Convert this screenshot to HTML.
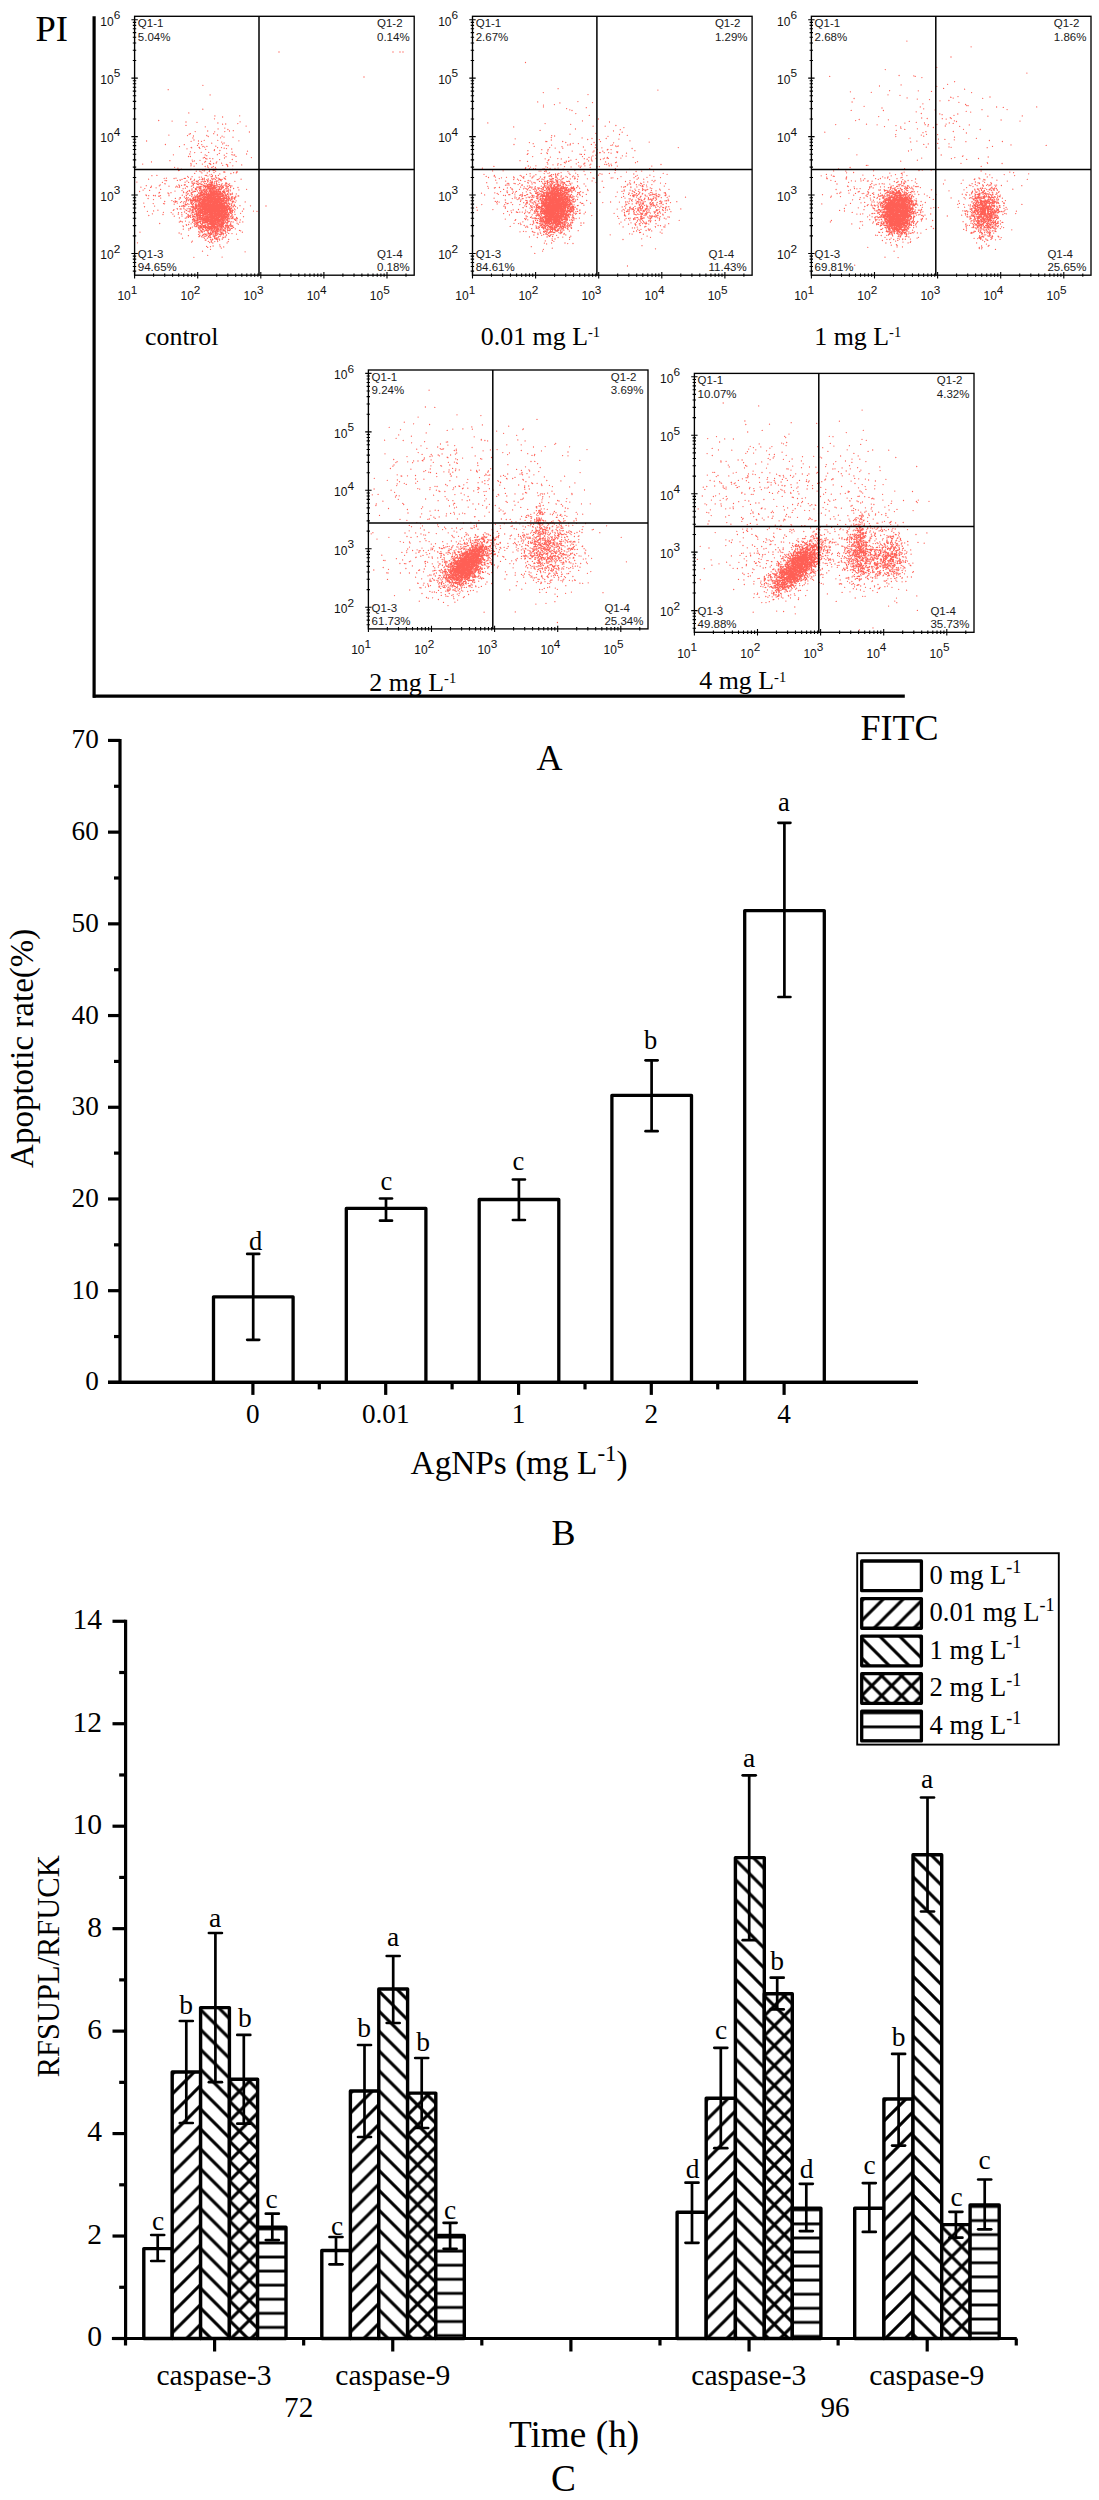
<!DOCTYPE html>
<html><head><meta charset="utf-8"><title>Figure</title>
<style>
html,body{margin:0;padding:0;background:#fff;}
body{width:1099px;height:2500px;overflow:hidden;font-family:"Liberation Serif",serif;}
svg{display:block;}
.se{font-family:"Liberation Serif",serif;}
.sa{font-family:"Liberation Sans",sans-serif;}
</style></head><body>
<svg width="1099" height="2500" viewBox="0 0 1099 2500">
<rect width="1099" height="2500" fill="#fff"/>
<g>
<path d="M279 52h0m114 0h0m7 0h0m3 0h0m-39 25h0m-161.1 8.3h0m-34.7 4.4h0m41.9 5.2h0m-7.3 14.3h0m-14 3.7h0m26.1 3h0m24.8-.1h0m-17.1 1.2h0m-8.1 1.8h0m-55.8 1.7h0m13.4 .6h0m68 .7h0m-54.1 .2h0m11 .3h0m20.9 .7h0m7.8 1h0m12.1-.4h0m-15.2 .6h0m-36.6 1.2h0m19.3 1.4h0m40.8-.7h0m-28 2.8h0m6.7-.8h0m3.1 1.4h0m-20.2 1.5h0m25.6-.3h0m-38.1 .9h0m19.5 .2h0m10.1-.2h0m4.7-.6h0m19.9 1h0m-59 1.7h0m23.3 0h0m-24.5 .5h0m28.2 .8h0m-48.5 .1h0m18.6 .5h0m19.3-.1h0m-13.3 .5h0m14.7 .5h0m13.9-.3h0m-29.2 1.7h0m27.7-.1h0m3.4-.7h0m9 .1h0m-86.4 3.8h0m47.4-1h0m4.5 1h0m5.7-.7h0m13.6 0h0m21.1 .5h0m-47.8 .5h0m10.4 0h0m20.2 .8h0m2.4 .9h0m-25.6 .7h0m13.2-.5h0m10.9 .7h0m-57.2 .6h0m18.9 .2h0m17.5 0h0m-4.3 .7h0m28.7-.1h0m2 .4h0m-48.7 .9h0m23.3 0h0m.4-.3h0m3.7 .1h0m8.9-.2h0m-24.6 1.2h0m.5 .4h0m7.3-.5h0m.3 0h0m5.4-.2h0m12.9 .6h0m3.9-.1h0m-34.5 1.2h0m12.8-.5h0m24.4-.1h0m2.3 .4h0m-20.8 .7h0m8.8 .4h0m17.2-.7h0m-17.4 1.5h0m5.6 0h0m-29.5 1.3h0m57.1-.6h0m-52.8 1.4h0m6.5-.3h0m7.5 .1h0m23.5-.2h0m-42.4 1.8h0m29.5-.6h0m7.5-.1h0m19.8 .7h0m-73.2 .8h0m31.8 .1h0m12.2-.2h0m14.5-.1h0m-25.1 1.1h0m17.5-.5h0m8.8-.1h0m1.5-.1h0m-46.1 1.5h0m1.9 0h0m35.6 .2h0m10-.3h0m-32.7 1.5h0m1.2-.5h0m46.9 .2h0m-45.7 .9h0m4.2-.1h0m2.9 .3h0m11.7-.7h0m-17.6 1h0m12.7 .6h0m12.7-.1h0m-62.4 1.2h0m22.3-.6h0m2.2 .8h0m5.6-.6h0m-48.5 1.6h0m41.3-.3h0m12.8-.3h0m4.9-.1h0m6.3 .6h0m19.4-.2h0m-31.5 .6h0m25.4 .4h0m-39.2 .9h0m5.5 .1h0m12.9-.1h0m.8 .1h0m3.5-.1h0m2.6-.5h0m5.4 .2h0m-78.9 .9h0m48.5 .7h0m11.2-.7h0m8.3 .3h0m15.7 .1h0m1.2 .5h0m14.1-.1h0m-50.8 .9h0m16.7 .2h0m15.1-.7h0m4.8 .5h0m5.3 0h0m-38.7 .4h0m11.1 .3h0m8.1 0h0m14.5 .1h0m-53.2 .7h0m33.5 .1h0m3.7 0h0m.2 .1h0m3.4 0h0m-37.5 .7h0m38.1 .8h0m-34.7 .2h0m9.6 .3h0m14.6 0h0m3.5-.4h0m5 0h0m18.5 .4h0m-54 1.1h0m.7-.3h0m23.3-.2h0m1.6 .2h0m.1 .6h0m5.4-.7h0m3.5 .4h0m1.1-.2h0m-17.9 .8h0m3.4-.1h0m1.2 .7h0m8.4-.3h0m6.3-.3h0m9.1 .8h0m12.3-.6h0m-35.1 1.5h0m5.4 0h0m6.7-.4h0m9.8-.5h0m1 .2h0m8.8 .5h0m2.7 .2h0m.6-.5h0m-42.2 1h0m25.1 .5h0m11.1-.4h0m-21 1.3h0m1.8-.5h0m-59.8 1.4h0m5-.3h0m48.3-.1h0m1.2 .2h0m6.1 .2h0m3.1-.1h0m2.8-.2h0m-30.8 .9h0m4.5 .4h0m15.8-.6h0m3.2 .6h0m1.1-.2h0m3.5 .5h0m10-.4h0m-37.3 .7h0m10.8-.1h0m2.2-.1h0m22.7 .8h0m-59.9 .4h0m2.2-.1h0m7.7 .3h0m1.9-.3h0m8.2 .2h0m1.1 0h0m5.6-.1h0m11.8 .1h0m1.7-.3h0m0 .2h0m7.4 .2h0m2.3 0h0m2.5-.5h0m1.6 .1h0m1.1 .6h0m5.3 0h0m.4 0h0m-76.4 .5h0m31.4 .7h0m2-.5h0m8.7 .1h0m3.8-.2h0m5.3 0h0m2.2 .1h0m.7 0h0m1.6 .3h0m2.5 0h0m1.4-.6h0m0-.1h0m.3 .1h0m3.7 .8h0m.9-.8h0m2.2 .4h0m3.5 .5h0m1-.7h0m.6 .3h0m.5-.1h0m1.3-.2h0m3.4-.1h0m15.5 0h0m-76 1.3h0m1.5 .2h0m10.8-.3h0m3-.2h0m6.6 .8h0m7.1-.5h0m4.2 .2h0m9.2-.1h0m.7 .4h0m2.1-.6h0m6.9 .5h0m3.6-.4h0m.6 .3h0m-29.3 .7h0m4.2 .2h0m.5-.5h0m.9 .1h0m3.5 .7h0m1.1-.8h0m2.1-.1h0m1.1 .4h0m2.3 .2h0m3.1 .1h0m.4 0h0m1.1 .1h0m0-.3h0m2.7-.3h0m1.6-.3h0m0 .5h0m0 0h0m18.2-.2h0m-98 .8h0m25.5 .2h0m22.7-.1h0m3.5 .2h0m3.4-.2h0m6 .5h0m5.7-.7h0m4 0h0m2.4 .7h0m.1-.6h0m1.2 .5h0m1.2 .1h0m1.9-.6h0m1.9 .7h0m2.5-.6h0m7.1 .5h0m-61.1 1h0m.3 .1h0m27-.3h0m1.8-.5h0m.8 .3h0m1.9 .4h0m2.3 .1h0m1.1-.3h0m4.6-.1h0m1.7 .3h0m2.6 .2h0m2.1-.3h0m.7 .4h0m.1-.6h0m2.4 .3h0m2.1-.5h0m.2 .3h0m5.5 .1h0m3.6-.2h0m.3 .4h0m.9-.5h0m2.7 .5h0m-69.4 1.1h0m18.6 0h0m5.9-.2h0m.6 .1h0m8.1-.7h0m0 .6h0m4.2-.3h0m.9 .3h0m2.6-.3h0m.8-.2h0m.1 .6h0m.3 0h0m4.9 .1h0m.3-.3h0m.4 .4h0m.8-.4h0m1-.1h0m.8-.1h0m.9-.1h0m.6-.3h0m.4 .6h0m1.6 .4h0m2.4-.2h0m2.6-.4h0m.7 .2h0m2-.3h0m4.2 0h0m2.4 .1h0m-82 1.3h0m13 .1h0m20.2 0h0m2.1-.5h0m2.7-.3h0m8.6 .7h0m10.8-.5h0m0 .2h0m1.3-.2h0m.3 .6h0m1.7 .2h0m.6-.4h0m.3-.2h0m1.5-.3h0m1.2 .6h0m.1-.5h0m.2 .4h0m.9-.1h0m0 .2h0m.6 0h0m1 0h0m1-.2h0m.3 .4h0m1.1-.6h0m.1 .7h0m.2 0h0m1.3-1h0m3.4 .9h0m.9-.3h0m.1-.3h0m1.5 .6h0m1.5-.8h0m1.8 .7h0m.3 .1h0m2.6-.5h0m2.4 .5h0m-80.4 .2h0m17.5 .1h0m7.5-.1h0m1.1 .8h0m2 0h0m7.1-.6h0m.8 .5h0m3.9-.6h0m8.6 .2h0m.1 .3h0m.8-.2h0m.4 .2h0m1.8-.4h0m1.5 .1h0m.3-.2h0m.2 .5h0m1.2-.2h0m.9 .3h0m.8-.7h0m.4 .7h0m.5-.4h0m.4 .1h0m.4 .4h0m.5-.5h0m.7-.3h0m.7 .2h0m1.6 .6h0m.5-.4h0m.7 0h0m0 .4h0m0 0h0m3.3-.1h0m.3-.3h0m1.2 0h0m1.5 .2h0m1.6 .1h0m.6-.4h0m2.9-.4h0m1.6 .8h0m1.1-.5h0m2.1-.3h0m-89.7 1.2h0m9.7 .2h0m.4-.2h0m5.1 .6h0m19.6-.7h0m3.5 .2h0m14.4 0h0m3.4-.3h0m.9 .1h0m.9-.1h0m1 .6h0m1-.5h0m2.6 .7h0m2-.1h0m.7-.6h0m1.5 .8h0m.2-.1h0m.3-.1h0m.7-.5h0m.6 .1h0m1.3 .6h0m.3-.5h0m.2-.3h0m0 .1h0m1.6 .2h0m.2 .3h0m.6 .2h0m.2-.3h0m.5 .4h0m1.4-.5h0m.7-.2h0m2.9 .3h0m2.1 .3h0m.3 0h0m1.7-.4h0m3.5-.3h0m3.7 .3h0m7.4 0h0m-93.2 1.1h0m38.3 .1h0m2.3-.5h0m10 .5h0m.8-.5h0m.4 0h0m2.4 .8h0m.6-.7h0m.9 .4h0m.5-.4h0m4 .6h0m2.9-.5h0m.4-.1h0m.2 .1h0m.4 0h0m.3-.2h0m.6 .2h0m.3 .4h0m.3 .1h0m.4-.7h0m.6 .4h0m.8-.6h0m.4 0h0m.4 .9h0m.3-.1h0m1.6-.6h0m.4 0h0m.2 0h0m.2 .8h0m3.2-.9h0m.5 .8h0m.4-.9h0m1.9 .5h0m.6-.4h0m3.5 .4h0m.4-.1h0m1.7-.2h0m5.7 .3h0m-73 .9h0m31.4-.4h0m3.5 .6h0m1.1 .1h0m4.3-.2h0m2.2 .2h0m0 0h0m.6 .2h0m.9-.4h0m.1-.4h0m1.6 .6h0m.2-.5h0m.6 .3h0m1.4-.5h0m1.1 .7h0m1 .2h0m.2-.3h0m1.5 0h0m.2-.6h0m.4 .4h0m1.5-.2h0m0 0h0m1.6-.1h0m.3 .9h0m.4-.7h0m.7-.1h0m0-.1h0m.8 .4h0m.9 0h0m1.1-.4h0m.5 .7h0m.6-.2h0m3.1 .2h0m1.8 .2h0m2.1-.9h0m1.8 .7h0m8.8 .1h0m7.7-.6h0m-103.5 .8h0m6.5 .3h0m32.4 .2h0m7 .2h0m.4-.4h0m2.5-.2h0m7.7 .7h0m.1-.4h0m1.3 .5h0m.2-.6h0m.1-.3h0m1.5 .6h0m.5-.3h0m1.8 .6h0m1-.7h0m.5 .1h0m2.6-.1h0m.2 .1h0m.2-.2h0m.7 0h0m.1 .1h0m.3 .3h0m.6-.4h0m1.1-.1h0m.2 .2h0m.6-.1h0m1.2 .5h0m1.1 .1h0m.8-.5h0m1.6 .4h0m.4-.2h0m.2-.2h0m.1-.1h0m5.3 0h0m3.9 .3h0m.5-.1h0m2.1 .4h0m-90.8 .7h0m35.4-.4h0m12.4 .4h0m2.3-.3h0m3.4 .8h0m.9-.8h0m.5 .3h0m1-.1h0m1.9-.4h0m4.2 .1h0m.3 .2h0m.1 .3h0m2.2-.1h0m.4-.3h0m.4 .4h0m.3-.5h0m.5 .8h0m.9-.1h0m.2-.2h0m.9-.5h0m1.4 .6h0m.3-.1h0m.7 .2h0m.1-.6h0m.9 .5h0m.2-.3h0m.8 .4h0m.1-.5h0m.1 0h0m.9-.1h0m.4 .5h0m.2-.4h0m.2-.2h0m0 .5h0m.8 .1h0m1.3-.3h0m.5 .5h0m.4-.7h0m1 .6h0m.2 0h0m.4 .1h0m.4-.8h0m.1 .9h0m.5-.5h0m.7-.1h0m2.1 .1h0m1-.3h0m.5 .6h0m.8-.5h0m2 .1h0m1.4 .1h0m-69.2 1.5h0m.6-.6h0m11.4 .3h0m12.5-.7h0m.2 .5h0m2.5 .4h0m.3 0h0m.2-.1h0m4.5 .1h0m.1-.3h0m1.2-.4h0m5.9 .8h0m1.7 0h0m.8-.5h0m.3 .2h0m.1-.4h0m.3 .6h0m.5-.3h0m.5-.4h0m2.7 0h0m.8 .7h0m0-.1h0m.6 .1h0m1.6-.1h0m.5 0h0m1.5 .1h0m.7-.6h0m.4 .3h0m.2-.2h0m1.1 .1h0m0 0h0m0 .2h0m.8-.3h0m.8-.1h0m.2 .6h0m1 0h0m.5-.7h0m.4 .1h0m.3 .7h0m.6-.3h0m1.9 .3h0m0-.6h0m.1 .4h0m1.2-.1h0m.2 .1h0m.3-.3h0m2.1 0h0m.2 0h0m.3-.1h0m.8-.1h0m.6 .6h0m0-.6h0m3.7-.1h0m-60.7 .8h0m.9 .9h0m19.3-.3h0m10.7-.6h0m.2 .2h0m1.8 .6h0m2-.7h0m.8 .1h0m.1 .4h0m.1-.5h0m.5 0h0m.1 .6h0m.3-.2h0m1.7 0h0m.2 .4h0m.1-.1h0m1.3 0h0m.1-.4h0m.4-.3h0m.6 .8h0m1.2 0h0m.2-.2h0m.1-.7h0m.6 .6h0m0 .3h0m.7-.6h0m.2-.3h0m.6 1h0m.1 0h0m.4-.3h0m.3-.4h0m.4 .5h0m.7-.5h0m0 .1h0m.3 .5h0m.3-.4h0m.2 0h0m.4 .2h0m.5-.1h0m.3 .2h0m0 .1h0m.4-.5h0m.4-.2h0m.1 .4h0m.4 .1h0m.2-.2h0m1.7 0h0m.1 .4h0m1.5-.1h0m.6-.3h0m.1 .1h0m.5-.2h0m2-.2h0m.4 .7h0m2.8-.4h0m2.2 .2h0m2.3-.6h0m3.9 .8h0m-90.3 1h0m41.6-.7h0m3.8-.2h0m.9 .3h0m5 .4h0m.3 0h0m2.5-.3h0m1.5-.1h0m.3 .3h0m.3 .1h0m.1-.1h0m.6-.3h0m.7-.2h0m.3 .3h0m.1 0h0m.1 .3h0m.7-.2h0m1.1-.2h0m0 .2h0m.5 .5h0m.1-.8h0m1 .1h0m.4 .4h0m.2-.4h0m.4-.1h0m.4 .2h0m.2 .4h0m.8 .2h0m.1-.4h0m.8 .3h0m.1-.7h0m0 .5h0m.2 .2h0m0 0h0m.3-.7h0m.8 .5h0m0-.6h0m.6 .8h0m.5-.7h0m.2 .1h0m.4-.1h0m.1 .4h0m.8-.1h0m.9 .2h0m0-.1h0m.1-.1h0m.8 .3h0m.1-.3h0m.1 .1h0m.6-.3h0m.3 .3h0m.1 0h0m.8-.3h0m.7 0h0m.5 0h0m1.1 .5h0m0-.7h0m1 .1h0m1.1 .1h0m.4 .7h0m.1-.1h0m1.6-.7h0m.5 .5h0m1.6-.6h0m.3 .3h0m2.7 .5h0m.2-.4h0m.9-.4h0m1.2 0h0m-86.1 1.4h0m2.3 .2h0m4.8-.2h0m1.7-.1h0m.1 .4h0m5.2-.2h0m8.5 .1h0m13.3-.5h0m3.8-.1h0m.3 .4h0m3.4-.1h0m2.4-.3h0m2.6 .1h0m1.8 .7h0m2.9-.4h0m.2-.2h0m.2-.1h0m.4 .5h0m.5-.3h0m.1 .3h0m.7-.6h0m.4 .2h0m.3-.1h0m.2-.2h0m.2 .3h0m1.4 .5h0m0-.6h0m.1 .1h0m2.8 .2h0m1.3-.3h0m.3 .8h0m.1-.6h0m.8-.3h0m.1 .2h0m.3 .2h0m.1 0h0m.1 .4h0m.5-.6h0m.7 .4h0m.1-.6h0m.1 0h0m.8 .5h0m.5 .4h0m0-.9h0m.4 .3h0m.3 .3h0m.2-.2h0m1.2 0h0m.2 .4h0m.4-.9h0m1.3 .6h0m.7-.5h0m.1 .7h0m.2-.8h0m1.1 .2h0m0 .4h0m.4-.1h0m1.3 .3h0m.1 .2h0m.1-.4h0m.2-.1h0m.1 .2h0m1.2-.4h0m.5 .4h0m.8-.7h0m0 .1h0m.1 .3h0m1.5 0h0m1.1-.2h0m.1 .3h0m.1 .2h0m1.8-.7h0m9.8 1h0m.6-.1h0m-80 .3h0m.7 0h0m32.4 .3h0m3 .5h0m.8-.4h0m1.2-.4h0m.3-.1h0m0 .2h0m.9-.2h0m.2-.1h0m0 .2h0m1 .8h0m.7-.8h0m1.3 .7h0m1.7-.5h0m.3 .6h0m.4-.8h0m.9 .7h0m.7-.8h0m.6 0h0m1 .6h0m.3-.2h0m.3-.4h0m1 .3h0m.1-.2h0m.4-.2h0m.8 .4h0m.2 .3h0m0 .1h0m.4-.2h0m.8-.4h0m.2 .4h0m.3-.2h0m1.3 .2h0m0 0h0m.1-.2h0m.9 .3h0m.6 .3h0m0 0h0m.2-.5h0m.6 .5h0m.8-.2h0m.1-.3h0m.1 0h0m1.1 .1h0m.3 0h0m0 .3h0m.8-.5h0m.7-.1h0m.4 .6h0m.4-.4h0m.5 .1h0m.5-.5h0m.1 .5h0m.3-.2h0m1.1 .1h0m.5-.4h0m0 0h0m.8-.1h0m.5 .9h0m.8 .1h0m.7-.1h0m1.1-.1h0m1.2-.2h0m0 .1h0m0-.3h0m3.8 .2h0m3.9 .3h0m0-.8h0m-55.8 1.6h0m.3-.1h0m.1 .4h0m4-1h0m2.2 .3h0m1.6 .4h0m5.4-.4h0m.1-.1h0m1.3 .1h0m.8 .4h0m.4 .1h0m1 0h0m.3-.7h0m1.2 .6h0m.2-.7h0m1.4 .1h0m2.3 .3h0m.1 .2h0m.4-.6h0m1.3 .7h0m.1 .3h0m.7-.1h0m.2-.9h0m.8 .7h0m0-.2h0m.2 0h0m1.1-.2h0m0-.1h0m.2 .6h0m.4-.2h0m0-.3h0m.2 .2h0m1 .2h0m.2 0h0m.5-.6h0m.2 .9h0m.3-.4h0m.5 .2h0m.2 .2h0m.1 0h0m.9-.3h0m.2-.3h0m.1 .4h0m1-.4h0m.2 .1h0m.1 .2h0m.6-.6h0m.2 .2h0m0 .4h0m1-.6h0m0 .8h0m.4-.4h0m0 0h0m1.2 .4h0m.6-.4h0m.1-.5h0m.6 .4h0m.1-.3h0m.2 .8h0m.8-.6h0m.2-.2h0m.1 0h0m.1 .6h0m.6-.4h0m.1-.3h0m2.5 .7h0m.6 .1h0m.5-.1h0m2.1 0h0m.1-.2h0m.1 .2h0m2-.4h0m0 .4h0m.1-.1h0m.4-.6h0m2.3 .6h0m1.4-.6h0m1.7 .9h0m.3-.6h0m.2 .7h0m-86.9 .5h0m12.6-.4h0m14.7 .3h0m10.1-.1h0m1.5 .1h0m3.1 .3h0m2.5-.5h0m.9-.2h0m2 .9h0m2.4-.2h0m.3-.6h0m1.1 .5h0m1.2 .4h0m0-.7h0m0 .6h0m.8 0h0m.4 0h0m.1-.8h0m.2 0h0m1.4 .1h0m.1 .3h0m.4 .1h0m.5-.1h0m.7-.4h0m.2 .1h0m1.3 0h0m.2 .6h0m0-.8h0m.8 .9h0m.1 0h0m.2-.2h0m.7 0h0m.2 .2h0m.2-.4h0m.5 .3h0m.1-.3h0m.3-.1h0m.6 .3h0m.3-.5h0m.2 .5h0m.7-.5h0m0 .2h0m.3-.3h0m.4 .9h0m.5-.7h0m.1-.1h0m.1 .7h0m.1-.5h0m.7 .4h0m.4-.3h0m.4-.3h0m.4 .5h0m.5-.6h0m.1 .1h0m.6 .7h0m.1 0h0m.4-.8h0m.4 .7h0m.2-.8h0m.5 .5h0m.5 .2h0m.1-.3h0m.4 .1h0m.2 .1h0m.3-.5h0m.4 .3h0m.4-.4h0m.1 .2h0m0 .4h0m.7 .1h0m.2 0h0m.5-.1h0m.4-.1h0m.5 .1h0m.4-.4h0m.3 .5h0m.6-.6h0m.3 .6h0m.5-.1h0m.2-.3h0m.6 .4h0m.8 .1h0m.3 0h0m1.3-.3h0m1.2 .5h0m.1 0h0m.7-.7h0m1.7 .3h0m1.3-.4h0m1.5 .4h0m-80.9 1h0m25.7-.5h0m7.3 .8h0m.3-.4h0m3 .1h0m.5 .4h0m1-.2h0m1.8-.6h0m.7 .7h0m.5-.8h0m.4 .1h0m0 .4h0m.4-.2h0m1.8 .4h0m.5-.4h0m.2 .4h0m1.4-.5h0m.5 .4h0m1.1 0h0m.2-.4h0m.7 .3h0m.7 .4h0m.2-.4h0m.6 0h0m.7-.3h0m.1-.1h0m.4 .8h0m.3-.2h0m.1-.8h0m.9 .3h0m.1 .6h0m.3-.3h0m.8 .3h0m.1-.3h0m.3-.2h0m.4 .5h0m.1 .1h0m.6-.7h0m.1 .4h0m.3-.6h0m.5-.1h0m.6 .1h0m.2 .4h0m.2-.4h0m.4 .6h0m.1-.6h0m.7 0h0m0 .6h0m.5-.2h0m.4 .2h0m.1 0h0m.1 .2h0m.8-.5h0m.2-.4h0m.2 .5h0m.8 0h0m.2 .2h0m.1-.1h0m.7-.3h0m.4-.3h0m.1 .5h0m.2 0h0m.1 0h0m.4-.1h0m.5 .3h0m.3-.2h0m1 .4h0m.1-.4h0m.2 .5h0m.4-.9h0m.2 .3h0m.3 .5h0m.7-.7h0m0 .6h0m1-.4h0m0 .2h0m1.3-.5h0m.9 .1h0m.1-.1h0m.5 .7h0m.1-.1h0m.2-.6h0m2.6 .2h0m1.8 .7h0m0-.6h0m1.6 .6h0m1.3-.6h0m.3-.2h0m2.7 .1h0m-62.8 1.3h0m3.3 .2h0m11.1 .2h0m2-.3h0m0-.7h0m2.1 .8h0m.3-.4h0m1 .2h0m0-.1h0m.6 .5h0m.3-.8h0m.2 .6h0m.7 0h0m.8-.3h0m.6 0h0m.5 .4h0m.5-.8h0m0 .6h0m.2-.6h0m1.2 .6h0m1.2 0h0m.3-.1h0m0-.2h0m.5 .2h0m.2 .4h0m.4-.5h0m.1-.5h0m.1 .2h0m.4-.1h0m2 .5h0m0-.3h0m.1 .2h0m.6-.3h0m.1 .7h0m.7-.8h0m.5 .3h0m0 .3h0m.7-.4h0m.2 .4h0m.3-.4h0m.7 .7h0m.2-.5h0m.3 .5h0m.3-.1h0m.2-.6h0m0 .5h0m1.1-.3h0m.2 .4h0m0 0h0m.9-.6h0m0 .5h0m.2-.5h0m.7-.2h0m.1 .6h0m.3 .1h0m.2-.3h0m.3 .1h0m.3 .1h0m.5 0h0m.1 .3h0m.7-.3h0m.2-.1h0m.6-.2h0m.1-.2h0m.1-.2h0m.3 .5h0m.2-.3h0m1-.1h0m.2 .2h0m0 .2h0m.4-.1h0m.2 .1h0m.4-.1h0m.3 .3h0m0 .1h0m.7-.1h0m.7 .2h0m.6-.7h0m.8 .1h0m.4-.1h0m0 0h0m.4 .6h0m.9-.7h0m0 .4h0m.3 .4h0m.8-.5h0m.4-.2h0m0 .6h0m0-.4h0m1.1 .1h0m.4 .3h0m1-.1h0m1.1-.5h0m1.2 0h0m.5-.1h0m.2 .3h0m.3 .2h0m2 .1h0m5.3 .1h0m-71.4 .7h0m9 .1h0m1.6-.3h0m.7 .5h0m.9-.5h0m4.7 .3h0m2.6 0h0m6.5-.3h0m1.4 .4h0m2.9-.6h0m.4 .6h0m.8 .2h0m.6-.6h0m.1-.1h0m1.4 .7h0m.8-.1h0m.3 .1h0m.2-.8h0m1.7 .1h0m.6 .6h0m.1-.3h0m.1 .4h0m.2-.3h0m.4 .1h0m.7 .2h0m.5-.5h0m.1 .3h0m.6 .2h0m.4-.6h0m0 .3h0m.4 .2h0m.2-.2h0m.4 .2h0m.2-.2h0m.8-.5h0m.2-.1h0m.6 .8h0m.2-.4h0m.1 .5h0m.6-.5h0m.2 0h0m.7 0h0m0 .5h0m.2-.7h0m.3 .6h0m.4-.2h0m.2 .2h0m.5-.5h0m.4 .2h0m.1 .1h0m.3-.3h0m.3 .2h0m.1-.4h0m.8 .7h0m.7-.7h0m.1 .3h0m.4 .3h0m0-.3h0m.3-.2h0m.5 .7h0m.2 0h0m.3-.9h0m.9 .5h0m.4 .2h0m0 .3h0m.3-.7h0m.1 .1h0m1.2 .4h0m0 0h0m.1-.5h0m.4 .2h0m.5 .5h0m.3-.5h0m.2 .5h0m.2-.7h0m.5-.1h0m.7 .4h0m.3 .4h0m0-.6h0m.5 .2h0m1 .1h0m.3-.3h0m.4-.2h0m1.9 .7h0m0-.5h0m.3-.1h0m.5-.2h0m0 .1h0m1.4 .1h0m4.1 .1h0m.6-.3h0m.6 .2h0m.4 0h0m11.4 .6h0m-70.2 .4h0m5.5 0h0m3 .6h0m2.3-.7h0m5 .7h0m.2-.6h0m.4 .6h0m.8-.2h0m2.6-.4h0m2.3-.3h0m2 .8h0m.5-.5h0m.3 .1h0m.2 .1h0m.3-.3h0m.2 .5h0m.8 0h0m.9-.3h0m.1 .1h0m.3-.3h0m.4 0h0m0 .7h0m.6-.3h0m.8-.6h0m0 1h0m.2-.7h0m.4-.2h0m.2 0h0m.6 .7h0m.8 .2h0m.1-.2h0m.2-.2h0m.8 0h0m.1 .1h0m.7-.4h0m.3 0h0m0 .2h0m.4-.1h0m.1 0h0m1-.1h0m.1-.1h0m.2 .8h0m.8-1h0m0 .9h0m.1-.2h0m1 .3h0m.2-.9h0m.1 .5h0m.5 0h0m.2 .1h0m0-.5h0m.5 .5h0m.5 0h0m0-.6h0m.6 .6h0m.5-.3h0m.6 .2h0m.3-.1h0m.3-.2h0m.1-.1h0m0 .3h0m.8 .3h0m.3-.3h0m.3-.3h0m.5-.1h0m.2 .1h0m.5-.1h0m0 .4h0m.6 .4h0m.2-.5h0m.3 .3h0m.6-.1h0m0-.3h0m.2 .5h0m.5-.3h0m0 0h0m2 .4h0m.5-.1h0m.1-.1h0m.7-.6h0m.3 .8h0m.5-.3h0m.3 0h0m2 .3h0m3.9-.8h0m.6 .5h0m2.3-.3h0m-91.4 .8h0m9.4 .5h0m10.3 0h0m1.1 .2h0m12.7-.7h0m10.4 .6h0m3.4-.2h0m2.4-.1h0m2 .4h0m2.7 .1h0m.7-.4h0m.4 .5h0m.9-.1h0m.7-.8h0m.3 .4h0m.2-.5h0m.3 .5h0m.4 0h0m.5 .3h0m.4-.2h0m.5 .3h0m.3-.6h0m.1 .6h0m.4 0h0m.3-.6h0m.2 .2h0m.6 .1h0m.1-.3h0m.3 .1h0m.3 .1h0m.2 0h0m.5 .2h0m.4-.4h0m.2 .6h0m.5-.3h0m.4-.2h0m.2 .5h0m.4-.3h0m.3 .2h0m.4-.1h0m.3 .2h0m.7-.8h0m0 0h0m0 .1h0m1 0h0m.2 .1h0m.1 .3h0m.2-.3h0m.1-.1h0m.6 .1h0m.4 .4h0m.5-.7h0m.4 .7h0m.3-.2h0m.1-.2h0m.6-.2h0m.1 .7h0m.4-.7h0m.7 .6h0m.2-.4h0m.1 .6h0m.7 0h0m.2-.7h0m.3 .8h0m1.3-.8h0m.1 .5h0m.5-.1h0m.8 0h0m.3-.6h0m.3 .6h0m.2 .3h0m.2-.6h0m.6 0h0m0 .1h0m.8 .2h0m.2-.2h0m.3 .1h0m.4 .4h0m.3-.7h0m.5 .1h0m.8-.2h0m.1 .1h0m.5 .2h0m.3-.3h0m.3 .3h0m.6-.3h0m1.5 .3h0m.3-.3h0m1 .7h0m1.8-.1h0m-57.6 .5h0m11 .6h0m.1-.8h0m.7 .5h0m.9 .3h0m2.1-.5h0m2.7-.2h0m.2-.1h0m.4 .5h0m.7 .2h0m.1 .1h0m2.1-.2h0m.7 .3h0m.4-.9h0m2.3 .5h0m.3 .2h0m.1-.5h0m.2-.1h0m.3 .8h0m.6-.2h0m1.5-.2h0m0-.4h0m.1 .3h0m.5 .3h0m.6-.2h0m.1 .1h0m1-.4h0m.4 .4h0m0 .2h0m.6-.1h0m.1-.5h0m.5 0h0m.4 .5h0m.3-.2h0m.2 .1h0m.5-.5h0m.3 .4h0m.3-.3h0m.1 .7h0m.5-.1h0m.1 0h0m.5-.1h0m.4-.6h0m.4 .8h0m.4 0h0m.3-.1h0m.3-.5h0m.2 .6h0m.7-.4h0m.3 0h0m.2 .1h0m.1 .1h0m.3-.1h0m.5-.1h0m.3-.3h0m.1 .5h0m.1 0h0m1-.6h0m0 .8h0m.7-.5h0m0-.2h0m0 .2h0m.1-.4h0m1.2 .2h0m.4 .2h0m.1 .1h0m.3 .4h0m.6-.7h0m.3 .7h0m.6-.7h0m.2 0h0m.1 0h0m.3 .6h0m.3-.8h0m.1 .8h0m.5-.2h0m.5 .3h0m0-.3h0m1.1 .4h0m0-.6h0m.1-.1h0m.2 .2h0m.3 .1h0m.3 0h0m2.1 0h0m2.1-.5h0m.1 .7h0m.6 0h0m1.7-.7h0m.5 .4h0m1.8 .4h0m2.7-.6h0m-51.4 1.7h0m.7-.6h0m9.2 .4h0m2.7-.2h0m.1-.1h0m.6-.1h0m.4 0h0m.4 .5h0m.8-.7h0m1.3 .8h0m.1-.5h0m.2 .1h0m.7 .3h0m.9-.5h0m.2 0h0m1.1-.1h0m.4 .3h0m.4-.5h0m.7 0h0m.3 .2h0m.2 0h0m.4 .3h0m.8 .2h0m0 .2h0m.4-.5h0m.8-.4h0m0 .6h0m.8 .1h0m.1-.6h0m.5-.1h0m.1 .5h0m.3-.5h0m.2 .2h0m.7 .2h0m.2 .1h0m.5-.6h0m0 .2h0m.5 .4h0m.3 0h0m.4 .1h0m.3 .2h0m.4 0h0m.4 .1h0m.1-.2h0m.4-.6h0m.7 .5h0m.2-.1h0m.2-.6h0m.7 .6h0m.3-.2h0m0 .1h0m.4 0h0m.3-.3h0m.3 .4h0m.3 0h0m.4-.6h0m.4 .3h0m.6 .1h0m0 .3h0m.1-.6h0m.5 .2h0m.3-.2h0m.5 .6h0m.1-.7h0m.3 .4h0m.5-.3h0m.3 .8h0m.1-.7h0m.5 .6h0m.7 .1h0m.5-.1h0m.1-.2h0m.4-.2h0m.3 .1h0m.3-.2h0m.3 .6h0m.1-.7h0m.8-.1h0m.3-.1h0m.3 .2h0m.5 .8h0m1.9-.6h0m.1 0h0m.3 .4h0m.8-.5h0m3 .2h0m.5 .5h0m1.8-.1h0m.8-.5h0m5.4 .3h0m10.5 .1h0m-106 .9h0m.1 .1h0m10-.7h0m25 .3h0m1.9-.2h0m2.3 .7h0m.4-.8h0m.7 .1h0m3.9 .4h0m2.2 .1h0m.7 0h0m1.2 .2h0m.2-.4h0m.5 .1h0m1.5 .4h0m0-.3h0m.7-.3h0m.8 .5h0m.4-.4h0m1.3-.1h0m.5-.3h0m.9 .5h0m0 0h0m0-.3h0m.5-.2h0m.7 .7h0m.5-.3h0m.3-.4h0m0 .7h0m.5 0h0m.6-.6h0m.2-.1h0m.4 .6h0m.3-.4h0m.5 .2h0m.3 .1h0m.2-.1h0m.6 .1h0m.1-.3h0m.2 .2h0m.8-.3h0m.2 .7h0m.3-.5h0m.3 .6h0m.1-.3h0m.2 .1h0m.7-.7h0m.2 .7h0m.2 .1h0m.4-.5h0m.2 .2h0m.2-.1h0m1 .4h0m0-.9h0m.5 .6h0m.8 0h0m0-.4h0m.1-.1h0m.4 .4h0m.5 .5h0m.3-.9h0m.3 0h0m.3 .6h0m.3-.6h0m.2 .7h0m.1 0h0m.6-.4h0m.4 .5h0m.2-.7h0m.4 .2h0m.4 0h0m.3 .3h0m.4-.3h0m.7-.2h0m.3 .1h0m.2 .6h0m.4-.2h0m.2 .3h0m.5-.1h0m.5-.6h0m0 .3h0m.6-.4h0m.4 .3h0m.1-.1h0m.3 .3h0m.3-.1h0m.5-.3h0m.1-.1h0m.2 .6h0m.1 .1h0m1-.4h0m.7 .1h0m.3-.5h0m.3 .3h0m.4 .5h0m.8-.4h0m.5-.5h0m.1 .8h0m1.2 .1h0m0-.3h0m.4-.2h0m.2 .2h0m.3 0h0m.8 .3h0m.3-.1h0m.7 0h0m2.9 .1h0m2.4-.3h0m30.4-.6h0m-73.8 1.7h0m1.5-.3h0m1.4-.2h0m1.3 .2h0m.5 .2h0m.2-.2h0m1.5 .5h0m.7-.3h0m.3 0h0m1 0h0m1.4 .2h0m.2-.4h0m.2 .3h0m.6 .1h0m.3-.8h0m.3 .1h0m.5 .4h0m.4 .2h0m.6-.3h0m.4 .6h0m.4-.1h0m.7-.8h0m.2 .2h0m.1 .2h0m.6-.5h0m.2 .2h0m.2-.1h0m.3 .7h0m.5 .1h0m.2 0h0m.6 .1h0m0-.8h0m.2 .1h0m.4 0h0m.3 0h0m.1 .1h0m.6 .5h0m.6-.8h0m.1 0h0m.2 .8h0m.3-.3h0m.3-.3h0m.5 .4h0m.1 .3h0m.6-.1h0m.2-.6h0m0-.3h0m.4 .6h0m1 .3h0m0-.3h0m.4 .4h0m.3-.8h0m.8 .1h0m0 .7h0m.2-.1h0m0-.4h0m.9-.2h0m.1 .1h0m.3 .6h0m.4-.6h0m.6 .1h0m.4 0h0m0 .1h0m.4-.4h0m.2 .5h0m.2 .1h0m.5-.7h0m.2 .7h0m.7 .2h0m.2-.4h0m.2-.6h0m.4 .7h0m.3-.3h0m0 .4h0m.3-.6h0m.7 .6h0m.1-.6h0m.8 .7h0m.9-.1h0m0 .1h0m.2-.7h0m.3 .2h0m0-.4h0m.8 .6h0m.1-.2h0m1.2-.4h0m.4 .1h0m.5 .5h0m-52.3 1h0m3.1 .3h0m3.7-.2h0m3.3 .1h0m1.8-.1h0m1.1 .3h0m3.2-.8h0m1 .6h0m.2-.3h0m.9 .1h0m.1-.5h0m.9 .2h0m.2 .1h0m.4 .4h0m.5 0h0m.9-.1h0m.1-.6h0m.1 .4h0m1-.4h0m0 .2h0m.1 .7h0m.8-.9h0m1.2 .8h0m.5-.4h0m1.2-.3h0m.1 .2h0m.2 .4h0m.6-.5h0m.6-.1h0m.4 .5h0m.4 0h0m0-.6h0m.6 .7h0m.2 .1h0m.2-.5h0m.5-.1h0m.5 0h0m.1 .4h0m.8 0h0m.2-.1h0m.2 .3h0m.4-.2h0m.3-.3h0m.4-.1h0m.2 .2h0m.1-.3h0m1 .6h0m.1-.3h0m.1 .5h0m.6-.5h0m.4 .4h0m.2-.4h0m.5 .3h0m.3 0h0m.2-.5h0m.4 .6h0m.6-.2h0m.1 0h0m.8 0h0m.1-.3h0m.2 .1h0m.6 .2h0m.2-.5h0m0-.1h0m.4 .6h0m.5-.4h0m.3 0h0m0 .1h0m.2 .4h0m.2-.1h0m.9-.6h0m.2-.1h0m.3 .3h0m.3 .3h0m.6-.6h0m.1 0h0m.3 .3h0m.2 .7h0m.1-.8h0m.6-.1h0m.8 .2h0m.1 .2h0m.4-.5h0m.1 .3h0m.7-.1h0m0 .1h0m.1 .7h0m.8-.1h0m.4 0h0m.1-.4h0m1-.2h0m.9 .7h0m1.2-.1h0m0-.3h0m.6-.1h0m.4 .1h0m.6-.3h0m.3 .3h0m.1 0h0m.8 .1h0m.3-.7h0m2.7 .8h0m3.1-.8h0m6.2 1h0m-69.8 .7h0m3.6-.7h0m3.6 0h0m4.1 .8h0m5.2-.8h0m1.8 .3h0m.8 .4h0m.4 .2h0m1.5-.6h0m.6 .3h0m2.1 .1h0m.2-.2h0m.2 .2h0m.5-.7h0m1.8 1h0m0-.5h0m.3 .2h0m.4-.4h0m1 .5h0m0-.7h0m.1 .3h0m.6 .2h0m.5-.4h0m.5 .1h0m.2 .5h0m.6-.1h0m.1-.4h0m.2 .3h0m.3 .3h0m.7-.8h0m.2 .4h0m.9 0h0m.5 .2h0m0-.5h0m.5 0h0m.3 0h0m.6 .3h0m.2-.1h0m.2-.2h0m0 .6h0m.6-.1h0m.2 .1h0m.4-.6h0m.1 .1h0m.5 .7h0m.2-.5h0m.6 .5h0m.5-.4h0m.3-.4h0m.3 .5h0m.3-.3h0m.4-.3h0m.2 .8h0m.2-.4h0m.2 0h0m.5 .1h0m.6 .2h0m.6-.3h0m.1 .1h0m0-.6h0m.5 .4h0m.2 .1h0m1 0h0m.1-.2h0m0 .5h0m.5 .2h0m.3-.4h0m0-.5h0m.6 .5h0m.1-.1h0m.3 .5h0m.5-.4h0m.8 .2h0m.5-.3h0m.1-.3h0m.5 0h0m.3 0h0m.2 .3h0m1.3 .2h0m0-.4h0m.1-.3h0m.3 .2h0m.2 .7h0m.6-.8h0m.6 .2h0m.6 .1h0m.3-.1h0m.2 .3h0m.6-.3h0m.5 .3h0m.1-.2h0m1-.2h0m.8 .5h0m.9 .2h0m4.5-.1h0m-81.5 1.1h0m4.3-.7h0m15.4 .1h0m13.3 .1h0m3.4 .5h0m.1-.8h0m1.7 .6h0m.8 0h0m.2 0h0m2.4-.6h0m.8 .7h0m.8 .1h0m.3-.2h0m1.7-.6h0m1 .4h0m.3 0h0m1 .3h0m.1-.5h0m.8 .2h0m.1 .4h0m.2 0h0m.1 0h0m.6-.7h0m1 0h0m.4-.2h0m.2 .8h0m.6-.2h0m.2 .1h0m.3-.4h0m.6 0h0m.5-.2h0m0 .7h0m.3-.7h0m.2 0h0m.1 .4h0m.8-.5h0m.1 .7h0m.4-.1h0m.3 .3h0m.2-.6h0m.4 .2h0m.8-.1h0m.1 .6h0m.1-.1h0m.4-.1h0m.2-.5h0m.4-.2h0m.7 .1h0m.3-.2h0m.3 .8h0m.2-.8h0m0 .7h0m.9-.5h0m.2 .7h0m.5-.5h0m.1 .2h0m.8-.2h0m.1-.3h0m.3 .3h0m.2 .4h0m.6-.3h0m0-.4h0m.7 .5h0m.3 .3h0m.2-.9h0m.2 .4h0m.3 .5h0m.2-.4h0m.7 .2h0m.2-.7h0m.1 .5h0m.5 .4h0m.2-.6h0m0 .3h0m1.1 .4h0m0-.2h0m.5-.1h0m.6-.1h0m.2-.3h0m.1 .2h0m.7 .1h0m.3-.1h0m.5 0h0m.8 .1h0m.3 0h0m.8 0h0m.3-.5h0m.2 .2h0m.7 0h0m2-.3h0m.1 .2h0m.5 .3h0m1.2 .4h0m1-.9h0m.8 .4h0m-85.7 .9h0m37.1 .5h0m3.7-.5h0m1.3 .5h0m3 0h0m.7 .1h0m2.1-.3h0m1-.6h0m.3 .7h0m1.7-.3h0m.1-.1h0m.4 .3h0m.3-.3h0m1.4 .2h0m.1-.3h0m1.2 .1h0m.6 .3h0m.2 .2h0m.9-.2h0m.1 .1h0m.2-.1h0m.3-.1h0m.2 .5h0m.9-.7h0m.3 .6h0m.2-.4h0m.7 .3h0m0 .2h0m.6-.4h0m.3 .4h0m.1 0h0m.6-.9h0m.6 .4h0m.2-.3h0m.1 .2h0m.4 .3h0m.2-.6h0m.1 .5h0m.9 .3h0m0-.7h0m.3-.2h0m.4 .8h0m.4-.6h0m.3 .2h0m.5-.3h0m.4 .3h0m.1 .3h0m.2 .2h0m.2 .1h0m.1-.4h0m1.1-.1h0m.3 .1h0m.1-.2h0m.1-.2h0m.7 .1h0m.1 .5h0m.7-.3h0m.4 0h0m.4 0h0m.5 .1h0m.2-.3h0m.4 0h0m.1 .1h0m.3-.2h0m.2 .5h0m.1-.7h0m.6 .7h0m1 .2h0m.3-.6h0m.2 .4h0m.7-.7h0m.3 0h0m.6 .3h0m.5-.1h0m0-.1h0m.1 .6h0m1.1-.4h0m.1-.1h0m.6 .4h0m1 .3h0m1.2-.2h0m.1-.5h0m2.3-.1h0m.8 .3h0m.3 .1h0m1.3-.4h0m.1 .5h0m.1-.5h0m2.2 .8h0m7.8-.7h0m11.1-.1h0m3.5 .2h0m-93.6 1h0m7.8 .3h0m7.3 .1h0m3.2 0h0m3-.6h0m7.5 .5h0m.6-.2h0m1.3 .4h0m2.5-.7h0m.8 .7h0m1-.2h0m.1-.4h0m.3 .5h0m.3-.6h0m0 .1h0m.6 .1h0m.7 0h0m.7 .1h0m.7-.1h0m.8 .3h0m.4-.5h0m.6 0h0m.5 0h0m.2 .7h0m.6-.1h0m.1-.6h0m.1 .6h0m.5-.6h0m.7 .5h0m.2-.3h0m.1 .1h0m.7 .6h0m.2-.7h0m.4 .2h0m.1 .1h0m.1-.5h0m.6 .9h0m.7 0h0m.4-.2h0m.2 0h0m.2 0h0m.5-.2h0m.6-.4h0m.4 .5h0m.1-.7h0m.2 1h0m.4-.5h0m.4 .5h0m.4-.9h0m.4-.1h0m.1 0h0m.6 .8h0m.1-.3h0m.4 .3h0m.7-.4h0m.3-.2h0m.2 .3h0m0-.4h0m.5-.1h0m.3 .1h0m.7 .4h0m.1 .1h0m.3-.6h0m.3 .6h0m.6-.3h0m.2 .7h0m.1-.9h0m.6 .1h0m.2 .3h0m.1 .3h0m.6-.6h0m.2-.1h0m.8 .9h0m.1-.5h0m0 .2h0m.6-.6h0m.4 .1h0m.2 .4h0m.5 .4h0m.8-.6h0m0 .5h0m1.2-.2h0m.4-.4h0m.5 .4h0m1-.6h0m2 .5h0m.8-.5h0m.8 .3h0m1.6 .2h0m-80.1 1.2h0m33.9-.4h0m4.9-.3h0m4.8 .1h0m1.1 .1h0m1.6 .2h0m.5 .1h0m.4 .2h0m.8-.1h0m.1 .2h0m.7-.6h0m1.1 .3h0m.1-.4h0m.7 .4h0m.1 .3h0m.4 .1h0m.9-.7h0m.2 .7h0m.2-.5h0m.6-.4h0m.4 .9h0m.1 0h0m.5-.4h0m.1-.5h0m.2 0h0m.5 0h0m.1 .2h0m0 .1h0m1.6-.1h0m.1 .1h0m.7-.1h0m.1 .4h0m.5 .1h0m.4-.5h0m.1-.2h0m.6 .1h0m.3-.2h0m0 .8h0m.2 0h0m.4-.6h0m0 .6h0m1.1-.1h0m.1-.1h0m.3-.2h0m.2-.1h0m.2 0h0m.4 0h0m.8 .1h0m0-.2h0m.5 .8h0m.1-.9h0m0 0h0m.4 .9h0m.7-.6h0m.2 .2h0m0-.3h0m.7 0h0m0 0h0m.8 .1h0m.2-.1h0m.8 .4h0m0-.2h0m.1-.2h0m.4 .2h0m.2 .1h0m.8-.4h0m.2 0h0m.3 .3h0m.4 .2h0m.1-.1h0m.4-.1h0m.4-.3h0m1.3 .1h0m1 0h0m0 .7h0m.2-.2h0m.5 .1h0m.2-.3h0m1.6-.6h0m.8 .3h0m1.7-.1h0m.5-.1h0m.3 .1h0m0 .2h0m9.3-.1h0m-77.6 1.2h0m9.9-.4h0m5.4 .1h0m3.6 .4h0m6.1-.2h0m.3 .5h0m4.1-.6h0m1.9 .3h0m.2-.1h0m.1-.2h0m1.3-.2h0m.1 .3h0m.3 .1h0m.6-.4h0m.1 .4h0m.4-.3h0m.6 0h0m.6 .6h0m1.1 .2h0m.3-.9h0m.1 .8h0m2.9-.1h0m.2 .1h0m.7 0h0m.4 0h0m.5-.3h0m.2 0h0m0-.2h0m.1-.4h0m.1 .7h0m.9-.1h0m.1-.6h0m.2 .2h0m.6 0h0m.6 .1h0m.7 .5h0m.1-.2h0m.2 .1h0m.6-.6h0m.7 .5h0m.1-.3h0m.6 .4h0m.2-.7h0m.3 .6h0m.3-.4h0m.1 .6h0m.7 0h0m.7-.3h0m0-.3h0m.2 .1h0m.5-.1h0m0-.1h0m.5 .1h0m.3 .5h0m.6 0h0m.4-.5h0m.2 .6h0m.2-.1h0m.3-.4h0m.3 0h0m.1 .4h0m.5-.1h0m.6 .3h0m.4-.2h0m.2-.2h0m.3-.3h0m.3-.2h0m.4 .9h0m.5-.8h0m.4 .7h0m.1 .1h0m.6-.8h0m.3 .8h0m.5-.2h0m.1-.2h0m1.2-.1h0m0-.3h0m0 .4h0m.2 .2h0m.2-.1h0m.7-.1h0m.4-.1h0m.4-.1h0m.2 .3h0m.3 .1h0m.2-.3h0m.2 .5h0m.4 0h0m.2-.8h0m.1 .6h0m.9 .3h0m.1-.4h0m.2-.4h0m.4-.2h0m.5 0h0m.1 .7h0m.5-.3h0m.1 .5h0m2.9-.5h0m2.9 .1h0m-86.2 1h0m39.4 .2h0m1.6 .1h0m1-.6h0m1.8 .6h0m.8 .2h0m2.8-.1h0m.2 .1h0m.4-.9h0m.9 .8h0m.3-.8h0m.3 .2h0m.5 .1h0m0-.2h0m.6 .3h0m.4-.3h0m.1 .8h0m.9-.6h0m.9-.1h0m.8-.2h0m.2 .3h0m.2-.3h0m.7 .7h0m0-.8h0m.1 .5h0m.4-.4h0m.2 0h0m.1-.1h0m1.4 .8h0m.3 .1h0m.1-.1h0m.7 0h0m.5 .2h0m.3-.2h0m.2-.2h0m.2-.5h0m.2-.1h0m.9 .2h0m.4-.1h0m.2 .5h0m.6-.2h0m.1 .4h0m.1-.8h0m.4 .5h0m.6-.3h0m.1 .2h0m.3 .3h0m.6-.3h0m.2-.2h0m.3 .2h0m.1 .3h0m.1-.3h0m1.1 .6h0m.2-.5h0m.3 .1h0m.1-.3h0m.5 .4h0m.4-.5h0m.2 .5h0m.4-.4h0m.3 .2h0m.2-.3h0m.2 .4h0m.5-.3h0m1 .1h0m.1 .3h0m.4-.1h0m.4 .1h0m1.4-.6h0m0 .9h0m.2-.8h0m.2-.1h0m.3 .1h0m.4 .8h0m.1-.5h0m.1 .5h0m1-.2h0m.4-.2h0m.3 0h0m.5 .3h0m0-.7h0m.6 .4h0m3.6 .2h0m3.3-.4h0m-57.7 .8h0m7.7-.1h0m5.1 .6h0m1.7-.1h0m.4-.4h0m1.1 0h0m3.1 0h0m.1 .5h0m.2-.3h0m.7 0h0m2-.3h0m1.1 .8h0m.4-.1h0m.3 .2h0m.8-.2h0m1.1-.2h0m.2-.1h0m.4 0h0m1.9-.4h0m0-.1h0m.1 .9h0m1.3-.3h0m.3 .4h0m.7-.4h0m.2-.3h0m.7 .5h0m.7 .2h0m.1-.4h0m.3-.2h0m.5 .2h0m.3-.2h0m.2 0h0m.1 .6h0m.2 0h0m.6 0h0m.5-.4h0m.3-.2h0m.2 .4h0m.2 .1h0m.1-.5h0m.6 .3h0m.8 .2h0m.1-.7h0m.3 .7h0m.2-.8h0m.4 .9h0m.3-.1h0m.5-.4h0m.5-.1h0m0 .1h0m.1-.4h0m.2 .8h0m.7 0h0m.4-.5h0m.5-.4h0m.1 .6h0m.5-.1h0m.2 .1h0m.2-.1h0m.6-.5h0m.5 .3h0m.3-.2h0m.3 .9h0m.4-.1h0m.1-.3h0m.4 .1h0m.1-.4h0m1.1-.3h0m.2 .7h0m.2-.6h0m.1 .6h0m.1-.3h0m.7-.1h0m.2 .1h0m0 .3h0m.4 .2h0m1-.5h0m.5 .6h0m0-.1h0m.3-.4h0m.1 .5h0m.3-.7h0m.9 0h0m0 .2h0m.1 .1h0m.4-.2h0m.7-.2h0m.2 .6h0m.9-.8h0m.5 .3h0m.3 .2h0m2.1 0h0m.6-.4h0m1.6 .2h0m10.5 .4h0m-64.1 1.2h0m7.3-.1h0m1.8-.4h0m2.2 0h0m1.9-.4h0m2.5 0h0m2 .2h0m2.3 .5h0m.5-.5h0m.3 .2h0m.5-.4h0m.2 .6h0m.4-.3h0m1 .6h0m1.6-.3h0m.2 .3h0m.4-.6h0m1.1 0h0m.3 .3h0m.1 .1h0m.3-.1h0m.6-.4h0m.4 .2h0m.1 .1h0m.1-.4h0m.8 .8h0m.1-.5h0m.3 .5h0m.5-.9h0m.5 .2h0m0 .1h0m.6 .5h0m.1-.1h0m0 .1h0m.6-.4h0m.5-.2h0m.3 .3h0m.5 .2h0m.5-.4h0m.1-.1h0m.1 .8h0m.1-.7h0m.5 .2h0m.5 .3h0m.1-.4h0m.3-.2h0m1.2-.1h0m.2 .6h0m0-.1h0m.6 .2h0m0 .2h0m.3-1h0m.6 .8h0m.4-.4h0m.2 0h0m.4-.2h0m.2 .3h0m.2 .1h0m.2 .1h0m.5-.5h0m0 .2h0m.6-.3h0m.5 .1h0m.8 .7h0m.4-.5h0m.9 .5h0m0-.1h0m.8-.3h0m.1-.4h0m.1 .4h0m1 .1h0m0-.5h0m.7 .3h0m.6-.3h0m0 .1h0m.6 .6h0m.3-.6h0m.3 .5h0m.2 .1h0m1.5 .1h0m2.1-.1h0m1.5-.3h0m.6 .4h0m3.5-.4h0m-51.3 .7h0m8.2 .8h0m.1-.7h0m1.5-.3h0m1.8 .5h0m.1-.4h0m1 .5h0m.1-.4h0m1.8 .4h0m.5 .4h0m.9-.9h0m.3 .8h0m1.2-.7h0m.6-.1h0m.5 .1h0m.1 0h0m.2 .1h0m.4 .1h0m.5 .3h0m.3-.2h0m0 .1h0m1.1 0h0m.7-.4h0m.5 .6h0m.1-.3h0m.4-.1h0m.5 .5h0m0 0h0m.7 .1h0m1.4-.6h0m0 .2h0m0-.2h0m.8 .6h0m.2-.2h0m0-.4h0m.3 .2h0m.6 .3h0m.4-.5h0m.3 .3h0m0-.3h0m.9 .4h0m.5-.5h0m.1-.2h0m.5 .2h0m1.1 .2h0m.1 .4h0m.3 0h0m.2-.4h0m.2-.3h0m.2-.2h0m.7 .6h0m.4-.5h0m0 .7h0m1.9 .2h0m.1-.1h0m.4-.1h0m.4-.1h0m.8-.3h0m.2 .3h0m.1 0h0m.7-.5h0m0 .4h0m.7 .1h0m.5 .1h0m.3 .1h0m.1-.6h0m.8 .3h0m0-.1h0m2.1 .2h0m.2-.5h0m.3 .4h0m1.5 .3h0m1.8-.3h0m1.3-.1h0m3 .5h0m1-.1h0m.5-.4h0m-44.8 1h0m.5-.2h0m1.5 .4h0m.3-.3h0m2.3 0h0m.7-.4h0m.2 .8h0m.6 .1h0m.6-.7h0m.1 .2h0m1.4 .2h0m1.8 .2h0m.2-.5h0m.3 0h0m0 .4h0m.6 .2h0m.3-.7h0m.1 .3h0m.3-.2h0m.1-.3h0m1 .5h0m.5-.2h0m.1 .7h0m.2-.5h0m.2 .5h0m.3-.3h0m.5-.5h0m.4-.2h0m.2 .8h0m.5 .1h0m0-.3h0m.6 0h0m.7-.2h0m.2-.1h0m0 .3h0m.3-.3h0m.5 .1h0m.3 .5h0m.3-.2h0m.1-.3h0m.7 .4h0m.5-.3h0m.4-.4h0m0 .6h0m.2-.6h0m0 .5h0m.8 .4h0m.7-.2h0m.1-.3h0m.1 .4h0m.2-.5h0m.1 .2h0m.8-.4h0m.2 .6h0m.2-.6h0m.7 .4h0m.1-.1h0m.3-.2h0m.3 0h0m.3 .4h0m.9-.4h0m.1 .5h0m0-.4h0m.9 .6h0m.1-1h0m.5 .5h0m0 0h0m.1 .5h0m.8-.5h0m.3-.3h0m.3 .3h0m.4-.1h0m0 .2h0m.2-.6h0m.4 .7h0m.1-.4h0m.1 .2h0m2.9 .1h0m1 .1h0m.2-.3h0m.9-.3h0m6.2 .1h0m.2 .2h0m5.7 .5h0m-47.4 1h0m1.2-.6h0m.1-.3h0m.4 .7h0m.4 0h0m1.1-.2h0m1 .2h0m.5-.1h0m2.7 .3h0m1.5-.7h0m.3 .1h0m.5-.1h0m.8 .4h0m0 .3h0m.2-.8h0m.5 .4h0m0 .5h0m.7-.6h0m.3-.3h0m.5 .6h0m.2 .1h0m.8 .1h0m.2-.3h0m.2 .2h0m.5-.6h0m.2 .5h0m.2 .2h0m1.1 .1h0m.3-.9h0m.7 0h0m.4 .5h0m.1 .1h0m0-.2h0m.7 .3h0m.2 .2h0m.3-.7h0m.5-.1h0m.3 .8h0m.3-.5h0m.3 .3h0m.2 .1h0m.2-.5h0m.5 .5h0m.1-.2h0m.7 .1h0m.3-.4h0m.3 .5h0m.5 0h0m.6-.1h0m.1 .2h0m.1-.1h0m.8-.6h0m.1 .5h0m.1 0h0m.3-.1h0m.3-.5h0m.4 .8h0m.6-.8h0m.2 .8h0m.1-.7h0m1.2-.2h0m1 0h0m.4 .6h0m0 .1h0m.7-.5h0m.6-.1h0m.4 .3h0m.3-.2h0m.5-.2h0m1.4 .3h0m1.5 .1h0m7.8-.1h0m1.4 .4h0m-56.5 .4h0m.7 .3h0m1.5 .4h0m3-.8h0m8.6 .1h0m.7-.2h0m4.5 1h0m.2-.5h0m.7 .2h0m.6-.2h0m1.5 .1h0m.7 .4h0m2-.1h0m.1-.2h0m.7-.3h0m.8 .3h0m0-.6h0m.3 .3h0m.2-.3h0m.3 .7h0m.1 .2h0m.5-.8h0m.2-.1h0m.5 .4h0m.8-.2h0m0 .1h0m.1 .2h0m1.1-.2h0m.4-.4h0m.7 .6h0m.1-.3h0m.2 .5h0m0-.3h0m1-.2h0m.2 .7h0m.2-.3h0m.7-.2h0m.2-.2h0m.1 .4h0m.6-.4h0m1-.2h0m1 .4h0m.7 .3h0m.2 .1h0m.1-.6h0m.2 .2h0m.6-.5h0m.5 .9h0m.8 .1h0m.2-.7h0m0-.1h0m1.1 .1h0m.4 .5h0m.1-.4h0m.5 .5h0m.7-.2h0m.5 0h0m.1 .1h0m1.8-.2h0m2.2-.3h0m.5 .1h0m.4-.3h0m0 .5h0m.8-.4h0m1.7 .4h0m1.9 .4h0m9.7-.1h0m-63.5 .2h0m9.9 0h0m3.2 .2h0m2.6-.1h0m.8 0h0m1 0h0m.6 .3h0m.2 .4h0m.4-.8h0m.1 .3h0m.1-.3h0m.2 .5h0m4.2-.1h0m.2 .3h0m.1 0h0m.1-.2h0m.5-.2h0m.2 .2h0m.4 .1h0m.6-.3h0m.2 0h0m.8 .1h0m.2-.2h0m.4 .5h0m.1-.8h0m0 .7h0m.9-.3h0m.1 0h0m.5 .2h0m1.8 .3h0m.1-.2h0m.1-.4h0m.6 .2h0m0-.5h0m.3 .8h0m.4 0h0m.2-.6h0m.3 .3h0m.4 .2h0m.7-.2h0m.2 0h0m.3 .4h0m.2-.9h0m0 .5h0m.5 .2h0m.2-.1h0m1.2-.4h0m.2 .3h0m.2 .3h0m.6-.2h0m0 .2h0m.3-.1h0m.5 0h0m.3-.2h0m.4-.1h0m.6-.1h0m1.2-.2h0m.1 .9h0m.3-.8h0m1.1 .7h0m.4-.5h0m.1-.4h0m.3 .7h0m.3-.1h0m.4 .3h0m.4-.3h0m.4 .1h0m.3 .3h0m.6-.9h0m1.3 .4h0m.2 .3h0m1.1 .2h0m.7-.8h0m3 .8h0m9.1-.8h0m-80.1 1.3h0m31.4 .3h0m3-.5h0m1.2 .6h0m1.2-.3h0m.7-.4h0m3.2-.2h0m.2 .4h0m0-.2h0m1.7 .2h0m.3-.3h0m.7-.1h0m1.3 .1h0m.1 .1h0m2.8 .4h0m.2 .2h0m.3-.5h0m.8 .6h0m.2-.3h0m.3-.2h0m.8 .1h0m.3 .3h0m.8 .2h0m.3-.6h0m.3 .4h0m.4-.8h0m1 .6h0m.3 .3h0m.2 0h0m.5-.3h0m.5-.3h0m.1 .6h0m.7-.8h0m.1 .6h0m.1-.2h0m.4 .1h0m.3 .3h0m.3-.1h0m1.1 .2h0m.6-1h0m1.3 .3h0m.1 .4h0m.5 .3h0m.4 0h0m.3-.1h0m.4-.2h0m.1-.3h0m.3 0h0m.2 .3h0m.3 .1h0m.9 0h0m0-.4h0m1.1 0h0m2.2-.2h0m1.2-.1h0m9.4 .1h0m-50.8 1.5h0m2.3-.2h0m6.1 .2h0m.4 0h0m1.8 .2h0m.1-.5h0m.9-.2h0m3.4 .4h0m.4-.2h0m.5 0h0m3.8-.1h0m1.7-.2h0m.1 .7h0m.1-.7h0m.6 .1h0m1.4 .3h0m.1 .1h0m0-.4h0m.2-.2h0m.4 .4h0m.8-.4h0m.2 .5h0m.1-.2h0m.5 .7h0m.4-.7h0m.1 .2h0m.5 .1h0m.2-.2h0m.3 0h0m.6 .4h0m.4 0h0m.1-.8h0m.4 .2h0m.2-.2h0m.4 .3h0m.4 0h0m.5 .2h0m.1 0h0m.4 .1h0m.8-.5h0m.8 .2h0m.1 0h0m.4 .1h0m1 .3h0m.4-.1h0m.7 .3h0m.3-.2h0m.8 .2h0m0-.4h0m.4 0h0m.6-.2h0m3.9 .7h0m2.8-.7h0m.6 .1h0m7.5-.2h0m-55.3 1.6h0m3.6-.5h0m11.6 .2h0m1.6 .1h0m1-.2h0m1.9 .3h0m.6 .2h0m0-.3h0m.5 .1h0m.4 0h0m.3-.1h0m.1-.4h0m.9 0h0m2.2-.2h0m0 .6h0m.3-.1h0m.1 .2h0m3.1-.7h0m.5 .2h0m.1 .6h0m.3-.4h0m0 0h0m.3 .3h0m.6-.5h0m.3 .3h0m0-.5h0m1.3 .4h0m1.8-.4h0m.4 .1h0m.9 .4h0m1.2 0h0m0 0h0m.1-.3h0m.9 .1h0m0 .6h0m.2-.4h0m1.2 .4h0m.6-.5h0m.5 .3h0m.4-.3h0m2.5 0h0m.5 .5h0m.3-.9h0m.8 .6h0m1.2 .1h0m1.3-.1h0m1.2-.6h0m.4 .5h0m1 .4h0m-48.6 .7h0m11-.6h0m1.3 .6h0m.9-.5h0m.2 .5h0m.1-.5h0m2.4 .1h0m.8 0h0m0 .2h0m.1 .3h0m.9-.3h0m.8-.2h0m1.6 .4h0m.4 .2h0m.1-.8h0m.1 .1h0m.5 .1h0m.9-.2h0m.1 .6h0m.2-.6h0m.2 .4h0m.1 .3h0m.1-.3h0m1.6 .2h0m.2-.6h0m.8 .2h0m.1 .7h0m1-.2h0m.3 .3h0m.2-.7h0m.8 .4h0m.4-.2h0m.4 .1h0m.2-.1h0m.6-.1h0m.3 0h0m.1 .5h0m.2-.2h0m.7-.6h0m.2 .7h0m.5 .1h0m.4-.8h0m0 .8h0m.6-.4h0m.6 .3h0m.8-.1h0m.4-.3h0m1 .3h0m.4 .3h0m1.2-.4h0m.6-.2h0m.7 .5h0m.4 0h0m.1-.1h0m1-.8h0m.2 .5h0m.2-.4h0m.1 .1h0m2.8 .8h0m1.2 0h0m.8-.9h0m.3 .3h0m2.1 .2h0m1.4-.2h0m.7-.4h0m-42.3 1.6h0m1.8-.5h0m6 .1h0m0 0h0m.7 .5h0m1.3-.1h0m.2 .2h0m0-.5h0m.7 .6h0m.3-.8h0m.7 0h0m1.3 .3h0m.7-.2h0m.5 .5h0m.8-.2h0m.5-.2h0m.1 .1h0m.8 0h0m.5 .1h0m.7-.3h0m0 .4h0m.8-.4h0m.4 .4h0m.2-.1h0m.5-.3h0m.2 .3h0m.5 0h0m.5 0h0m0 .3h0m.9-.7h0m1.2 .8h0m.1-.3h0m.5 .1h0m.2-.3h0m.5 .1h0m.4 .4h0m0 0h0m.8-.5h0m.7-.2h0m1 .4h0m2.6 .2h0m.8 0h0m2.9-.6h0m1.9 0h0m2 .2h0m.3 .2h0m.5-.3h0m.5 .4h0m4.6-.3h0m-44.7 1.3h0m1.6-.2h0m8.2 .2h0m1.1 .1h0m1.6-.8h0m1.2 .6h0m.1-.3h0m2.8 .4h0m.5 .2h0m1.3-.2h0m.7-.4h0m0-.2h0m.5 .4h0m.9 0h0m.2 .1h0m.3-.5h0m.5 .6h0m.5-.7h0m.6 .2h0m.2 .5h0m0-.7h0m.6 .2h0m.1 .7h0m1.2-.7h0m.7-.1h0m.1 .3h0m.2 .5h0m.8-.2h0m.8 .2h0m.6-.2h0m.3-.7h0m.2 .9h0m.6-.8h0m1 .2h0m2.7-.1h0m.7-.1h0m.2 .1h0m2.2-.1h0m.5 .8h0m.2-.3h0m.2 .3h0m2.2-.7h0m.1 .1h0m2 .3h0m1.7-.2h0m.8-.3h0m2.9 .7h0m-52 .4h0m16.6 .3h0m2.6-.1h0m.5 .5h0m.6-.4h0m2.8-.4h0m.6 .9h0m1.4-.9h0m1 .5h0m.4-.2h0m.1 .4h0m1.4-.2h0m.6 .2h0m0 .1h0m1.5-.1h0m.8 0h0m.4-.4h0m1.6 .3h0m.2 0h0m.6 .2h0m.1 0h0m0-.5h0m.5 .5h0m.7-.5h0m.7 .4h0m.8 0h0m.9-.6h0m.3 .4h0m1 .2h0m.2 0h0m1.7-.5h0m3.4-.2h0m2.9 .6h0m.2-.6h0m-41.6 1h0m12 .4h0m.9 .4h0m2.8 .1h0m1.2-.7h0m1.1 .1h0m.6 .6h0m.4-.2h0m.6-.2h0m2.6 0h0m2.8 .3h0m2-.2h0m.3 .1h0m0-.4h0m.2 .4h0m.9-.2h0m1.4 .2h0m0 .2h0m.6-.8h0m1.6 .5h0m2.4-.5h0m.2 .3h0m.3-.3h0m.9 .5h0m.8 .2h0m2.2-.7h0m.2 .4h0m1-.4h0m.6 .1h0m.4 .2h0m9.7-.1h0m1.2 .4h0m-41.9 1.1h0m.1-.4h0m2.1 .3h0m1.2-.4h0m1.8 .2h0m3.3-.5h0m.6 0h0m2.9 .9h0m1.4-1h0m.2 .5h0m.5-.3h0m.3 .5h0m0 .1h0m1.6-.3h0m.1-.3h0m.9 .2h0m.8-.3h0m1 .6h0m.2-.5h0m2.2 .6h0m.2 .2h0m2.7-.1h0m2.4-.5h0m-85.3 .8h0m39.1 .8h0m20.7 0h0m2.4-.9h0m.1 .4h0m5.6 .3h0m.4-.6h0m2 .5h0m2.2-.2h0m.8-.2h0m1.8 .4h0m.6-.4h0m.6 .1h0m1.2-.3h0m.2 0h0m3.5 0h0m.7 .3h0m3.9-.3h0m1.5 0h0m15.1 .1h0m-61.2 1.8h0m23.1-.1h0m1.7-.1h0m2.3-.2h0m.3 0h0m.1-.2h0m.9 .4h0m.1-.5h0m.5 .5h0m.8-.8h0m.6 1h0m.4-.4h0m1.9 .4h0m2.1-.3h0m.4-.1h0m1 .2h0m.8-.5h0m2.8-.2h0m.1 .8h0m.2-.7h0m.9 .6h0m.4-.1h0m1.1-.1h0m1.8-.4h0m3.2 .2h0m3.3 .2h0m-33.5 .7h0m4.8 .4h0m.1 .2h0m1.6-.6h0m1.1 .4h0m1.9-.6h0m2.1 .8h0m.5-.4h0m1.3-.1h0m1.6-.3h0m1.9-.1h0m2.3 .2h0m1.7 .1h0m.4 .1h0m.9 .3h0m.5 0h0m2.2 .1h0m13.1-.7h0m-48.1 1.6h0m11.3 .3h0m.2-.8h0m2.5 .2h0m4.6 0h0m2.3 .2h0m.4-.4h0m.4 .4h0m3.1 .2h0m0 .2h0m.6 0h0m1.3-.7h0m.9-.2h0m.2 .4h0m.7-.4h0m9.3 .2h0m.2-.3h0m-27.5 1.7h0m2.8 0h0m.1 .1h0m2.9-.6h0m1.2 0h0m2.6 .2h0m1.6 .4h0m4.4-.4h0m.4 0h0m.1 .2h0m3.8-.1h0m1.4-.3h0m5.5 .6h0m-22.5 .4h0m5.7 .4h0m1.4 0h0m.5-.1h0m3.6-.3h0m2.4 .7h0m1.3-.2h0m4.8-.5h0m.5 .5h0m1.6-.5h0m-42.5 1h0m22 0h0m2.9 0h0m7.2 .4h0m.2-.4h0m.7 0h0m.5 .1h0m.8-.1h0m5.5 .6h0m-16.3 1.2h0m4.5-.3h0m1.8-.6h0m.4 .4h0m3.4-.1h0m.6-.4h0m1.3 .1h0m1.5 0h0m2.8 .1h0m6.4 .2h0m9.1 0h0m-32.6 .7h0m6.6 .1h0m5.7-.1h0m2.1 0h0m-27.2 1h0m15.9 .3h0m3 0h0m3.5 .2h0m2.9 0h0m10.5-.1h0m-90.7 1.3h0m54.1-.7h0m18.1 .4h0m1.8-.4h0m1.3 .9h0m14.3-.1h0m-7.3 2h0m-6.7 1.1h0m-6.5 .4h0m3.9 .3h0m9.7 0h0m3.5 .2h0m-16 .5h0m13.6 .7h0m-10.8 1.2h0m-8 1.9h0m42.6 .6h0m-37.4 3.5h0m-13.8 2h0m28.2-.2h0m-78.6 9.3h0" stroke="#ff5f55" stroke-width="1.3" stroke-linecap="round" fill="none"/>
<rect x="134.6" y="16.3" width="279.6" height="258.9" fill="none" stroke="#000" stroke-width="1.35"/>
<line x1="259" y1="16.3" x2="259" y2="275.2" stroke="#000" stroke-width="1.5" stroke-linecap="butt"/>
<line x1="134.6" y1="169.4" x2="414.2" y2="169.4" stroke="#000" stroke-width="1.5" stroke-linecap="butt"/>
<path d="M134.6 272v6.4M153.59 273.4v3.4M164.71 273.4v3.4M172.59 273.4v3.4M178.71 273.4v3.4M183.7 273.4v3.4M187.93 273.4v3.4M191.58 273.4v3.4M194.81 273.4v3.4M197.7 272v6.4M216.69 273.4v3.4M227.81 273.4v3.4M235.69 273.4v3.4M241.81 273.4v3.4M246.8 273.4v3.4M251.03 273.4v3.4M254.68 273.4v3.4M257.91 273.4v3.4M260.8 272v6.4M279.79 273.4v3.4M290.91 273.4v3.4M298.79 273.4v3.4M304.91 273.4v3.4M309.9 273.4v3.4M314.13 273.4v3.4M317.78 273.4v3.4M321.01 273.4v3.4M323.9 272v6.4M342.89 273.4v3.4M354.01 273.4v3.4M361.89 273.4v3.4M368.01 273.4v3.4M373 273.4v3.4M377.23 273.4v3.4M380.88 273.4v3.4M384.11 273.4v3.4M387 272v6.4M405.99 273.4v3.4M132.8 271.1h3.4M132.8 266.47h3.4M132.8 262.55h3.4M132.8 259.16h3.4M132.8 256.17h3.4M131.4 253.5h6.4M132.8 235.9h3.4M132.8 225.61h3.4M132.8 218.31h3.4M132.8 212.65h3.4M132.8 208.02h3.4M132.8 204.1h3.4M132.8 200.71h3.4M132.8 197.72h3.4M131.4 195.05h6.4M132.8 177.45h3.4M132.8 167.16h3.4M132.8 159.86h3.4M132.8 154.2h3.4M132.8 149.57h3.4M132.8 145.65h3.4M132.8 142.26h3.4M132.8 139.27h3.4M131.4 136.6h6.4M132.8 119h3.4M132.8 108.71h3.4M132.8 101.41h3.4M132.8 95.75h3.4M132.8 91.12h3.4M132.8 87.2h3.4M132.8 83.81h3.4M132.8 80.82h3.4M131.4 78.15h6.4M132.8 60.55h3.4M132.8 50.26h3.4M132.8 42.96h3.4M132.8 37.3h3.4M132.8 32.67h3.4M132.8 28.75h3.4M132.8 25.36h3.4M132.8 22.37h3.4M131.4 19.7h6.4" stroke="#000" stroke-width="1.1" fill="none"/>
<text class="sa" x="137.3" y="300.4" font-size="12" text-anchor="end" fill="#111">10<tspan font-size="11.8" dy="-6.5">1</tspan></text>
<text class="sa" x="200.4" y="300.4" font-size="12" text-anchor="end" fill="#111">10<tspan font-size="11.8" dy="-6.5">2</tspan></text>
<text class="sa" x="263.5" y="300.4" font-size="12" text-anchor="end" fill="#111">10<tspan font-size="11.8" dy="-6.5">3</tspan></text>
<text class="sa" x="326.6" y="300.4" font-size="12" text-anchor="end" fill="#111">10<tspan font-size="11.8" dy="-6.5">4</tspan></text>
<text class="sa" x="389.7" y="300.4" font-size="12" text-anchor="end" fill="#111">10<tspan font-size="11.8" dy="-6.5">5</tspan></text>
<text class="sa" x="120.2" y="259.3" font-size="12" text-anchor="end" fill="#111">10<tspan font-size="11.8" dy="-6.5">2</tspan></text>
<text class="sa" x="120.2" y="200.85" font-size="12" text-anchor="end" fill="#111">10<tspan font-size="11.8" dy="-6.5">3</tspan></text>
<text class="sa" x="120.2" y="142.4" font-size="12" text-anchor="end" fill="#111">10<tspan font-size="11.8" dy="-6.5">4</tspan></text>
<text class="sa" x="120.2" y="83.95" font-size="12" text-anchor="end" fill="#111">10<tspan font-size="11.8" dy="-6.5">5</tspan></text>
<text class="sa" x="120.2" y="25.5" font-size="12" text-anchor="end" fill="#111">10<tspan font-size="11.8" dy="-6.5">6</tspan></text>
<text class="sa" x="137.8" y="27" font-size="11.5" text-anchor="start" fill="#1a1a1a">Q1-1</text>
<text class="sa" x="137.8" y="40.5" font-size="11.5" text-anchor="start" fill="#1a1a1a">5.04%</text>
<text class="sa" x="137.8" y="257.9" font-size="11.5" text-anchor="start" fill="#1a1a1a">Q1-3</text>
<text class="sa" x="137.8" y="271.3" font-size="11.5" text-anchor="start" fill="#1a1a1a">94.65%</text>
<text class="sa" x="377" y="27" font-size="11.5" text-anchor="start" fill="#1a1a1a">Q1-2</text>
<text class="sa" x="377" y="40.5" font-size="11.5" text-anchor="start" fill="#1a1a1a">0.14%</text>
<text class="sa" x="377" y="257.9" font-size="11.5" text-anchor="start" fill="#1a1a1a">Q1-4</text>
<text class="sa" x="377" y="271.3" font-size="11.5" text-anchor="start" fill="#1a1a1a">0.18%</text>
</g>
<g>
<path d="M525.5 62.5h0m32.6 26.2h0m99.8 1.4h0m-114.6 2.5h0m44.7 2h0m-50.3 7.3h0m40.2-.3h0m-18 1.3h0m32.6-.3h0m-38.1 2h0m-10.9 .5h0m0 1.8h0m42.8 .8h0m-19.7 .9h0m3.2 1.2h0m2.2 .7h0m3.8 3.1h0m13.5 1.8h0m9.1 3.6h0m-15.9 1.9h0m27 1.1h0m-121.7 .9h0m57.3 .7h0m25.6 .7h0m45.2 1.2h0m-102.2 1.4h0m79.4-.7h0m12.1 0h0m18.7 1.4h0m-48.4 1.4h0m44.8 .7h0m-80.2 .7h0m73.4 .5h0m8.7 1.3h0m-26.3 1.2h0m-25.9 .8h0m49.5 .3h0m-67.8 1.2h0m2.9 .3h0m72.7-.7h0m-19.3 1h0m-56.7 1.3h0m30.8 .3h0m-66.9 .9h0m76.8-.3h0m14.2 0h0m-18.5 1h0m11.6 .1h0m19.6-.5h0m-67.6 .9h0m78.7 .8h0m-84.1 .7h0m1 .1h0m15.8-.1h0m37.8 .1h0m-71.1 1h0m36.4-.1h0m28.3 0h0m19.5 .3h0m35.6-.7h0m-116 1.6h0m37.2 .2h0m2.7-.6h0m5.3 .3h0m-64.4 .9h0m53.8 .5h0m2.3-.1h0m21.3-.5h0m21.2 .5h0m-61 .2h0m44.1-.1h0m15.3 .4h0m4.7 .4h0m-81.5 .6h0m27.8 .3h0m54.2-.1h0m1.6-.3h0m.4-.3h0m-68.5 1.6h0m33.7-.6h0m11.9 .7h0m6.6 .1h0m76.4-.2h0m-123.1 .5h0m7.6 .1h0m69.3 .3h0m-90.3 1.2h0m6.3-.2h0m49.1 0h0m10.1 .4h0m.6-.5h0m3.2 .2h0m-83.2 1.1h0m19.9 .2h0m37.2-.7h0m9 .8h0m40.9-.3h0m-75.6 1.2h0m12.9-.8h0m30.6 .1h0m13.9 .7h0m1-.1h0m-70.9 1h0m13-.2h0m33.2-.5h0m6.6 .6h0m.7-.1h0m3.9 .1h0m4.5-.1h0m8.8 0h0m-89.5 1h0m13.2-.2h0m6.2 .1h0m49.7-.4h0m14 .1h0m15.4 0h0m-99.2 1.2h0m52.7-.2h0m1.4 .2h0m3.1 0h0m8.4 1.5h0m2.8-.7h0m26.7 .6h0m-89.7 .8h0m49.8 0h0m43.6-.5h0m-75.7 1h0m18.3 .2h0m20.3 .1h0m2.5-.3h0m15.9 .4h0m8.7 0h0m17-.2h0m-87.9 1.5h0m12.6-.2h0m3.5 .3h0m23-.2h0m7.1 .2h0m4.6-.4h0m7.3 .3h0m1.2-.7h0m2.5 0h0m1.3 .3h0m12.6-.3h0m-72 1.6h0m27.3-.3h0m10.9-.1h0m.1-.1h0m13.3 .3h0m-80.5 1.2h0m28.2-.2h0m20.9 .4h0m1.8-.7h0m17.7 .7h0m3.2-.7h0m-64.3 1.2h0m38.7-.3h0m.2 .7h0m2.2-.4h0m23.5-.3h0m13.5 .8h0m31.9-.2h0m-90.3 .7h0m17.2 0h0m.9 .5h0m13.1-.6h0m37.1 .4h0m1-.5h0m19 .5h0m-77.4 .9h0m18.2 .2h0m7.9-.5h0m.7-.2h0m23.6 .2h0m-60.7 .7h0m5.2 .8h0m4.7 .2h0m3.2-.3h0m23-.5h0m6.9 0h0m14 .2h0m1.9 .1h0m4.4-.3h0m49.9 .3h0m-132.7 1.5h0m7.6-.2h0m49 0h0m4.9-.7h0m19.2 0h0m.2 .8h0m2.4-.2h0m-117.7 .7h0m52 .4h0m18.6-.2h0m6.6 .3h0m7.8-.9h0m2.2 .2h0m15.9 .5h0m2.4 0h0m17.9-.6h0m34.5 0h0m-126.1 1.6h0m4.7-.6h0m17.1 .5h0m32.7 0h0m.2-.3h0m9.8 .2h0m-107.8 .7h0m43 .2h0m4 .2h0m4.1 0h0m2 .1h0m7.5 .2h0m7.1-.4h0m4.9-.2h0m3.1-.2h0m57.3 .6h0m34.3 0h0m-122.1 .9h0m16.7-.6h0m4.1 .5h0m14.7-.4h0m.3 .4h0m65.8-.2h0m-136.6 1.6h0m10.5-.1h0m42.9-.4h0m28.9 .2h0m40.5-.2h0m-76.3 .7h0m1.8 0h0m3.8 .3h0m1.5 .3h0m21.7-.1h0m16.1-.4h0m52.1 .3h0m5.6-.4h0m11.9 0h0m-104 1.7h0m11.5-.2h0m29.6 0h0m24.3 .1h0m11.5-.6h0m-96.4 1.6h0m14.1-.1h0m3.8-.3h0m7.5 .6h0m3.3-.4h0m10.2-.3h0m6.7-.1h0m24.3 .6h0m9.4-.3h0m53.8-.1h0m-179.2 1h0m42.5 0h0m9.4 .4h0m15.8 0h0m1.8-.1h0m4-.4h0m12.5 .3h0m7.7 .2h0m7.4 0h0m16.9-.5h0m31.8-.2h0m33.3 .3h0m-172.7 1.1h0m25.8 0h0m13.8 .5h0m15.9-.1h0m.7-.1h0m.5-.6h0m4.5-.1h0m2.3 .2h0m3.4 .6h0m12 .1h0m25.2-.7h0m38.7 .1h0m12.7-.1h0m-163.7 1.2h0m8-.2h0m27.3 0h0m2.4 .5h0m6.3-.6h0m14.7 .9h0m4.1-.8h0m1-.2h0m1.6 .7h0m4.4-.3h0m.2-.1h0m9.8 .2h0m6.5 .3h0m2.3 .2h0m3.4-.5h0m42.8 .1h0m14.7-.2h0m18.2 .2h0m-165.4 .9h0m6.9-.4h0m6.1 .7h0m5-.5h0m7.1-.3h0m.7 .8h0m8.7-.3h0m9 .4h0m.9-.9h0m7.5 0h0m3.8 .6h0m.6-.3h0m10.7-.1h0m1.3 .4h0m4.2-.6h0m6.4 .3h0m25.7 .6h0m19.8-.1h0m21.1-.1h0m13-.4h0m13.5 .3h0m-161.2 1h0m24.4-.4h0m15.5 .4h0m5.4-.5h0m5.2 .7h0m2.1 .1h0m.7-.5h0m.3 .4h0m.6-.1h0m3.9 .1h0m5.4-.1h0m.8-.6h0m6.7 .8h0m4.1-.1h0m.7-.3h0m12.3 .3h0m6.7-.5h0m17.1-.3h0m6.4 .7h0m20.8-.7h0m-124.7 1.5h0m3.8-.3h0m19.7 .5h0m1 0h0m3.8-.5h0m.2 0h0m1.7 .4h0m6.1-.5h0m.3 .6h0m1 .2h0m4.5-.4h0m3.3-.1h0m2.9-.2h0m15.5 0h0m59.6 0h0m6.6 0h0m-148 1h0m22.9 0h0m2 .2h0m7.6 .1h0m1.9 .4h0m17.3 0h0m.5-.3h0m4.9 .3h0m3.2-.6h0m.2 .5h0m1.5-.1h0m3.1-.5h0m31.3 .7h0m37.9-.2h0m22.1-.4h0m2.9 .2h0m-149.3 .6h0m19.3 .3h0m14.5 0h0m2.1 .1h0m3.2-.3h0m.1 .7h0m1.9-.6h0m.6 .1h0m2.5-.1h0m.7 .2h0m1.2-.1h0m1.5 .4h0m3-.5h0m.5-.3h0m.6 0h0m.2 .9h0m4.2 .1h0m.3-.5h0m4.7-.1h0m1 .2h0m1-.4h0m.7 .2h0m7.9 .3h0m24.8-.5h0m23.3 .3h0m9 .4h0m13.2 0h0m6.2-.2h0m-167.2 1h0m10.2 .2h0m30.9-.4h0m.4 .5h0m3.5-.9h0m2.3 .4h0m13.3 .2h0m.7-.6h0m1.1 .5h0m2.5 .3h0m.1-.2h0m2.5-.3h0m1.8 .5h0m1.1 0h0m.5-.2h0m.3-.7h0m2.2 0h0m1.8 .8h0m.3-.6h0m.1 .7h0m1.4-.4h0m1 .2h0m31.4-.2h0m33.5 .3h0m4.6 0h0m9.6-.7h0m-136.5 1.2h0m1.4 .2h0m5.3-.2h0m1.2 .4h0m4.5-.3h0m12.4 .5h0m3.1-.9h0m7.4 .2h0m1.7 .7h0m.4-.1h0m0-.1h0m.9-.3h0m1.8 .1h0m2.6 .4h0m2.8-.7h0m9.1-.2h0m2.4 .4h0m5.5-.2h0m2.2-.1h0m12.1 .8h0m56.5-.7h0m.8 .5h0m19.1-.6h0m5.1 .5h0m-156.6 1.4h0m9.1-.4h0m25.7-.5h0m3.5 .5h0m3.4-.4h0m.3 .5h0m1.1-.5h0m2.7 .5h0m1.3-.3h0m1.4-.3h0m.8 .2h0m.6-.2h0m1.7-.1h0m2.3 .7h0m.7-.6h0m2.1 .3h0m4.7-.3h0m.4 .7h0m57.2-.7h0m2.3 .1h0m.3-.2h0m5.8 .7h0m2.7 .2h0m4.9-.3h0m7.9 0h0m-146.4 .6h0m1.5-.2h0m14.6 .1h0m.8-.1h0m6.9 .8h0m15.3-.4h0m.1-.2h0m2.2 .6h0m1.9-.7h0m1 .7h0m.9 .1h0m.8-.6h0m2.2-.1h0m.5 .5h0m.5-.4h0m3-.1h0m.4 .4h0m.4-.2h0m0-.2h0m.8 0h0m.9 .5h0m.4 0h0m2.6 .1h0m2.8-.7h0m.9 .3h0m2-.1h0m8.7 .3h0m49.7-.5h0m13.4 .5h0m1.9-.2h0m3.9-.3h0m-158.7 1.2h0m36.4 .5h0m3.2-.7h0m3.3 .7h0m4.6-.1h0m6-.5h0m2.6 .5h0m.4-.7h0m.8 .1h0m.2 0h0m1.8 .8h0m1.2-.3h0m1.8 .2h0m1.5-.7h0m1.9 .8h0m.6 0h0m.4-.6h0m.1 .7h0m.6 0h0m.8-.2h0m.4 .1h0m.6-.7h0m.4 .5h0m.8-.1h0m.3 .3h0m.6 0h0m0-.2h0m2.7 0h0m1.1 .2h0m.1-.6h0m.1-.2h0m.6 .7h0m9.9 .2h0m4.3-.3h0m7.9-.6h0m35.6 .7h0m3.6-.1h0m.5 0h0m5.4 .3h0m6-.1h0m5.2-.3h0m.9-.1h0m3.9 .3h0m17.4-.7h0m-169 1.5h0m4.1-.1h0m.1-.1h0m7.9 .5h0m3.2-.2h0m10-.6h0m8.9 .2h0m.9-.2h0m1.4 .9h0m.3-.9h0m2.8 .7h0m2.8 0h0m1.5 0h0m3.6-.4h0m.9 .2h0m1.8 .1h0m1.7 0h0m.3-.1h0m.3-.1h0m.2 .4h0m1-.2h0m1.9-.4h0m.3 .4h0m.6-.1h0m.1-.4h0m1.4 .5h0m.4-.6h0m2.2 .1h0m.1 .7h0m.2-.2h0m.6 .2h0m.3-.3h0m0-.6h0m3.4 .8h0m.5-.7h0m.2 .3h0m.3 .1h0m2 .3h0m1-.2h0m1.2-.4h0m.2 .3h0m1.5 0h0m4.3-.4h0m1.4 .3h0m.4 .2h0m3.1 .1h0m27.1-.3h0m20-.2h0m7.2 .4h0m19.4 .3h0m-161.9 .3h0m6-.2h0m17.6 .6h0m11.5 .2h0m1.6-.5h0m1.3 .5h0m1.9-.5h0m7.3 .6h0m3-.7h0m1.5 .4h0m1.5 0h0m1.6-.1h0m3.4 0h0m1.4-.2h0m.6-.1h0m.6 .5h0m.2-.2h0m1.6-.4h0m.1 .7h0m.5 0h0m.8-.4h0m1 .3h0m.4-.3h0m.4 .3h0m.4 0h0m.8-.4h0m.4 .5h0m1.5 .1h0m.2-.4h0m.2-.2h0m.9 .1h0m1.4 .3h0m0-.3h0m.2 .6h0m1.1-.6h0m.9-.2h0m.1 .3h0m.8 .2h0m0 .2h0m.9-.6h0m0-.1h0m.4 .5h0m.9 .2h0m.8-.4h0m.6-.3h0m2.2 .4h0m1.9-.6h0m.6 .8h0m.5-.8h0m.7 .6h0m.6 .2h0m.3 0h0m1.1-.4h0m5-.2h0m63 .4h0m9.2 0h0m-148.2 .8h0m8.4-.1h0m.6 .5h0m6.9-.5h0m7.9 .3h0m.3 .3h0m5.6-.5h0m1.5-.4h0m3.5 .2h0m3.8 .3h0m1.3 .1h0m3 0h0m1.5 0h0m.6 0h0m.4-.2h0m.8 .1h0m1.9-.3h0m.4 .1h0m1 0h0m.9 0h0m.1 .7h0m.5-.3h0m1.2-.3h0m.6 0h0m.1 .5h0m.6-.5h0m1.1 .2h0m.3 .2h0m1.3-.5h0m.6 .2h0m1.1 .3h0m.3 .1h0m5-.4h0m1.5 .5h0m.3-.5h0m.4 .3h0m.3-.6h0m1.3 .5h0m4-.2h0m13.1-.2h0m36.6 .6h0m10.7-.8h0m4.1 .5h0m3.7 0h0m.6 0h0m3 .2h0m1.4-.3h0m11.9-.4h0m9.4 .2h0m-161.9 1.5h0m22.9-.4h0m6.6-.2h0m3.1 .4h0m2.1 .2h0m2.6-.2h0m.7-.2h0m2.1 .3h0m1.8 .2h0m.7-.2h0m1.2 .2h0m.9-.5h0m.9 .2h0m.3-.1h0m.5 .2h0m1.2 .2h0m1.6-.5h0m.5 .5h0m0-.3h0m.7 .1h0m.3-.1h0m.1-.4h0m.2 .7h0m.4 0h0m.1-.5h0m.5 0h0m.9 0h0m.5 .4h0m.1-.3h0m.9-.2h0m.5 .1h0m.2-.2h0m.5 .7h0m1.7-.7h0m.4 0h0m.9 .4h0m0-.6h0m1.2 .5h0m.7-.2h0m3 .5h0m0 0h0m1.3-.2h0m1.8-.2h0m14.3 .1h0m42.1-.3h0m2.2 .6h0m3.4-.5h0m6.8 0h0m2.4-.3h0m.7 .8h0m5.8-.4h0m4.6 .4h0m4.3-.7h0m-159.7 1.5h0m6.4 .3h0m6.2 .1h0m3.3-.6h0m9.8 .4h0m8.3-.7h0m1.4 .8h0m0-.4h0m4.6-.1h0m1 .4h0m1.3-.4h0m3.9 .4h0m.3 .1h0m2.2-.1h0m1.5-.1h0m.9-.2h0m1-.5h0m.3 .1h0m1.1 .3h0m.5-.4h0m.3 0h0m.6 .3h0m0 .2h0m.4 0h0m.4-.3h0m.7 .3h0m.3 .4h0m.5-.2h0m.3-.6h0m.2 .6h0m2.1 .2h0m.1-.3h0m.3-.1h0m.3 .5h0m1.5-.5h0m.5-.2h0m1.3 .6h0m.5-.7h0m.3-.1h0m3.2 .1h0m.2 .1h0m.5 0h0m.1 .5h0m.6-.8h0m1.8 1h0m.5 0h0m3.3-.9h0m5.2 .6h0m41.4-.3h0m2.1-.4h0m8.9 .3h0m5.4 0h0m-143.6 1.5h0m12.7-.1h0m8-.6h0m7.1 .8h0m7.5-.2h0m5.9-.1h0m.3 .3h0m1.3-.5h0m1.3-.3h0m3.4 0h0m1.2 .5h0m.5 .4h0m.4 0h0m.2-.2h0m.8 .1h0m.5-.6h0m.1 0h0m1.3 .6h0m.4-.5h0m.4 .4h0m.9-.4h0m.1 .4h0m.9 .1h0m.2-.1h0m.4 0h0m.9 .1h0m.4-.3h0m.3-.4h0m.1 .7h0m.4-.9h0m.8 1h0m.5-.1h0m.3-.4h0m0 .5h0m.9-.6h0m.2 .5h0m1.4-.7h0m.1 .8h0m0-.3h0m.5-.2h0m1.2 0h0m1.2 .2h0m.1 .3h0m.2-.9h0m.1 .7h0m.3 .1h0m1-.3h0m.4-.4h0m.2-.1h0m1.8-.1h0m0 .6h0m.7-.2h0m1-.1h0m1 .2h0m.1 0h0m.1-.2h0m.3 .4h0m.3-.6h0m.9 0h0m.3-.1h0m9 .7h0m1 .1h0m.7-.4h0m3.7 .1h0m16.9-.3h0m17.4-.1h0m11.8 .9h0m5.2-1h0m.4 .4h0m5-.3h0m.1 .3h0m10.6-.1h0m1.5 .2h0m12.3 .3h0m1.1-.1h0m-183.8 .5h0m15.7 .2h0m15.2 0h0m18.6 0h0m4.6 0h0m1.1 .2h0m1 .2h0m1.7 .1h0m.9 0h0m1.2-.1h0m2.1-.4h0m.1-.3h0m.5 .9h0m2.2-.3h0m.7-.2h0m0-.5h0m.1 .9h0m1.4-.3h0m.7-.5h0m.4 .7h0m0 0h0m.8-.2h0m.4-.6h0m0 .7h0m.4 0h0m.3-.1h0m0-.5h0m1 .8h0m.2-.8h0m.6 .8h0m.3 .1h0m.3-.7h0m.2 .4h0m.8-.3h0m.5 .4h0m0-.3h0m1-.3h0m0 .4h0m.1-.5h0m1.1 .5h0m0 .2h0m.1-.5h0m.5 .4h0m.1-.6h0m.5 .4h0m.6-.5h0m0 1h0m.2-.4h0m.4 .4h0m.4-.6h0m.6-.3h0m1.3 .4h0m.2 .3h0m.2 0h0m.8-.3h0m.3-.5h0m0 1h0m.7-.5h0m.2 0h0m1.3 .3h0m.2 .1h0m.4-.1h0m.9 .1h0m11.8-.1h0m44-.2h0m5.8-.4h0m2.9 .3h0m4.3 .1h0m.2 .1h0m2.7 0h0m3 .3h0m.4-.5h0m6.3 .2h0m3.8 .2h0m3.3-.4h0m9.5 .2h0m-181 1.2h0m13.7-.6h0m10.5 .4h0m1 0h0m5.1-.6h0m5.7 .8h0m.4 0h0m1.3-.3h0m4.5 .1h0m.8-.4h0m9.8 .5h0m1.1-.5h0m.5 .3h0m2.7 .3h0m1.1-.5h0m3.6 .6h0m0-.8h0m1 .7h0m.1-.8h0m.6 .2h0m.7 .5h0m2.4-.4h0m.2-.4h0m.6 .1h0m.3 .5h0m.1-.2h0m.3 0h0m.4 .5h0m.2-.5h0m.8-.3h0m.5 .8h0m0-.7h0m.7 .4h0m.5-.1h0m.7-.2h0m.1-.1h0m.4-.1h0m.5 .4h0m.2-.3h0m0 .2h0m.5 0h0m0 .1h0m.1-.2h0m1.4 .3h0m.4 .2h0m.3-.1h0m.8-.5h0m.2 .5h0m.2-.1h0m.5 .3h0m.2-.7h0m.4 .1h0m.5 .3h0m.7-.5h0m1.1 .8h0m.3-.6h0m0 .3h0m1.3-.5h0m.4 .4h0m.1-.1h0m1.4 .4h0m.4-.6h0m2.6 .1h0m6 .2h0m2.1-.2h0m6.7 .1h0m42.3 0h0m5.1 .6h0m2-.1h0m2.8-.6h0m11.6 .5h0m.6 .1h0m1.3-.1h0m1.3-.4h0m1.3-.1h0m.7 .6h0m3.5-.4h0m7.3 .4h0m-162.6 .4h0m1.9 .2h0m14.4-.1h0m2.6 .3h0m2-.1h0m1 0h0m6.5-.4h0m.2 .3h0m.8-.2h0m1.2 .6h0m3.2-.2h0m1.1 .1h0m2.4 .1h0m1.1 0h0m.1-.2h0m.7 .2h0m.2-.2h0m.8-.3h0m.7-.3h0m.5 .1h0m.2 .7h0m1.3-.3h0m.4-.6h0m.2 .6h0m.5 0h0m.4-.4h0m.2 .4h0m.5 .1h0m0 .2h0m1 0h0m.9-.8h0m.2 .7h0m.2 0h0m.7 .1h0m.1-.8h0m.6 .9h0m.1-.9h0m.2 .8h0m1.4-.6h0m.1 .1h0m.2 .4h0m.1-.3h0m1-.2h0m0 .6h0m.4-.8h0m.8 .4h0m.1 .1h0m.3 .1h0m.1 .2h0m.8-.1h0m.1 0h0m.6-.5h0m.2 0h0m.2 .5h0m.2 .1h0m0-.3h0m.6 .3h0m.8-.6h0m.6 .3h0m.4-.1h0m.4-.3h0m.1 .2h0m.8 .5h0m1.2-.2h0m.5 .2h0m.3-.8h0m.4 .2h0m.4 .3h0m2.2 .3h0m2.2-.4h0m.4 .2h0m.3-.6h0m2 .9h0m7.4-.8h0m50.2 .4h0m2.3-.2h0m1 .3h0m.8-.7h0m2.5 .7h0m.4-.3h0m7.7-.4h0m.3 .8h0m4.4-.5h0m6.9-.1h0m3.2-.1h0m5.2 .3h0m.3 .3h0m-150.4 .4h0m7 .4h0m8.1 .3h0m2.6-.1h0m3.6 0h0m.9-.1h0m3-.2h0m.7-.2h0m.2 0h0m1.1-.1h0m.1 .7h0m.1-.4h0m.9 .1h0m1-.1h0m.7-.1h0m.2 .2h0m.3-.1h0m.1 .5h0m1.1-.2h0m.2-.7h0m1 .4h0m.4 .1h0m.3-.3h0m.7 .1h0m.3 .6h0m.5 0h0m.4-.6h0m.2 .5h0m.9-.7h0m.7 .4h0m.2 .5h0m.1-.7h0m.5 .3h0m.2 .1h0m.4-.5h0m.6 .7h0m.3-.4h0m.2 .1h0m.5 0h0m.6-.4h0m.1-.1h0m.1 .8h0m0 0h0m.2-.7h0m1.5 .5h0m.7-.4h0m.1 .5h0m.4 .1h0m.1-.2h0m.2 .1h0m.3-.4h0m1.2-.1h0m.6 .5h0m.3-.1h0m.2 .2h0m.6 .1h0m.1 0h0m1.3 0h0m.1-.1h0m.2-.2h0m.7 .2h0m.7-.1h0m.1-.4h0m.2-.4h0m.4 .4h0m1 .4h0m1.1 0h0m1.2-.6h0m.2 .5h0m0-.4h0m.5 .6h0m.2-.4h0m.4-.2h0m3.1 .4h0m2.4-.6h0m6 .4h0m33.5 .1h0m7.7-.2h0m9.5 .1h0m0 0h0m.9 .2h0m6.5-.1h0m.2-.1h0m.3-.3h0m6 0h0m6.4 .6h0m3.2-.8h0m1.5 .5h0m.9 .1h0m10.2-.4h0m-154.4 1.7h0m1.4 0h0m3.1-.2h0m6.9 .1h0m2-.7h0m1.2 .5h0m2.5-.2h0m1.9 .2h0m4.3 .2h0m1.9-.6h0m2.6 .6h0m3.1 .1h0m.6-.5h0m.4 .6h0m.1-.6h0m.9 .4h0m.4-.2h0m.2 .4h0m0-.6h0m1 .6h0m0-.5h0m.6 .5h0m.6 0h0m0-.4h0m.4 .1h0m.2-.2h0m.7 .3h0m.5-.7h0m.7 0h0m.6 .4h0m.3 .1h0m0 .2h0m.6-.4h0m0 0h0m.2-.1h0m.6 0h0m.4 .6h0m.1-.8h0m.7 .3h0m.1 .4h0m.1-.7h0m1.9 .1h0m.5 .2h0m.1 .5h0m.2-.3h0m1.5 .1h0m0-.7h0m.2 .6h0m.2-.3h0m.9 .3h0m.3-.6h0m.2 .6h0m.8 0h0m.5-.2h0m.1 .1h0m.1 .5h0m.1-1h0m1.7 0h0m.1 .2h0m.1 .2h0m.4 .3h0m.7 .3h0m.3-.9h0m.1 .6h0m1.8 .1h0m.5-.6h0m.3-.1h0m1 .4h0m.1 .3h0m1.3-.5h0m5.2-.2h0m43.7 .2h0m14.9-.2h0m3.6 .6h0m8.3 0h0m6.5-.6h0m6.4 .6h0m5.9-.4h0m18.3-.1h0m-191.4 1h0m18.2 .4h0m6.5 .4h0m.2-.5h0m3.3 .2h0m.8-.1h0m13.7-.2h0m.2-.3h0m.1-.1h0m3.1 .8h0m.1-.1h0m.5 .3h0m.4-.7h0m1.4 .5h0m.7-.5h0m1.4 .6h0m.9-.2h0m0-.4h0m.5-.1h0m.5 .4h0m.1-.3h0m.3 .3h0m0 .1h0m1.5 0h0m0 .2h0m.2-.7h0m1.1-.1h0m0 .9h0m.1-.7h0m.6 .6h0m.2-.4h0m.2 .5h0m.2-.6h0m0-.1h0m0 .6h0m1.2-.5h0m.6-.3h0m.7 .6h0m0-.5h0m.1 .2h0m1 .2h0m0-.3h0m.2 .2h0m.8-.3h0m0 .2h0m.1-.1h0m.4 0h0m.1 .4h0m0-.2h0m.8-.4h0m.2 .3h0m.2 .2h0m1.1-.2h0m0-.4h0m.2 .4h0m.6 .2h0m.2 .1h0m.3-.5h0m.2 0h0m.2-.1h0m.8 .6h0m.3-.2h0m.6-.3h0m.2 .4h0m.6 .3h0m.2-.3h0m.5-.6h0m1.2 .5h0m0 .1h0m.2-.1h0m.6 0h0m.3 .4h0m.3-.5h0m.5 .3h0m.2 .2h0m.2-.1h0m1.2 .2h0m.4-.2h0m5.3-.1h0m.2 .1h0m50.9-.7h0m4.1 .7h0m1.2 .1h0m7.9-.4h0m6.4 .5h0m.3-.8h0m3.6 .2h0m2.3 .6h0m2.2-.1h0m0-.3h0m.6-.1h0m2-.4h0m1 0h0m-139.4 1.5h0m14.1-.1h0m1.1-.2h0m5.5-.3h0m1.8 .8h0m.2-.1h0m.3 .2h0m.1 0h0m1.9-.1h0m.2-.5h0m1.3-.3h0m.2 .4h0m.2 .3h0m.7-.1h0m.2-.6h0m.2 .4h0m.3 .4h0m.3-.3h0m.3 0h0m0 0h0m.8 .1h0m.2 0h0m.3-.4h0m.1 .6h0m1-.7h0m.3 .2h0m.2 .4h0m.1-.6h0m.6 .2h0m0 .5h0m.5 0h0m.2-.7h0m.8 .9h0m.2-.6h0m.4 .5h0m.8-.7h0m.1 .2h0m0 .6h0m1.1-.5h0m.1 .2h0m0 .2h0m.1-.6h0m.6 .5h0m.2-.4h0m.5-.1h0m.2 .5h0m.1 0h0m.9 0h0m.1 .1h0m.4-.2h0m.1-.3h0m.9-.3h0m.2 .9h0m.3-.5h0m.2-.2h0m.5 0h0m.1 0h0m.2 .3h0m.8-.5h0m.2 .9h0m.4-.2h0m.5-.2h0m.2 .2h0m.6 .1h0m.4 0h0m.7-.4h0m.8 .3h0m.1-.1h0m.7-.6h0m.4 .2h0m.1 .1h0m.4 .3h0m.7-.6h0m.9 .6h0m1.9-.6h0m.7 .5h0m2.5-.4h0m.5 .8h0m.5-.6h0m2.2 .4h0m0 0h0m1.8-.3h0m54.7-.2h0m6.5 .6h0m.7-.4h0m1.7 0h0m2.9 .2h0m4.3 0h0m1.5-.1h0m1.8 .2h0m4.9-.2h0m11.7-.4h0m-162.9 .8h0m15.6 0h0m5 .4h0m1.1 .3h0m3.2-.3h0m1.8-.2h0m4 .6h0m2.4 .1h0m2.7-.6h0m.3 .7h0m.5-.2h0m2-.1h0m.2-.3h0m.8 .1h0m.1 .1h0m.8-.5h0m.3 .5h0m.6-.3h0m.4 .5h0m.3-.7h0m.1 0h0m.7 .1h0m.2 .1h0m.5 0h0m.4 .6h0m.3-.6h0m0 .2h0m.7-.4h0m0 .4h0m.3 .5h0m.4-.4h0m.2-.3h0m.1-.2h0m.7 .3h0m.2-.1h0m.5 0h0m.6 .4h0m.3 .2h0m.2-.5h0m.3 .1h0m.6 .3h0m0 .1h0m.4-.4h0m.3 .4h0m0 0h0m.7-.1h0m.2-.7h0m.1 .9h0m.6-.1h0m.2-.6h0m.1-.2h0m.8 .7h0m.8-.1h0m0-.5h0m.1 .7h0m.1-.5h0m.2 0h0m1.2-.2h0m0 .3h0m.3-.1h0m.5 .2h0m1.2 .4h0m.3-.7h0m.1-.3h0m.4 .1h0m.4 .4h0m0-.2h0m.5 .6h0m.3 .1h0m1-.6h0m1.2 .5h0m.5-.7h0m.8 .1h0m.2 .1h0m.8-.2h0m.3 .3h0m1 .3h0m.7 .1h0m.7-.2h0m15-.2h0m44.9 0h0m4.2-.4h0m5.6 .4h0m1 .3h0m9.9-.6h0m3 .1h0m5.4 .7h0m4.3-.2h0m1.2 0h0m.7-.1h0m1.7 0h0m-173.3 .7h0m2.1-.1h0m23.1 0h0m9.5 .3h0m4.3-.1h0m3.8-.4h0m.5 .5h0m2.7-.4h0m.4-.1h0m.7 .1h0m.4 .6h0m.1-.4h0m.6 .6h0m1.4-.3h0m.1-.4h0m.1 .6h0m.3-.3h0m.8-.2h0m.4 .4h0m.3-.3h0m1.9 .2h0m.4-.6h0m.1 .7h0m.6 0h0m.2-.4h0m.5-.1h0m.1 .6h0m.4 0h0m.6-.8h0m.1 .8h0m.3-.5h0m.7 .3h0m.2-.2h0m.4-.2h0m.3-.1h0m0 .5h0m.6-.7h0m.7 .6h0m.1 .3h0m.5-.7h0m.2 .3h0m.7-.4h0m.2 .9h0m.1-.5h0m1-.1h0m0 .5h0m.1 0h0m.6-.2h0m.6-.5h0m0 0h0m.5-.1h0m.4 0h0m.2 0h0m0 .5h0m1.8 0h0m.1 .1h0m0-.4h0m.9 .4h0m.5-.3h0m.2 0h0m.3 .2h0m.9 .2h0m.2-.1h0m.8-.1h0m1 .1h0m.1 0h0m.3 0h0m.1-.5h0m1.8 0h0m.3 .3h0m3.2 .4h0m.4-.5h0m.1 .4h0m1 .2h0m1.1-.8h0m35.3 .8h0m15.2-.4h0m2 .3h0m1.7-.8h0m2.7 0h0m5.2 .5h0m.1 .1h0m.6 .2h0m.5-.1h0m1.5 .1h0m3.7 0h0m1.4-.3h0m6.3-.6h0m8.2 .3h0m2.3 .5h0m14.8-.1h0m-180.1 .6h0m2.4-.2h0m6.6 .4h0m5.4 0h0m12.6 .2h0m3-.2h0m.7-.4h0m3.5-.1h0m1.3 .9h0m.9-.1h0m2-.5h0m6.5 .1h0m1.1 .4h0m.3-.4h0m.7 .5h0m.4-.2h0m1.3-.5h0m.3 .6h0m.2-.6h0m.5 0h0m.2 .5h0m1-.6h0m.2 .3h0m.1 .3h0m1-.2h0m.3 .4h0m.1-.7h0m.4 .1h0m.5 .5h0m.3-.4h0m.4 .2h0m.6-.4h0m0 .1h0m.1 .3h0m.4 .3h0m.5-.5h0m.1-.2h0m.9 .3h0m0-.5h0m0 .1h0m.5 .2h0m.7 .6h0m.1-.1h0m.5 0h0m.5 .1h0m.1-.5h0m.6 .6h0m.1-.1h0m.2-.2h0m.4-.6h0m.7-.1h0m0 .6h0m.2 .2h0m.5 .1h0m.4 .1h0m.2-.2h0m.1-.6h0m1.1 .7h0m.5-.7h0m.3 .2h0m.2 .3h0m.3-.3h0m.6 .2h0m.1-.6h0m.4 .8h0m.3 .1h0m.5-.1h0m.1-.2h0m.3-.5h0m.1 .4h0m.7 0h0m.5 .4h0m.4-.7h0m.2 0h0m.6 .2h0m.3-.3h0m.2 .6h0m1.2-.6h0m.5 .3h0m1.5 .2h0m.5-.3h0m.5 .6h0m9.1-.4h0m22.5 .1h0m16.6-.5h0m6.4 .7h0m10.6-.7h0m3.9 .1h0m1.8 .8h0m7.9-.1h0m.5-.3h0m2.1 0h0m.7 .3h0m3.9-.5h0m3.9-.2h0m9.4 .4h0m-173.3 1.3h0m9.9-.2h0m1-.4h0m18 .1h0m1.4-.3h0m8.4 .1h0m2 .6h0m1.3-.6h0m1.9 .2h0m.1-.1h0m.4 .2h0m.5 .5h0m.4-.9h0m.3 .6h0m.2 .2h0m1.1 0h0m.2-.3h0m.5-.2h0m.3 .1h0m.2 .4h0m.5-.8h0m.7 .5h0m0-.6h0m1.2 .9h0m.2-.1h0m0-.4h0m.3 0h0m.6-.2h0m.1 .7h0m.4 .1h0m0-.4h0m.9-.1h0m.2 .3h0m.2-.1h0m.5-.7h0m.2 .4h0m.7 .5h0m.5-.9h0m.3 .8h0m0-.6h0m.6 .3h0m.2-.1h0m.3 0h0m.2 0h0m.1 .2h0m0-.1h0m1.6-.4h0m0 .6h0m0 .1h0m.2-.6h0m.2 .7h0m.4-.9h0m.8 .1h0m.2 .3h0m.2 .4h0m.3 .2h0m0-.7h0m.3 .3h0m.8-.2h0m.3 .4h0m.2-.6h0m.7 .8h0m.4-.2h0m.1-.3h0m.3 .3h0m.1-.4h0m.2 .1h0m1-.1h0m.2 .4h0m0-.8h0m.9 .1h0m.1 .9h0m.3-.4h0m.1 .3h0m0-.6h0m.4-.2h0m.8 .2h0m.2-.2h0m.3 .8h0m.9-.5h0m0 .2h0m.3-.3h0m.1 .3h0m.1-.5h0m2.5 .6h0m.5 .3h0m.4-.8h0m.1 .1h0m.9 .6h0m10.2-.4h0m1-.1h0m7.8-.2h0m38.3 .3h0m3.3 .4h0m3.9-.6h0m.4 .4h0m1.6-.6h0m2.3 .8h0m2.9-.7h0m.2 .7h0m6.5-.2h0m1.6 .2h0m.9-.8h0m7.3 .6h0m1.4-.1h0m.1-.5h0m5 .4h0m-184.5 1.1h0m22.9 0h0m7.9 0h0m7.2 0h0m6.1-.2h0m3.5-.2h0m4.3-.1h0m2.2 .8h0m1.2 0h0m.4-.3h0m5.5-.5h0m.1 .2h0m.3-.3h0m.3 0h0m.4 .7h0m1-.6h0m.8 .6h0m.7-.2h0m.3-.3h0m.3 .6h0m.1-.5h0m.1 .6h0m.9-.3h0m.5-.3h0m.2 .5h0m.2-.5h0m.3-.2h0m.3 .2h0m.9-.1h0m.1 0h0m.2-.1h0m.1 .3h0m1.5 .2h0m.1 .3h0m.2-.2h0m.2-.2h0m.1 .2h0m.7 .3h0m.1-.9h0m.4 .9h0m.4-.8h0m.9 .8h0m.1-.1h0m0-.2h0m.7 0h0m.4-.4h0m.1 .5h0m0-.8h0m.3 .2h0m.6 .8h0m.3-.9h0m.4 .8h0m.3-.5h0m.2 .1h0m.5-.4h0m.2 .2h0m.2 .1h0m.3-.2h0m.4 .7h0m.7-.8h0m.3 .5h0m0-.3h0m.5 .3h0m.3-.5h0m.4 .2h0m.8 .4h0m.1 0h0m.2 .1h0m.2-.4h0m.3 0h0m.6-.1h0m.7 .6h0m.1-.3h0m.6-.2h0m.4 .5h0m.6-.7h0m.3 0h0m.3-.2h0m.2 .7h0m.7-.4h0m.2 .4h0m.3-.4h0m.2 .1h0m.8 .1h0m.2-.4h0m.4 .7h0m1.1-.6h0m1.9 .6h0m52.7-.5h0m12.5 .2h0m2.8-.4h0m1.1-.1h0m7.2 .9h0m.8-.4h0m.3-.3h0m.4-.1h0m1.5 .2h0m3.3-.1h0m6.3 .3h0m-138.1 1.4h0m5.7-.2h0m1.5 .2h0m3.9-.6h0m.8-.3h0m.7 .6h0m4.2-.3h0m.2 0h0m.3 .3h0m.9-.2h0m.5 .2h0m.1 .1h0m.4-.5h0m.7 .6h0m.2-.4h0m.2 .1h0m.7 0h0m0-.1h0m.3-.2h0m0 .8h0m.6 0h0m.5-.9h0m.2 0h0m.4 0h0m.3 .4h0m.2-.4h0m.4 .7h0m.5-.3h0m.6-.3h0m0 .1h0m.8 .1h0m.1 0h0m.1-.4h0m.5 .1h0m.1 .9h0m.1-.5h0m1 .4h0m0-.8h0m.3 .1h0m.4 .8h0m0-.4h0m.4-.3h0m.9 0h0m0 .2h0m.1-.3h0m.7-.2h0m.4 .9h0m.1 .1h0m.1-.3h0m.5-.5h0m.2 .3h0m.7-.5h0m.2 .6h0m.3-.3h0m.3 .3h0m0 .3h0m.6-.9h0m.3 .8h0m.5 .1h0m.2-.6h0m.3 .3h0m.1-.1h0m.1 .3h0m.9-.2h0m.2 0h0m.6-.6h0m0 .9h0m.1-.9h0m.1 .8h0m1.1 0h0m.2-.5h0m.4 .2h0m.1 0h0m.4-.3h0m.6 0h0m.2 .6h0m1.1-.7h0m0 .7h0m.2-.2h0m.8-.4h0m.6 .3h0m1.8 0h0m.1-.3h0m2.8 .7h0m4.8-.3h0m.3 .1h0m.4-.3h0m5.8-.2h0m41.9-.2h0m13.6 .7h0m2-.4h0m3 0h0m1.9-.2h0m6.6 .2h0m.3 .2h0m.5 .3h0m1-.4h0m2.2-.3h0m-153 1.1h0m1.4 .7h0m21.2-.4h0m4.1-.5h0m.5 .2h0m3 .4h0m2.4-.1h0m2-.4h0m.1 .7h0m.8-.3h0m1.9 .4h0m0-.2h0m.3-.1h0m.8-.1h0m1.5 .1h0m1.2-.1h0m.5-.3h0m0 .1h0m.9 0h0m0 .4h0m0 .1h0m.8 0h0m.2 .1h0m0-.9h0m.5 1h0m.2-.7h0m.6 .4h0m.6 .2h0m0-.1h0m.6-.1h0m.3-.1h0m.3-.5h0m.1 .5h0m.5 .3h0m.5 0h0m.3-.6h0m.3 .3h0m.2 .4h0m.1-.7h0m.9 .6h0m.3-.7h0m0 .4h0m.7-.4h0m.1 .7h0m.3-.8h0m.6 .3h0m.2-.4h0m.2 .6h0m.4 .3h0m.1-.8h0m.4 .2h0m.2 .4h0m.2 .1h0m.5-.5h0m.4 .2h0m0-.3h0m.6 .5h0m.4-.6h0m0 .2h0m.5 .4h0m.5 .2h0m.3-.1h0m.5-.3h0m.1 .1h0m.1 .2h0m.6-.7h0m.5 .2h0m.1 .4h0m.1-.6h0m.8 .4h0m.4-.1h0m.3 .5h0m.3 0h0m.2-.3h0m.5-.4h0m.2 .4h0m0 .1h0m.4-.3h0m1.4 .5h0m.6 0h0m.8-.5h0m.1-.2h0m.5 .3h0m1.1 .1h0m1.3 .3h0m1-.6h0m.3 .3h0m.9-.1h0m.3 .5h0m48.4-.1h0m2.6-.6h0m10.2 .1h0m5.6 .1h0m1.7-.2h0m4.3-.1h0m.5 .6h0m.6-.6h0m2.3 .8h0m1.5-.9h0m3.7 0h0m2.8 .3h0m3-.2h0m5.7 .6h0m2.1-.1h0m-192.1 .6h0m46.2 .3h0m.3 .1h0m8.5-.3h0m1 .4h0m1.9-.7h0m1.7 .6h0m1.1-.4h0m.4 .1h0m1 0h0m.3-.3h0m0 .8h0m.1 .1h0m1.2-.8h0m.4 .4h0m1.3-.3h0m2.4-.1h0m1.1 .1h0m.2 .4h0m.1-.1h0m.4 .2h0m.6 .2h0m.1-.7h0m.5 .2h0m.5-.2h0m.1 0h0m.6 .4h0m.5-.3h0m.6 .1h0m0 .5h0m.7-1h0m.3 .1h0m0 .3h0m.4 .3h0m.5 0h0m.2 .2h0m.3-.1h0m.4 0h0m.2-.1h0m.4-.5h0m.1 .3h0m.4 .5h0m.4-.3h0m.1-.1h0m.2 .3h0m.8-.5h0m.2 .2h0m0-.4h0m.7 .6h0m0 .1h0m.3-.4h0m.9 .1h0m0-.2h0m.3 0h0m.7-.3h0m.3 .5h0m.3 .4h0m.1 0h0m.1-.6h0m.5 .2h0m1.2 .2h0m0-.2h0m0-.1h0m.3-.3h0m.8 .6h0m.1-.3h0m.1-.1h0m.1-.4h0m.1 .1h0m1 .9h0m.9-.3h0m.4 .1h0m.2 .1h0m.5-.3h0m.5 .3h0m.3-.7h0m1.3 0h0m.3 .5h0m1.3-.4h0m1.5 .4h0m1 .2h0m1.1-.4h0m1.3 .3h0m1.4-.6h0m54.3 .1h0m.8-.2h0m3 .6h0m4.7 .2h0m1.6-.1h0m.1-.3h0m.6-.2h0m2.2 .1h0m.3-.4h0m4.2 .9h0m8.7-.4h0m4 .2h0m3-.2h0m.8 .2h0m2.1-.6h0m-160.3 1.1h0m24.6-.1h0m6.3 .4h0m2-.5h0m1.3 .1h0m1.9 .1h0m.1 .2h0m.2 .3h0m.5-.3h0m.2 0h0m.4 .5h0m.5-.4h0m.4 .1h0m1.5-.2h0m.2 .3h0m.1 .2h0m.6-.4h0m.2-.3h0m.4 .4h0m.5 .3h0m.4-.3h0m0-.6h0m.4 .5h0m.3 .2h0m.9-.5h0m0 0h0m.4 .4h0m.4 .1h0m.5-.6h0m.1 0h0m.3 .6h0m.1 0h0m.2 0h0m.7-.3h0m.5 .3h0m.2-.6h0m.3 .8h0m.3-.6h0m.1 .5h0m.8-.6h0m.4 .7h0m.1 0h0m.6-.8h0m.1 .7h0m.4-.5h0m.5 .5h0m.5-.2h0m.1-.3h0m.7-.2h0m.2 .1h0m.1 .6h0m.6-.1h0m0-.2h0m.1-.3h0m.6 .2h0m.3-.1h0m.3 0h0m.2 .3h0m.7-.3h0m0 .2h0m.8-.4h0m.3 .7h0m.1-.4h0m.7 .4h0m0-.4h0m.4 .4h0m.2-.2h0m0-.5h0m.1 .4h0m1.3 .1h0m.2-.2h0m.1 .4h0m.3 .2h0m.2-.1h0m.1-.3h0m2.1-.1h0m.6-.4h0m.7 .6h0m1.6-.4h0m.7 .1h0m1.4 .5h0m.4-.8h0m.2 .7h0m.6-.4h0m3.1 .3h0m48.7-.6h0m4.2-.1h0m.5 .8h0m1.5-.2h0m1 .4h0m2.9-.4h0m3.3-.5h0m1.7 .4h0m.3 .3h0m1.3-.3h0m3.9-.1h0m.7 .1h0m.1 .3h0m3.2-.5h0m15.3 .2h0m15.3 .4h0m-187.9 .7h0m20.3 .3h0m5.3-.3h0m0-.1h0m13.2 0h0m4 .1h0m.9 .3h0m1.2-.7h0m2.3-.2h0m.1 .8h0m1.6-.6h0m.5 .5h0m0-.2h0m.1-.2h0m1.6-.1h0m.4 .2h0m1.4 .5h0m0-.1h0m.5-.5h0m.3-.2h0m.1 .1h0m.6 .3h0m.5 .4h0m.1-.6h0m.1 .1h0m.6-.1h0m.2 .5h0m.4 .1h0m.3-.5h0m.3 .1h0m.5 .2h0m.3-.2h0m.4 .1h0m.4 .4h0m.2-.9h0m.1 0h0m.9 .7h0m.2-.4h0m.1 .2h0m.6-.6h0m.4 .8h0m0 .1h0m.8-.1h0m0-.2h0m.2 .3h0m.3 0h0m.2-.2h0m.3-.6h0m.5 .4h0m.1-.3h0m.1 0h0m.9 .5h0m.3-.5h0m.1 .3h0m.6 0h0m.4 0h0m.1-.4h0m.3 .5h0m.4 .3h0m.6-.1h0m0-.2h0m.3-.1h0m.7 0h0m.6 .1h0m0-.3h0m.5 .6h0m.3-.7h0m.4-.1h0m.3 .7h0m.3-.4h0m.3 .4h0m.2-.5h0m1.3-.1h0m.4 .4h0m.2 .2h0m1.9-.4h0m2.2-.4h0m.3 .2h0m0 .5h0m1 .1h0m.1-.4h0m1.7-.2h0m.6 .8h0m.4-.4h0m2.9-.3h0m2.9 .7h0m37.3-.9h0m6 .2h0m4.8 .3h0m1.4 .3h0m2.6-.8h0m0 .4h0m1.3-.3h0m.4 .6h0m.2 .1h0m3.8-.7h0m.7 .5h0m1.8 .2h0m4.9-.8h0m.5 .8h0m.2-.5h0m3-.3h0m8 .5h0m2.2 0h0m3.5 .1h0m4.8 .3h0m2.3-.8h0m-192.3 1h0m33.8 .6h0m14.5-.7h0m5 .7h0m2-.7h0m2.3 .6h0m2 .3h0m4.3-.7h0m.3-.3h0m0 1h0m1.4-.1h0m.7-.6h0m.2 .5h0m.1 .1h0m.2-.6h0m.2 0h0m.6 .2h0m1.6 0h0m.1 .4h0m.1-.8h0m.8 .4h0m.2-.3h0m.2 .6h0m.1-.7h0m.2 .5h0m.3 .2h0m.6-.2h0m.2-.2h0m.8 .4h0m.3-.1h0m.5-.3h0m.3 .5h0m.2-.2h0m.6-.3h0m.5-.3h0m.1 .1h0m.2 .1h0m.3 .4h0m.5 .1h0m.4-.2h0m.1-.4h0m.1 .6h0m.5-.4h0m.5-.3h0m.2 .4h0m.1 .4h0m.7-.1h0m.2-.6h0m.1 .6h0m.6 .2h0m.3-.9h0m.1 .5h0m.9 .3h0m.1-.8h0m.4-.1h0m.5 .1h0m.5 .8h0m0-.1h0m.3-.1h0m.1-.4h0m.2 .2h0m.6 .3h0m.4-.1h0m.4-.3h0m.2 .5h0m0-.5h0m.6-.1h0m.7 .4h0m1 .1h0m.1-.3h0m.1 .4h0m.6-.5h0m.5 .3h0m0-.5h0m1.5 .5h0m.6-.7h0m.4 .4h0m.6 .6h0m.7-.8h0m.4 .6h0m1.5-.3h0m1.3 .5h0m.1-.5h0m7 .2h0m42.2 .2h0m2.4-.8h0m3.4 .6h0m6.5-.4h0m3.5 .2h0m.8 .3h0m1.6-.5h0m1.5-.1h0m1.8 .3h0m.8 .1h0m2.8-.5h0m2 .1h0m7.1 .1h0m.6 .5h0m.7-.6h0m5.4-.1h0m.3 .4h0m2.3-.4h0m-157.9 1.3h0m8.8 .5h0m10.9-.1h0m7.2-.2h0m1.8-.5h0m.2 .5h0m.2-.5h0m.3 .5h0m.5 .4h0m.3-.2h0m.4-.5h0m2.2 .3h0m0 0h0m.5-.2h0m1 .1h0m.4 .3h0m0-.6h0m.7 .4h0m.1 .1h0m.4-.6h0m.4 .2h0m.2 .1h0m.6 .6h0m.2-1h0m.2 .3h0m.7-.1h0m.5 .6h0m.3-.3h0m0 0h0m.8 .3h0m.2-.2h0m1.1 .1h0m.2-.4h0m.1 .1h0m.3 .2h0m.3-.2h0m.1-.3h0m.4 .2h0m.6 0h0m.2-.2h0m.1 .2h0m.5-.2h0m.1 .3h0m.8 .3h0m0-.3h0m.6 .4h0m.2-.1h0m.7 .2h0m.1-.6h0m.4 .6h0m.2 .1h0m.1-.4h0m.8 0h0m0-.6h0m.1 .7h0m.6-.1h0m.7 .3h0m.1-.2h0m0-.2h0m.1 0h0m.9 .2h0m.1 0h0m.3 .2h0m.6 0h0m.7-.3h0m.1 .1h0m.2-.6h0m.3 .3h0m.6 .1h0m.1 0h0m.4 .4h0m.1-.1h0m.1-.1h0m.6 0h0m.1 0h0m.2 0h0m.5-.4h0m.6 .6h0m.1-.4h0m1-.3h0m.1 .8h0m.1-.9h0m1.3 .1h0m.1 .6h0m.4-.4h0m.3-.4h0m1.2 .6h0m1.4-.2h0m.2-.2h0m.4 .3h0m.7-.4h0m.3 .2h0m.6 .1h0m1.4 .3h0m2.7-.1h0m1.7-.2h0m48.9 .1h0m.9-.2h0m1.6 0h0m4.7 .2h0m2.8 .4h0m3 0h0m3.6-.2h0m1.2-.4h0m2.4 .3h0m2.3 .2h0m5.1-.1h0m1.3 .3h0m4.2-.7h0m11.3 .4h0m-159.3 .9h0m5.4-.3h0m.7 .1h0m2.1-.3h0m2.5 0h0m3.1 0h0m3.6 .6h0m.8 0h0m5.4-.7h0m5.2 .8h0m.4-.3h0m.2 .5h0m1.6-.7h0m.4-.3h0m.5 .1h0m1.1 .6h0m.1-.3h0m.3 .6h0m.5-.5h0m.1-.3h0m0 0h0m.6 .4h0m.4 .1h0m.1 .1h0m.4 0h0m.8 .1h0m.5-.1h0m.2-.7h0m.1 .3h0m1 .2h0m.1-.5h0m0 .1h0m.7-.1h0m.2 .3h0m.1 .3h0m.3-.5h0m.2 .4h0m.4-.5h0m.6 .8h0m.2 0h0m0-.2h0m.9-.1h0m.1-.5h0m.1 .8h0m.7-.4h0m.1-.4h0m.1 .2h0m.9 .6h0m.1-.4h0m.4 0h0m.1 0h0m.1-.4h0m.2 0h0m1.3 .7h0m.1-.5h0m.2 .4h0m.6-.5h0m.1 .5h0m.4 .1h0m0-.7h0m.1 .6h0m.1-.6h0m1.3 .9h0m0-.3h0m.6-.1h0m1.1 .2h0m0-.6h0m.1 .2h0m.8-.3h0m.1 0h0m.5 .7h0m.5-.3h0m3.3 .1h0m0-.4h0m.1 .2h0m2.3-.4h0m.8 .5h0m14.7-.3h0m39 .3h0m9.7 0h0m6.6 .4h0m6.3-.5h0m.5 .4h0m1.5-.4h0m9 .2h0m1.6-.5h0m5.6 .3h0m-161.6 1.2h0m21-.1h0m4.4-.4h0m5 .1h0m1.1-.1h0m1.8 .9h0m1-.8h0m1.2 .8h0m1.7-1h0m1 .4h0m.6 0h0m.5 .3h0m.2-.5h0m.7 .4h0m.7-.3h0m.3 0h0m.9 .3h0m.4 .2h0m.5-.1h0m.7-.1h0m.2-.1h0m.4 .4h0m.4 0h0m.5-.8h0m.2 .8h0m.2-.6h0m.4 .1h0m.1 0h0m.4-.2h0m.1 .6h0m.1-.6h0m.7 0h0m.2 .3h0m.2 .1h0m1-.1h0m.4 .1h0m.2-.3h0m.3 .4h0m.6 .1h0m.2-.7h0m.6-.1h0m.2 .6h0m.3-.2h0m.4 .3h0m.2-.7h0m.4 .7h0m.1-.4h0m.1 .6h0m.9-.6h0m.1-.1h0m.6 .3h0m.2 .2h0m.3-.3h0m0 .1h0m.6 .1h0m0 .2h0m0-.3h0m1.2 .1h0m0-.4h0m.1 .4h0m.7-.3h0m.7 .5h0m.1-.1h0m.6 .2h0m.2 0h0m.8-.5h0m.2 .1h0m.3-.3h0m.8 .4h0m.6 .1h0m.2 .2h0m.3-.9h0m.1 .9h0m.6-.8h0m0 .7h0m3.1 .1h0m3.7-.9h0m1.5 .2h0m1.7 .1h0m2.9 .1h0m.8-.2h0m3.8 .6h0m30-.5h0m15-.1h0m4.8 .7h0m7 .1h0m.4-.1h0m.7-.2h0m.8-.6h0m3 .4h0m.5-.1h0m4.2-.3h0m4-.1h0m3 .6h0m.5 .1h0m2.5-.6h0m-151 1.8h0m22.7-.1h0m5.5 .1h0m1-.5h0m2.2 0h0m.3 0h0m2.5-.3h0m.9 0h0m.2 .8h0m1.2-.3h0m.5-.2h0m.1-.1h0m.5 .7h0m.5-.2h0m.4-.5h0m.1 0h0m.2 0h0m.6 .6h0m.4-.4h0m.6 .4h0m.1-.3h0m.4 .3h0m.2-.6h0m0 .1h0m1.2-.3h0m.3 .2h0m.5 .5h0m.1-.2h0m.8-.2h0m.1-.1h0m.4 .1h0m.1-.1h0m.4 .2h0m.4 .1h0m.1 .2h0m0-.2h0m.2 .2h0m1.2-.1h0m.4-.6h0m0 .1h0m.4 .6h0m.4-.6h0m.4 .6h0m0-.4h0m.3 .4h0m.3-.3h0m1.7-.1h0m.2-.2h0m.3-.2h0m.4 .3h0m.2 0h0m.8 .2h0m.1-.1h0m.1 .6h0m1-.6h0m.4 .1h0m.6-.2h0m.3 .6h0m.1-.5h0m.6 .3h0m1-.1h0m.4-.4h0m1.6-.2h0m.2 .5h0m.2 .1h0m.3-.2h0m.9-.3h0m.8 .9h0m2-.3h0m2.8-.5h0m49 0h0m4.1 0h0m5.8 0h0m1.1 .4h0m.7 .2h0m1.4-.8h0m1.3 .4h0m2-.1h0m1.4 0h0m2.6-.2h0m1 .7h0m.4-.7h0m.3-.1h0m8.9 .9h0m7.2-.7h0m-136.7 1.7h0m9.9-.6h0m.4 .7h0m.9-.7h0m1.3 .6h0m.7-.5h0m.3 .5h0m.3-.1h0m1.7-.1h0m4-.3h0m.5-.2h0m.1 .2h0m.5 .5h0m.6-.4h0m.1-.5h0m.2 .8h0m1.3 .2h0m.5-.1h0m.4-.2h0m.1 0h0m.2-.2h0m.1-.2h0m.7 .2h0m.2-.4h0m.2-.1h0m.2 .2h0m.5 .2h0m.2 .3h0m.7 .2h0m.2-.5h0m.3-.1h0m.4 .5h0m.5 0h0m.1-.2h0m.6-.3h0m0-.2h0m.8 .6h0m.2 .2h0m.3-.4h0m.4-.3h0m.2 .5h0m.4 .3h0m0 0h0m.8-.2h0m.9-.5h0m0-.1h0m.4 .6h0m.3-.1h0m.2 .2h0m.2-.6h0m.3 0h0m.1 .3h0m.6 0h0m.1-.3h0m.8 0h0m0 .7h0m.3-1h0m1.1 .2h0m.1 .6h0m2-.1h0m.4-.2h0m.7 .2h0m.9-.7h0m.3 .5h0m.8-.3h0m.2 .4h0m4-.3h0m.2 .2h0m18.8 .1h0m32.7-.1h0m1.1 .4h0m15.7-.8h0m2.8 .4h0m1.8 0h0m4 0h0m2.1 .1h0m4.8 0h0m1.2-.2h0m5.1-.4h0m-135.9 1.6h0m4.3 .3h0m8.9-.3h0m1.8 .2h0m1.3 .1h0m.4 .1h0m1.1-.8h0m.7 .2h0m.7-.3h0m.5 .9h0m.1-.1h0m.5-.2h0m.3 .1h0m.1-.1h0m.4-.6h0m.1 .4h0m.3 .2h0m.3 .3h0m.6-1h0m.5 .8h0m.4-.3h0m.1-.3h0m.9 .3h0m.3-.3h0m.2 .7h0m0 0h0m.3-.4h0m.4 0h0m.9 .4h0m.2-.7h0m0 .7h0m.3-.1h0m.7-.6h0m.1 .8h0m.6-.4h0m.1-.5h0m.3 .7h0m.2 0h0m.1-.5h0m.7 .4h0m.3-.1h0m.3 0h0m0-.2h0m.6-.3h0m.8 .3h0m0-.1h0m.2-.1h0m1 .6h0m.9 .2h0m0-.8h0m.3 .4h0m.4-.4h0m.3-.1h0m.2 .2h0m.1 .6h0m1-.7h0m0 .7h0m1.5-.2h0m.4 .2h0m.1-.1h0m.6-.4h0m.1 .1h0m2 .1h0m1.1 .1h0m3.6-.1h0m44.9-.3h0m23.2 .2h0m.9 .2h0m.2-.1h0m8.1 .1h0m1.3 0h0m1.5-.3h0m1.5-.2h0m.5 .5h0m.9 .2h0m1-.2h0m3.5 0h0m7.8 .2h0m-137.5 .5h0m4.6 .3h0m5-.3h0m1.1 .2h0m1.6 .1h0m0-.4h0m.5 .1h0m.5-.1h0m.2-.1h0m.2-.2h0m.1 .2h0m.6 .3h0m.5-.1h0m.1-.1h0m.6 .5h0m2.2-.4h0m0 .3h0m0-.6h0m.9 .5h0m.6-.2h0m.4 .3h0m1-.1h0m.2-.3h0m.2 .3h0m.6-.3h0m.1 .2h0m.1 0h0m1-.3h0m.3-.1h0m0 .1h0m.5 .7h0m.6-.3h0m.1 .1h0m.3-.7h0m.5 .1h0m.2 .8h0m.3-.2h0m.4-.1h0m0 .3h0m.9-.7h0m0 .7h0m.3 .1h0m.4-.8h0m.3 .1h0m.4 .3h0m.3-.2h0m.5 .3h0m.3 0h0m.3 .1h0m.6 .2h0m0-.2h0m.2-.8h0m0 .4h0m.9 .4h0m1.6-.7h0m.3 0h0m0 .1h0m.7 .7h0m1.3-.6h0m.1-.3h0m1.1 .1h0m2.1 .6h0m.2-.1h0m2.7 .2h0m.9 0h0m.6-.5h0m61 .6h0m1.5-.3h0m1.3 0h0m.3 0h0m3.4 .3h0m2.1 .1h0m1-.1h0m3.6-.9h0m3.5 .8h0m.4-.1h0m6 .1h0m11.7-.7h0m-144.8 1.5h0m1.6-.4h0m6.1 0h0m1.5 0h0m1.3 .6h0m.1-.6h0m1 .3h0m.9 .2h0m1.5-.3h0m2 0h0m.9 .6h0m.8-.7h0m.2 .7h0m.6-.1h0m1.8-.3h0m0-.5h0m.6 .2h0m0 .5h0m.1-.2h0m.6-.1h0m.7 0h0m.3 .4h0m0-.6h0m.7 .7h0m.2-.2h0m.9 .1h0m0-.2h0m.6-.7h0m.1 0h0m.2 .8h0m.3-.7h0m1.2 .6h0m.1 0h0m0-.1h0m.5 0h0m.2-.3h0m.2-.1h0m.9-.1h0m.4 .5h0m.1 .3h0m.6-.3h0m.3 0h0m0-.5h0m.7 .2h0m.3-.1h0m.1 .2h0m.9-.2h0m.3 .7h0m0-.8h0m.5 .3h0m.2 .5h0m.2 0h0m.3-.1h0m.8 .2h0m.8-1h0m.1 .3h0m.9 .2h0m.1 .1h0m.1 0h0m.3-.3h0m.6 .2h0m2.4-.4h0m.9 0h0m.6-.1h0m.3 0h0m.1 .7h0m.1-.6h0m.9 .1h0m6.9 .1h0m2 .3h0m3.3-.5h0m39.4 .2h0m7.3 0h0m2.5 .2h0m1.5-.3h0m3.5 .7h0m0-.2h0m7-.6h0m.3 .8h0m.4-.3h0m.6-.1h0m.6 0h0m.6-.3h0m5.8-.1h0m1.3 .4h0m.2 .2h0m9-.5h0m4.9 0h0m1.7 .7h0m-160.7 .2h0m10.4 .5h0m9.9-.1h0m2.2 .3h0m11.7-.6h0m.7 0h0m2.1 .1h0m1.4 .6h0m2.2-.4h0m.4-.3h0m1 .4h0m.3-.4h0m.2 .3h0m.6 .3h0m.1 .1h0m.3-.2h0m.4-.4h0m.5 .4h0m.3-.6h0m.2 .3h0m.3 .5h0m.4-.9h0m.7 .1h0m.1 .8h0m.2-.5h0m.4 .1h0m.3 0h0m0 .4h0m.6 0h0m.4 0h0m.5-.3h0m.2 .2h0m.7 .2h0m.4-.6h0m.2-.3h0m.3 .1h0m.3 0h0m.1 .7h0m.3 .1h0m.4-.6h0m.2 .6h0m.6-.8h0m.2-.2h0m.3 .6h0m.4 .2h0m.3-.3h0m.5 0h0m1.4 .3h0m.1-.5h0m.1 .2h0m.4-.1h0m.6 0h0m.8-.3h0m.6 .3h0m.4 .1h0m.7 0h0m1.2-.4h0m0 .6h0m.9-.6h0m0 .1h0m.2 0h0m.1 .7h0m.5-.4h0m3.9 .2h0m2.6 .2h0m50.8 .1h0m8.9-.4h0m1.4-.4h0m3.2 0h0m1.5 .7h0m1.4-.6h0m9.1-.2h0m9.4 0h0m-144.6 1.3h0m18.2 .4h0m2.3-.3h0m2-.1h0m2.3 .5h0m.9-.7h0m.6 .4h0m1.3-.2h0m.4 .1h0m.1 .1h0m2.1-.6h0m.1 .5h0m.1-.4h0m.5 .4h0m.5-.1h0m1-.2h0m.4 .3h0m.6-.5h0m0 .1h0m.5 .4h0m.4 .4h0m.2-.7h0m1.1 .2h0m0 .4h0m.1-.1h0m.7-.4h0m.1 0h0m.3-.1h0m.4-.1h0m.2 0h0m.2-.1h0m.4 .3h0m.3 0h0m.5 .1h0m.3-.1h0m.1 .6h0m.4-.4h0m.6 .4h0m0-.5h0m.1-.2h0m.8 .4h0m1 0h0m0-.1h0m.4 .3h0m.5-.2h0m0-.2h0m.8-.4h0m.4 .5h0m.1 .5h0m.2-.9h0m1.2-.1h0m.1 .3h0m.1 .7h0m.8-.8h0m.8 .1h0m0 .1h0m3.2-.1h0m1.5 0h0m2.4-.1h0m2.5 .7h0m.6-.8h0m57 0h0m7.6 .9h0m.1-.4h0m5.2-.3h0m5.9 .6h0m.6-.6h0m1.7 .4h0m4.5-.2h0m4-.3h0m19.8 .1h0m-156.3 1.5h0m10.4-.1h0m6.3-.4h0m1.1 0h0m.7 .2h0m1.2 .3h0m.1-.4h0m.4 .1h0m.4 0h0m.2 0h0m.4-.3h0m.7 .5h0m.3-.1h0m.4-.2h0m.8-.1h0m.2 .2h0m.4-.4h0m.9 .6h0m.2-.6h0m.5 .3h0m.4-.3h0m.6 .7h0m.1-.3h0m.2-.1h0m.2 .3h0m1.2-.1h0m.4-.2h0m1.6 .1h0m.9-.4h0m.1 .4h0m.1 .3h0m1 .1h0m.5-.3h0m.1 .2h0m.8-.5h0m.1 .3h0m.1 .3h0m.7-.1h0m0-.3h0m.2 .3h0m.5-.4h0m.3 .1h0m.1 .3h0m.5 .2h0m.8-.7h0m4.6 .4h0m.3-.2h0m1.3-.3h0m74.1-.1h0m3.1 .6h0m.2 .1h0m6.7-.2h0m.1 .3h0m-116.8 .2h0m2.8 .6h0m.1-.3h0m1.1-.1h0m3.4 .1h0m0-.3h0m3 .2h0m.7-.3h0m.1 .7h0m.7 .1h0m.9-.7h0m.4 .6h0m.5-.5h0m0 .4h0m1-.5h0m.3 .6h0m.9 0h0m1.7-.1h0m.1-.3h0m.6 .3h0m1.1-.5h0m.4 .6h0m.3 .3h0m.3-.9h0m.2 .8h0m.4-.8h0m.4 .8h0m0-.9h0m.1 .3h0m.3 .1h0m.8-.4h0m.6 .9h0m.1-.6h0m1.6 .5h0m.1-.5h0m.8 .3h0m.4-.5h0m.4 .1h0m.2 .3h0m.2-.4h0m.8 .6h0m.9-.6h0m.4 .3h0m.3-.1h0m.1 .1h0m.2-.4h0m1.3 .2h0m.5 .5h0m.1-.7h0m1.6 .7h0m.1 .3h0m.3-.7h0m3.7 .2h0m.1 .2h0m1.2 .2h0m.5-.5h0m8.3 .6h0m40-.9h0m10 .7h0m5.4-.5h0m4.7 0h0m3.2 .5h0m1.9-.6h0m-132.2 1.1h0m4.5 .3h0m1.8-.5h0m13.4 .1h0m3.8 0h0m1.8 .3h0m1.4-.2h0m2.1-.2h0m.2 .9h0m1.9-.5h0m.9 .3h0m.7-.5h0m.6-.1h0m0-.1h0m.8 .7h0m.8 .1h0m0-.5h0m0-.3h0m1.2 .7h0m.5 .2h0m.1-.4h0m.4 .1h0m.4-.6h0m0 .7h0m.9-.5h0m.1 .3h0m1.5 .2h0m.2-.7h0m.7 0h0m.5 .8h0m.7-.5h0m0 0h0m.1-.1h0m.1 0h0m1.1-.2h0m.5 .8h0m.1 0h0m.7-.7h0m.2 .6h0m.1-.1h0m.5-.4h0m.9-.1h0m1.3-.1h0m.5 .3h0m1.1 0h0m1.7-.2h0m.4 .8h0m3.2-.7h0m2.2 .6h0m13.2-.9h0m35.6 .8h0m19.9 .2h0m.7-.4h0m2.6 0h0m2.6-.3h0m1.5 .1h0m9.3 .3h0m12.7 0h0m-147.8 .8h0m9.4-.2h0m2 0h0m.4 .4h0m7.6 .2h0m1.2-.8h0m.4 .7h0m.8-.6h0m2.6 .2h0m1.9-.3h0m2.2 .2h0m.8 .4h0m0-.1h0m2.6 .3h0m.1-.5h0m.1-.2h0m.3 0h0m2.2 .2h0m1.1 .4h0m0-.5h0m1.6-.2h0m.2 .7h0m.2-.7h0m.9 .6h0m.2-.7h0m.2 .6h0m.9-.1h0m2.1 0h0m1.2 .1h0m.6-.5h0m.3 0h0m.3 .4h0m2.4 .1h0m1.6 .3h0m59.2-.7h0m6.5-.2h0m.4 0h0m.4 .6h0m10.1-.5h0m2.9 0h0m-124.6 1.4h0m11.8 .4h0m4 .1h0m1.3-.3h0m1.9-.6h0m.8 .4h0m.6-.1h0m.4-.1h0m.2 0h0m1.3 .6h0m.2-.8h0m.9 .4h0m.8 .3h0m.4-.2h0m3 .2h0m.6 0h0m.3 .2h0m.2-.5h0m.1 0h0m1.6 .4h0m1.2-.5h0m.1 .1h0m1 .5h0m0-1h0m.4 .8h0m0 0h0m0-.8h0m.9 .9h0m2.5-.4h0m.2 .3h0m1.6 .1h0m1.6-.7h0m.6 .5h0m.2-.7h0m.3 .9h0m1.6 .1h0m1.1-.1h0m.1-.8h0m1.3 .6h0m1.4-.7h0m.6 .3h0m9.7 .1h0m54.7-.1h0m4.5 .2h0m17.9 0h0m2.4 .2h0m4.6-.6h0m-154.9 1.3h0m16.7-.2h0m11.3 .6h0m.2 .1h0m3.8-.5h0m2.1 .5h0m1.1-.4h0m0 0h0m3.1 .1h0m.8-.2h0m.2 .5h0m.4-.1h0m.6-.4h0m.1 .1h0m.6-.2h0m0 .4h0m.1-.5h0m3 .3h0m2.2 .3h0m.9-.6h0m0 .1h0m.7-.1h0m.4 .1h0m.8 .5h0m1.2-.3h0m.1 .3h0m1.4 0h0m.2-.7h0m.1 .6h0m1.1-.2h0m1.5 .4h0m2.9-.1h0m1.8-.6h0m53.5 .7h0m21.5 0h0m1.2-.5h0m.1 .2h0m9.4 0h0m8.5 .2h0m1.1 .2h0m-139.2 .2h0m2 0h0m8.8-.1h0m2.9 .4h0m2.3-.1h0m.8-.4h0m.3 .2h0m.3 .8h0m.1-.5h0m.3-.4h0m1.6 .3h0m.4-.2h0m2.1 .1h0m2.2 .1h0m.7 .3h0m.7 0h0m.4 .1h0m.2 0h0m.7-.4h0m1.7-.3h0m.2 .4h0m.4 .4h0m.8-.9h0m.2 .9h0m.5-.5h0m.5 .1h0m4.5 0h0m.4-.1h0m1.8 0h0m.1 .2h0m.5-.3h0m1.6 .5h0m.1 .1h0m2.2-.2h0m3-.5h0m61.4 .7h0m2.2 0h0m2.6-.8h0m18.3-.1h0m-123.8 1.7h0m4.5-.7h0m.6 .1h0m1.4 .4h0m4.9-.2h0m.9 .2h0m1.5 .1h0m2.4 0h0m3 0h0m.1-.2h0m1.4 .5h0m.4-.6h0m1-.3h0m.6 .7h0m.1 .2h0m.4-.1h0m3.7 0h0m1.2-.3h0m.1-.3h0m.1-.2h0m1.8 .9h0m.3-.6h0m1.1 .2h0m4.1 .1h0m4.1-.2h0m.2-.4h0m76.7 .9h0m-108.6 1h0m4.1-.7h0m2.4-.1h0m.8 .6h0m1.4-.6h0m1.2 0h0m.5 .2h0m1.3 .1h0m1-.1h0m.4 .6h0m.2-.4h0m1.3 0h0m1.1 0h0m2 .4h0m.5-.8h0m1 .9h0m2 0h0m7.1-.5h0m69.7-.3h0m3.3 .1h0m9.2-.1h0m11.7 .6h0m-117 1h0m.3 0h0m1.6-.8h0m.8 .1h0m.2 .1h0m2.6 .7h0m.1-.4h0m2.1-.2h0m2.4 .4h0m.7-.3h0m.7 .5h0m1.4-.2h0m.7-.1h0m2.1 .2h0m2.4-.8h0m1 .1h0m14.2 .6h0m61.1-.3h0m6.8 .1h0m2.7-.5h0m.6 .2h0m2.3 .7h0m-131.7 .9h0m3.5-.5h0m2.5 .3h0m6.4-.1h0m11.2 0h0m1.8-.1h0m.7-.1h0m1.2 .5h0m2.8-.3h0m.7-.1h0m.2 .2h0m.3 .1h0m1.2-.5h0m2.7-.1h0m1.9 .3h0m3.8 .5h0m1.3 0h0m7.2-.8h0m64.3 .4h0m2.9-.5h0m-103.3 1.1h0m1.5 .4h0m5.4-.4h0m3.8 .2h0m.6-.2h0m3.7 .8h0m1.1-.5h0m1.4 0h0m.4-.2h0m1.7 .1h0m.5 .3h0m.2-.2h0m.8 .2h0m.4 .1h0m4.1-.1h0m1.9-.2h0m.3 .5h0m.4-.1h0m78.1-.3h0m1-.2h0m19.6-.2h0m-122.3 1.1h0m2.8 .1h0m5 .5h0m.8-.8h0m2.3 .5h0m11.3 .1h0m4.1-.1h0m65.4 .3h0m32.4-.6h0m-124 1.3h0m5.7 0h0m2.4-.2h0m1.3 .4h0m3 .1h0m1.4-.2h0m1.4 0h0m10.8-.3h0m1.8 .6h0m44.4-.1h0m21.9-.7h0m11.3 .1h0m-109.5 .8h0m7.8 .3h0m6.9 .4h0m1.5-.4h0m.2 .3h0m6.3-.3h0m-27.1 1.6h0m17.5 0h0m.2 0h0m2.4-.5h0m3 .1h0m18.2-.3h0m76.3-.1h0m-109.8 1.4h0m20.8 0h0m4.7-.4h0m6.9 .4h0m80.8-.2h0m-98.4 1.5h0m89.6 0h0m-86.7 .2h0m14.5 .3h0m53.5 .2h0m-77.7 1.4h0m7-.5h0m1.6 .9h0m-2.3 1.7h0m-7.2 .1h0m2.2 .8h0m18.4-.9h0m2.7 .6h0m5.3-.1h0m69 2.2h0m-110.7 1h0m21 1.5h0m103.2 .6h0m-112.1 .5h0m-.8 1.8h0m-7.8 2.3h0m92.7 12.6h0" stroke="#ff5f55" stroke-width="1.3" stroke-linecap="round" fill="none"/>
<rect x="472.5" y="16.3" width="279.6" height="258.9" fill="none" stroke="#000" stroke-width="1.35"/>
<line x1="596.9" y1="16.3" x2="596.9" y2="275.2" stroke="#000" stroke-width="1.5" stroke-linecap="butt"/>
<line x1="472.5" y1="169.4" x2="752.1" y2="169.4" stroke="#000" stroke-width="1.5" stroke-linecap="butt"/>
<path d="M472.5 272v6.4M491.49 273.4v3.4M502.61 273.4v3.4M510.49 273.4v3.4M516.61 273.4v3.4M521.6 273.4v3.4M525.83 273.4v3.4M529.48 273.4v3.4M532.71 273.4v3.4M535.6 272v6.4M554.59 273.4v3.4M565.71 273.4v3.4M573.59 273.4v3.4M579.71 273.4v3.4M584.7 273.4v3.4M588.93 273.4v3.4M592.58 273.4v3.4M595.81 273.4v3.4M598.7 272v6.4M617.69 273.4v3.4M628.81 273.4v3.4M636.69 273.4v3.4M642.81 273.4v3.4M647.8 273.4v3.4M652.03 273.4v3.4M655.68 273.4v3.4M658.91 273.4v3.4M661.8 272v6.4M680.79 273.4v3.4M691.91 273.4v3.4M699.79 273.4v3.4M705.91 273.4v3.4M710.9 273.4v3.4M715.13 273.4v3.4M718.78 273.4v3.4M722.01 273.4v3.4M724.9 272v6.4M743.89 273.4v3.4M470.7 271.1h3.4M470.7 266.47h3.4M470.7 262.55h3.4M470.7 259.16h3.4M470.7 256.17h3.4M469.3 253.5h6.4M470.7 235.9h3.4M470.7 225.61h3.4M470.7 218.31h3.4M470.7 212.65h3.4M470.7 208.02h3.4M470.7 204.1h3.4M470.7 200.71h3.4M470.7 197.72h3.4M469.3 195.05h6.4M470.7 177.45h3.4M470.7 167.16h3.4M470.7 159.86h3.4M470.7 154.2h3.4M470.7 149.57h3.4M470.7 145.65h3.4M470.7 142.26h3.4M470.7 139.27h3.4M469.3 136.6h6.4M470.7 119h3.4M470.7 108.71h3.4M470.7 101.41h3.4M470.7 95.75h3.4M470.7 91.12h3.4M470.7 87.2h3.4M470.7 83.81h3.4M470.7 80.82h3.4M469.3 78.15h6.4M470.7 60.55h3.4M470.7 50.26h3.4M470.7 42.96h3.4M470.7 37.3h3.4M470.7 32.67h3.4M470.7 28.75h3.4M470.7 25.36h3.4M470.7 22.37h3.4M469.3 19.7h6.4" stroke="#000" stroke-width="1.1" fill="none"/>
<text class="sa" x="475.2" y="300.4" font-size="12" text-anchor="end" fill="#111">10<tspan font-size="11.8" dy="-6.5">1</tspan></text>
<text class="sa" x="538.3" y="300.4" font-size="12" text-anchor="end" fill="#111">10<tspan font-size="11.8" dy="-6.5">2</tspan></text>
<text class="sa" x="601.4" y="300.4" font-size="12" text-anchor="end" fill="#111">10<tspan font-size="11.8" dy="-6.5">3</tspan></text>
<text class="sa" x="664.5" y="300.4" font-size="12" text-anchor="end" fill="#111">10<tspan font-size="11.8" dy="-6.5">4</tspan></text>
<text class="sa" x="727.6" y="300.4" font-size="12" text-anchor="end" fill="#111">10<tspan font-size="11.8" dy="-6.5">5</tspan></text>
<text class="sa" x="458.1" y="259.3" font-size="12" text-anchor="end" fill="#111">10<tspan font-size="11.8" dy="-6.5">2</tspan></text>
<text class="sa" x="458.1" y="200.85" font-size="12" text-anchor="end" fill="#111">10<tspan font-size="11.8" dy="-6.5">3</tspan></text>
<text class="sa" x="458.1" y="142.4" font-size="12" text-anchor="end" fill="#111">10<tspan font-size="11.8" dy="-6.5">4</tspan></text>
<text class="sa" x="458.1" y="83.95" font-size="12" text-anchor="end" fill="#111">10<tspan font-size="11.8" dy="-6.5">5</tspan></text>
<text class="sa" x="458.1" y="25.5" font-size="12" text-anchor="end" fill="#111">10<tspan font-size="11.8" dy="-6.5">6</tspan></text>
<text class="sa" x="475.7" y="27" font-size="11.5" text-anchor="start" fill="#1a1a1a">Q1-1</text>
<text class="sa" x="475.7" y="40.5" font-size="11.5" text-anchor="start" fill="#1a1a1a">2.67%</text>
<text class="sa" x="475.7" y="257.9" font-size="11.5" text-anchor="start" fill="#1a1a1a">Q1-3</text>
<text class="sa" x="475.7" y="271.3" font-size="11.5" text-anchor="start" fill="#1a1a1a">84.61%</text>
<text class="sa" x="714.9" y="27" font-size="11.5" text-anchor="start" fill="#1a1a1a">Q1-2</text>
<text class="sa" x="714.9" y="40.5" font-size="11.5" text-anchor="start" fill="#1a1a1a">1.29%</text>
<text class="sa" x="708.5" y="257.9" font-size="11.5" text-anchor="start" fill="#1a1a1a">Q1-4</text>
<text class="sa" x="708.5" y="271.3" font-size="11.5" text-anchor="start" fill="#1a1a1a">11.43%</text>
</g>
<g>
<path d="M906.9 41.1h0m64.2 5.7h0m-20.1 10.2h0m-14.2 10.3h0m-51.5 2.3h0m141.6 3.5h0m-127.8 2.4h0m14.7 .3h0m-84.1 .6h0m85.5 0h0m6.7 1.2h0m32.7 4.1h0m-53.5 3.2h0m46.5-.6h0m-68.1 1.7h0m57.3 .3h0m6.8 2.1h0m21 .8h0m-75 1.5h0m28.7 .1h0m-67.9 1h0m81.1-.4h0m-60.2 .9h0m100.3 .3h0m-83.6 2.2h0m12 .5h0m58 1.3h0m32 .4h0m-82.9 .9h0m43.6-.7h0m.3 .1h0m-96.9 1.2h0m99.1-.4h0m29.5 .2h0m-65.4 .8h0m12.2 .5h0m10.5 1.2h0m8.9-.3h0m-96.8 1.5h0m106.8 .3h0m-36 1.5h0m42.7 .7h0m1.1 1.1h0m1.4 .1h0m-104 .6h0m56.2 .6h0m116.4 0h0m-154.7 1.1h0m114.6-1h0m6.7 .4h0m-79.6 1.4h0m11.4 1.1h0m46.9-.2h0m25.1-.1h0m-155.9 .8h0m32.2 .1h0m32.8 1.3h0m50-.5h0m4.5 .8h0m-49.4 1.4h0m18.5 .4h0m2.3 .8h0m15.7-.7h0m-3.8 1.3h0m68.3 .6h0m-143.6 .7h0m109.2-.4h0m-66.2 1.8h0m28.6-.3h0m-23.1 .8h0m15.1 .2h0m8.9-.2h0m-92 1h0m29.2 .3h0m57.8-.7h0m-90.6 1.5h0m98.8 .2h0m46.7-.8h0m-91.8 1.4h0m47.2 .1h0m63.5-.4h0m-103.7 1.2h0m8.2 .7h0m24.8-.1h0m-44.4 .2h0m48.3 .3h0m-117.5 1.2h0m30.8-.4h0m10.6 .6h0m48.1-.1h0m3.2 0h0m8.5-.2h0m9.2-.4h0m23.2 .8h0m-73.3 .7h0m49.3 .4h0m-60.8 .6h0m43.4-.5h0m31.8 .2h0m-59 .7h0m32.7 .5h0m-32.4 .8h0m16.4 .5h0m-12.6 .6h0m58.7-.1h0m16.7 .2h0m-83.9 .8h0m29.6 1.4h0m27.4-.2h0m-128.5 .7h0m98.2 .5h0m43.4 .3h0m-70.7 1.6h0m30.8-.3h0m11.1 .3h0m-16.3 .5h0m-25.5 1.5h0m27.9-.4h0m30.8 1h0m-105.6 1.4h0m61.2-.5h0m66.3 .2h0m-38 .8h0m6.5 .3h0m9.4 .4h0m35.1 .7h0m-78.7 1.4h0m6.2-.8h0m49 .6h0m36.5-.2h0m-74.1 2.4h0m9.4-.5h0m11.3 .4h0m-25.2 .6h0m87.2 .5h0m35.2 .5h0m-97.2 1.5h0m43.5-.5h0m-66.2 .8h0m24.8 .1h0m36.1 .4h0m-48.3 .4h0m-27.5 1.7h0m-2.9 1.2h0m-51.6 3.8h0m84.3 .2h0m21.8 .8h0m-.5 .5h0m25.7 .7h0m-33.4 .6h0m-33.1 .5h0m29.7 .5h0m27.1-.1h0m-11.8 .9h0m-49.3 .8h0m-16.7 1h0m86.6 1.4h0m-26.3 .7h0m26.6 0h0m14.5 .2h0m-135.7 1.9h0m1.5-.1h0m113.3 1.1h0m-131.1 1.1h0m-11.6 1.3h0m66.1-.2h0m-52.8 .7h0m-18.2 1.6h0m40-.1h0m45.4-.3h0m3.3-.4h0m8.9-.1h0m49.9 1h0m-135.3 .1h0m.8 1.7h0m7-.3h0m50.5-.4h0m105.7 0h0m3.8 .6h0m-123.8 .4h0m11.6 .3h0m.8-.3h0m83.5 .8h0m43-.1h0m-202.3 .6h0m69.1 .2h0m6.8 .3h0m87.5-.1h0m14.4-.2h0m-183 1.2h0m10.2-.7h0m31.5 0h0m10.8 .4h0m17.5 .3h0m15.7-.2h0m107.7 0h0m-181.3 .6h0m.9 .2h0m12.4 .6h0m36.1-.2h0m5.3 .1h0m99.3 0h0m-160.6 .2h0m19.5 .9h0m38.8-.1h0m15.9-.1h0m1.1-.4h0m77 .6h0m13.1-.3h0m-165.4 .9h0m.6 .1h0m18.9 .3h0m14.4-.1h0m4.2-.2h0m10.8-.1h0m4.8-.1h0m7.2-.5h0m9.4 .7h0m82.9 .1h0m-101.6 .5h0m11.3 .3h0m13.2 0h0m12.8-.6h0m58.7 .5h0m.5-.5h0m9.1 .5h0m1.1 .4h0m42.3-.6h0m-196.4 1h0m20.5 .5h0m9.6 .1h0m2.4-.7h0m4.8 .7h0m39.9-.4h0m3.8 .1h0m33.1-.5h0m18.1 0h0m33.8 .1h0m-161.6 1.2h0m20.1-.3h0m12 0h0m4.7 .1h0m22.2 .3h0m3.8 0h0m3.5 0h0m3.2-.5h0m.9 .9h0m69.7 .1h0m7.6-.9h0m24.3 0h0m-158.7 1.2h0m47.9 .3h0m1.1-.4h0m4 .8h0m2.4-.7h0m11.3-.2h0m62.7 .7h0m1.2 .1h0m5.4-.6h0m6.3 .4h0m-119.1 .8h0m7.5 .4h0m2.9-.2h0m1.9 .3h0m19.4-.2h0m.9-.3h0m12.4 .1h0m26.7 .3h0m17.7-.6h0m10.9 .4h0m7.4-.2h0m12 0h0m-154.5 .5h0m33.4 .6h0m5.6-.1h0m13.8-.4h0m8.4 .8h0m1.1-.6h0m1.4 0h0m74.6 .2h0m7.3 .4h0m5.1-.5h0m3.2 .5h0m.1-.1h0m-116.9 .3h0m19 .6h0m6.5 .1h0m2.1 0h0m.7-.2h0m.8 .3h0m4.3 0h0m.2-.3h0m6.1 .3h0m55.6-.7h0m1.4 .4h0m6.3 .1h0m6.1-.3h0m3.4-.1h0m2.2 .5h0m1-.6h0m5.2 0h0m1.6-.1h0m4.8 .4h0m20.4 .2h0m-174.3 .4h0m.6 .4h0m6 .3h0m16.9 .1h0m.3-.6h0m9.2 .6h0m3.9-.1h0m6.7-.7h0m5.5 .4h0m1.2-.1h0m7.3 0h0m3.7-.2h0m6.8 .4h0m1.2 .1h0m1.3-.2h0m54.9 .1h0m10.3-.4h0m12.4 .1h0m-126.1 .7h0m3.6 .9h0m15.2-.2h0m1.9-.3h0m1.1-.3h0m3.7 .6h0m10.2-.1h0m1.6 .1h0m.2-.5h0m.2 .4h0m2.2 0h0m2.3-.4h0m8.6 .4h0m46.2 0h0m24.7 .3h0m.7-.7h0m2.8 .7h0m-140.3 .6h0m2.4 .3h0m3.2-.2h0m9.5-.5h0m21.3 .4h0m1.8 .3h0m.5-.5h0m1.3 .7h0m3.5-.6h0m2.2-.2h0m.6 .4h0m3.8-.1h0m1.6 .1h0m.5-.4h0m1.1 .3h0m3.2 0h0m1.8 .2h0m64.7 .1h0m2.8-.4h0m.2-.2h0m1.7 .2h0m0-.4h0m.6 .4h0m2.3 0h0m5.4 .4h0m2.3-.1h0m1.3-.1h0m2.3-.1h0m-160.3 1h0m14.3 .4h0m18.3-.3h0m10.2 .3h0m1.6 0h0m3.7-.2h0m6-.3h0m4.8-.3h0m1.1 .6h0m5.1 .3h0m.1-.6h0m1 .2h0m3.6-.2h0m7.3 .4h0m18.2 0h0m.2 0h0m32.4 0h0m10.7-.6h0m2.8 0h0m1 0h0m2.9 .5h0m5.3-.2h0m2.4 .2h0m.5 .1h0m.2-.6h0m3.7 0h0m3.6 .6h0m.1 .2h0m15.6-.8h0m-164.3 1.4h0m30.7-.4h0m5.3 .8h0m.2-.8h0m.8 .4h0m1.4-.1h0m2.7 .3h0m2.2 0h0m3-.7h0m.7 .5h0m.6-.5h0m.2 .2h0m2.2 .4h0m.9-.2h0m0 .5h0m2.4-1h0m5 .5h0m1 .2h0m41.2 .1h0m26.1-.6h0m3.9 .1h0m2.6 .1h0m2.8-.1h0m6.8 0h0m.4 0h0m2.4 .1h0m.2-.4h0m3.2 .2h0m-139.2 1.7h0m1-.4h0m8.6 .3h0m.1-.4h0m20 .6h0m.1-.9h0m0 .1h0m.2 0h0m2.1 .4h0m1.4-.5h0m1.2 .1h0m.8 .4h0m2.8 0h0m.4 .3h0m1.2-.5h0m.9 .2h0m.1-.3h0m.3 .4h0m2.8-.1h0m2.4-.5h0m7.1 .3h0m.8 .2h0m1.5 .3h0m.2-.3h0m3.4 .2h0m54.9-.6h0m2.9 .6h0m1.6 .2h0m2.3-.9h0m3.3 .7h0m1-.7h0m.8 0h0m3.6 .2h0m11.1 .4h0m-158.3 .5h0m27.9 .4h0m5 .2h0m12.8 0h0m.7-.5h0m.9 0h0m1 .2h0m1.6 .2h0m.4-.1h0m1.4-.4h0m.1 .1h0m.4 .5h0m.6-.5h0m1 0h0m1.4 .4h0m.9 .1h0m.9-.8h0m.8 .7h0m.4-.2h0m.7 .3h0m.8-.5h0m2.4-.2h0m2.2 .2h0m1.2 .4h0m2.5-.1h0m1.7-.2h0m.7 .4h0m55.8-.4h0m5-.1h0m.5-.2h0m3.7 .2h0m5.9 .2h0m1.2 0h0m0 .3h0m6.2 0h0m2.6-.7h0m.7 .8h0m3.8-.1h0m1.8-.5h0m-161.3 1.2h0m2.6-.3h0m9.3-.1h0m6.5 .3h0m6.7 .2h0m1.6-.3h0m4.5 .5h0m4.2-.4h0m8-.2h0m4.8 .3h0m4.4 .3h0m.1 .1h0m.8-.6h0m1-.1h0m.5 .5h0m.5 .1h0m.4 .2h0m.1-.2h0m1.5 .2h0m.8-.6h0m0 0h0m.3 .1h0m.9 0h0m.1-.1h0m.3-.1h0m1-.1h0m.2 .2h0m.7-.2h0m1 .5h0m.1-.6h0m.8 .5h0m3.4-.6h0m.9 .8h0m1.6 .1h0m.5-.3h0m.3 0h0m64.1-.6h0m.1 .8h0m3.2 .1h0m3.9-.1h0m.5-.6h0m1.7 0h0m2 .6h0m1.6-.3h0m.1-.1h0m.9-.4h0m1 .9h0m1-.1h0m9.5-.1h0m-174.6 1h0m44.6-.4h0m6.6 .1h0m4.7-.1h0m3.9 .5h0m4.9-.7h0m5.9 .4h0m.2 .1h0m.5-.6h0m.5 .5h0m.3-.2h0m.5 .6h0m.3-.3h0m.3-.6h0m.5 1h0m3.6-.9h0m0 .1h0m.4 .7h0m.2-.7h0m.8-.2h0m1.6 .8h0m.8 .2h0m.6-.9h0m.4 .9h0m1.2-.2h0m.7 0h0m.6-.7h0m2.1 .8h0m.7-.3h0m.7 .1h0m4.3-.6h0m3.9 .4h0m5.6-.4h0m11.7 .5h0m26.2-.4h0m3.6 .2h0m3.9 .6h0m5.8-.3h0m1.5-.4h0m.6 .3h0m.3-.3h0m.3 .5h0m.5-.5h0m.4 .6h0m.7-.7h0m3.2 .4h0m2.3-.4h0m.8 0h0m2-.2h0m.9 .3h0m1.4 .3h0m.6 .3h0m1.5-.4h0m.4 .3h0m3-.4h0m-142.3 .8h0m12.4 .5h0m4.2-.3h0m8.1 .5h0m2.1 .1h0m.6-.7h0m1.7 .1h0m1.8-.2h0m2.3 0h0m.5-.1h0m.4 .2h0m.6-.2h0m.4-.1h0m.7 .3h0m1.7 0h0m0 .2h0m.6 .4h0m.9 0h0m2.2-.4h0m.6 .2h0m0-.6h0m.1 .4h0m.4 .4h0m.3-.8h0m.1 .6h0m1.1-.7h0m.9 .1h0m.2 0h0m.2 .6h0m.4 .1h0m0-.7h0m1.2 .5h0m.7-.2h0m.2 .5h0m.5-.6h0m.3 .1h0m.8-.2h0m.5 .3h0m1.6-.5h0m.2 .6h0m2.7-.3h0m1.3 .3h0m3 .2h0m0-.6h0m0 .6h0m14.9 0h0m39.2-.6h0m8.8 .2h0m.1 .5h0m3.7-.7h0m.6-.2h0m.1 .1h0m.1 .2h0m4.7 .3h0m2 0h0m5.4 .4h0m5.9 0h0m2.6-.9h0m-168.9 1h0m9.1 .5h0m26.7-.1h0m11.9-.3h0m1.1 0h0m1.9-.1h0m1.7 .2h0m1.3 .4h0m2 .1h0m0-.1h0m2.1 .1h0m.4 0h0m.4 0h0m.2 0h0m.5 .2h0m.8-.8h0m.5 .3h0m0-.3h0m2.1 .1h0m.4-.1h0m.3 .5h0m.3-.7h0m1.2 .4h0m1.2 .1h0m.3-.1h0m1.7-.3h0m.3 .4h0m.2-.4h0m.1 .4h0m.1 .5h0m.5-.7h0m2.5 .1h0m2.4 .5h0m.4-.4h0m2.4 .1h0m.7 .2h0m2.3-.4h0m1.9 .2h0m.4 .2h0m59.1-.4h0m2.2 .4h0m2 .1h0m1.3-.4h0m.2 .1h0m.5 .2h0m2.8 .1h0m1.4-.3h0m.1 0h0m1.1-.4h0m.4 0h0m1.3 .1h0m1 .6h0m1.4-.9h0m.9 .6h0m2.4 .3h0m2.6-.3h0m4.9-.2h0m.6 0h0m.1 .4h0m-169.3 .4h0m29.6 .4h0m3.7 .3h0m9.9-.9h0m.6 .3h0m2.9 .3h0m5.1 .4h0m.8-.7h0m.6 .4h0m4.4-.4h0m1-.1h0m.1 .4h0m.4-.2h0m1.7 0h0m.1 0h0m1 .2h0m.2 .1h0m.1 .2h0m.7-.6h0m.6 .4h0m.2-.3h0m.3 .6h0m1.1 0h0m.4-.6h0m.8 .3h0m.7-.4h0m.5 .1h0m1-.3h0m.6 .1h0m.6 .7h0m.1-.2h0m.4 .1h0m.4-.6h0m.1 .6h0m.3-.5h0m.5 0h0m.4 .1h0m1.9-.2h0m1.2 .8h0m1-.6h0m.2 .3h0m.7-.7h0m.1 .3h0m.4 .6h0m1.5-.5h0m1.9-.3h0m18.1 .3h0m21.5 .5h0m13-.3h0m6.6 .1h0m1.3 .3h0m3.5-.6h0m.4 .4h0m1.4-.4h0m0 .5h0m.1-.8h0m1.2 .3h0m.1 0h0m.8 .1h0m.6-.5h0m.2 .6h0m3-.4h0m.1 .4h0m.5-.1h0m.6 0h0m.4 0h0m3.8-.1h0m.1-.1h0m.5 .1h0m.7 .2h0m.7 .2h0m.6 0h0m.8-.4h0m.8 .1h0m.9 .5h0m.1-.3h0m1.4-.7h0m2.2 .7h0m-127.2 .4h0m6.7 .2h0m2.8 .6h0m3.9-.2h0m1.7 .2h0m1.2-.4h0m1.3-.2h0m.7 .6h0m.4-.3h0m.5-.4h0m.8 .5h0m.5-.6h0m2 .1h0m.3 .3h0m.4 .2h0m.2-.2h0m.5-.4h0m.7 .2h0m0 .5h0m.5 .2h0m0 0h0m1-.1h0m.3-.8h0m.2 .5h0m1.5 .2h0m.3 0h0m.3-.2h0m.4-.3h0m.3 .6h0m.4-.7h0m.4 .7h0m.4-.6h0m.7-.2h0m.1 .3h0m.2 .1h0m.6-.2h0m.3 .7h0m.3-.9h0m.1 .7h0m.7-.8h0m.8 0h0m.5 .7h0m.9-.2h0m.2 .3h0m.3-.8h0m.6 .9h0m.6-.7h0m1.7 .4h0m.9-.3h0m.4 .6h0m.6-.8h0m.4 0h0m4.4 .7h0m49 0h0m4.3-.6h0m3.5 .6h0m1.1 0h0m1 0h0m.2-.8h0m.6 .3h0m.8 .5h0m.8-.7h0m1.3 .5h0m.4 .2h0m1.6-.6h0m.4 .2h0m.3-.3h0m1.3 .3h0m1.3 .2h0m4.4 .2h0m1.9 .1h0m0-.1h0m6.2 .1h0m5.8-.7h0m-149.8 1.6h0m7.1-.4h0m11 .5h0m9-.4h0m5-.1h0m1.3 .4h0m.2-.2h0m.5-.6h0m.8 .3h0m.7 .6h0m.1-.6h0m.4 .3h0m.3 .2h0m.2-.2h0m.6-.4h0m.6 .6h0m.3-.2h0m1.4 .2h0m.1 .1h0m.3-.2h0m.7-.4h0m.5 .2h0m.4-.1h0m1 .5h0m.5-.7h0m.1 .4h0m.5 .3h0m1.1-.1h0m.3-.7h0m.4 .3h0m.6 .1h0m.2-.1h0m.2 .1h0m1.2 .3h0m.2-.6h0m.9 .7h0m.3-.7h0m.2 .1h0m.3 .3h0m1.1-.4h0m.4 0h0m.2 .7h0m.5-.4h0m.5-.1h0m.2 .1h0m.7 0h0m1.1 0h0m.5 .2h0m1-.1h0m.5-.5h0m0 .4h0m.3-.2h0m1.6 .5h0m.3-.2h0m0-.3h0m.1 .6h0m22.2-.5h0m40.2 .4h0m.5-.2h0m2.8-.4h0m2.7-.1h0m1.3 .6h0m4.3-.1h0m2.3 .4h0m1.1-.6h0m1.4 .4h0m0-.6h0m1.1 .3h0m1.4 .2h0m.7 .1h0m1.5-.5h0m3.7-.1h0m.2 .6h0m-125.1 .4h0m10.3 .8h0m.6-.1h0m.9-.5h0m.7 0h0m1.2 .4h0m0-.5h0m1.3 .6h0m0-.2h0m.6 0h0m.7-.5h0m.1 0h0m.5 .8h0m.7-.7h0m.8-.2h0m.8 .1h0m.2 .4h0m.1-.6h0m.5 .9h0m0-.8h0m.5 .8h0m.7-.5h0m0 0h0m.3 .1h0m.9-.1h0m.2-.2h0m.1 .7h0m.5-.6h0m1.1 .1h0m.2-.1h0m.2 .3h0m.1-.2h0m.5 0h0m.6-.2h0m.2 .2h0m.4 0h0m.9 .6h0m.1-.4h0m.2-.6h0m.4 .4h0m.1-.2h0m1.1 0h0m0-.1h0m.5 .2h0m.2-.2h0m.5 .4h0m.4 .2h0m.4 .2h0m.2-.1h0m.3-.6h0m.7 .2h0m.1 .5h0m.4-.6h0m.5 .6h0m1.1 0h0m.1-.9h0m.6 .5h0m.6 .2h0m.6-.3h0m.1 .2h0m1-.4h0m1.2 .4h0m2-.5h0m1.6 .6h0m.8 .3h0m42.1 0h0m16.3-.4h0m0 .3h0m.9-.5h0m1.4 .3h0m.5-.2h0m0 .1h0m2.2-.3h0m.1 .3h0m.3 .1h0m1-.4h0m.7 .5h0m1.9 .1h0m.8-.2h0m.5-.2h0m.9 .1h0m0 .3h0m1.8-.8h0m.9 .9h0m1-.9h0m2 .3h0m.3 .4h0m2 .1h0m2.9-.7h0m8.3 .4h0m-133.4 1.3h0m2.1 .1h0m5.9-.1h0m3-.2h0m.5 .2h0m1.3-.6h0m.6-.1h0m3.2 .5h0m1.3 .2h0m.4 0h0m.3-.2h0m.3-.5h0m.4 .7h0m.1-.4h0m.2-.3h0m.8 .2h0m.2 .3h0m.2-.6h0m1 .9h0m.1-.1h0m.3-.9h0m.2 .2h0m.4 .3h0m1-.4h0m.2 .1h0m1.4 0h0m.3 0h0m0 .4h0m.8 .3h0m0-.3h0m.4-.2h0m.1 .1h0m.6-.3h0m.3 .1h0m.2 .5h0m.1-.4h0m.2-.1h0m1 0h0m.1 .6h0m.3-.8h0m.6 .3h0m0 .3h0m0-.7h0m.8 .6h0m.1 0h0m.4-.1h0m1.2-.4h0m.5 .6h0m.2-.5h0m.5 .8h0m.4-1h0m.4 .1h0m1 .7h0m1.9 .1h0m0-.8h0m.6 .2h0m.8 .2h0m.4-.1h0m.3 .6h0m1.1-.6h0m8.1 .1h0m51 .1h0m4.1 .3h0m.3 0h0m1-.2h0m.6-.1h0m2.4 .4h0m.5 0h0m.1-.9h0m.7 .2h0m.2 .5h0m1.1-.4h0m.2 0h0m.1 .5h0m.7-.4h0m.3 .1h0m.2 0h0m.5 .1h0m.8 .1h0m.3-.8h0m.9 .2h0m.4 0h0m.9 .2h0m.3 0h0m.7-.1h0m3.2 .6h0m.6-.1h0m.1-.8h0m1.6 .2h0m.1 .6h0m7.4-.2h0m-141.4 1.2h0m3.7-.4h0m12.6-.3h0m1.8 .7h0m2.5-.5h0m2.1 .3h0m.4-.2h0m1.4 .2h0m.1-.2h0m.3 0h0m.3-.3h0m.5 .7h0m.2 .2h0m.4-.2h0m.8-.1h0m0-.1h0m.9-.1h0m.4 .5h0m.3-.1h0m.1-.7h0m.5-.1h0m.7 .8h0m.7-.1h0m.4-.5h0m.7 .3h0m.1-.5h0m.2 .9h0m.1-.7h0m.7-.2h0m.2 .8h0m0-.7h0m.6 .2h0m.4 .1h0m0-.4h0m.1 .1h0m1.4 .3h0m.1 .2h0m.2-.5h0m.6 .3h0m.4 0h0m.1 .1h0m.1-.6h0m.4 .6h0m0 0h0m.7 .3h0m0-.1h0m.1 0h0m.9 .1h0m.3-.1h0m1.6 0h0m.5-.2h0m.8-.4h0m.3 0h0m0 .6h0m.7-.6h0m1.3 .6h0m.6-.4h0m0 .4h0m.3-.3h0m1 .1h0m.7 .3h0m.3-.5h0m.2 0h0m.4-.3h0m.2 .6h0m.2-.1h0m1.8-.2h0m.5 .4h0m1.2 .2h0m3-.8h0m9.2 .3h0m46.6-.5h0m2.3 .6h0m2.1-.1h0m.8-.1h0m1.5 0h0m.1 .2h0m.1-.2h0m1.3-.2h0m1.1 .5h0m.7-.1h0m1.3-.5h0m1 .8h0m.1-.5h0m.1 .4h0m.6 .2h0m1.5-.3h0m.5-.7h0m1 .4h0m1.2-.3h0m.1 0h0m.2-.1h0m.9 .4h0m.1 .6h0m1.2-.5h0m.4 .5h0m.5-.2h0m.1-.1h0m1.5 .2h0m.1-.7h0m1.7-.2h0m.8 .2h0m.8 0h0m.7 .8h0m0-.5h0m5.8 .3h0m-182.3 1.1h0m28.7-.5h0m27.8 .4h0m2.6-.6h0m.5 .4h0m.5 .2h0m.4-.7h0m.1 .4h0m.1 .2h0m2.5 0h0m.3-.1h0m1.4 .2h0m.1 0h0m.5-.6h0m.3 .7h0m.7-.7h0m1 .1h0m.1 .1h0m.6-.1h0m.4 .2h0m.2 .2h0m.3-.7h0m.6 0h0m.4 .7h0m.2 0h0m.3-.1h0m0-.3h0m1-.1h0m.3 .5h0m.3 .2h0m0 0h0m.5-.4h0m.2-.3h0m.4 .7h0m0-.4h0m.1-.5h0m.8 .5h0m0-.1h0m.5 0h0m1.2 .2h0m0-.2h0m.3-.2h0m.1 .2h0m.2 .4h0m.5-.7h0m.5 .2h0m.2 .3h0m.2-.3h0m.6-.1h0m.6 .3h0m0 .3h0m.3-.7h0m.8 .8h0m0-.7h0m.3-.2h0m.6 .8h0m.1-.3h0m.1-.3h0m.5 .3h0m.1-.2h0m.7 .2h0m.2-.1h0m.1-.2h0m1.1-.1h0m.1 .4h0m1.9-.5h0m.1 .9h0m.4-.6h0m.5 0h0m.9 .1h0m0 .1h0m1.7 .5h0m2.2-.1h0m1.6-.1h0m.3 .1h0m.6-.2h0m.7 .3h0m42.6-.6h0m13.8-.2h0m.1 .4h0m2.3-.1h0m1 .5h0m1.5-.2h0m.2 0h0m0-.1h0m1.8 .2h0m.4-.9h0m.3 0h0m.8 .9h0m1-.1h0m0-.3h0m.2 .2h0m.2 0h0m1.8-.2h0m0 .4h0m.1-.8h0m.5 0h0m.7 .2h0m.2 .6h0m1.5-.7h0m.4 .1h0m1.2 .3h0m.2 .1h0m2.4-.3h0m1.2 0h0m1.1-.4h0m2.5 .5h0m2-.2h0m4.8-.2h0m.7 .5h0m-136.2 1h0m3.3-.4h0m8.9 .6h0m.2-.6h0m3 .7h0m.6-.4h0m.1 0h0m1.9 .3h0m.2-.2h0m.5-.1h0m.7-.3h0m.3 .6h0m0-.6h0m.7 .2h0m.7 .3h0m.4-.6h0m.1 .2h0m.5-.3h0m0 .5h0m.1 .3h0m.8-.4h0m.3 0h0m.5-.2h0m.3 .6h0m.5-.4h0m.3 0h0m.5 .2h0m0-.2h0m.1 .2h0m.4 .1h0m.1 .2h0m.7-.2h0m.3 .2h0m.1-.4h0m.1-.1h0m1 .5h0m.1-.6h0m.2 .7h0m.4-.6h0m.3 .2h0m.7 .2h0m.4-.3h0m.2-.4h0m.4 .3h0m.1 0h0m.9 .4h0m0-.1h0m.3-.4h0m.1 .1h0m.4-.2h0m.5-.1h0m0 .6h0m.3 .1h0m.6-.2h0m.6-.1h0m.1-.3h0m.3 0h0m.4 .2h0m.3 .4h0m.5-.1h0m.2 0h0m.2-.4h0m.4-.1h0m.5-.2h0m.3 .3h0m.2-.2h0m.6 .8h0m.7-.4h0m.3 .3h0m.5-.2h0m1.2 .2h0m.9-.6h0m0 .6h0m.1-.3h0m1.2-.4h0m.1 .8h0m.2-.8h0m1 .5h0m.7 .4h0m1.2-.4h0m.9-.3h0m6.8 .5h0m35.1-.5h0m6.1 .1h0m6.7 .6h0m3.8-.4h0m5.4-.3h0m1 .4h0m.1-.2h0m.5 .5h0m.6-.3h0m.9-.2h0m.4 .3h0m.1 .1h0m1.2-.1h0m.8 .1h0m.2-.4h0m.2-.3h0m.8 .1h0m.1-.3h0m3 1h0m2.2-.5h0m30.1-.1h0m-176 .8h0m21.4 .3h0m3.9 .1h0m1.3 .2h0m1.7-.6h0m.4 .5h0m.3-.4h0m.4 .6h0m1.9-.7h0m3.5 .3h0m1.3 .3h0m.5-.3h0m.3 .4h0m2.5-.2h0m.5-.2h0m.2 .4h0m.2 0h0m.8-.4h0m.5 .1h0m0-.4h0m.3 .1h0m.6 .2h0m.9-.5h0m.5 .2h0m.2 0h0m.4 0h0m.1 .2h0m0 .6h0m.5-.8h0m.2 .5h0m.7-.2h0m.7 .1h0m.1 0h0m.2 .1h0m.2-.6h0m.5 .6h0m.3 0h0m.1-.4h0m.1 .5h0m.5-.2h0m.8-.2h0m.4-.3h0m.2 0h0m.3 .8h0m.2-.5h0m.3 .5h0m.6-.1h0m.3-.8h0m.2 .6h0m.8 .2h0m.1 0h0m0-.5h0m.5 .3h0m0-.5h0m.6 0h0m.1 .4h0m.3-.4h0m.5 .6h0m.5-.4h0m.1 .4h0m.4 .2h0m.4-.4h0m.7 .2h0m1-.1h0m0 0h0m0-.5h0m.1 .2h0m.2 .3h0m.3 .4h0m.7-.3h0m.3-.6h0m.2 .7h0m.8 .2h0m.2-.1h0m.5-.1h0m.5-.5h0m.3-.2h0m.1 0h0m1 .2h0m.7 .3h0m3 .3h0m1.1-.5h0m.5-.3h0m.1 .4h0m.3 .3h0m2.9-.7h0m2.9 .3h0m48.2-.2h0m4.8-.1h0m.8 .3h0m.6-.2h0m0 .2h0m.4-.4h0m.1 .8h0m1.8-.8h0m.6 .5h0m.2 .3h0m.3-.4h0m0 .1h0m1.3-.5h0m0 .4h0m2-.1h0m.1-.2h0m.2 .8h0m.2-.8h0m0 .2h0m.1 .1h0m.9-.1h0m.1 .5h0m.9-.5h0m1.1 .4h0m1-.1h0m3.2-.2h0m2.4 .3h0m.9-.2h0m.6 0h0m.1 .5h0m.5-.9h0m.6 .8h0m0-.5h0m4.7 .2h0m.5-.2h0m4 .3h0m-139 .8h0m13.3 .5h0m.4-.9h0m2.4 .7h0m1.9-.3h0m.6 .3h0m.6 0h0m.8 .1h0m.1-.7h0m1.1 .3h0m0-.1h0m.5 .6h0m.8-.9h0m.2 .1h0m.4 0h0m.6 .5h0m.1-.2h0m.3 .1h0m.3-.3h0m.6-.2h0m.1 .7h0m.5 0h0m.4 0h0m.1-.4h0m1 .4h0m.4-.4h0m.2 .4h0m.1-.7h0m.5 .5h0m0-.3h0m.2 .5h0m1-.1h0m.2 .3h0m.2-.9h0m1 .4h0m.1 0h0m.2-.4h0m.1 .1h0m0 .6h0m.3 .1h0m.8-.6h0m.5 0h0m.1 .7h0m.6-.6h0m.1 0h0m.4 .6h0m.2-.1h0m.2-.6h0m.2 .3h0m.9-.5h0m.3 .1h0m0 .2h0m.5 .3h0m.2 0h0m.1-.3h0m.9-.1h0m0 .6h0m.3-.6h0m.9 .1h0m.4 .5h0m0-.6h0m.3 .1h0m.5 .2h0m.2 .3h0m.4 .1h0m.9-.1h0m.2-.5h0m.1 .1h0m.9-.5h0m.5 .9h0m1.1-.6h0m.1-.2h0m.3 0h0m.9 0h0m2.5 .8h0m57.3-.1h0m2.3-.8h0m.2 .7h0m2.3 .1h0m.6 .2h0m.6-.6h0m.1-.2h0m.9 0h0m.2 .5h0m2.7-.6h0m2.2 .1h0m.2 .5h0m.8-.6h0m.3 .5h0m.2 .2h0m.7-.5h0m.2 .4h0m.2-.2h0m1.4-.4h0m.1 0h0m.4 .1h0m.4-.1h0m.3 .8h0m.2-.4h0m.7-.4h0m.4 .1h0m.9 .4h0m.9-.1h0m.6-.4h0m1 0h0m2.2 .8h0m2.4-.7h0m.4 .6h0m-138.9 1h0m14.7-.2h0m5.1-.1h0m3.9 .2h0m.7-.2h0m.5-.4h0m.6 0h0m.9 .1h0m.8-.1h0m0 .1h0m.2 .5h0m.6-.4h0m.5 .4h0m.1 .1h0m.3-.3h0m.5-.2h0m0 .3h0m.3 .2h0m.9-.6h0m.1 .8h0m0-.6h0m.9 .4h0m.5-.5h0m1 .1h0m.2 .3h0m.1-.4h0m.4-.2h0m.2 .5h0m0 0h0m.7-.4h0m0-.2h0m.4 .4h0m.8-.3h0m.1 .7h0m.6-.3h0m.3-.1h0m.1-.3h0m.2 .8h0m1-.1h0m0-.2h0m.8-.6h0m.1 .1h0m.3 .2h0m.3 0h0m0 .7h0m.7-.8h0m.5 .1h0m.7-.3h0m0 .5h0m.2-.4h0m.3 .1h0m.5 .6h0m.2-.2h0m.9 .3h0m.2-.1h0m.2-.6h0m.2-.1h0m.6 .9h0m.3-.9h0m.1 .3h0m.5-.3h0m.5 .2h0m.3 .1h0m1-.1h0m0 .6h0m0-.2h0m.1 .1h0m.6-.6h0m.3 .1h0m.1-.1h0m.9 .1h0m.6-.2h0m.8 .7h0m.2-.8h0m.2 .2h0m.6 .6h0m1.1 0h0m.7 0h0m.4 .2h0m3.4-.6h0m6.4-.1h0m11.5 .3h0m4.6 0h0m19.8-.3h0m6.4-.1h0m9.1 0h0m.3 .8h0m.1-.9h0m1.1 0h0m2.2 .9h0m.4 0h0m.6-.7h0m.2 .6h0m.2-.4h0m.7 .4h0m.4-.7h0m1.1 .3h0m.1 .3h0m.7-.2h0m1.1 .2h0m.3-.5h0m.4 .7h0m.3-.9h0m.5 .8h0m1.2-.4h0m.3-.4h0m.8 .3h0m.3 .1h0m.1-.1h0m.2 .4h0m.1-.1h0m1-.3h0m.2 .1h0m0-.1h0m1.5 .2h0m.4-.2h0m.4 .4h0m.2 .2h0m.2-.5h0m5.9-.2h0m2.1-.3h0m.3 .1h0m.1 .2h0m.5-.1h0m5.9 .2h0m-161.7 1.1h0m28.7-.3h0m.8 .5h0m.6 0h0m9.6 .3h0m.6-.5h0m.2 .1h0m.4 .1h0m.9 0h0m.2 0h0m.4 0h0m.8-.3h0m.1 .3h0m.9-.5h0m.2 .1h0m0 .5h0m.6-.1h0m.3-.7h0m.2 1h0m.8-.1h0m0-.3h0m0 .2h0m.8-.3h0m.7 0h0m.2-.1h0m.3 .1h0m.6 .4h0m.2-.4h0m.4-.2h0m.2-.1h0m.1 .2h0m.1 .5h0m.8-.1h0m.4 .1h0m.3-.6h0m.5-.1h0m.4 .6h0m.1 .1h0m.3-.8h0m.3 .4h0m0 .2h0m.6 0h0m.5-.3h0m.5 .5h0m.2-.1h0m.2 0h0m.3-.2h0m.6 .3h0m.2-.4h0m.3 .3h0m.2-.2h0m.2-.6h0m.5 0h0m.4 .8h0m.5-.1h0m.4 0h0m.3-.5h0m.6 .4h0m.1 0h0m0 .2h0m.2 0h0m.1-.2h0m.8-.5h0m.4 .7h0m.2-.7h0m.5 .3h0m.6 .2h0m.1-.2h0m.6-.1h0m.4-.2h0m.7 .9h0m1.1-.6h0m.7 .6h0m.4-.8h0m.6 .2h0m.5 .4h0m1.3-.1h0m17.7-.5h0m39.2 .8h0m1.4-.4h0m1 .2h0m1.8-.3h0m1.2 0h0m.5 .2h0m.3 .1h0m3.8-.1h0m.4-.3h0m.7 .2h0m.5-.3h0m0 .5h0m.4-.5h0m.4 .1h0m.2 .3h0m.4 .2h0m.8-.1h0m.4 0h0m.8-.5h0m1 .3h0m.5 .1h0m.4 .2h0m.1 .1h0m.1-.2h0m1 .1h0m.1-.5h0m.1 .4h0m.6-.3h0m1.8 0h0m.1 .1h0m1.8-.1h0m.5-.1h0m3.1 .3h0m.4 .2h0m1.7 .1h0m5.6-.7h0m-140 1.4h0m14.5-.2h0m.4 0h0m.7 .2h0m.3 .2h0m2.2-.2h0m1.5-.2h0m0 .1h0m1.1-.2h0m1.3-.4h0m.1 .7h0m.6-.5h0m.5 .4h0m.7 .3h0m0 0h0m.8-.3h0m.2 .3h0m.1-.3h0m0-.2h0m.1 .2h0m.1-.1h0m1.2-.2h0m.1 .1h0m.3-.1h0m.5 0h0m.2 0h0m.3 .3h0m.3-.1h0m.4 .3h0m.2-.3h0m.7 .4h0m.3 .1h0m.3-.8h0m.4 0h0m.1 .3h0m.4-.3h0m.3-.2h0m.5 .4h0m.2 .2h0m.3 .2h0m.5 .1h0m.2-.6h0m.2 .6h0m0-.5h0m.5-.3h0m.7 .3h0m.4 0h0m0 .4h0m.5-.2h0m.2 .3h0m.3 0h0m.7 0h0m.5 0h0m0-.3h0m.1 .2h0m1 .1h0m0 0h0m0 0h0m.6-.3h0m.1-.3h0m.3 .3h0m.6-.6h0m.2 .3h0m.3 0h0m.1 0h0m.6 .6h0m.5-.2h0m.2-.1h0m.3-.2h0m.6 0h0m.1 .2h0m.4 .4h0m.2-.7h0m.3 .3h0m.4-.4h0m.8 0h0m1.1 .7h0m1.1-.3h0m.6 .1h0m.9-.1h0m1-.4h0m8 .1h0m.3 .1h0m49.3-.1h0m4.3 .4h0m.2 .3h0m.5-.1h0m.8-.3h0m1.3-.3h0m.8 .4h0m1.4 .2h0m.7-.7h0m.7 .4h0m1 .1h0m.1-.1h0m.8-.5h0m.1 .5h0m0 .1h0m.9-.4h0m.6 .6h0m0-.8h0m.1 .7h0m2-.5h0m.4 .7h0m.2-.2h0m.2-.3h0m.5-.4h0m.1 0h0m1 .6h0m0-.6h0m.2 .6h0m.5-.6h0m.3 .3h0m.3-.1h0m.2 .7h0m.3-.2h0m.1 .1h0m.7-.7h0m.1 .1h0m.7-.3h0m1.7 .8h0m0 .1h0m2.3-.3h0m.5-.1h0m1 .1h0m6.7 .2h0m1.9-.6h0m-167.5 1.2h0m35.2-.2h0m2.3 .3h0m1.8-.3h0m2.1 .3h0m3.3 .5h0m3-.1h0m.4-.8h0m.1 .5h0m1.1-.3h0m.4 .5h0m.5-.3h0m.1 .4h0m.3-.4h0m.2 .3h0m.5 0h0m.3-.1h0m0-.2h0m.2 0h0m.9 .4h0m.1-.5h0m.1 .5h0m.9 .1h0m.5-.8h0m0 .4h0m.4-.4h0m.3 .1h0m.2 .1h0m.7-.1h0m.4 .3h0m0 .3h0m.5-.1h0m.3-.6h0m.1 .2h0m.5-.1h0m.6-.2h0m.1 .6h0m.3-.4h0m.3-.2h0m.3 .3h0m.8-.3h0m.1 .3h0m.1-.3h0m.5 .8h0m.2-.4h0m.3 .3h0m.8-.5h0m.1 .5h0m.2-.3h0m.2 0h0m.8 .3h0m.3 .1h0m.4-.1h0m.5 0h0m.2-.2h0m.1-.2h0m.7 .1h0m.3-.5h0m0 0h0m.9 .3h0m.5 .3h0m.1 .3h0m.5-.6h0m.7 .4h0m.5-.2h0m1.3 .3h0m.5-.3h0m1.9 .4h0m2.8-.9h0m3.2 .1h0m.9 .1h0m1.6 .3h0m41.9 .3h0m2 .2h0m1.9-.3h0m4.8-.7h0m.6 .6h0m2.2 0h0m.9 .3h0m.3-.3h0m.7-.3h0m.9 .2h0m.6-.1h0m.2 .5h0m.4-.2h0m2.1 0h0m1 .3h0m.7-.1h0m.5-.4h0m.5 .1h0m.1 .1h0m.3 .2h0m.7-.3h0m.6-.2h0m.1-.4h0m.8 .2h0m2.2 .4h0m.2-.3h0m.4-.2h0m2.3 .8h0m2.2-.9h0m1.5 .5h0m.1 .4h0m1.5-.2h0m1.4-.5h0m.9 .4h0m5.9 .3h0m-159.8 .1h0m31.7 .1h0m1.7 .9h0m2.3-.7h0m.7 .6h0m.1-.3h0m1.8-.5h0m.9 .6h0m.6 .2h0m1.8-.7h0m.3 0h0m.1 .1h0m.6-.2h0m.4 .3h0m.4-.2h0m.4 .3h0m.6 0h0m0-.2h0m.4 .4h0m.6 0h0m0 0h0m.2-.4h0m.1 .3h0m.8-.2h0m.5-.2h0m.1 .6h0m.4-.4h0m.2-.3h0m.2 0h0m.3 .1h0m.7 .2h0m.1 .6h0m.4-.7h0m.4 .1h0m.5-.4h0m.2 .1h0m.4-.1h0m.4 .9h0m.2-.3h0m.5 .1h0m0 0h0m.2-.6h0m.3 0h0m.6 .2h0m.3 .2h0m.2 .2h0m.2-.4h0m.7 .1h0m.3 .6h0m.4 0h0m.2 0h0m.2-.5h0m.1 .2h0m.6 .1h0m.3-.4h0m.1 .1h0m.6 .3h0m.4 0h0m0-.1h0m.6-.3h0m.2-.1h0m.3 .6h0m.3-.9h0m.5 .5h0m.5 0h0m.3 .3h0m.4 0h0m.1 .1h0m.3-.3h0m.4-.3h0m.2-.3h0m.4 .4h0m.4-.3h0m0 0h0m.2 .3h0m1.2 .2h0m.2 0h0m.2-.3h0m.2 0h0m.1 .4h0m.4-.3h0m1.4 .6h0m.6 0h0m.5-.6h0m.6 .5h0m.3 .1h0m.7-.1h0m.5-.1h0m0-.3h0m1 .4h0m5.5-.1h0m2.2 0h0m42.9-.5h0m.2-.2h0m1.9 .2h0m2.4 .3h0m2.6 .1h0m1.7-.5h0m.5 .1h0m1.6 .1h0m.6 .6h0m.3-.9h0m.2 .7h0m1.8-.1h0m.4-.3h0m1.5 .2h0m.5 .3h0m.4-.7h0m.3 .5h0m.6-.3h0m.3 .5h0m.1-.1h0m.9-.6h0m.7 .1h0m.1 .5h0m.1-.7h0m1.9-.1h0m.6 .2h0m.5 .1h0m.2 .1h0m.2-.2h0m1.2 .4h0m.3 .2h0m1.6-.7h0m.7 .1h0m0-.1h0m.4 .1h0m1.7-.1h0m.1 .5h0m.6 .3h0m.5-.4h0m1-.5h0m2 .2h0m.9 .5h0m1.5-.2h0m1.6 .3h0m0-.2h0m13.4-.4h0m-164.2 1.2h0m27.1 .3h0m2.8-.1h0m.7 .4h0m.7-.5h0m1.7 .1h0m.2-.5h0m.2 .8h0m.6-.3h0m.6-.2h0m.2 0h0m.2 .5h0m.4-.8h0m1.2 .1h0m0-.2h0m1.4 .7h0m.2 .1h0m.2-.3h0m.5 .3h0m.5-.7h0m.1 .3h0m1.1-.1h0m0 .6h0m0-.5h0m.4-.3h0m.1 0h0m0 .3h0m.8-.4h0m0 0h0m.3 .9h0m.8 0h0m.5-.2h0m.2-.5h0m.7 .2h0m.1 .5h0m.3-.7h0m.3 .7h0m.1-.1h0m.2-.3h0m.4 .4h0m.1-.5h0m.5 .2h0m1.1-.1h0m0 0h0m.3 .3h0m.1-.4h0m.3 .5h0m.2-.8h0m.8 .1h0m.2 .2h0m.2 0h0m.6 .4h0m0 .1h0m.4-.6h0m.4-.1h0m.5 .6h0m.1 .1h0m.3-.3h0m.1 0h0m.3 .1h0m.5-.3h0m.5 .4h0m.3-.5h0m.5 .1h0m0 .2h0m.1-.5h0m.8 .5h0m.3-.4h0m.4 .7h0m1.5-.8h0m.2 .3h0m0 .1h0m.6 .1h0m.2 .2h0m.5-.2h0m.5-.3h0m0 .5h0m2 0h0m2.8 .1h0m1.4-.5h0m3.1 .3h0m46.9-.6h0m4.1 .3h0m1.6 .1h0m.8 .4h0m0-.9h0m.6 .4h0m.9 .5h0m2.3-.5h0m.5 .4h0m.7-.6h0m1.7 0h0m.1 0h0m.5 .4h0m.7 0h0m.6-.2h0m1-.3h0m.8 .4h0m.6 0h0m2.6-.4h0m.2 .9h0m.3-.9h0m.2 .5h0m2.5 .1h0m.5-.3h0m.2 .5h0m.6-.9h0m.8 .8h0m.2-.7h0m.2 .5h0m.6-.1h0m1 .4h0m.8-.3h0m1.4 .3h0m.7-.3h0m.3 .1h0m.4-.6h0m.1 0h0m-135.9 1.7h0m9.1-.2h0m1-.1h0m1.8-.1h0m2.8-.2h0m1-.2h0m6.4 0h0m.9 .1h0m.1 0h0m.8 .5h0m.1 .3h0m1-.1h0m.4-.5h0m.2-.1h0m1.1-.1h0m.4 .4h0m0 .4h0m.2-.7h0m.4 .6h0m.6-.4h0m.2 .2h0m.4-.5h0m.5 .6h0m.1-.3h0m.1 .1h0m1.4-.4h0m.1 .3h0m0 .3h0m.8-.5h0m.1 .7h0m.1-.7h0m.3 .3h0m.6-.4h0m.2 .4h0m.5 .2h0m.3-.2h0m.1-.3h0m.8 .4h0m.2-.4h0m.1 .2h0m.2 0h0m0 .4h0m.1-.5h0m1.4 .7h0m0-.2h0m.1 .2h0m.7-.4h0m0-.2h0m.3 0h0m.8-.1h0m.1 .6h0m.2-.3h0m.5 0h0m.1-.1h0m0 0h0m.8 .5h0m.1-.7h0m.2-.3h0m.8 .8h0m.3-.3h0m.3-.2h0m.3-.1h0m.7 .1h0m.6 .7h0m.2-.4h0m.2 .4h0m.5-.5h0m.6-.1h0m.1 .3h0m4.3 0h0m1.2 .2h0m.3-.5h0m1.6 .2h0m15.1 .4h0m34.6-.5h0m7.3 .4h0m3.1-.5h0m2-.1h0m.6 .7h0m2.2-.6h0m.5-.1h0m.2 .7h0m.8-.3h0m.6-.1h0m.1-.5h0m.3 .8h0m.6-.8h0m1 .1h0m.1 .1h0m.4-.2h0m.6 .1h0m.2-.1h0m1.3 .2h0m.9 .2h0m.4 0h0m.7-.1h0m1 .1h0m1-.2h0m.5 0h0m1.6 .6h0m.7-.6h0m10.8 .1h0m1.5 .4h0m9.4-.2h0m-158.8 .5h0m3.5 0h0m19.1 .3h0m2.6-.1h0m1 0h0m1.7 0h0m.1 .6h0m.6 0h0m0-.4h0m.3 .3h0m.9-.7h0m.2 .8h0m.2-.1h0m.8 .1h0m0-.9h0m.1 .4h0m.2 .2h0m.2-.3h0m.8 .2h0m.3-.3h0m.1 .6h0m.6 .1h0m.1-.9h0m.4 .6h0m.3 .1h0m.4 .1h0m.3 .2h0m.4-.3h0m.3 0h0m.5-.2h0m.3-.4h0m.2 .5h0m.2 .2h0m.6-.2h0m.2-.1h0m.1 .4h0m.8-.6h0m.4-.1h0m.2 0h0m.2 .8h0m.1-.9h0m.1 0h0m.9 .8h0m.2-.2h0m.4-.6h0m.3 .8h0m.7-.2h0m.1 .2h0m.5-.2h0m.2-.6h0m.3 .8h0m.4-.2h0m.2-.4h0m0 .4h0m.6 .2h0m.4-.5h0m.1 .1h0m.7-.2h0m0 .4h0m.3-.6h0m.7 .3h0m0-.2h0m.2-.2h0m.9 .7h0m.2-.3h0m.1 0h0m.3-.4h0m.4 .9h0m.3-.5h0m.9 .4h0m.1-.4h0m.2 0h0m.7-.2h0m0 .7h0m.3-.7h0m.2 .1h0m.8-.2h0m0 .1h0m.4 0h0m.2 .6h0m.5-.5h0m.1-.3h0m.4 1h0m1.1-.9h0m6.8 .7h0m1.5-.3h0m45.7 .4h0m1.7-.8h0m.2 .6h0m3.9-.6h0m2.7 .6h0m2-.2h0m1.1-.2h0m1.6-.1h0m0-.2h0m.5 .4h0m.1 .5h0m.3-.2h0m.8-.1h0m.6-.1h0m1 .2h0m.7-.1h0m.7-.2h0m1-.3h0m0 .7h0m.6-.2h0m.5-.6h0m.5 .6h0m.3 .2h0m.5 .2h0m1-.6h0m.3 .2h0m1-.1h0m.8-.4h0m0 .6h0m1.2 .3h0m.6-.9h0m1 .5h0m.4 .1h0m1.9-.4h0m7.8 .2h0m-133.2 .6h0m11.2 .3h0m.4-.3h0m0 .8h0m.4-.1h0m1.2 0h0m.2-.6h0m1.2 0h0m.4 .3h0m.4 .4h0m2-.4h0m.4-.4h0m.5 0h0m.3 .8h0m.2-.8h0m.3 .8h0m.2-.3h0m1.2-.4h0m0 .6h0m.2-.5h0m.6-.2h0m.3 0h0m.4 .1h0m.7-.2h0m.4 .2h0m.2 .2h0m.2 0h0m.1 0h0m.1-.3h0m1.1 .8h0m.1-.7h0m.1-.2h0m.6 .7h0m0-.7h0m0 0h0m.7 .4h0m.2 0h0m.7-.3h0m.1-.1h0m.3 .2h0m.4 .7h0m.5-.6h0m.1-.2h0m.2 .8h0m.8-.8h0m.2 .8h0m.2 .1h0m.4-.1h0m.3-.3h0m.5-.5h0m.2 .8h0m.2-.5h0m.4 .5h0m.3-.8h0m.6 .7h0m0-.3h0m.6 .4h0m.2 0h0m.2-.6h0m.8 .6h0m.2 .1h0m.1-.3h0m.4-.2h0m.5 .5h0m0-.8h0m.6 .7h0m.4-.5h0m.2-.2h0m.6 .6h0m0-.3h0m.2 0h0m.9-.1h0m.3 .2h0m.3-.1h0m.4-.1h0m.8 .4h0m3.6 .1h0m2.5-.8h0m5.1 .2h0m1.3 0h0m2.2-.2h0m22.3 .9h0m14.4-.8h0m9.5 .8h0m.9-.6h0m1.5 .1h0m0 .5h0m6.4-.6h0m1.2-.3h0m.1 .8h0m2.6-.7h0m2 .1h0m.6 .6h0m1.1-.1h0m1.3 0h0m.7-.3h0m.1 .3h0m.9-.7h0m.1 .9h0m.7-.6h0m.6 .6h0m2.2-.9h0m1 .2h0m.2 .5h0m1.2-.7h0m.7 .4h0m-129.7 1.3h0m4.5 0h0m3.6 .1h0m1.4-.4h0m2.6 .5h0m.5 0h0m1-.2h0m.6-.8h0m1.4 .9h0m.4-.6h0m.4-.3h0m.1 .3h0m.3-.1h0m.4 .4h0m.3 .3h0m.5-.7h0m.4-.1h0m.4 .3h0m.6 .1h0m.1-.2h0m.3 .1h0m1 .2h0m.2-.4h0m1.1 .1h0m0 .1h0m.2 .1h0m.1-.4h0m.9 .3h0m.3 .5h0m.3-.3h0m.1 .2h0m.5-.5h0m0 .1h0m.5 .3h0m.8-.4h0m.3-.1h0m.1 .4h0m.4 0h0m0 .2h0m.8-.7h0m.4 .3h0m.3 .2h0m0-.4h0m.5 0h0m.7 .4h0m.1-.5h0m.4 .5h0m0 .4h0m.5-.9h0m.2 .7h0m.5-.3h0m0-.3h0m.4 .3h0m.4 .1h0m.3-.4h0m1.6 .1h0m.5 .1h0m0-.4h0m.3 .5h0m.1 .2h0m.2-.5h0m.7 .2h0m.2-.1h0m.4 .6h0m.4-.7h0m.8 .6h0m.2-.1h0m0 0h0m0-.6h0m1.2 .9h0m.5-.1h0m.6-.5h0m.2-.3h0m.2 .1h0m.3 .7h0m.2-.7h0m.1 0h0m.6 .1h0m.4 .3h0m.1-.1h0m.7-.5h0m.1 0h0m.3 .5h0m.6 .4h0m.2-.6h0m2.3 .6h0m.9-.1h0m.1-.1h0m8.6-.2h0m43.7 .2h0m.1 .1h0m.7 .1h0m2.1-.6h0m2.8-.1h0m.1-.1h0m1.3 .3h0m0 0h0m.6 .5h0m.3-.8h0m1.7 .1h0m.7 .8h0m1.1-.8h0m.3 .5h0m.4-.1h0m.8-.3h0m.3 .2h0m.8 .5h0m2.6-.3h0m.1-.3h0m0 .3h0m.7-.7h0m1 0h0m1.2 .5h0m1.1-.4h0m1.1 .8h0m.3-.2h0m.9-.4h0m.5 .6h0m.4-.8h0m1.5 0h0m.4 0h0m1.4 .7h0m2.3 .2h0m1.6-.1h0m-123.4 .9h0m.1-.3h0m.1 .1h0m3 .1h0m.6-.2h0m2.4-.1h0m1.8-.2h0m.2 .3h0m.5-.4h0m.6 .7h0m.6-.2h0m.2 .1h0m1.7-.6h0m.1 .1h0m.5 .2h0m.2 .1h0m.1 .1h0m1.2 .2h0m.2-.5h0m.1 .2h0m.4-.4h0m.3 .3h0m.2-.2h0m.6 .5h0m.3 .1h0m.6-.2h0m.1 0h0m.1 0h0m.6 .2h0m0-.6h0m0 .6h0m1.2-.3h0m.2 0h0m.2-.4h0m.3 .4h0m.1 0h0m.4-.3h0m1.2 .4h0m0-.5h0m0 .5h0m.3-.4h0m.5 .4h0m.1 .1h0m.5 0h0m.6 .1h0m.2-.5h0m.1 .6h0m.2-.8h0m.4 .6h0m.8 .1h0m.3 .1h0m.1-.8h0m.2 .4h0m.4-.4h0m.3 0h0m1.1 .1h0m.2 .7h0m.3-.5h0m.5 .5h0m.2-.8h0m.7 .1h0m0-.1h0m.4 .9h0m.1-.9h0m.4 .9h0m1.2-.2h0m.1-.6h0m0 .4h0m.3-.4h0m1 .6h0m.1-.5h0m.1 .1h0m.7 .1h0m.5 .3h0m.1-.5h0m2.7-.3h0m1.9 .4h0m56.7 .2h0m4.5-.1h0m4-.2h0m.9 .7h0m.9-.9h0m1 0h0m.7-.1h0m0 .8h0m.1-.3h0m1.3-.4h0m.2 .1h0m0 .6h0m2.3-.7h0m.4 .4h0m.5-.2h0m.1 .5h0m.2 .1h0m.3-.8h0m1.1 .2h0m1.8 .2h0m.9-.2h0m.2 0h0m.1 0h0m.6 .3h0m2.3-.1h0m.3 .5h0m.6-.9h0m.3 .2h0m.7 .3h0m.8-.5h0m-112.4 1.4h0m.8-.2h0m.8 .2h0m.5 .4h0m.2-.4h0m1.5-.3h0m.3 .8h0m.7-.4h0m.3 0h0m.5-.3h0m.2 .5h0m.3 .1h0m.5-.6h0m.3 .5h0m.2-.7h0m.3 .5h0m.1-.5h0m.1 .5h0m.9 .1h0m.3-.2h0m.1 .4h0m.7-.5h0m0-.3h0m.3 .6h0m.8 .1h0m.1-.5h0m.2-.1h0m.4 .5h0m.3-.1h0m.5 .2h0m.2-.4h0m.2 .4h0m.1-.4h0m.7 .2h0m0 .1h0m.5 .1h0m.5-.6h0m.1 .3h0m.6 .2h0m.6-.7h0m.3 .4h0m0 .6h0m.6-.4h0m.3-.1h0m.2 .3h0m.1 0h0m.5-.3h0m.1 .4h0m.5-.1h0m0-.1h0m.4-.5h0m1.1-.2h0m.2 .3h0m.2 0h0m.7-.3h0m0 .3h0m.4 .7h0m1.6-.5h0m2.5 .2h0m.7-.4h0m.2-.3h0m.3 .1h0m1.8 .2h0m.3 .5h0m8.9-.3h0m3.9 .4h0m43.9-.4h0m.9-.1h0m4 .3h0m.2-.4h0m1.6-.2h0m.3 .1h0m.3 0h0m.9-.1h0m.9 .3h0m2.8 0h0m.2-.3h0m.4 .1h0m1-.1h0m.1 .8h0m.2-.4h0m.1-.4h0m1.4 .8h0m.3-.7h0m1.8 .5h0m.1-.5h0m1.8 0h0m.8 .5h0m.7-.1h0m0 .1h0m1.3-.7h0m0 .2h0m.6 .6h0m.9-.3h0m.1 .2h0m.1-.4h0m3.5 .1h0m1-.3h0m-128.7 1.6h0m5.6-.5h0m.6 .8h0m1-.4h0m2.2 .4h0m2-.8h0m.4 .3h0m3.1 .2h0m.2 0h0m.5-.3h0m0-.3h0m.2 .2h0m.6 .1h0m.4 .2h0m.2 .3h0m.5 0h0m0-.5h0m1.4 .3h0m.4-.6h0m.7 .8h0m0-.8h0m.7 .4h0m.1 .1h0m0 .3h0m.5-.6h0m.2 .5h0m0-.7h0m1.4 .8h0m.1-.7h0m.2 .2h0m.1 .1h0m.1-.4h0m.3 .3h0m.8 .1h0m.2 0h0m.2-.3h0m.9 .6h0m.1-.3h0m.3 .1h0m.2 .2h0m.1-.6h0m.3-.1h0m.5 .4h0m0 .4h0m0 0h0m.9-.7h0m.6 .2h0m.2 .2h0m.3-.1h0m.1 .3h0m.3-.2h0m.9 .4h0m.2-.9h0m.2 .4h0m.3-.4h0m.6 .5h0m.3-.1h0m.5 .2h0m.4-.3h0m.2 .2h0m.4 0h0m.1 .4h0m.5-.9h0m0 .4h0m.5-.2h0m.5 0h0m0-.1h0m.2-.1h0m.9 .3h0m.3 .3h0m.3 0h0m1.2-.5h0m.4 .6h0m1.5-.3h0m.8-.3h0m.3-.2h0m10.1 .2h0m.8 .4h0m48.1-.4h0m4.2 0h0m1.3 .7h0m2.3-.5h0m.1-.4h0m2.6 .6h0m.4-.5h0m.9 .8h0m.1-.1h0m1.1-.6h0m.4 .5h0m.3-.3h0m.4-.3h0m.3 .2h0m.4 0h0m.6-.1h0m.8 0h0m1.1 .7h0m.4-.8h0m.2 .2h0m.7 0h0m.2 .5h0m0-.5h0m.6 .4h0m.1-.3h0m.3-.2h0m.9 .2h0m0 .2h0m5.9 0h0m-165.2 .9h0m44.2 .3h0m9.3-.2h0m.3-.1h0m.2 .4h0m.3 0h0m1.7-.6h0m.1-.1h0m.4 .3h0m.2 0h0m.7 .2h0m.7-.4h0m.3 .3h0m.5 .3h0m0-.7h0m.4 .6h0m.3 0h0m.3-.7h0m.6 .1h0m.3 .7h0m.4-.7h0m.3 .3h0m.9-.4h0m0 .5h0m.1 .3h0m.6-.2h0m.3-.1h0m0 .2h0m.8 .1h0m0-.3h0m.2-.2h0m.4 .1h0m.3 .4h0m.9 0h0m.3-.1h0m.2-.7h0m.5 .7h0m0-.4h0m.5-.3h0m.4 .8h0m.1-.6h0m.3 0h0m.4 0h0m.6 .3h0m.2 .3h0m.3-.2h0m.3-.3h0m.2 .3h0m.4-.4h0m.2 0h0m.7 .3h0m.6 .2h0m.4-.6h0m.2 .1h0m.1 0h0m.1 .1h0m.7 .5h0m.1-.1h0m.2-.2h0m1.5-.1h0m.3-.1h0m.3-.2h0m.6 .6h0m.2 .1h0m1.1-.8h0m.2 .3h0m3.6 0h0m.3-.4h0m8 .9h0m11.2-.4h0m39.3 0h0m1.8-.5h0m.3 1h0m2.8-.2h0m.4-.5h0m1.1 .6h0m0-.8h0m1.5 .9h0m.3-.7h0m1.3 .2h0m.4 .1h0m1.9-.4h0m.6-.1h0m0 .3h0m.4 0h0m.4 .3h0m1.5-.7h0m1.5 .4h0m.4-.2h0m.4 0h0m1 .4h0m0-.6h0m.4 .5h0m0 .5h0m1.1-.7h0m0 .2h0m1.8 0h0m2 .2h0m5.1 .1h0m-170 1.1h0m29.9-.2h0m1.8-.1h0m11.4 .3h0m8.8-.8h0m3 .1h0m.2 .7h0m.2-.1h0m.7-.2h0m.1-.2h0m.4 .3h0m.6 .2h0m0 0h0m.8-.2h0m.5-.2h0m.6 .2h0m.4-.6h0m.1 .1h0m.1 .4h0m.7-.5h0m.8 .3h0m0-.4h0m.2 .9h0m.4-.3h0m.7-.1h0m.1-.1h0m.3 .3h0m.4 .2h0m.5-.6h0m.1 .5h0m.5 .2h0m.3-.5h0m.4 .1h0m.4-.2h0m.6 0h0m.2-.2h0m0 .6h0m.6-.7h0m.2 .7h0m.4-.1h0m.2 .2h0m.8-.1h0m.2-.7h0m0 .3h0m.2 .1h0m.7-.3h0m.6 .1h0m.1 .2h0m.5-.3h0m.5 .3h0m.5 0h0m.6 0h0m2 .5h0m.2-.2h0m.1-.6h0m.3 .2h0m.1 0h0m.7 .4h0m0-.6h0m.8 .3h0m.7-.2h0m2.3 .6h0m.1-.8h0m1.6 .7h0m.8-.5h0m.6 .4h0m1.4 0h0m3.4-.2h0m45.3 .2h0m7.9-.5h0m2.8 .8h0m.4-.3h0m2-.5h0m.7 .4h0m0-.4h0m1.5 .4h0m.3 .2h0m.2-.4h0m.2 0h0m.1-.2h0m0 .2h0m1.9 .3h0m.2-.2h0m1.1-.1h0m.1-.2h0m.3 .3h0m.5-.3h0m1.4 .5h0m.1 .1h0m.7-.4h0m.8 .1h0m1.3 .3h0m.8 .1h0m.2-.7h0m3.7 .6h0m.5 0h0m2.7-.4h0m2.6 .1h0m-120.1 .8h0m1 .3h0m2.2-.4h0m0 .4h0m.1-.4h0m2 .8h0m.6-1h0m.4 .8h0m1.4-.8h0m.9 1h0m.2-.1h0m.7-.6h0m.7 .4h0m1.4-.5h0m.1 .5h0m.3-.5h0m.1 .3h0m.8 0h0m.1-.4h0m.4 .5h0m.5 0h0m1.1 .4h0m.1-.4h0m.7-.4h0m.6-.1h0m.4 .4h0m.6-.4h0m.1 .7h0m.4 .2h0m.2-.7h0m.4 0h0m.3 .7h0m.3-.5h0m.2-.1h0m0-.1h0m.7 .2h0m.2-.4h0m.3 .1h0m1.2 .7h0m.2-.7h0m.3 .5h0m.5 .3h0m.2-.1h0m.9-.4h0m.1-.2h0m.2 0h0m.2 .2h0m.1-.2h0m.6 .3h0m.3 .2h0m.5-.7h0m.2 .8h0m.4-.6h0m.5 .2h0m.6-.5h0m.4 .7h0m0-.3h0m.2 .6h0m.6-.9h0m.3 0h0m.1 .5h0m.4-.1h0m1.6 .1h0m0-.4h0m2.7 .4h0m.1-.5h0m1.5 .2h0m3.7 0h0m60.5 .1h0m.3 .4h0m.9-.4h0m.3 0h0m2.1 .2h0m2.2-.1h0m1.2 .2h0m.3-.2h0m.7-.4h0m4.3 0h0m1.2 .5h0m.6 .2h0m.9-.5h0m1-.1h0m.6 .3h0m.5-.3h0m.8 .4h0m2.2-.4h0m4.4 .2h0m.7 0h0m-151 1.5h0m20.9-.8h0m4 .6h0m4.3 .2h0m.6-.4h0m2.1-.5h0m.2 .9h0m2.3-.3h0m0 .1h0m.7 .3h0m.8-.6h0m.2-.1h0m1.4-.2h0m.2 .7h0m0-.6h0m1 .6h0m1.3-.7h0m.1 .2h0m.2-.1h0m.5 .2h0m.2 .1h0m.3 .3h0m.3-.5h0m.1 .3h0m.7-.2h0m.1-.1h0m.2 .5h0m.6-.1h0m.8-.1h0m.5-.1h0m.2 0h0m.2-.5h0m.4 .6h0m.4-.4h0m.1 .1h0m.4 0h0m.2-.1h0m.6 .1h0m.5 .5h0m.1-.8h0m.4 .9h0m.3-.5h0m0 0h0m.6 .1h0m.5 .1h0m0-.3h0m.5 .1h0m.6-.2h0m.8 .1h0m0 .6h0m.6-.2h0m.5-.1h0m.7-.4h0m.8 .3h0m.4-.1h0m.3-.2h0m.3 .4h0m1.1 .2h0m0-.4h0m.2 .5h0m.6 0h0m0-.2h0m1-.2h0m3.9-.1h0m2.6 .1h0m49.8 .4h0m5-.7h0m1.7 .4h0m1.9 0h0m2.7-.5h0m.6 .3h0m1.1 .1h0m3.3 .5h0m.1-.1h0m1.2 0h0m0-.4h0m2.8 .2h0m.9-.7h0m.8 .3h0m.4 .4h0m.6 0h0m1.9 .3h0m.2-.9h0m2.2 .2h0m2.3 .6h0m.4-.4h0m1.2 0h0m1-.3h0m-121.7 1.5h0m1.2-.5h0m.6 .2h0m4.3-.3h0m.1 .2h0m5.2 .6h0m.8 .1h0m.6-.3h0m.1 .2h0m.3-.1h0m.4 .1h0m.1-.5h0m.6-.4h0m.2 .8h0m.8-.2h0m.1-.6h0m.4 .1h0m.2 .7h0m.4-.1h0m.3 .1h0m.6 0h0m.1 0h0m.8-.7h0m.5 0h0m.4 .5h0m.2 .2h0m.2 .1h0m.9-.7h0m.1 .4h0m.5-.2h0m.5 .2h0m.4-.3h0m0 .4h0m.8 0h0m.3-.3h0m0 .3h0m.5-.6h0m.5 .2h0m.3-.3h0m.2 .2h0m.6 .6h0m.2-.1h0m.3-.2h0m.3-.4h0m.4 .1h0m.2 .4h0m.2-.3h0m1 .2h0m.5-.4h0m2.2 .3h0m0 .5h0m.8 .1h0m1.7-.8h0m.1 .4h0m0 .1h0m1.2-.4h0m.4-.1h0m4.4 .6h0m.1 .1h0m49.9-.1h0m7.8-.1h0m2.3-.5h0m1.1 .5h0m.1-.2h0m1.9 .2h0m.3 .2h0m1-.9h0m.4 .5h0m.1-.1h0m.9 .1h0m.4 0h0m0 .3h0m.9-.1h0m4.7-.3h0m2.4 0h0m2.2 .3h0m2-.5h0m1.6 .4h0m4.8-.6h0m-137.9 1.1h0m18 .3h0m1 0h0m2.4 0h0m.6 0h0m.1 .2h0m.8-.2h0m.4 .1h0m1 .4h0m.1-.5h0m0 .1h0m.2-.1h0m2.7 .5h0m.1-.2h0m.1-.6h0m.1 .8h0m.3-.6h0m.9 .5h0m.1-.3h0m.4-.4h0m.3 .1h0m0-.1h0m.6 .3h0m.3-.3h0m.3 .7h0m.4 .1h0m.2 .1h0m.9-1h0m0 .9h0m.5-.5h0m.3-.2h0m.3-.1h0m.3 .2h0m.2 .3h0m.4 .3h0m.5-.1h0m.2 .2h0m0-.3h0m.8-.3h0m.4 .1h0m.1-.4h0m.3 .2h0m0 .7h0m.4-.5h0m.7-.3h0m.6 .7h0m.6-.6h0m.1 .2h0m.4-.4h0m1.5 .2h0m.2 0h0m.7 .7h0m.4-.5h0m.3-.2h0m.1 .4h0m.7-.3h0m.3 .2h0m.3-.3h0m3-.3h0m.4 .5h0m1.6-.1h0m2.2 .1h0m53.4-.1h0m2.3-.1h0m5.7-.1h0m1.6 0h0m1.5 .1h0m.1 .4h0m1.5 0h0m1.3-.2h0m2.2-.1h0m2.3-.1h0m.3 .5h0m.6-.3h0m.7-.5h0m.4 0h0m.5 .7h0m1-.5h0m1.6 .1h0m0 .5h0m4.4-.3h0m1.2-.4h0m2.1 .5h0m-118.1 .4h0m7.3 1h0m.6-.4h0m.5-.5h0m1 .8h0m.7-.7h0m.2 .4h0m.5 .1h0m.2-.6h0m.1 .6h0m.7 0h0m.6-.6h0m1.8 .5h0m.1 .2h0m.4 .1h0m1.3-.1h0m.1-.7h0m.2 .4h0m.5 .1h0m.4 0h0m.3-.3h0m.4 .2h0m.6 .2h0m.4-.7h0m.4 .2h0m.1 .2h0m1.2 .3h0m.2 0h0m.2-.2h0m1.4-.1h0m.2 0h0m.2-.1h0m2.6 .6h0m.1-.9h0m.4 .3h0m.7 .5h0m1.7 0h0m0-.6h0m7.7 .6h0m14.9-.3h0m34.9 .2h0m7.3-.6h0m.2 .8h0m3.8-.7h0m.8 .6h0m1.8-.2h0m1.8-.1h0m2.1 .5h0m.6-.4h0m0 .2h0m2.5 0h0m1-.5h0m.6 0h0m.5 .1h0m2.8 .6h0m.3-.4h0m.5-.3h0m.7-.2h0m3.8 .4h0m.8 .3h0m3.6 0h0m-116.5 .6h0m.8-.1h0m1.3-.1h0m.8 .7h0m.2 0h0m.2 0h0m1.1 0h0m1.8 .1h0m.3-.1h0m.3 .1h0m.1-.9h0m.3 .6h0m1.1 .3h0m.5-.1h0m.2-.7h0m.5 .8h0m.3-.1h0m.1-.3h0m1-.3h0m.1 .4h0m.2 0h0m.5-.6h0m.5 .7h0m1.4-.2h0m1.1-.1h0m.3-.1h0m.6 .2h0m.3 .1h0m.3-.6h0m.3 .2h0m.5 .1h0m.1-.2h0m.1-.2h0m.9 0h0m1.1 .8h0m.4-.4h0m.3-.1h0m2 .1h0m.9 .5h0m2-.3h0m3.7 .1h0m52.8-.6h0m5.7 .5h0m.2-.3h0m1.4 .2h0m1.7 .4h0m1.7-.6h0m1.1 .6h0m2.2-.4h0m.9-.2h0m2.9 .1h0m.4 0h0m1.2 .3h0m1.3-.4h0m.6 .2h0m.7-.2h0m.3-.1h0m1 .3h0m.7 .3h0m2.3-.4h0m.1 .1h0m0-.2h0m2.4-.3h0m8.4 .6h0m-144 .6h0m23.1 .1h0m3.5 .4h0m1.8-.6h0m.8 .6h0m.1 0h0m.4 .2h0m.3 .1h0m.7-.1h0m1.5-.9h0m.1 .6h0m.2-.5h0m.2 0h0m0 .4h0m1.8 .3h0m.1-.1h0m.8 .1h0m.3-.7h0m.1 .2h0m.6 .5h0m.4-.7h0m.1 .2h0m.7 .1h0m.2-.2h0m1.6 .1h0m.9 0h0m0 .2h0m.3 0h0m.1-.3h0m.4 .5h0m.9 .2h0m2.6 .1h0m1-.8h0m1.7 .6h0m1 .1h0m.3-.4h0m.3 .4h0m24.9-.4h0m2.1-.1h0m31 .4h0m9.9 0h0m.2 .1h0m3.4 0h0m1.3-.6h0m2.7 .5h0m3.1 0h0m0 0h0m1.4 0h0m1.8-.2h0m.7-.4h0m2.3-.1h0m1 .1h0m.9 .7h0m1-.2h0m4.2-.1h0m-119.5 .9h0m.8-.1h0m6.9 .5h0m1-.6h0m3-.1h0m.1 .3h0m.1 0h0m1.2-.1h0m.8 .2h0m1.2-.1h0m0 .3h0m.6-.4h0m.4-.1h0m.7 .1h0m.1 .3h0m.5-.6h0m.5 .3h0m1.1 0h0m0 .1h0m1.1-.5h0m.2 1h0m.5-.7h0m.3 .5h0m1 .1h0m.2-.4h0m1.3 .1h0m1-.2h0m.7 0h0m.4 .2h0m19.6-.2h0m37.5 0h0m14.8 .6h0m2.7-.2h0m1.7-.7h0m3.2 .6h0m2.7-.1h0m23 .2h0m-125.1 .4h0m3.1 .6h0m.2-.6h0m.3 .6h0m1.8 0h0m1.7-.5h0m.2 .4h0m.4 0h0m1.9-.1h0m.7-.3h0m.2 0h0m.9 0h0m.2 .5h0m.1-.2h0m.6-.2h0m3.4-.2h0m.1 .7h0m.4-.6h0m.3 .4h0m.4-.6h0m.3 .1h0m.3 .2h0m.8 .2h0m1.4 .1h0m1 .2h0m5.2-.7h0m53.7 .3h0m13.9 .1h0m3.7-.5h0m1 .8h0m1.9-.6h0m3.2 0h0m3 .4h0m2.1-.5h0m-108.8 1.3h0m1.2 .3h0m0-.3h0m.5 .4h0m.5-.2h0m.9 .1h0m2.2-.2h0m1.4-.4h0m.4 0h0m0-.2h0m.8 .5h0m.9-.2h0m2.1 .1h0m1.5 0h0m.3-.4h0m.9 .8h0m.2 0h0m.7 .1h0m1.6-.5h0m.6-.2h0m3.7-.2h0m7.8 .8h0m59.6-.3h0m.1-.3h0m1.2 .1h0m3.1 0h0m1.7-.3h0m.5 .8h0m7-.5h0m2.1 .4h0m2.4-.6h0m2.9 .3h0m.9 .2h0m-117.4 .5h0m1 .3h0m2.9-.1h0m7.7-.1h0m.2 .3h0m1.1 0h0m1.3 .3h0m1.3-.2h0m.4 .2h0m3-.8h0m.2 0h0m1.2 .8h0m.7-.4h0m0-.1h0m1.9 .4h0m.8-.6h0m.8-.1h0m1.1 .5h0m.1-.2h0m.3 .5h0m.7-.3h0m.3-.2h0m.3 0h0m3-.3h0m3.6 .6h0m.8 .2h0m4.1 .1h0m53.7-.3h0m.8-.2h0m.3 .5h0m1.6-.4h0m6 .2h0m1.6-.1h0m.5 .4h0m2.7-.3h0m2-.6h0m1.7 .3h0m1.3 .5h0m.8 .1h0m0-.6h0m-101 .9h0m1.8 .3h0m3.2-.1h0m2.2-.3h0m.7-.1h0m.6 .9h0m2.5-.2h0m.6-.2h0m.2 0h0m.7 0h0m.6 0h0m2 .1h0m1.3-.7h0m2.5 .8h0m1.8-.4h0m1-.2h0m9.8-.1h0m50.2 .3h0m11.2-.2h0m.2 .7h0m5.4-.9h0m1.5 .8h0m1-.7h0m3.3 0h0m-105 1.2h0m1.2 0h0m2.2-.1h0m.3 .8h0m6.7-.7h0m2.9-.1h0m4.1 .4h0m.3-.6h0m.2 .7h0m75.1-.6h0m2.6 .8h0m1.5-.1h0m3.7-.4h0m.1 .2h0m-114 .6h0m1.7 .1h0m3.9 .2h0m5.6-.2h0m1.7-.3h0m4.2 .9h0m6.1 0h0m1.4 0h0m1-.8h0m5.3-.1h0m73.2 .7h0m8.1 .1h0m1.7-.8h0m1.1 .1h0m1.8 .8h0m-94.2 .6h0m2 .5h0m.4-.7h0m4.8 .3h0m1.3-.4h0m.2 .1h0m72.6 .6h0m2.6-.5h0m.6-.1h0m.1-.1h0m1 .6h0m4.9-.6h0m.6 0h0m3.3 .3h0m5.5-.3h0m.7 .7h0m-113.8 .4h0m23.9-.3h0m9.6 .3h0m60.5 0h0m1.7 .1h0m.5-.3h0m2-.1h0m7.7 .2h0m1.1-.2h0m9.2 .6h0m-110.1 .5h0m6.8 .4h0m4.9 .3h0m14.3-.7h0m57 .2h0m3.7 .3h0m1.8-.5h0m.5 .3h0m.9 .3h0m4.8 .3h0m5.7-.2h0m.6-.6h0m-105.2 1.1h0m2.9 .2h0m3.9 0h0m5.8-.4h0m3.2 .5h0m2.7-.4h0m5-.1h0m70.3 .2h0m6.3 .7h0m3.9-.7h0m4.6 .5h0m4.5-.4h0m-117.6 1.1h0m15.4-.1h0m84.9-.2h0m5.1 .1h0m-92.2 .8h0m15.1 .2h0m73.9 .4h0m-98.7 1.3h0m4.7-.3h0m12.4-.6h0m5.1 .8h0m2.2-.5h0m66.3 .5h0m-80.2 1.7h0m90-.5h0m-95.1 1.1h0m5.8 .2h0m91.9 .1h0m-91.9 1.4h0m5.4 0h0m79.1-.9h0m6.6 .2h0m-120.4 1.1h0m111.5 .1h0m2.7 .1h0m-2.7 1h0m2.4 .3h0m13.8 .6h0m-101.4 1.8h0m-9.1 6h0m13.1 .4h0m-43.4 7.6h0" stroke="#ff5f55" stroke-width="1.3" stroke-linecap="round" fill="none"/>
<rect x="811.4" y="16.3" width="279.6" height="258.9" fill="none" stroke="#000" stroke-width="1.35"/>
<line x1="935.8" y1="16.3" x2="935.8" y2="275.2" stroke="#000" stroke-width="1.5" stroke-linecap="butt"/>
<line x1="811.4" y1="169.4" x2="1091" y2="169.4" stroke="#000" stroke-width="1.5" stroke-linecap="butt"/>
<path d="M811.4 272v6.4M830.39 273.4v3.4M841.51 273.4v3.4M849.39 273.4v3.4M855.51 273.4v3.4M860.5 273.4v3.4M864.73 273.4v3.4M868.38 273.4v3.4M871.61 273.4v3.4M874.5 272v6.4M893.49 273.4v3.4M904.61 273.4v3.4M912.49 273.4v3.4M918.61 273.4v3.4M923.6 273.4v3.4M927.83 273.4v3.4M931.48 273.4v3.4M934.71 273.4v3.4M937.6 272v6.4M956.59 273.4v3.4M967.71 273.4v3.4M975.59 273.4v3.4M981.71 273.4v3.4M986.7 273.4v3.4M990.93 273.4v3.4M994.58 273.4v3.4M997.81 273.4v3.4M1000.7 272v6.4M1019.69 273.4v3.4M1030.81 273.4v3.4M1038.69 273.4v3.4M1044.81 273.4v3.4M1049.8 273.4v3.4M1054.03 273.4v3.4M1057.68 273.4v3.4M1060.91 273.4v3.4M1063.8 272v6.4M1082.79 273.4v3.4M809.6 271.1h3.4M809.6 266.47h3.4M809.6 262.55h3.4M809.6 259.16h3.4M809.6 256.17h3.4M808.2 253.5h6.4M809.6 235.9h3.4M809.6 225.61h3.4M809.6 218.31h3.4M809.6 212.65h3.4M809.6 208.02h3.4M809.6 204.1h3.4M809.6 200.71h3.4M809.6 197.72h3.4M808.2 195.05h6.4M809.6 177.45h3.4M809.6 167.16h3.4M809.6 159.86h3.4M809.6 154.2h3.4M809.6 149.57h3.4M809.6 145.65h3.4M809.6 142.26h3.4M809.6 139.27h3.4M808.2 136.6h6.4M809.6 119h3.4M809.6 108.71h3.4M809.6 101.41h3.4M809.6 95.75h3.4M809.6 91.12h3.4M809.6 87.2h3.4M809.6 83.81h3.4M809.6 80.82h3.4M808.2 78.15h6.4M809.6 60.55h3.4M809.6 50.26h3.4M809.6 42.96h3.4M809.6 37.3h3.4M809.6 32.67h3.4M809.6 28.75h3.4M809.6 25.36h3.4M809.6 22.37h3.4M808.2 19.7h6.4" stroke="#000" stroke-width="1.1" fill="none"/>
<text class="sa" x="814.1" y="300.4" font-size="12" text-anchor="end" fill="#111">10<tspan font-size="11.8" dy="-6.5">1</tspan></text>
<text class="sa" x="877.2" y="300.4" font-size="12" text-anchor="end" fill="#111">10<tspan font-size="11.8" dy="-6.5">2</tspan></text>
<text class="sa" x="940.3" y="300.4" font-size="12" text-anchor="end" fill="#111">10<tspan font-size="11.8" dy="-6.5">3</tspan></text>
<text class="sa" x="1003.4" y="300.4" font-size="12" text-anchor="end" fill="#111">10<tspan font-size="11.8" dy="-6.5">4</tspan></text>
<text class="sa" x="1066.5" y="300.4" font-size="12" text-anchor="end" fill="#111">10<tspan font-size="11.8" dy="-6.5">5</tspan></text>
<text class="sa" x="797" y="259.3" font-size="12" text-anchor="end" fill="#111">10<tspan font-size="11.8" dy="-6.5">2</tspan></text>
<text class="sa" x="797" y="200.85" font-size="12" text-anchor="end" fill="#111">10<tspan font-size="11.8" dy="-6.5">3</tspan></text>
<text class="sa" x="797" y="142.4" font-size="12" text-anchor="end" fill="#111">10<tspan font-size="11.8" dy="-6.5">4</tspan></text>
<text class="sa" x="797" y="83.95" font-size="12" text-anchor="end" fill="#111">10<tspan font-size="11.8" dy="-6.5">5</tspan></text>
<text class="sa" x="797" y="25.5" font-size="12" text-anchor="end" fill="#111">10<tspan font-size="11.8" dy="-6.5">6</tspan></text>
<text class="sa" x="814.6" y="27" font-size="11.5" text-anchor="start" fill="#1a1a1a">Q1-1</text>
<text class="sa" x="814.6" y="40.5" font-size="11.5" text-anchor="start" fill="#1a1a1a">2.68%</text>
<text class="sa" x="814.6" y="257.9" font-size="11.5" text-anchor="start" fill="#1a1a1a">Q1-3</text>
<text class="sa" x="814.6" y="271.3" font-size="11.5" text-anchor="start" fill="#1a1a1a">69.81%</text>
<text class="sa" x="1053.8" y="27" font-size="11.5" text-anchor="start" fill="#1a1a1a">Q1-2</text>
<text class="sa" x="1053.8" y="40.5" font-size="11.5" text-anchor="start" fill="#1a1a1a">1.86%</text>
<text class="sa" x="1047.4" y="257.9" font-size="11.5" text-anchor="start" fill="#1a1a1a">Q1-4</text>
<text class="sa" x="1047.4" y="271.3" font-size="11.5" text-anchor="start" fill="#1a1a1a">25.65%</text>
</g>
<g>
<path d="M429.1 390.2h0m-3.7 16.8h0m9.4 .4h0m22.2 7.4h0m23.9 .8h0m-62.8 1.5h0m118.9 2.3h0m-132.7 2.8h0m9.3 1.6h0m16 .7h0m52.8 .4h0m-10.6 2h0m36.9-.7h0m-119.5 1.1h0m73.7 1.6h0m60.4-.1h0m-122.8 .9h0m52.3-.6h0m19.6 .1h0m50.4 .4h0m-75.6 .8h0m49.5 .7h0m-70.5 1.8h0m77.4 .4h0m-104.9 1.6h0m118 .4h0m-105.3 .9h0m62.8 .6h0m-78.1 1.5h0m85.2 1h0m36.5 .6h0m-133.2 .3h0m18.6 .3h0m78.1-.4h0m3.6 .4h0m2.7 .4h0m37.5 0h0m-100.5 .8h0m23 .2h0m-36 .9h0m34.7-.7h0m109.4 1.2h0m-115.2 .7h0m66.3 .8h0m14.4 0h0m33.6-.5h0m-133.8 1.5h0m26.9-.7h0m6.8 .5h0m-17 1.4h0m107.5-.4h0m24.4 .2h0m-97.5 .7h0m61.4-.5h0m-106.6 1.3h0m13.3 .3h0m3.4 .2h0m-26.9 .4h0m24.5 .1h0m1.4-.2h0m13.7 .1h0m34.1 .7h0m6.7-.3h0m89.9 0h0m-132.7 .9h0m2 .2h0m26.8 .1h0m38.2-.3h0m20.2 .4h0m-123.3 1.7h0m38.5 .4h0m46.1-.4h0m6.7 .3h0m58.5-.9h0m-183 1.8h0m57.1 .1h0m85.6-.2h0m-105.6 .7h0m9.1 .1h0m24.2-.4h0m52.2 .5h0m27.1-.2h0m-102.5 1.6h0m6-1h0m1.2 .8h0m11.2-.8h0m24.6 .9h0m56.8-.5h0m2.4 .2h0m28.2 0h0m5.4 .2h0m-161 .8h0m23-.1h0m17.2 .7h0m.7 .5h0m43.6-.2h0m-67.1 .5h0m31.3 .8h0m6.9-.7h0m18 .6h0m-86.9 .8h0m30.2-.1h0m7.2 .5h0m26.3-.2h0m24.4-.6h0m-68.2 1.8h0m4.4 .1h0m4.3-.5h0m.7 .3h0m156.8-.5h0m-182.7 1.4h0m10.6 .1h0m123.3-.3h0m3.8-.1h0m-138.9 1.2h0m16.7 .1h0m20.7-.4h0m15.1 0h0m6-.2h0m2.1 .7h0m.9 .5h0m20.2-.3h0m60 .7h0m-143.6 1.2h0m113.9-.2h0m-77 1.1h0m9.9-.1h0m9-.7h0m28.1 .5h0m-85 .7h0m48.7-.1h0m83.9 .7h0m14.7 .7h0m-149.8 1h0m39.9 .4h0m22.3-.5h0m38.1 .3h0m-79.8 .5h0m38.2 .7h0m6.7-.9h0m3.5 .9h0m57.3-.5h0m12.3 .4h0m-103.3 .8h0m29.9 .1h0m15.3-.5h0m5.8 .1h0m2.7-.2h0m9.1 .9h0m33-.6h0m-97.5 1.1h0m20 .3h0m32.7-.5h0m.7 .7h0m52.3-1h0m9.2 .6h0m-110 .6h0m1.7 .3h0m18.4-.5h0m3.9 .2h0m34.9 0h0m34.3 .3h0m58.1 .1h0m-143.6 .8h0m13.8 .4h0m57.4 .2h0m14.1-.1h0m5.2-.3h0m-129.8 1.2h0m53.1-.5h0m35.5-.2h0m.4 .7h0m3.5 .2h0m30.3-.9h0m2.6 .7h0m11.3 0h0m-132.8 1.2h0m6.4-.2h0m8-.3h0m35.8 .4h0m33.5-.3h0m3.3-.3h0m15.4 .1h0m-101.7 .7h0m35 .5h0m14.3-.4h0m5.6 .7h0m44-.7h0m4.4 .1h0m39.3 .6h0m20.2-.7h0m-85.1 1.4h0m35.5-.2h0m14.1-.3h0m-154.8 1.2h0m114.7 .7h0m17.5-.6h0m.6 .5h0m5.6-.4h0m-115.3 1.4h0m18.2-.9h0m8.3 .2h0m43.9 .1h0m55.1 .1h0m.5 .6h0m-136.1 .3h0m62.6 .4h0m34.9 0h0m3.1-.1h0m9.9 .1h0m49-.2h0m14.1 .4h0m-161.4 .8h0m18-.4h0m81 0h0m27.4 .4h0m-58.9 .9h0m11.1 .1h0m4.1-.7h0m18.2 .2h0m.2 .5h0m31 .2h0m43.3 0h0m-177.7 .9h0m7.1-.5h0m11.4-.1h0m69.2 .5h0m47.7-.2h0m4.5-.2h0m-130.8 1.1h0m39.4 .1h0m18.1 .3h0m24.4-.2h0m30.5 .4h0m22.8-.8h0m-144.8 1.4h0m50.5 .1h0m11.8 .3h0m40.8-.9h0m42.1 .4h0m7.5-.2h0m-114.4 1h0m2.1 .2h0m18.3 .2h0m4.3-.3h0m65-.4h0m4 0h0m23.7 .6h0m17.2 .3h0m-139.5 .8h0m23.5 .2h0m24.4-.5h0m.8 .5h0m45.8-.5h0m-150.5 1.6h0m43.7-.4h0m44.7 .1h0m.7-.6h0m4.6 .1h0m11.2 .3h0m10.4 .2h0m15.2-.3h0m-84.9 .7h0m10.2 .5h0m23.1 0h0m24.9-.1h0m46.9-.3h0m4.5-.2h0m-138.2 1.2h0m45.3 0h0m2.6 .8h0m34.7-.1h0m19.7-.8h0m91.1-.1h0m-144.6 1.6h0m5-.1h0m39.1 .1h0m2.1-.2h0m65.9-.2h0m-157.4 1.1h0m83.7 0h0m47.2 .2h0m1.1 .4h0m10.9-.1h0m-76.4 .4h0m44.3 .2h0m9.6 .5h0m26-.3h0m1.7 .4h0m1.8-.1h0m3.1-.8h0m6.6 .9h0m17.7-.5h0m-199.6 1.3h0m5.8-.4h0m76.8 .2h0m9.4 .2h0m33.9-.4h0m24.7-.4h0m17.3 .9h0m31.8-.4h0m-175.7 1h0m2.9 .3h0m34.4-.6h0m51 .2h0m14.2-.3h0m8 .9h0m31.4-.3h0m-93.1 .9h0m23-.1h0m28.6-.1h0m46.1 .2h0m6.6 .2h0m-153.9 .2h0m30.1 2h0m21.3-.1h0m39.3-.1h0m37.2-.7h0m19.2 0h0m24.2 .5h0m-168.5 .7h0m63.8 .5h0m58.9-.3h0m1.6-.4h0m19.4 .7h0m-103.9 .9h0m10.3-.4h0m4.5 .4h0m14.3 0h0m2.4-.7h0m15.1 .8h0m72.9-.3h0m1.4 .5h0m-176.1 .2h0m123.2 .2h0m8-.2h0m52.1 .4h0m-59 .8h0m11-.2h0m23.7 0h0m6.8 .5h0m21.1-.6h0m-193.5 1.8h0m26.5-.5h0m51.3 0h0m.6-.1h0m18.3 .6h0m66.7-.5h0m16.3 .4h0m25.5 .1h0m8.8-.1h0m-186.6 .7h0m49.8 .3h0m25.2-.8h0m10.7 .3h0m66.9-.2h0m5 .3h0m-185.4 1.1h0m73.6 .5h0m33.2-.7h0m12.6 .2h0m19.7-.3h0m24 .7h0m1.4-.8h0m2.8 .3h0m-120.6 1.5h0m64.3-.1h0m49.3 .1h0m.6-.3h0m3.4 0h0m22.4-.6h0m-108.1 1.9h0m2-.7h0m11.7-.1h0m52.6 .3h0m16 .5h0m-148.3 .6h0m33 .1h0m64.9-.5h0m12.8 .1h0m42 .8h0m3-.2h0m21.2-.8h0m2.5 .5h0m-160.5 1h0m68.2-.3h0m25.3 .7h0m11.7 0h0m15.1-.5h0m19.6-.1h0m-112.1 .9h0m3.1 .3h0m98.1 .2h0m2.2 .2h0m.5-.4h0m.4-.1h0m.6 .1h0m.1 .2h0m-110.2 .4h0m69.2 0h0m3.9 0h0m36.7 .6h0m2.1 .1h0m12.5-.3h0m10.5 0h0m-111 .8h0m35.3-.1h0m45 .8h0m4.6-.6h0m1.3-.3h0m1 .1h0m3.7 .3h0m11.2 .2h0m20.2-.4h0m-168.2 .7h0m13.7 .8h0m24.8 0h0m4.1-.4h0m12-.3h0m2.2 .6h0m40.4-.5h0m32.3 .1h0m2.1 .3h0m.1 .3h0m.9-.9h0m1.9 0h0m10.9 .2h0m-98.9 .8h0m4.8 .1h0m44.8-.1h0m26.7 .3h0m5.8 .6h0m4.4-.7h0m1.5 .3h0m1.2-.5h0m6.6 .1h0m2.2 .6h0m8.4-.4h0m16.6-.2h0m5.2 .1h0m-203.2 1.2h0m51.4-.1h0m15.3 .6h0m80.5-.3h0m1.3-.5h0m10 .5h0m19.5-.5h0m2.5 .2h0m.4 .1h0m4.6 0h0m-125.8 1.5h0m35.3-.1h0m.5-.1h0m9.7-.6h0m36.9 .2h0m7.2-.3h0m1.9 .6h0m.9 .3h0m30.3-.7h0m5 .1h0m-146.6 .7h0m13.6 .2h0m91.7-.1h0m1 .3h0m10.2 .2h0m2.2 0h0m17.4-.2h0m.1 0h0m.6-.1h0m-127.8 1.7h0m5.9-.6h0m22.2 .5h0m44 .1h0m29.8-.6h0m5.5 .1h0m2.9 .1h0m1.8-.5h0m22.2 .6h0m12.4-.2h0m-176 .9h0m27.8-.1h0m78.5 .2h0m3.9-.1h0m10.1-.3h0m14.4 .3h0m1.9 .5h0m1.2-.1h0m.4-.8h0m1.3 .5h0m1.5-.4h0m0 .1h0m-134.1 1.1h0m71.9 .4h0m46.3-.4h0m5.9 .5h0m3.7 .2h0m2.4-.3h0m1.2-.3h0m.6 .1h0m1 0h0m.4 .4h0m.1-.5h0m.4-.2h0m1.7 0h0m.6 .1h0m.1 .3h0m.6 .1h0m1.8 .2h0m7.5 0h0m5.3-.7h0m1 .5h0m5.6 0h0m11.4-.6h0m-64.7 1.5h0m4.3 .3h0m14.7-.8h0m5.4 .8h0m.8-.7h0m1.9 .1h0m12.8 .4h0m8.2 0h0m.9 .2h0m3-.7h0m10.3-.2h0m-157.2 1.6h0m54.1-.1h0m56.7 .1h0m1.6 .2h0m9 0h0m0-.7h0m5.7 .1h0m3.1 .8h0m3.1-.4h0m.8 .4h0m2.1-.2h0m.1 0h0m-132.4 .8h0m42.9-.6h0m40.7 .7h0m15.5 .1h0m18.3 .2h0m.8-.4h0m1.2 .2h0m0-.8h0m1.1 .4h0m6.7-.1h0m.8 .4h0m3.9-.6h0m16 .4h0m8-.2h0m9 .2h0m-148 1.3h0m57.8-.5h0m35.5 .1h0m2.7-.1h0m5.8 0h0m.5 .1h0m2.7-.3h0m.3-.1h0m5.8 .2h0m5.6-.2h0m5.1 .7h0m-150.1 .7h0m13.2 .5h0m51.7-.2h0m2.3-.7h0m23.8 .8h0m27.9-.2h0m2 .2h0m9.7-.3h0m.2 .2h0m1.8-.6h0m5.9 .2h0m8.8 .3h0m4.3 .1h0m.3-.5h0m4.9 .2h0m2.6 .5h0m4.1-.6h0m33.8 .5h0m-195.1 .9h0m26.8-.1h0m38.2-.1h0m34.6-.2h0m1.2-.3h0m10.7 .1h0m2.5 .9h0m7.1-.5h0m4.8 .5h0m2.6-.4h0m.2 .1h0m3.8-.2h0m8.2 .2h0m.6-.6h0m6 .8h0m2.7-.6h0m21.5 .3h0m-138.4 .6h0m11.9 .8h0m17.7-.5h0m58.9-.3h0m.2-.1h0m2.3 .8h0m3.8-.2h0m.3-.3h0m1.9 .2h0m3.4-.1h0m1.6-.4h0m.7 .4h0m2.2 .4h0m.3 .1h0m7.1-.2h0m.4-.7h0m5.5 0h0m-142.3 1h0m25.2 .6h0m6.3-.4h0m10.1 0h0m8.8-.2h0m1.2 .4h0m28.4-.1h0m13.7 .3h0m26.3-.2h0m1.2 .1h0m.4 0h0m0 .4h0m4.7-.3h0m2.8 .2h0m11.3-.9h0m.7 .3h0m1.3 0h0m-138.7 1.7h0m18.4-.4h0m17.7 0h0m17.7-.4h0m14.1 .5h0m.6 .2h0m23.8-.7h0m7.5 .1h0m12-.1h0m3.9 0h0m.4 0h0m2.7 .3h0m.6 .3h0m.7-.5h0m.8-.1h0m.2 .3h0m.4 .3h0m10.4-.3h0m3.5 .3h0m22.6-.3h0m10 .3h0m1.2-.5h0m-184.2 1.5h0m123.1-.3h0m4.1 0h0m.7 .4h0m.9-.5h0m1.5 .3h0m3.1 0h0m2.7 .1h0m1-.2h0m1.6-.1h0m4 .4h0m.8-.7h0m4.4 .4h0m.5 .3h0m3.4-.3h0m1.5 .2h0m.9-.2h0m5.8 .2h0m-115.1 .3h0m43.2 .3h0m38.3-.2h0m.6 .6h0m2.1 0h0m2.4 0h0m1.5 .2h0m.5-.4h0m.1 .1h0m.3-.2h0m2 .3h0m21.5 .1h0m4.2-.4h0m8.8-.3h0m-206.7 1.5h0m42.8 .2h0m13.2-.4h0m19.3 .3h0m8.6-.7h0m9.1 .5h0m19.1 .1h0m37.9 0h0m8.8-.6h0m2.1 .3h0m.6 .1h0m1.5 .1h0m.1 0h0m2.7-.1h0m.4 .3h0m.8-.7h0m3.6 .4h0m1.5 .5h0m1-.2h0m2.3-.6h0m4.4-.1h0m2.2 .2h0m2.8 .6h0m2.3-.7h0m7.1 .4h0m1.5-.4h0m3 0h0m5.4 .3h0m5 0h0m17.8 .2h0m-228.6 1.1h0m33.8-.8h0m16 .9h0m15.3-.3h0m50 .3h0m6.8-.9h0m5.7 .3h0m5.9 .7h0m25.8-.9h0m5 .2h0m1.8 .5h0m1.4-.3h0m1.8 .4h0m.6-.2h0m.7 .3h0m1.5-.6h0m.4 .3h0m1.8 0h0m4.8-.3h0m0-.2h0m5 0h0m3.1 .6h0m1.7-.7h0m.8 .5h0m3.4 .3h0m5.7-.6h0m4.6 0h0m-150.8 1.6h0m42.3 0h0m.9-.9h0m8.4 .7h0m7.9-.2h0m4.7-.5h0m.9 .9h0m29.6-.4h0m5.5 0h0m2.7-.4h0m.3 .5h0m1.2-.5h0m5.4 .4h0m5.2 .4h0m.2-.2h0m1.1-.5h0m2.6 0h0m2.9-.1h0m1.9 0h0m2.2 .5h0m4.9 .3h0m4.7-.6h0m1.9 .2h0m.8 .2h0m.2-.1h0m1 0h0m2.6-.2h0m.4 .2h0m4.9 0h0m-145.5 .5h0m26.4 .3h0m16.4-.2h0m7.4 .4h0m8 .3h0m6.7-.4h0m8.4-.1h0m12.6-.2h0m11.2 .3h0m2.1-.2h0m7.9 0h0m7.6-.3h0m4 .9h0m.5 .1h0m4-1h0m6.6 .8h0m2.1-.3h0m.4 .2h0m.4 .1h0m.3-.8h0m.2 .1h0m20.2 .7h0m-172 .7h0m10.3 .2h0m35.4-.1h0m5.8-.3h0m6.1 .4h0m12.6 .2h0m.9-.4h0m6.8 .2h0m2 .1h0m5.9-.7h0m4.1 .7h0m1.3-.5h0m.1 .2h0m12-.5h0m8.2 .2h0m2 .3h0m3.4-.4h0m10.2 .8h0m3-.5h0m1-.2h0m.2 .2h0m1.5-.3h0m.5 .7h0m4.4-.5h0m3 .5h0m3.2-.1h0m1.5 .2h0m6.5-.4h0m8-.1h0m.7 .4h0m6.8-.3h0m3.8-.2h0m-189.3 1h0m22.1 .1h0m43 .1h0m7.7 .5h0m8.6-.1h0m4.2-.6h0m.5 0h0m2.2 .1h0m4.9 .1h0m0-.3h0m1.9 0h0m1.8 .5h0m.6-.4h0m7.2 .1h0m2.4 .3h0m2.3-.1h0m25.5-.3h0m0-.3h0m2.5 .1h0m1.7 0h0m2 0h0m5.3 .9h0m.4-.3h0m.8-.5h0m6.6 .5h0m5.8-.1h0m2.8 .1h0m3.1-.5h0m.1 .1h0m1.8 .1h0m1.4 .6h0m3.6-.8h0m2.9 .2h0m.2 .1h0m56.4-.2h0m-196.3 1.4h0m44.2 .1h0m12.3-.4h0m.1 .2h0m.5 .1h0m.9-.5h0m.9 0h0m9 .1h0m.9 .1h0m16.3 .3h0m11.1-.5h0m.4 0h0m6.1-.1h0m1.4 .2h0m.7-.3h0m.9 .2h0m2.3 .1h0m6.8 .2h0m.2-.5h0m1.1 .6h0m1.5 .1h0m1.2-.6h0m.4 .7h0m1.3-.6h0m4 .6h0m2.9 0h0m2.5 0h0m.5 0h0m.3-.2h0m1.9 .2h0m-180.5 .3h0m89.6 .1h0m3.9 .7h0m4.6 .1h0m1.1-.5h0m1.4 .4h0m1.2-.3h0m.8 .2h0m.3-.7h0m2.1 0h0m1 .2h0m.8 0h0m.5 .6h0m3.5-.2h0m1.3 .3h0m1.9-.2h0m3.4-.3h0m.6 .1h0m.3 0h0m.3-.2h0m19.4-.4h0m7.1 .9h0m3.4-.9h0m8.6 .5h0m2.6-.4h0m1.9 .8h0m.2-.3h0m.2-.3h0m.4 0h0m.4 .2h0m1-.4h0m4.7 .9h0m2.2-1h0m.3 .8h0m3.7-.1h0m1.8-.4h0m.9 .4h0m7.2 0h0m3.6-.3h0m3.3-.1h0m10.3 .3h0m-152.8 1.1h0m25.4 .3h0m12.2-.8h0m4.9 .6h0m4.3-.1h0m3.3-.1h0m1.9 .3h0m5.9 .1h0m0-.3h0m.7 0h0m0-.2h0m4.1 .3h0m2.1-.4h0m1-.3h0m3 .5h0m29-.4h0m8.5 0h0m2.7 .3h0m2.1 .4h0m.8-.4h0m.3-.3h0m.5 0h0m1.9 .8h0m1.8-.9h0m1.4 .1h0m1-.1h0m1.2 .2h0m2.6 .1h0m1.7 .3h0m.4 .1h0m2.4-.4h0m12.9 .3h0m1.1 .1h0m-166.9 .8h0m19.8 .1h0m9.1-.1h0m13.6 .1h0m13.6 .1h0m3.8-.7h0m10.5 0h0m5.3 .1h0m2.3 .4h0m2.4 .1h0m2.9-.4h0m.9 .7h0m.1-.3h0m3 0h0m5.3-.5h0m.2 .8h0m25.3-.2h0m3-.7h0m2.2 .7h0m5-.3h0m2.2 .4h0m3.6 0h0m.3-.4h0m.9 0h0m.9 .3h0m1.4-.6h0m7.5 .3h0m.8 .5h0m1.2-1h0m.4 .7h0m.5 .1h0m1.1-.4h0m.8 .2h0m4-.6h0m5.5 .2h0m.7 .3h0m.3 .4h0m1.2-.4h0m1.9-.4h0m4.2 .9h0m1.8-.3h0m1.3-.5h0m2.5 .4h0m1.2-.2h0m.1 .2h0m-171.3 .7h0m6-.3h0m55.1 .3h0m2.4 .3h0m3.4-.1h0m3.7-.4h0m.7 .7h0m.2-.2h0m1.1 .1h0m1.1 .1h0m4.6-.5h0m.5 0h0m4.1 .6h0m.8-.9h0m.5 .7h0m3.3 0h0m9 .2h0m.3-.6h0m14.3 0h0m13.5 .3h0m2.4 .2h0m1.5 .2h0m.6-.8h0m1.9-.1h0m3.4 .3h0m1.6 .6h0m.7-.3h0m4.1 0h0m.4 .3h0m1.9 0h0m1.7-.3h0m2.4-.4h0m1.2 .6h0m1.2-.1h0m.5-.2h0m1.4-.5h0m2 .5h0m8.2 .2h0m2.4-.6h0m3.2-.1h0m2.2 .1h0m1.9-.1h0m3.8 0h0m-168.6 1h0m25.4 .6h0m11.7 .1h0m11.4-.4h0m.1-.1h0m5.4 .4h0m.7-.1h0m.3 0h0m2.3-.3h0m4.2-.1h0m1.3 .2h0m4.7 .2h0m.5 .2h0m.1-.5h0m1.5-.2h0m1.9 0h0m.5 .9h0m0-1h0m0 .3h0m9.7 .7h0m2.2-.9h0m2.6 .8h0m3.9-.9h0m7.4 .3h0m5.4 .3h0m2-.2h0m7.4-.1h0m5.8 .1h0m2.7-.1h0m.5-.3h0m.3 .2h0m1.8 .7h0m1.3-.8h0m3.8-.1h0m3.2 .3h0m.3 0h0m2.2 .1h0m.4-.3h0m.7 .2h0m.2-.3h0m3.2 .5h0m.5-.3h0m.1 .3h0m.6-.3h0m.1 .2h0m2.8-.1h0m.8 .6h0m.8-.1h0m2-.5h0m.4-.1h0m2.3 .5h0m.6-.2h0m1.5-.2h0m10.3 .6h0m-140.6 .2h0m26.5 .5h0m2.5-.4h0m1.6 .4h0m3.2-.3h0m1.7-.1h0m4.6 .4h0m4.6 .4h0m1.5-.8h0m2.4 .1h0m2.1 .2h0m.6 .2h0m1.2 .1h0m14.2-.4h0m.5-.1h0m17.8 .4h0m3.5 0h0m13.9-.6h0m.9 .1h0m.6-.2h0m.2 0h0m0 1h0m1.1-.7h0m1.9 .1h0m1.2 .5h0m.3-.7h0m1.1 0h0m2.2 .3h0m.9-.4h0m.8 .3h0m.4 .4h0m.9-.2h0m1-.2h0m2.1 .1h0m.3-.1h0m3.1 .5h0m.8-.7h0m1.3 .7h0m1.9 .1h0m1.2-.9h0m2.5 .1h0m1.1 .8h0m11.8-.5h0m-129.9 1.2h0m9.6 0h0m14.4 0h0m1.2 0h0m2.8-.7h0m.6 .9h0m.5-.2h0m1.3-.7h0m1.4 .8h0m0-.6h0m1.3 .7h0m.1-.5h0m.3-.1h0m.8 .1h0m.2 .5h0m2.2-.4h0m1.7 .2h0m.3 .2h0m.6-.7h0m7.6 .1h0m.4 .6h0m2.4-.2h0m1.9-.6h0m22 .1h0m8.6-.2h0m.5 .1h0m1.4 .2h0m.3 .3h0m9.9-.3h0m2.4 .3h0m.3-.5h0m.5 .9h0m.7-.2h0m0-.1h0m5.3 .3h0m.5-.9h0m1 .1h0m.3 .6h0m2.2-.2h0m3.9-.2h0m3.4-.4h0m2.8 .3h0m1.3 .4h0m1.4 0h0m3.7 .1h0m3.1-.7h0m5.6 0h0m-142.4 1.3h0m12.3 .5h0m1.5-.3h0m1.7-.3h0m3 .6h0m4.6-.1h0m3.8 0h0m.3 0h0m3.1-.4h0m1.4 .3h0m.8-.1h0m5.7 0h0m.5 0h0m.9 0h0m2.3 .1h0m4.2-.5h0m0 .8h0m.4-.7h0m.4-.1h0m.4 .8h0m.4-.2h0m.6-.8h0m.5 .1h0m1.1 .3h0m.1 0h0m1.8-.2h0m1.4 .2h0m1.6 .2h0m1-.4h0m6.1 .6h0m12.6-.3h0m13.6 .2h0m.2-.4h0m6.4-.2h0m5.8 .8h0m.7-.6h0m.3 .2h0m.2 .1h0m1 .1h0m.2 .2h0m1.3-.8h0m4.2 .3h0m.9 0h0m3.5-.2h0m1.8 .6h0m.6 .2h0m2.7-.8h0m1.2 .5h0m4 .3h0m0-.1h0m.7-.5h0m1.3 .1h0m6.2 .3h0m9.3-.5h0m7.9 .2h0m.5-.4h0m-173.2 1h0m29.8 .5h0m4.4 .1h0m1 .1h0m6.9 .1h0m6.4-.8h0m4.8 .8h0m6.8 0h0m1.3-.1h0m.9-.8h0m.9 .9h0m1.4-.4h0m.2-.4h0m1 .8h0m.4-.7h0m1 .2h0m.4-.3h0m1.5 .1h0m1.3 .1h0m.3 .3h0m.6 0h0m.6 0h0m1.2-.5h0m.1 .8h0m1.6-.2h0m.1 .2h0m.9-.8h0m1 .8h0m.1-.9h0m.6 .2h0m3.1 0h0m10 .1h0m4 0h0m12.1-.2h0m14 .8h0m3.6-.9h0m4.7 .9h0m1.1-.3h0m1.3 .1h0m3.1-.4h0m.9-.1h0m.2 .7h0m2.1 0h0m.2-.3h0m2.8-.3h0m.4 .7h0m3.6-.7h0m1.6-.1h0m3.7 .2h0m13.2 .4h0m.6 .2h0m.2-.8h0m-151.5 .9h0m9.1 0h0m1.7 .1h0m7 0h0m1.8 .3h0m1 .1h0m19-.1h0m2.3-.4h0m.8 .2h0m5.3 .7h0m2.8-.8h0m.4 .7h0m1.7 0h0m.1-.2h0m.5 .3h0m.5-.2h0m.6-.5h0m0 .6h0m1-.2h0m.8 .2h0m.9-.7h0m.5 .7h0m.7-.2h0m.4-.3h0m.9-.4h0m.1 .8h0m.1-.5h0m.4-.2h0m1.9 .5h0m2.2 0h0m.1 0h0m.3 .1h0m1.4-.2h0m.3 .4h0m2.7-.5h0m5 .2h0m4.5-.4h0m6.2 .2h0m11.2 .2h0m4.8 .3h0m2.3-.5h0m6.7 0h0m1.3 .4h0m1.5 .2h0m1.4-.3h0m2.7-.3h0m2.1 .2h0m1.1-.4h0m1.2 .5h0m.4-.6h0m3.8 0h0m1.8 .3h0m8.8 .6h0m1.4-.7h0m1.8-.2h0m7.7 .1h0m.9 .3h0m1.7-.1h0m12.5 .3h0m-176.4 .3h0m9.4 .8h0m13.8 0h0m1.5-.3h0m16.7-.5h0m1.7 .4h0m.3 .2h0m4.9 .2h0m3-.8h0m1.5 .2h0m3.3 .4h0m1.3-.4h0m1.7 0h0m1.5 .3h0m.5 .1h0m.1 .3h0m1.4-.2h0m.1 .2h0m.1-.7h0m1.7 .1h0m1.2 .2h0m.6-.2h0m.1-.1h0m.4 .1h0m.6 .1h0m.5-.1h0m.4-.1h0m.9 .2h0m.2 .3h0m.5 .1h0m.3-.5h0m.1 .3h0m1.1-.4h0m.5 .2h0m.1 .5h0m.5-.6h0m.8-.1h0m.1 .5h0m.4 .1h0m1.6-.2h0m1.6 .2h0m.6-.7h0m.3 .1h0m.7 .5h0m.5-.5h0m.2 .3h0m2.8 .5h0m9.7-.3h0m17.2 .1h0m4.6 .1h0m4.6-.9h0m6.9 .8h0m2.3-.2h0m2-.5h0m.1-.1h0m3.8 .4h0m2.6-.2h0m1-.2h0m.5 .2h0m1-.1h0m.5 .4h0m0 .4h0m.7-.1h0m.8-.4h0m.7-.1h0m.3 .1h0m.2 0h0m4.6-.3h0m.2 0h0m0 .9h0m.3-.9h0m4.2 .8h0m2.8-.5h0m.5 .3h0m5.5-.6h0m1 0h0m2 .9h0m1-.8h0m1.2 .2h0m2.2 .1h0m2.5-.1h0m-170.6 1.4h0m5.9-.3h0m6.5 .5h0m1-.3h0m3.4 0h0m4.9-.4h0m6.1 .5h0m13.9-.1h0m.8-.1h0m4.7 .2h0m12-.1h0m3.1-.5h0m.3 .2h0m.5 .3h0m.8 .2h0m.3-.6h0m.8 .2h0m.3-.2h0m.4 0h0m.4-.3h0m0 .8h0m.7-.3h0m.8 .2h0m.1-.2h0m.1-.5h0m.9 .8h0m.5-.4h0m0 .2h0m.2 0h0m.3-.3h0m.3 .6h0m.6-.1h0m.1-.4h0m.6-.1h0m.2 .5h0m.4-.3h0m.8 .1h0m0 .4h0m.7-.2h0m1.6-.5h0m.8 .1h0m0-.4h0m.3 .1h0m.5 .1h0m.7 .7h0m0-.2h0m.3-.6h0m3.5 .5h0m1.3 .3h0m2.7-.4h0m1.6-.1h0m11.4-.1h0m13.2 .6h0m6.3-.5h0m3.7-.2h0m1.5 .6h0m4.1-.7h0m.1 .6h0m.9-.5h0m1.8-.1h0m1.9 .3h0m0 .5h0m3-.2h0m1-.2h0m2.7 0h0m.2-.4h0m3.1 .3h0m1.1 .5h0m1.7-.8h0m1.4 .5h0m4.2 .4h0m2.9-.2h0m4.5 0h0m21.6-.6h0m-148.2 1.6h0m3.4-.1h0m13.7-.7h0m3.4 .7h0m.2-.4h0m1.1 .5h0m1.8-.2h0m.2 .3h0m.1-.8h0m4.9 .5h0m.4 .1h0m.8-.2h0m.1-.4h0m.2 0h0m1.5 .2h0m0 .2h0m.2-.5h0m1.6 .9h0m.5 0h0m.3-.6h0m.8 .3h0m.5-.2h0m.5 .2h0m.5 .3h0m.8-.9h0m.3 .9h0m.6 0h0m.4 .1h0m.2-.5h0m1 .3h0m3-.7h0m.2 .6h0m.2 0h0m.5 0h0m.3 .1h0m.1-.8h0m.2 .4h0m1.3-.2h0m.2 .2h0m.1 .5h0m.6-.8h0m1.7 .5h0m0 .2h0m4.3-.6h0m2.4 .2h0m1.1 0h0m.8 0h0m30.1 0h0m6-.2h0m1.9 .4h0m.7 0h0m.3 0h0m0 0h0m4.5 0h0m.3 0h0m1.7 .3h0m2.6 .1h0m1.2-.2h0m2.9-.5h0m2.8 .4h0m.9 .1h0m.5-.3h0m.1 .3h0m.1-.7h0m2.7 .4h0m1.2 .3h0m2.1 .1h0m1.7-.6h0m2.8 .3h0m3.1-.5h0m4.1 0h0m-166.9 1.3h0m4.9 .2h0m12.1-.2h0m7.2 .2h0m11.9-.5h0m8.2 .8h0m1.8-.7h0m1.2 .3h0m3.6 .5h0m1.6-.2h0m.6-.4h0m3.4-.1h0m.1-.3h0m.3 .6h0m.5-.3h0m2.7 0h0m1.8 .6h0m.9 0h0m.2-.4h0m0-.3h0m.4 0h0m.9 .7h0m.3-.7h0m.9 .4h0m.2-.2h0m1.8-.1h0m.1 .4h0m.6-.4h0m1.5 .3h0m.2-.3h0m.2 .5h0m.9 .2h0m2 0h0m.1-.5h0m.1 0h0m.7 .4h0m.5-.7h0m1.2-.2h0m.3 .8h0m.1 0h0m.6-.2h0m0-.5h0m.3-.1h0m.9 .5h0m.2-.1h0m.5 0h0m.2 .2h0m1.4 .3h0m1.1-.4h0m.3 .1h0m.1-.5h0m1.8-.1h0m2.1 .1h0m.3 .4h0m4 .5h0m7-.8h0m14.3-.1h0m11.3 0h0m5.8 .8h0m1 0h0m3.9-.1h0m1.5-.2h0m.4-.1h0m.3-.4h0m3.6 .5h0m4.2 .2h0m2.9-.5h0m2.7-.3h0m3.8 0h0m.8 .2h0m.3-.1h0m4.6 .3h0m.3 .4h0m6.6-.8h0m18 .3h0m-169 .8h0m13.6 .5h0m10.2-.2h0m1 .3h0m.9-.2h0m8.6 0h0m5 .1h0m6.8-.3h0m.3 .1h0m.5 .3h0m.9-.4h0m.4-.2h0m.2 .7h0m.6-.7h0m.7 .7h0m.4 0h0m1.2-.7h0m.4 0h0m.4 .9h0m.1-.2h0m.4-.2h0m.4-.4h0m.4-.1h0m.3 .4h0m.5-.3h0m.7 .2h0m.6 .1h0m.3 .3h0m.1 .1h0m.2-.3h0m.7-.3h0m.1 .2h0m.5 .2h0m.3-.7h0m0 .5h0m1-.2h0m.5 0h0m.8 .6h0m.4 0h0m.2-.2h0m.8 0h0m.6-.4h0m.4 .3h0m.6 .4h0m.2-.2h0m.1-.5h0m.4 .2h0m2.2 .3h0m.7-.6h0m.2 .2h0m.4 .4h0m.6-.1h0m2-.5h0m.5 .4h0m1.3 .1h0m1.4 .2h0m1.1-.1h0m.1 .1h0m1-.2h0m.3-.2h0m3.6 .1h0m26.5-.3h0m2.8-.3h0m4.6 .7h0m2.8-.7h0m2.4 .5h0m2.3 0h0m1.3 .3h0m1.7-.7h0m1.1 .8h0m3.5-.4h0m2.5-.1h0m.5 .4h0m.5-.2h0m.2 .1h0m3.7-.1h0m.6-.4h0m1.1 .5h0m2.2-.5h0m.4 .4h0m.7-.4h0m3.7 .3h0m.6 .2h0m.1-.4h0m1.3 .7h0m1-.4h0m.4-.2h0m7-.1h0m1.3 0h0m.7-.2h0m4.2 .5h0m8.3 .1h0m-158.1 .9h0m16.8-.1h0m4.1-.3h0m4.6 .6h0m3.6-.2h0m.4 0h0m2.9-.1h0m.4 .1h0m1.2-.6h0m1.4 .3h0m.1-.3h0m0 .9h0m.9-.1h0m.3-.5h0m.6 .4h0m.7 .1h0m.9-.2h0m.5-.4h0m.4 .7h0m.1-.8h0m.7 .5h0m.8-.4h0m.6 0h0m.6 .5h0m.3-.5h0m.9-.1h0m.5 .4h0m.2-.3h0m1.2-.1h0m.1 .1h0m.1 0h0m1.1 .4h0m0-.3h0m.4-.2h0m.5 .3h0m.1 .4h0m.5-.2h0m0-.2h0m.9 .4h0m.1-.1h0m.5 .1h0m.7 .1h0m.1-.8h0m.1-.1h0m.9 0h0m0 .7h0m.1 0h0m.3 .2h0m.1-.2h0m.2-.5h0m.5 .5h0m.2-.4h0m1.4 .7h0m1.2-.1h0m1.6-.5h0m1.7 .5h0m0-.2h0m7.1 .2h0m1-.4h0m1.1 0h0m35.5 .2h0m3.8 .2h0m2.9-.1h0m.5-.3h0m1.6-.1h0m1.2-.2h0m.9 .3h0m1 .2h0m.6-.6h0m2.5 0h0m.8 .1h0m4.5 0h0m7.9 .2h0m4.1 .5h0m1-.3h0m.6 .1h0m1.4-.2h0m4.6-.1h0m3.7 .1h0m-192.6 .7h0m22.8 .1h0m18.4 .1h0m18.1 .5h0m.1-.4h0m2.9-.2h0m11.2-.2h0m2.1 0h0m2.6 .3h0m.1 .4h0m.9-.5h0m1.1 .4h0m.2 0h0m.2 0h0m1.1-.4h0m1.4-.3h0m.1 .2h0m.5-.2h0m.2 .4h0m.4 .6h0m.4-.1h0m.3 0h0m.3-.2h0m.2-.4h0m.4 .7h0m.7-.1h0m0-.3h0m0-.5h0m1 .8h0m.4 0h0m.1-.9h0m.1 .8h0m1.2 .1h0m.4-.9h0m.3 .3h0m.2 .7h0m.5-.1h0m.1-.7h0m.5 .6h0m.4-.7h0m.1 .1h0m.3 .5h0m.3-.2h0m.6 .3h0m.6 0h0m.4-.4h0m.4 0h0m.5-.3h0m.8 .9h0m.6-.4h0m.1 .1h0m.2-.3h0m.6 .1h0m.6-.1h0m.2 .2h0m.1-.2h0m1 .4h0m.2 0h0m.6-.2h0m.6-.3h0m.6 .4h0m.9-.6h0m1 .5h0m1.5 .4h0m.3-.5h0m.6-.1h0m.5 .1h0m.9-.3h0m8.8 .8h0m25.7-.2h0m1 .2h0m1.1-.8h0m1.4 .6h0m3.6-.3h0m.9 .2h0m1.5 .2h0m1-.2h0m1.3-.5h0m1.6 .5h0m.9-.1h0m1.8-.3h0m2.5 0h0m.5 .5h0m5.2-.6h0m3.1 .5h0m2.6 .1h0m.6-.1h0m1.2-.1h0m.3-.2h0m5.8 .3h0m.2 .3h0m4.6-1h0m2 .2h0m1.6 .1h0m5.5 0h0m4 .6h0m9.5-.1h0m-167.8 .4h0m31.1 .2h0m.7 .1h0m1.9 .2h0m3.1-.4h0m2.9 .6h0m.2 0h0m1.8-.7h0m1.1 .6h0m.6 .1h0m.2-.1h0m.1-.4h0m.8-.1h0m.7 .3h0m.4-.1h0m.2 .1h0m.1 .2h0m.5-.4h0m.1 .4h0m1.5-.2h0m1.3-.5h0m.2 .3h0m.9 0h0m.2 0h0m.4-.1h0m.6 .2h0m.2-.1h0m.2 .3h0m.4 .2h0m.1-.5h0m.2 .5h0m.6-.8h0m.7 .4h0m.2-.2h0m.3 .4h0m.7-.2h0m.1 .3h0m.7-.4h0m.2 .3h0m.1-.6h0m.2 .1h0m.7 .6h0m.5 0h0m.2-.3h0m1.3 0h0m.2 .2h0m.9-.5h0m.4 .5h0m.3-.3h0m.9 .5h0m5-.8h0m1.1 .7h0m3.1-.6h0m10.9 .1h0m1 .7h0m17.7-.6h0m3.5 .5h0m1.1-.9h0m1.9 1h0m3.7-.1h0m.4-.7h0m.2 .6h0m.6-.7h0m.9-.1h0m4.7 .8h0m.4-.5h0m.7-.3h0m1 .5h0m6.5 .2h0m2.6 .3h0m.2-.5h0m.3-.1h0m.4-.3h0m.4 .8h0m.1-.2h0m1.3-.2h0m1.6-.3h0m1.1 .8h0m.1-.4h0m1.8-.1h0m.9-.5h0m3.7 .1h0m.4 .7h0m5.9-.1h0m13.1-.6h0m-165.2 1.4h0m.3-.3h0m12.7 0h0m3.3-.2h0m5.6 .9h0m3-.5h0m3.3 .2h0m7.5-.5h0m2.5 .1h0m2.4 .1h0m.9-.2h0m2.4 .5h0m.1-.5h0m.3 .8h0m.9-.7h0m1.2 .1h0m1.8 .2h0m.7 0h0m.8-.4h0m.2 .3h0m.2-.2h0m.1-.1h0m1.7 .1h0m.3-.2h0m.2 .3h0m.3 0h0m.7-.2h0m.7 .8h0m.2-.5h0m.2 .4h0m.6-.3h0m.3-.2h0m0 0h0m.1 .2h0m1.1 .2h0m.6-.4h0m.6 .4h0m0-.3h0m.1 .2h0m1.2-.2h0m.8-.1h0m.1 .3h0m.2-.5h0m.5 .6h0m.4-.1h0m0 0h0m1.1-.5h0m.4 .3h0m.2-.3h0m2.6 0h0m1 .7h0m.3 .2h0m.1-.1h0m5.4 0h0m1.3-.4h0m43.1-.3h0m2.5 .7h0m.1-.1h0m.3-.3h0m1.7 .3h0m.8 .2h0m.5-.5h0m2.6 .5h0m.8-.5h0m.6 .1h0m.4-.2h0m.8 .2h0m1.6-.3h0m2.6 .1h0m.5 .3h0m3.2-.7h0m.5 .7h0m.5-.4h0m6-.1h0m.1-.1h0m.7 .6h0m.9 .2h0m5.3-.3h0m4.5 .3h0m3.6-.6h0m.4 .5h0m0 0h0m-177.5 .9h0m36-.5h0m12-.1h0m8.4 .3h0m2 .6h0m.9-1h0m1.4 .2h0m.3 0h0m.9 0h0m.5 .1h0m.1-.1h0m.5 .1h0m1.1 .6h0m.5-.3h0m.6 .2h0m.5-.7h0m.2 .4h0m.2 .1h0m.8-.2h0m0 .1h0m.6 .5h0m.4-.6h0m1 0h0m0 .5h0m.4-.5h0m.8-.2h0m.1 .2h0m.1 .1h0m.3-.3h0m.2 .1h0m0-.2h0m1.1-.1h0m.2 .1h0m.7 .3h0m.4-.3h0m.9 .8h0m.1-.1h0m0-.6h0m.5 .7h0m.3-.7h0m.4 .4h0m.3-.5h0m.7 .2h0m.4 .7h0m0-.3h0m.1-.5h0m.8 .4h0m.2-.6h0m.5 .7h0m.7 0h0m.3-.2h0m.5 .4h0m.1-.4h0m.1 .2h0m.6-.3h0m.2 .5h0m.6-.9h0m.5 .4h0m1.2 .3h0m.4-.4h0m1.1 0h0m1.6 .6h0m.4-.2h0m.2 .1h0m.1-.6h0m4.7 .3h0m2.2-.2h0m26.9 .2h0m4.1 .1h0m3.4 .3h0m.7-.4h0m4 .1h0m.6-.3h0m.9 .5h0m8.9 .1h0m1.6-.5h0m1.9 .5h0m1.1 0h0m.8-.3h0m2.6-.2h0m.6 .5h0m.5-.4h0m.4-.1h0m.3 .2h0m1.4-.1h0m1.3-.4h0m.4 .2h0m2.1 .3h0m1.6 .2h0m2.6 0h0m.2-.5h0m4 .5h0m.2-.6h0m2.9-.1h0m6.8 0h0m.1 .1h0m12.6 .6h0m5.8-.5h0m-189 1.6h0m39.6-.4h0m1.9 .2h0m7-.6h0m2.1 .8h0m.2-.9h0m.8 0h0m4.3 .7h0m.2 .3h0m2.1-.4h0m.6 0h0m.1-.1h0m.1 .3h0m.7-.7h0m.4 .2h0m.1 .3h0m.3 .2h0m.4-.7h0m.4 .8h0m.1-.4h0m.2-.3h0m.1 .2h0m.8 .3h0m1-.4h0m.7 .3h0m.1-.1h0m.2-.5h0m.3 .7h0m.6-.1h0m0-.3h0m.4-.3h0m.3 .6h0m.5 .4h0m.2-.5h0m.2 .5h0m.5-.2h0m.6-.1h0m.2-.5h0m.2 0h0m.6 .2h0m.2 .4h0m.9-.5h0m.5 .7h0m.3-.9h0m.3 .6h0m.1-.6h0m.1 .7h0m0 .1h0m1-.1h0m0 .2h0m.6-.7h0m.4 .6h0m.1-.9h0m.4 .5h0m.6 .3h0m.1 .2h0m1.1-.8h0m.5 .8h0m0-.1h0m.9-.2h0m.7-.6h0m.1 0h0m.1 .3h0m.5 .1h0m1.5-.3h0m.2 .3h0m.1-.4h0m.2 .2h0m.7 .6h0m.4-.1h0m.4-.2h0m.1 0h0m3.3-.5h0m3.6 .7h0m13.9-.4h0m10.3 .2h0m18.9-.3h0m.6-.1h0m3.7 .4h0m.1-.5h0m.2 .2h0m1.8-.2h0m.7 0h0m2.6 .2h0m1.7 .5h0m.5 .1h0m.3-.2h0m.2-.4h0m3.4 0h0m2.2 .1h0m.2 .3h0m2.8-.3h0m2.6-.4h0m9.9 .6h0m15-.5h0m-199.8 1.2h0m1.5 .2h0m64.2 .2h0m0 0h0m.6 .2h0m3.3-.6h0m.9 .6h0m.6-.7h0m.2 .3h0m.4 0h0m1 .4h0m1.5-.4h0m.9 .5h0m.3-.2h0m1.1-.5h0m.2 .3h0m1-.2h0m.2 0h0m.2 .2h0m.5 .3h0m.3-.8h0m.5 .6h0m.3 .1h0m.5-.3h0m.2 .1h0m.4-.1h0m.1-.4h0m0 .3h0m.7-.3h0m.4 .1h0m.3 .5h0m.4-.1h0m.3-.5h0m.1 .5h0m.6 .2h0m1.2-.2h0m.4 .1h0m.2-.1h0m.3-.2h0m.1 .2h0m.4-.4h0m.5-.1h0m0 .9h0m.3-.4h0m.5-.4h0m.7 0h0m.8-.1h0m.1 .5h0m0-.2h0m.3 .1h0m.1 .4h0m.7-.5h0m.3 .5h0m.4-.7h0m.2 .2h0m.4-.3h0m0 .4h0m.7 .3h0m.9-.1h0m.3-.2h0m.2-.1h0m.6 .2h0m.2 .3h0m.8-.7h0m.2 .6h0m.3-.1h0m.4 .2h0m.2-.5h0m.1-.1h0m.8 .4h0m.8-.1h0m2.7 0h0m2.7 .1h0m1-.5h0m2 .6h0m21.7 0h0m4.6-.1h0m21.7-.5h0m.1 .5h0m1-.2h0m2.9 .1h0m4.4 .4h0m5.2-.8h0m4.6 .6h0m1.2-.2h0m2.4-.2h0m.1 .5h0m1.3-.4h0m4.3 .3h0m9.2-.3h0m-165.3 1.2h0m1.2-.6h0m14.1 .7h0m.9-.3h0m12.4 .4h0m4.5-.1h0m2.4-.8h0m2 .5h0m7.5-.5h0m.5 .8h0m1-.1h0m.8-.3h0m.3-.1h0m.7-.2h0m.3 .5h0m1.4-.3h0m.2 .6h0m.4-.5h0m0 .2h0m.9-.5h0m.2 .1h0m.5 .7h0m.3 0h0m.2-.3h0m.7 .1h0m.4 .2h0m.1-.9h0m.2 .7h0m.6 0h0m.5-.6h0m.4 .3h0m.1-.2h0m.1 .1h0m.3 .4h0m.8-.2h0m.3-.2h0m.3-.1h0m.3 .6h0m.2-.6h0m.3 .2h0m.5-.1h0m.6 .7h0m.2-.9h0m.9 .7h0m.1-.2h0m.5-.6h0m.3 .9h0m.5-.5h0m.1 .5h0m.2-.8h0m.7 .5h0m.2 0h0m.4-.6h0m.2 .4h0m.2 .4h0m.6-.5h0m.3 .5h0m.3 0h0m.2-.7h0m.3 .1h0m.1-.2h0m.1 .2h0m1.4-.1h0m.1-.1h0m.1 .9h0m.3-.8h0m1 .7h0m.2-.7h0m.3 0h0m1 .7h0m.7 0h0m.3-.7h0m1.4 .3h0m4-.3h0m14.5 .3h0m27 .1h0m.2 .2h0m4.7-.3h0m6.6 .2h0m.6-.5h0m7.3 .5h0m.3 .2h0m2-.6h0m.6 .6h0m1.1-.7h0m1.1 .7h0m2.4-.8h0m1.4 .9h0m10.4-.4h0m0 .4h0m3.1-.3h0m57.1 .2h0m-198.8 .4h0m16.9-.1h0m.3 .5h0m.9-.6h0m1.3 .7h0m4.5-.6h0m.6 0h0m1.4 .3h0m.4 .3h0m1.4-.2h0m1.5-.2h0m.1 .1h0m0-.2h0m.6-.1h0m0 .4h0m.2 .2h0m.3-.2h0m.1 .2h0m1.4-.4h0m.2-.1h0m.4 .7h0m.4-.6h0m0-.2h0m1.2 0h0m0 .9h0m.9-.5h0m0-.2h0m.3 .4h0m.5 0h0m.4-.5h0m.1-.1h0m.4 .5h0m.1 .3h0m.4-.3h0m.6-.3h0m.3 .2h0m.1-.4h0m.4-.1h0m.6 .3h0m.2 .6h0m.1-.3h0m.1 0h0m.5 .4h0m.9-.8h0m.2 0h0m.1 .6h0m.3-.3h0m.5-.3h0m.1 .1h0m.6 0h0m.3 .1h0m.3 .2h0m.1-.2h0m.2 .2h0m.1 .4h0m.7-.8h0m.1 .5h0m.6-.4h0m.7 .4h0m.1-.7h0m.2 .9h0m.2 0h0m.5-.5h0m.7 .1h0m0-.3h0m.7 .3h0m.1-.3h0m.1 0h0m.4 .7h0m.6-.3h0m.5-.2h0m.3 .6h0m1.1-.8h0m0 .4h0m0 0h0m.8-.6h0m1.1 .5h0m.6 .1h0m.3-.5h0m1.3 .5h0m1.5-.1h0m.4 .4h0m5-.3h0m.3 .2h0m.4-.4h0m35 .4h0m8.6 .1h0m2.6-.6h0m3 .2h0m.6-.3h0m5.8 .6h0m.8 0h0m1.6-.8h0m6.6 1h0m5.8-.4h0m1.8 .2h0m.1-.4h0m.2-.2h0m.6 .1h0m5.4 .3h0m17.3-.4h0m-186.6 1.3h0m4.5 .1h0m1.4 .1h0m19.6 0h0m6.9 .1h0m6.9 0h0m.9 .2h0m5.7-.3h0m4.2-.4h0m.2 .3h0m.1 .3h0m.6-.5h0m.3 .1h0m.4 0h0m1.4-.3h0m.6 0h0m.2 0h0m1.3 .7h0m0-.8h0m.8-.1h0m.6 .5h0m.1 .3h0m.6-.3h0m.1-.1h0m.6 .1h0m.2 0h0m.8-.4h0m.1 .8h0m.1-.7h0m.2 .5h0m0-.6h0m1.3 .7h0m0-.3h0m.6 .4h0m.3-.7h0m.4-.1h0m.1 .2h0m.8 .6h0m.1-.9h0m.8 0h0m0 .7h0m.2-.2h0m.3 0h0m.2-.4h0m0 .5h0m.7 .1h0m.4-.5h0m.4-.2h0m.4 .3h0m.1 .5h0m.4-.7h0m.5 .5h0m.2-.2h0m.2-.2h0m.9 .5h0m.2 0h0m.7-.7h0m.2 .9h0m.2-.3h0m.2 .4h0m.3 0h0m.3-.4h0m.7-.4h0m.6 .5h0m.6-.4h0m.2 .1h0m.7-.3h0m.1 .8h0m.3-.3h0m.4-.1h0m.3 0h0m.6 0h0m1.5 .2h0m.5-.6h0m.6 0h0m.8 .5h0m.4 .1h0m.9 0h0m1.1-.1h0m3.5 .3h0m2.8-.5h0m1 .3h0m3.4-.5h0m.2 .1h0m18 .3h0m3.7 .2h0m20.3-.2h0m.8-.4h0m.1 .2h0m3 0h0m.2-.4h0m.9 0h0m.9 0h0m1.4 .5h0m1.5-.5h0m1.9 .6h0m3.5-.3h0m15.7 .6h0m7.1-.9h0m2.2 .9h0m2.7-.6h0m4.9 .2h0m6.6 .1h0m-141.6 1.3h0m3-.5h0m1.8 .2h0m0 .3h0m.3-.7h0m.6 .5h0m.2 0h0m2.3 .2h0m.3-.4h0m.1 .4h0m.2-.6h0m1.3 0h0m.7 .4h0m.2 .1h0m.4-.1h0m.1 .1h0m.5-.4h0m1.1-.3h0m.1 .5h0m.1 .2h0m.2 0h0m.4-.2h0m.1 .3h0m.4-.2h0m.1 .1h0m.4-.4h0m.7 .3h0m.9-.6h0m.1 .1h0m.9 .8h0m.4-.3h0m0 .1h0m.7-.5h0m.1 0h0m.3 .2h0m.4-.3h0m.5-.1h0m.1 .6h0m.3 .1h0m.4 .1h0m.6-.5h0m.7 .2h0m.1 .1h0m.2 .3h0m.4-.3h0m.8-.6h0m.1 .9h0m.6-.2h0m.4-.6h0m0 .2h0m.6-.1h0m.1-.1h0m1.1 .2h0m.1 .3h0m.4-.4h0m.5 .5h0m0-.6h0m1 .7h0m.3-.4h0m.8-.1h0m0-.4h0m.4 .9h0m.9-.7h0m.3 0h0m0 .6h0m1.5-.6h0m.6 0h0m0 0h0m2.5 .2h0m0 .3h0m2.8 .1h0m1.1 .1h0m6.2-.5h0m37.4 0h0m11.7 0h0m1.9 .4h0m8.2-.2h0m.1 0h0m.7-.1h0m0-.1h0m10.9-.2h0m-150 1.7h0m26.4-.3h0m3.6-.4h0m.1 .3h0m3.7 .4h0m.8-.1h0m1.9-.4h0m3.4 .1h0m.7-.4h0m.1 .4h0m.1-.1h0m3.8-.1h0m0 .1h0m.1-.3h0m.5 .2h0m.3 0h0m.6 .1h0m1.1 .2h0m.1-.1h0m.1 .2h0m.6-.2h0m.1 .5h0m.3-.1h0m.4-.6h0m.7 .1h0m.1-.2h0m.2 .8h0m.5-.1h0m0-.1h0m.7 0h0m0-.3h0m.3-.3h0m.6 .5h0m.1-.4h0m.3 .5h0m.5 .1h0m.1-.1h0m.5-.7h0m.3 .1h0m.2 .7h0m.2-.1h0m1 0h0m0-.7h0m.1 .6h0m.5 0h0m.1 .1h0m.8-.1h0m.4 0h0m0 .3h0m.9-.2h0m.5 .2h0m.3-.7h0m.2 .4h0m.3-.5h0m1.1 .4h0m.2-.4h0m.1 .1h0m.5-.2h0m0 .4h0m.4-.2h0m.9-.1h0m.1 .4h0m.2 .3h0m.2-.2h0m.1 .2h0m.8-.3h0m1 0h0m.2 0h0m.4-.2h0m4.3-.4h0m.7 .3h0m11.6-.3h0m32.1 .5h0m3.9 0h0m8.6-.2h0m2.2 .6h0m2.2-.4h0m4.5 .1h0m2-.6h0m2.5 .5h0m1.9 .3h0m1.5-.6h0m1.7 .8h0m1.1-.4h0m-133.1 .6h0m7.9 .3h0m11 .3h0m2-.5h0m.6-.3h0m.9 .5h0m.2 .3h0m.9 0h0m0 .1h0m1.9-.3h0m.1-.4h0m0 .3h0m.5 .1h0m1 .1h0m.2 0h0m.2-.6h0m.1 .2h0m1.6 .1h0m0-.1h0m.6 0h0m.2-.1h0m.3 .6h0m.8-.3h0m.1 .3h0m.2-.3h0m.4 .2h0m.2 0h0m.4-.2h0m.6-.4h0m.2 .3h0m0 .3h0m.6 .1h0m0-.5h0m.7 .4h0m.2-.4h0m.5-.1h0m.1-.1h0m.3 .3h0m.2 .4h0m.4-.4h0m.8 .5h0m.2 .1h0m.7-.3h0m.4 .3h0m.2-.6h0m.4-.1h0m0 .7h0m.1-.2h0m1-.8h0m.3 .1h0m.1 .4h0m.4 .3h0m.5-.4h0m0 0h0m.4-.1h0m.1 .6h0m.6 0h0m.2-.9h0m.5 .5h0m.1 .1h0m1.1-.5h0m.3 .8h0m.6-.6h0m.2 .1h0m.1 .1h0m.2 0h0m.6 .2h0m.1-.4h0m1.1 0h0m.1 .1h0m.9 .4h0m.5-.3h0m2.3 .2h0m1.4-.3h0m.4-.3h0m.4 .5h0m1.3 .1h0m6.7-.6h0m2.2 .5h0m9-.4h0m27.7 .6h0m6.3-.4h0m1.9-.2h0m2.2 .5h0m1.7 .1h0m.2-.7h0m1.9 .2h0m.4-.2h0m7.1 .2h0m0 .6h0m5.1-.3h0m1-.2h0m1.1 0h0m9.2 .2h0m8.7-.4h0m2.7 0h0m2.3-.1h0m-194.4 1.4h0m51.5 .4h0m3.6-.8h0m5.6 .5h0m4.3-.2h0m1.7-.4h0m.2 .1h0m.6 .2h0m.3-.1h0m.6-.2h0m1.6 .9h0m.4-.1h0m.3-.8h0m2.2 .3h0m.1 .4h0m.1-.4h0m.8-.1h0m.5 .1h0m1.2 .5h0m.1-.4h0m0 .4h0m.1 .2h0m.9-.8h0m0 .7h0m.4-.1h0m.4-.5h0m.3 .4h0m.1 .2h0m.1-.2h0m.8-.3h0m.3 .3h0m.3-.5h0m.3 .1h0m.2 .2h0m0-.3h0m.9 .6h0m.2-.6h0m.6 .1h0m.1 .4h0m.3 0h0m.4 .1h0m.3-.5h0m.3 .6h0m.1 0h0m.6-.4h0m.2-.2h0m.2 .4h0m1.5-.2h0m.9-.3h0m.1 .2h0m.1-.4h0m.3 .2h0m.2 .3h0m.4 .2h0m.3 0h0m.3-.4h0m.2-.2h0m.7 .6h0m.6-.5h0m.6-.2h0m0 .3h0m.1 0h0m2.1 .6h0m.1-.7h0m.4 .1h0m.2 0h0m.6-.1h0m.7-.1h0m.8 .2h0m9.4 .6h0m.2-.7h0m.2-.2h0m9.2 .8h0m15.6 0h0m14.6-.1h0m0 .2h0m6.5-.5h0m10.7 .4h0m1-.6h0m2.9 .2h0m4.9 .2h0m4.8-.3h0m3.7 .6h0m4.6-.3h0m3.8 0h0m9.4-.4h0m-174.1 1.3h0m18.4 .5h0m26.4-.5h0m.2-.1h0m.2 .4h0m1.4-.7h0m1.3 0h0m.5 0h0m.6 .5h0m.1-.1h0m.9 .1h0m.2 .4h0m0-.9h0m.6 .1h0m.9 .2h0m.5 0h0m.3 .5h0m0-.2h0m.8 0h0m.3-.4h0m.6 0h0m.1 .4h0m.5-.2h0m.5-.4h0m.1 .7h0m.1 0h0m1-.1h0m.1 0h0m.3-.7h0m.6 .1h0m.2 .6h0m.2 .1h0m.4 .2h0m0-.3h0m0-.4h0m1.1 .2h0m.3 .2h0m.5-.3h0m.2 .1h0m.4-.4h0m.4 .4h0m.1-.2h0m.8 .7h0m.2-.7h0m.3 .5h0m.1 .1h0m1.2-.3h0m.2-.2h0m.2 .1h0m.1 .2h0m1-.6h0m.2 .3h0m.3 0h0m.4 .5h0m0 0h0m.4-.4h0m.6 .2h0m.4 .2h0m1.5-.5h0m1 .3h0m1.1-.5h0m.2 .5h0m2.9-.7h0m0 .6h0m.2-.6h0m1.4 0h0m.5 .9h0m2.2-.6h0m3-.2h0m43.5 0h0m3.1 .4h0m5.6 .1h0m1.3-.3h0m1.3-.3h0m.1 1h0m.1-.5h0m3.8-.2h0m5.2 0h0m3-.2h0m1.4 .3h0m2.6 .2h0m.4-.1h0m4.6 .4h0m5.3-.4h0m4.1-.3h0m-199.2 1.8h0m14.7-.7h0m31.1 .7h0m21.7-.2h0m.2-.4h0m3.3 0h0m.9-.3h0m0 .5h0m2-.4h0m1 .4h0m1.6 .3h0m.4-.8h0m.2 .7h0m1.5-.4h0m.6-.4h0m.2 0h0m.1 .4h0m.1-.4h0m1.3 .5h0m0-.4h0m.1 .6h0m.3-.3h0m.6 .1h0m.1 0h0m.2-.5h0m.9 .3h0m.3 0h0m.1 .7h0m.3-.8h0m.8 .6h0m.2 0h0m.1-.5h0m.3 .4h0m.1-.5h0m.7 .3h0m.2-.4h0m.9 .9h0m.4-.3h0m.2-.4h0m.1-.2h0m.6 .2h0m0 .3h0m.6-.1h0m.3 .1h0m.1 .3h0m.3-.2h0m.6-.3h0m0 0h0m.9 .3h0m0 0h0m.5-.4h0m.3 .5h0m.3-.1h0m0 .1h0m1.1-.2h0m0-.1h0m.7 .1h0m.8-.4h0m.1 .7h0m.4-.4h0m1.1 .1h0m.3-.3h0m.4 .3h0m.5-.3h0m.1 .2h0m1.3-.3h0m.4 .1h0m1.1-.3h0m.6 .1h0m.3 .7h0m1.1-.4h0m.7-.4h0m.2 .5h0m1.2-.1h0m.8-.4h0m0 .6h0m2.1-.5h0m.5 .2h0m53.3-.2h0m2.7 .6h0m.7-.6h0m6.4-.1h0m4 0h0m2.8 .6h0m1.6-.1h0m3.5-.4h0m.1 .2h0m1.8 .6h0m3-.8h0m-143.2 1.2h0m14.4 .7h0m1.4-.5h0m1.4-.2h0m3.4 .1h0m.4 .3h0m.6 .2h0m2.3 0h0m2 .1h0m.7 0h0m3.3 0h0m0-.3h0m.9-.7h0m.9 .1h0m.3 .2h0m1.2 .3h0m.9-.1h0m1.1 .2h0m.2-.2h0m.2 .2h0m.6 .2h0m0 0h0m.4 .1h0m.7-.8h0m.1-.1h0m.5 .5h0m.3 .2h0m.2-.4h0m.2 0h0m.2-.1h0m.3 .4h0m.3-.5h0m.7 .2h0m.2 .4h0m.5 0h0m.1-.3h0m.5 0h0m0 .1h0m.5 .2h0m.4-.6h0m.2 .6h0m.6-.7h0m.2 .7h0m.5-.8h0m.3 .8h0m0-.3h0m.8-.2h0m0 .1h0m.4 .5h0m.2-.1h0m0-.2h0m.7 .1h0m.4-.3h0m.2 .5h0m.5-.5h0m.6 .1h0m.2-.3h0m.1 .6h0m.7-.1h0m0-.6h0m1 .8h0m.2-.3h0m.2 .3h0m.4-.2h0m.1-.1h0m.1-.4h0m.8 0h0m.1 .7h0m.2 0h0m1.5-.2h0m1.3 .2h0m.6-.1h0m.8-.7h0m.1 .1h0m1.2 .8h0m.2-.7h0m.1 .3h0m1.4-.4h0m.2 .1h0m1 .4h0m1.5 .3h0m59.6-.5h0m5.1-.1h0m3.3 .2h0m2.1 0h0m1.1-.5h0m1.5 .3h0m25.5 0h0m-155.2 1.4h0m20.1 0h0m.5-.2h0m1.1 .3h0m.3-.2h0m.6-.5h0m.3 .5h0m3.2 .3h0m0-.2h0m.3-.2h0m.4 .2h0m.5-.4h0m.2-.2h0m.2 .3h0m.3 .2h0m.2-.6h0m.6 0h0m.1 .3h0m.2-.1h0m.4 .5h0m0 0h0m.8 .1h0m.8-.3h0m.3 .3h0m0 0h0m1.2-.6h0m0 .6h0m.4-.4h0m.6 0h0m.1 .2h0m.4-.2h0m.5-.3h0m.3 .3h0m.3 .2h0m.6 .1h0m.2-.7h0m.3 .5h0m.3-.3h0m.4-.3h0m.4 .2h0m.3 0h0m.4 .1h0m.3-.2h0m.1 .7h0m.7-.7h0m.2 .5h0m.2-.2h0m.5-.1h0m1 .5h0m0-.4h0m.1-.3h0m.6 0h0m.1 .1h0m.1-.1h0m1 .7h0m0 0h0m.4-.4h0m.3-.3h0m.5 .5h0m.2 .4h0m.3-.2h0m.2-.1h0m.1-.3h0m.6-.1h0m.4 .1h0m.3 0h0m.7 .4h0m.1 .2h0m.7-.8h0m.6 .5h0m.7-.4h0m.3 .6h0m2.3-.6h0m.3 .6h0m2.9-.3h0m1.7-.1h0m2.2 .2h0m.2 0h0m3 .1h0m19.9 0h0m20.3-.5h0m11.7 0h0m3.1 .2h0m2.9 .3h0m8.6-.7h0m.1 .5h0m3.9-.4h0m.1 .8h0m14-.4h0m20.7 0h0m-204.1 1.2h0m1.3 .2h0m12.4 0h0m16.3-.1h0m19.7 0h0m4.4-.6h0m1.5 .3h0m.2 .2h0m2.5-.5h0m2.4 .3h0m2-.5h0m.4 0h0m0 .4h0m.8 .3h0m0-.3h0m.1 .1h0m.4 .2h0m0-.7h0m0 .7h0m1.9-.7h0m.1 .2h0m.1 .5h0m1.3 0h0m.3 0h0m0-.4h0m.9 .6h0m.8-.8h0m.1-.1h0m.1 .5h0m.5-.2h0m.7-.2h0m.1-.1h0m.9 .3h0m0 0h0m0-.1h0m.4 .2h0m0-.3h0m.3 0h0m.6 .8h0m.5-.9h0m.2 0h0m.2 .8h0m.1-.2h0m.1-.4h0m.9-.2h0m.2 0h0m.5 .7h0m.5 .2h0m.2-.3h0m.3-.6h0m.7-.1h0m.8 .1h0m0 .9h0m.5-.9h0m.3 .5h0m.4 .3h0m.3-.7h0m.2 .2h0m1.4 .6h0m.1-.6h0m.9-.2h0m.8 .4h0m.5 0h0m1.1 .1h0m.2-.5h0m1 .6h0m1.5-.7h0m.1-.1h0m.2 .7h0m3.2 0h0m.4-.4h0m1.6 0h0m2.5 .1h0m1 0h0m8.1 .2h0m23.6 .2h0m13.8-.8h0m1.9 .8h0m9.7-.1h0m4.4-.1h0m16.4-.5h0m-152.1 .9h0m24.8 .6h0m2.3-.5h0m6.2 .1h0m3.1-.1h0m1.2 0h0m3.4 .2h0m.5 .5h0m.3-.4h0m0-.2h0m.5 0h0m1.6 .7h0m.8-.8h0m.5 0h0m.4 0h0m.4 .6h0m.1 .1h0m.2-.4h0m.3 .2h0m.1-.4h0m1.5 0h0m.1 .2h0m.2 .4h0m.2 .1h0m.2-.7h0m.5 .5h0m.4 .2h0m.1-.8h0m.7 .2h0m.7 .5h0m.1-.1h0m.2-.2h0m.3 .4h0m0-.1h0m.5 0h0m.4-.7h0m.4 .8h0m.2-.7h0m.2 .8h0m.5-.2h0m.2-.4h0m.3 .4h0m.4-.1h0m.4-.5h0m.6 0h0m.3 .1h0m.9 .5h0m0 .1h0m.3-.3h0m.4-.3h0m.5 .5h0m.2 0h0m.2-.3h0m1.1 0h0m.5-.3h0m.3 .5h0m.1 .3h0m1-.8h0m.8 .7h0m1-.3h0m.1-.2h0m.4-.3h0m.2 0h0m.4 .7h0m5-.4h0m1 .3h0m7.8-.3h0m61.2-.2h0m.8 .1h0m4-.2h0m2.4-.1h0m.9 .4h0m9.8 .3h0m1.6-.2h0m18.8-.2h0m-153.6 1.4h0m11.3-.7h0m.1 .6h0m1.6 .1h0m1.2-.5h0m.2 .1h0m1.2 .3h0m.6 .4h0m1.7-.7h0m.3 .4h0m.3-.6h0m.4 .9h0m.5-.7h0m.8 .4h0m1-.5h0m.5 .1h0m.5 .6h0m.1-.4h0m.5 .4h0m.1-.5h0m.3 .3h0m.8-.2h0m.1 .5h0m.2-.6h0m.6 .6h0m.1-1h0m1.5 .8h0m.4-.4h0m.2-.1h0m.7 0h0m0 .6h0m.3-.4h0m.2 0h0m.4 0h0m.5 .3h0m.3 .2h0m.4-.4h0m.3-.1h0m1.4-.3h0m.2 0h0m.4-.1h0m.6 .1h0m.2 .5h0m.1-.7h0m.5 .6h0m.4 .4h0m.2-.5h0m.7-.1h0m.8-.2h0m.3 .1h0m.1 .4h0m.5 .2h0m0-.2h0m.7-.7h0m1.9 .9h0m1.3-.5h0m.4 .4h0m14.6-.4h0m17.5 .3h0m14.7-.3h0m3-.4h0m4.6 .4h0m7.5 0h0m12.1 .1h0m6.1-.2h0m.2-.2h0m6.8 .4h0m.3-.3h0m-134.1 1.6h0m1.8-.8h0m1.3 .1h0m8.1 .3h0m1.1 .3h0m2.9-.6h0m1.5 .6h0m1.7-.4h0m0-.1h0m.3 .1h0m1.3-.2h0m.3 .6h0m.2-.1h0m1.6-.4h0m.1-.1h0m.6 .7h0m.9 .1h0m.1-.8h0m.4 .9h0m.3-.4h0m.1 .3h0m.6-.3h0m.8 0h0m.1-.1h0m.3 .3h0m.2-.3h0m.4 0h0m.8-.2h0m.4-.1h0m.2 .3h0m.1 0h0m.5 .4h0m.3-.6h0m1.6 .1h0m.1 0h0m.6 .3h0m.1 .2h0m.6 .1h0m.3-.4h0m.4 .3h0m.5-.1h0m.2-.2h0m.6 .1h0m.1-.6h0m.5 .1h0m.4 0h0m.7 .2h0m.4 .1h0m0-.4h0m.1 .2h0m.5-.2h0m.1 .7h0m.6-.5h0m.3 .2h0m.9 .2h0m.7 .2h0m1.1-.5h0m.6-.3h0m.5 .7h0m.3-.6h0m3.9 .6h0m.5-.6h0m.7 .2h0m3.7 .4h0m0-.7h0m36.3 .1h0m7.8 .1h0m7.1 .4h0m11.7-.3h0m5.7 .6h0m6-.3h0m1.8-.3h0m2.2 .1h0m-122.1 .5h0m8.3 .7h0m2.7-.3h0m.1 0h0m2.2-.2h0m.8 .2h0m1.1 .5h0m2-.6h0m0 0h0m1.2 .4h0m1.8-.5h0m.2 0h0m.1 .6h0m.5 .1h0m.3-.6h0m.1-.1h0m.3 .6h0m0-.8h0m1.5 .6h0m.1 .2h0m.1-.6h0m.6 .3h0m.4-.1h0m0-.1h0m1 .4h0m.4 .3h0m.8-.9h0m.2 .5h0m.5 .1h0m.7 .1h0m.7 .1h0m.8-.5h0m.4 .6h0m.1-.1h0m.4-.4h0m.2 .4h0m.9-.6h0m.1-.2h0m.2 .9h0m1 0h0m0-.6h0m1.4 .3h0m0-.5h0m.3 .6h0m.4-.8h0m0 0h0m1.4 0h0m.6 .5h0m0-.4h0m1.5 .3h0m.5-.2h0m.2 .2h0m0 .4h0m1.1-.4h0m.7 .4h0m1.3 .1h0m1-.3h0m53.3-.4h0m9.6 .2h0m.6 .5h0m5-.5h0m4.2-.3h0m9.9 .3h0m3.3 .2h0m8.4-.1h0m-157.3 .7h0m23.5 .1h0m2.7 0h0m1.9 .1h0m.1 .2h0m1.2 0h0m1.4-.4h0m.5 .7h0m1.3-.2h0m.7-.3h0m0 .6h0m.8-.2h0m.3-.3h0m0 .2h0m.4-.5h0m.4 .2h0m.4-.2h0m.1 .1h0m.7 0h0m.9 .5h0m.3-.5h0m0 0h0m.6 .3h0m.4 .3h0m.2-.6h0m.8-.1h0m.4-.1h0m1.1 .4h0m.4 0h0m.1-.1h0m.4 0h0m.6 0h0m.3 .4h0m1.1-.7h0m.1 .1h0m.2 0h0m.5 .2h0m.1-.1h0m.4 .7h0m.8-1h0m0 .6h0m.1 .3h0m.4-.3h0m.5-.4h0m.2 .7h0m.2-.1h0m.6 .1h0m1.1-.4h0m.7 .3h0m.3-.6h0m.7 .3h0m.7 .1h0m1.3-.2h0m.1 0h0m.4-.1h0m.3 .6h0m.1-.4h0m3.4 .2h0m.5-.1h0m1-.5h0m.9 .5h0m5.3-.6h0m43.2 .2h0m7.4 0h0m1.8 .6h0m1.6 .1h0m1.6-.4h0m6.4-.4h0m5.5 .4h0m.2-.3h0m6 .1h0m4.4-.2h0m.1 .8h0m6.8-.3h0m-143.8 1.2h0m10.8-.3h0m5.7 .2h0m.1-.4h0m1.9 .6h0m5.1-.5h0m.2-.3h0m.5 .9h0m0-.6h0m1.8 .4h0m1.2-.5h0m.5-.3h0m1.5 .1h0m1.3 .3h0m.3 .5h0m.2 0h0m.3-.6h0m.9 0h0m.1 .5h0m.4 .1h0m.5 0h0m.5 0h0m.6-.5h0m.5 .6h0m.6-.1h0m.2-.2h0m.1-.5h0m1.8 .3h0m.4 .1h0m1.6-.2h0m.9 .3h0m2.5 .1h0m.3-.7h0m.6 0h0m1.6 .1h0m.2 .6h0m0-.3h0m.8 .3h0m.4-.5h0m.6 .2h0m9.9-.1h0m1.9-.2h0m.6 .7h0m.6-.9h0m1.4 .4h0m59.4 .2h0m-155.5 .8h0m42.6-.2h0m3.6 .7h0m9-.9h0m3.3 1h0m.1-.4h0m.2 .3h0m.9 0h0m2.9-.8h0m.6 .3h0m.9 .3h0m2.1-.4h0m.1-.1h0m.2 .7h0m.6 .1h0m.6-.2h0m.8-.7h0m.6 .8h0m.4-.4h0m.3-.1h0m.1-.4h0m.3 .4h0m.5-.3h0m.2 .4h0m1.8 .1h0m.7 .1h0m.1 .2h0m.3-.7h0m.2-.1h0m1.2 .4h0m2 .1h0m1.3-.5h0m.5 .3h0m.2-.2h0m1.1 .6h0m5.3-.2h0m.9 .3h0m.1-.3h0m30.9-.6h0m33 .2h0m1.2 .2h0m5.5 .1h0m13.7 .4h0m5.4-.7h0m10.8 .7h0m-145.1 1h0m1.1 0h0m3.9-.7h0m2.4 .1h0m1.2 .7h0m3.2-.9h0m6.2 .6h0m.1-.1h0m.9-.4h0m.1-.1h0m.3 .2h0m.5 .7h0m2.2-1h0m.1 0h0m2.6 .2h0m.3-.1h0m1.6 .7h0m.5-.2h0m.7-.5h0m.1 .3h0m1.4 .3h0m.2-.5h0m.2 .2h0m.5-.3h0m1 .5h0m.2 .1h0m.3-.6h0m.2 .7h0m.7-.6h0m3.1 .1h0m2.6 0h0m.3 .1h0m0 .1h0m.6 .4h0m.9-.5h0m.2-.4h0m0 .2h0m1 .1h0m.9 .1h0m1.3-.4h0m1 .6h0m59.4-.4h0m17.3 0h0m1.2-.2h0m9 .6h0m1.9-.4h0m6.5 .1h0m3 .5h0m2.8-.4h0m-144.2 1h0m.1-.3h0m11 .8h0m.2-.4h0m4.7 .1h0m1.2 .2h0m.8-.7h0m.1 .5h0m.4 .3h0m.3 .1h0m2.2-.1h0m.5-.9h0m2.9 .8h0m3.9-.1h0m.2 .3h0m.4 0h0m.8-.3h0m.6-.4h0m1.9 .5h0m.7-.3h0m1.1 0h0m.3 0h0m7.5-.1h0m5.9-.2h0m8.3 .8h0m30.2-.3h0m21-.3h0m6.8 .3h0m5-.5h0m12.6 .6h0m-124.9 .3h0m1.9 .6h0m2.3-.2h0m3.6-.4h0m4 .8h0m.1-.6h0m1 .4h0m.3-.3h0m.1-.1h0m1.6 0h0m.1 .2h0m1.3-.1h0m1 0h0m.7-.1h0m.1 .2h0m.2 .2h0m.5-.4h0m.1 .6h0m.7-.4h0m.8-.4h0m.2 .6h0m2.8-.5h0m1.8 .4h0m.1 .3h0m3 0h0m.3-.8h0m6.3-.1h0m1.5 .6h0m.7-.5h0m61.5 .5h0m4.8-.5h0m.4 .7h0m9.3-.2h0m37.4 .2h0m-170.6 .4h0m.6 .1h0m5.8-.1h0m3.7 .6h0m11.2 0h0m2.2-.8h0m.4 .4h0m2.2 .1h0m7.8 .4h0m2-.3h0m.1 .2h0m1.5-.5h0m.5 .3h0m.4-.5h0m.8 .5h0m2.2 .4h0m.3-.9h0m.6 .6h0m2.2-.1h0m.1 0h0m1.1-.6h0m2 .4h0m.8 .5h0m2.2-.5h0m2.8 .5h0m20.6-.4h0m33.9-.3h0m15.2 .3h0m6.9-.2h0m1.5 .3h0m30.7-.4h0m2.8 .1h0m-143.9 .7h0m2.7 .4h0m6.5 .4h0m3 .1h0m2.5 0h0m4.2-.3h0m.1-.4h0m1.5 .3h0m.1 .3h0m.1-.2h0m1.5 .2h0m.2-.3h0m.3-.5h0m1.7 .4h0m22.5-.3h0m-62.4 1h0m5 .1h0m2.2 .4h0m13.5 .1h0m1.2-.6h0m5 .9h0m2.1-.4h0m.5-.3h0m1.3 .3h0m6.1-.4h0m.6 .7h0m0 .1h0m1.5-.4h0m1.6-.5h0m4.7 .8h0m1-.3h0m.6-.3h0m1.9-.3h0m3.6 .9h0m40.6-.2h0m49.5 0h0m-137.2 .8h0m10.3 .3h0m.2-.7h0m.8 0h0m2.3 .1h0m2.4 .7h0m2-.8h0m5.4 .3h0m.4 .5h0m1.6-.6h0m1 .3h0m.4 .1h0m2.2-.6h0m12.4 .7h0m0-.8h0m5.9 .7h0m5.5-.3h0m-61.5 1.3h0m1.1 .2h0m4.5-.8h0m13.7 .2h0m4.2 .1h0m1-.2h0m.7 .5h0m2.8 .3h0m.9-.9h0m7.7 .4h0m.9-.3h0m4.5-.1h0m2.4 .3h0m2.1-.1h0m5.5 .1h0m6.9-.1h0m68.8 .3h0m2-.6h0m-108.9 1.4h0m9.3-.2h0m0 .7h0m5.1-.2h0m2.8 .1h0m1.7 0h0m1.8-.8h0m82.9 .4h0m11-.3h0m-145.6 1.9h0m37.6-.3h0m1.3 .2h0m1.3 0h0m.2-.3h0m2.8 .4h0m.8-.1h0m5.8-.6h0m50.2 .6h0m12.1-.7h0m17.8 .3h0m2.6 .1h0m15.2-.3h0m-118.9 1.1h0m8.9-.1h0m1.6 .3h0m5.9 0h0m.2-.4h0m3.1 .5h0m3.4-.5h0m8.9 .5h0m2.8-.3h0m-43.4 1h0m4.5 .6h0m11.4-.8h0m2.2 .3h0m8.1-.1h0m3.9 .5h0m2.8-.8h0m4.9 .4h0m9.3 .3h0m-44.8 .4h0m4.2 .4h0m4.7 0h0m98.7-.3h0m6.5 .1h0m25.1-.3h0m31.6 .6h0m-181 .8h0m27.2 0h0m10 .1h0m106.4-.3h0m-120.2 1.3h0m7.7 .1h0m4.2-.6h0m11.3 .4h0m86.4-.4h0m-160.5 1.5h0m46.8-.2h0m10.5-.1h0m7 .3h0m-12.8 .6h0m1.9 .2h0m5.6 .4h0m10.8-.1h0m93.1-.2h0m-130.9 1h0m6.1 .3h0m30.8-.2h0m-35.1 .6h0m25.6 .5h0m-15.5 .8h0m19.2 .6h0m-38.3 1.1h0m135.6 .5h0m-111.4 .7h0m11.4-.2h0m91.1 1.1h0m-10.1 .8h0m-160.9 1.1h0m73 .4h0m67.3 6.3h0m-31.2 .3h0m73.3 10.3h0" stroke="#ff5f55" stroke-width="1.3" stroke-linecap="round" fill="none"/>
<rect x="368.4" y="370" width="279.6" height="258.9" fill="none" stroke="#000" stroke-width="1.35"/>
<line x1="492.8" y1="370" x2="492.8" y2="628.9" stroke="#000" stroke-width="1.5" stroke-linecap="butt"/>
<line x1="368.4" y1="523.1" x2="648" y2="523.1" stroke="#000" stroke-width="1.5" stroke-linecap="butt"/>
<path d="M368.4 625.7v6.4M387.39 627.1v3.4M398.51 627.1v3.4M406.39 627.1v3.4M412.51 627.1v3.4M417.5 627.1v3.4M421.73 627.1v3.4M425.38 627.1v3.4M428.61 627.1v3.4M431.5 625.7v6.4M450.49 627.1v3.4M461.61 627.1v3.4M469.49 627.1v3.4M475.61 627.1v3.4M480.6 627.1v3.4M484.83 627.1v3.4M488.48 627.1v3.4M491.71 627.1v3.4M494.6 625.7v6.4M513.59 627.1v3.4M524.71 627.1v3.4M532.59 627.1v3.4M538.71 627.1v3.4M543.7 627.1v3.4M547.93 627.1v3.4M551.58 627.1v3.4M554.81 627.1v3.4M557.7 625.7v6.4M576.69 627.1v3.4M587.81 627.1v3.4M595.69 627.1v3.4M601.81 627.1v3.4M606.8 627.1v3.4M611.03 627.1v3.4M614.68 627.1v3.4M617.91 627.1v3.4M620.8 625.7v6.4M639.79 627.1v3.4M366.6 624.8h3.4M366.6 620.17h3.4M366.6 616.25h3.4M366.6 612.86h3.4M366.6 609.87h3.4M365.2 607.2h6.4M366.6 589.6h3.4M366.6 579.31h3.4M366.6 572.01h3.4M366.6 566.35h3.4M366.6 561.72h3.4M366.6 557.8h3.4M366.6 554.41h3.4M366.6 551.42h3.4M365.2 548.75h6.4M366.6 531.15h3.4M366.6 520.86h3.4M366.6 513.56h3.4M366.6 507.9h3.4M366.6 503.27h3.4M366.6 499.35h3.4M366.6 495.96h3.4M366.6 492.97h3.4M365.2 490.3h6.4M366.6 472.7h3.4M366.6 462.41h3.4M366.6 455.11h3.4M366.6 449.45h3.4M366.6 444.82h3.4M366.6 440.9h3.4M366.6 437.51h3.4M366.6 434.52h3.4M365.2 431.85h6.4M366.6 414.25h3.4M366.6 403.96h3.4M366.6 396.66h3.4M366.6 391h3.4M366.6 386.37h3.4M366.6 382.45h3.4M366.6 379.06h3.4M366.6 376.07h3.4M365.2 373.4h6.4" stroke="#000" stroke-width="1.1" fill="none"/>
<text class="sa" x="371.1" y="654.1" font-size="12" text-anchor="end" fill="#111">10<tspan font-size="11.8" dy="-6.5">1</tspan></text>
<text class="sa" x="434.2" y="654.1" font-size="12" text-anchor="end" fill="#111">10<tspan font-size="11.8" dy="-6.5">2</tspan></text>
<text class="sa" x="497.3" y="654.1" font-size="12" text-anchor="end" fill="#111">10<tspan font-size="11.8" dy="-6.5">3</tspan></text>
<text class="sa" x="560.4" y="654.1" font-size="12" text-anchor="end" fill="#111">10<tspan font-size="11.8" dy="-6.5">4</tspan></text>
<text class="sa" x="623.5" y="654.1" font-size="12" text-anchor="end" fill="#111">10<tspan font-size="11.8" dy="-6.5">5</tspan></text>
<text class="sa" x="354" y="613" font-size="12" text-anchor="end" fill="#111">10<tspan font-size="11.8" dy="-6.5">2</tspan></text>
<text class="sa" x="354" y="554.55" font-size="12" text-anchor="end" fill="#111">10<tspan font-size="11.8" dy="-6.5">3</tspan></text>
<text class="sa" x="354" y="496.1" font-size="12" text-anchor="end" fill="#111">10<tspan font-size="11.8" dy="-6.5">4</tspan></text>
<text class="sa" x="354" y="437.65" font-size="12" text-anchor="end" fill="#111">10<tspan font-size="11.8" dy="-6.5">5</tspan></text>
<text class="sa" x="354" y="379.2" font-size="12" text-anchor="end" fill="#111">10<tspan font-size="11.8" dy="-6.5">6</tspan></text>
<text class="sa" x="371.6" y="380.7" font-size="11.5" text-anchor="start" fill="#1a1a1a">Q1-1</text>
<text class="sa" x="371.6" y="394.2" font-size="11.5" text-anchor="start" fill="#1a1a1a">9.24%</text>
<text class="sa" x="371.6" y="611.6" font-size="11.5" text-anchor="start" fill="#1a1a1a">Q1-3</text>
<text class="sa" x="371.6" y="625" font-size="11.5" text-anchor="start" fill="#1a1a1a">61.73%</text>
<text class="sa" x="610.8" y="380.7" font-size="11.5" text-anchor="start" fill="#1a1a1a">Q1-2</text>
<text class="sa" x="610.8" y="394.2" font-size="11.5" text-anchor="start" fill="#1a1a1a">3.69%</text>
<text class="sa" x="604.4" y="611.6" font-size="11.5" text-anchor="start" fill="#1a1a1a">Q1-4</text>
<text class="sa" x="604.4" y="625" font-size="11.5" text-anchor="start" fill="#1a1a1a">25.34%</text>
</g>
<g>
<path d="M723.2 403h0m35.5 2.9h0m103.4 4.2h0m-117.2 10.9h0m94.5 .2h0m-48.2 1.5h0m25.5 .6h0m-70.9 1.2h0m23.7-.3h0m-7.3 6.2h0m101.1-.1h0m-115.6 1.7h0m98.6 .6h0m-57.3 1.5h0m-72.5 2.5h0m68.2-.2h0m44.6-.1h0m3.7 .4h0m-47.3 .9h0m-78 1h0m17 .3h0m8.7 .1h0m128.6 .3h0m4.3 1h0m-146.7 1.7h0m67.1 .5h0m-27.5 1.4h0m22.5-.8h0m1.8 .7h0m46.8-.4h0m30.4 1h0m-74.6 1.2h0m63.3 .1h0m-99.2 .6h0m10.6 .6h0m11.1-.3h0m46 .1h0m16-.6h0m-80.5 1.5h0m69.3 .1h0m-110.5 .7h0m57.7-.2h0m-51.4 1.7h0m30.2-.8h0m7.1 .7h0m91.4 0h0m25.5 .2h0m-140.9 .2h0m34.8 .6h0m122.1-.6h0m-141.3 1.5h0m80.5-.3h0m40.2 0h0m-86 .8h0m-75 1.4h0m38.7-.3h0m7.8-.2h0m100.3 .3h0m-84.6 1.1h0m5.1 0h0m-62.1 1h0m73.9-.2h0m54.4 .7h0m17.6-.1h0m-84.1 .7h0m28.4 .1h0m11.2-.4h0m-40.5 1.7h0m46.9-.9h0m1.5 .8h0m74.2-.4h0m-127.6 .9h0m23.9 .6h0m-50 1h0m28-.3h0m13.3-.4h0m68.6-.2h0m7.8 .1h0m-138.9 1.8h0m17.2-1h0m63.3 .9h0m-80.4 1.1h0m5.1-.7h0m35.6 .6h0m27.7-.6h0m46.4 .3h0m9.7-.6h0m20.4 .6h0m-122.3 1.1h0m108.3-.3h0m-96.2 1.5h0m47.5-.1h0m30.3 .1h0m-65.6 .2h0m58.4 .5h0m-98 .5h0m17.3 .4h0m103.9 .2h0m-120.2 1.2h0m17.5-.7h0m45.9-.1h0m32.9 .5h0m54.1 .3h0m37-.4h0m-172.2 1.4h0m57-.2h0m8-.7h0m6.4 .2h0m26.2 .7h0m15.5-.2h0m-91.1 .4h0m20.3 .7h0m48.2 0h0m15.3 0h0m-62.2 .2h0m44.8 0h0m-41.9 1.1h0m69.9 0h0m19.2 .5h0m-127 .5h0m85.4 .6h0m7.7-.7h0m13.6 .6h0m-146.9 .8h0m1.7-.1h0m21.6 0h0m25.8 .2h0m7.9 .3h0m47.7-.5h0m-84.4 .8h0m15.3 .8h0m47.2-.1h0m13.2 .1h0m7.8-.8h0m11 .1h0m13.6 .5h0m27.7 0h0m-116.2 .5h0m2.5 .4h0m21.3-.4h0m25.7-.2h0m46.9 .2h0m-141.9 .9h0m10.7 .4h0m10.8 .4h0m19-.3h0m31.4 0h0m.9 .3h0m3.2-.6h0m7.2 .2h0m16.9-.1h0m34.9 .4h0m11.6 .1h0m-137.6 .7h0m31.7-.1h0m35.7 .5h0m10-.9h0m32.5 0h0m-80.1 1.6h0m1.6 0h0m11.6 0h0m8.3 0h0m25.1-.4h0m-50.3 1.5h0m32.2-.4h0m11.4 0h0m46.5 .5h0m.7 0h0m21.5-.5h0m4 .4h0m-91.6 .5h0m15.3 .1h0m24.2 .4h0m18.3 .2h0m.7-.9h0m6.1 .6h0m33.7-.6h0m3.2 .9h0m17.3-.7h0m-175.8 1.2h0m28.3-.1h0m8 .3h0m27.8-.2h0m13.2-.1h0m12.1 0h0m9.7 .5h0m-94.9 .3h0m5.3 .4h0m61.5 .4h0m25.3-.6h0m15.4 .3h0m29.3-.6h0m24.3-.1h0m-155.3 1.8h0m11-.5h0m.4 0h0m3.7 .5h0m13.5-.5h0m10.9 .1h0m7.9-.2h0m1.4-.1h0m2.2 .5h0m3.9-.4h0m22.2 .7h0m11.1-.9h0m11.2 .9h0m-97.9 .3h0m12.6 .5h0m41.4-.1h0m42-.2h0m37.4 .1h0m-123.4 .6h0m39.5 .8h0m19.9-.2h0m42.2 .2h0m29-.3h0m20.9 0h0m-160 1.2h0m12.9-.4h0m42.4-.3h0m3.7 .4h0m2.4 .4h0m.5-.2h0m22.6-.1h0m4.9 0h0m62.4 0h0m-168.1 .9h0m7.9-.5h0m24.4 .6h0m58.9 .3h0m43.6-.4h0m23.6 .1h0m-161.9 .6h0m19.9 0h0m2.9-.1h0m10.9 .5h0m.5-.2h0m12.4-.1h0m10.2-.2h0m4.7 .8h0m3.6-.7h0m23 .1h0m29.4 .1h0m37.7 .4h0m-134.3 .6h0m25.3 .3h0m4.3-.1h0m13.3-.5h0m29.7 0h0m10.3 .9h0m5.5-.5h0m62.1 .3h0m-169.8 .6h0m21.1-.4h0m35.4 .6h0m19.5-.3h0m44.9 0h0m40.1 .1h0m-111.6 1.2h0m27.8-.4h0m2.2 .8h0m9.2-.4h0m66.5 .4h0m-105.9 .1h0m24.6 .3h0m19.2 .2h0m19.2-.5h0m31.1 .1h0m1.1 .5h0m12 .2h0m33.5-.8h0m17.7 .4h0m-170.5 .8h0m27.5 .1h0m8.2 .5h0m7.2-.3h0m5.8-.3h0m34.9 .3h0m22.6-.3h0m-128.8 1.5h0m22.3-.6h0m30.8 .2h0m18.4 0h0m8 .5h0m41.5-.1h0m4.9-.5h0m17.4-.2h0m-117.8 1.1h0m6.4 .1h0m1.8 .1h0m70.5-.2h0m7.7 0h0m51.3 .1h0m-167 1.5h0m-13.3 .2h0m11.1 .5h0m12.9-.1h0m55.9 0h0m38.3 .1h0m37.5-.1h0m1.3-.2h0m5.4 .5h0m-72.5 .4h0m1.1 .4h0m12.2 .3h0m63.5-.4h0m-145.8 .9h0m4 .4h0m70.3-.2h0m4.6-.1h0m45-.3h0m4.4 .5h0m20.3 .1h0m.9-.5h0m1.2 .7h0m-147.6 .9h0m37.6-.3h0m9.9-.2h0m61.8 .3h0m-124.2 .5h0m8.7 .2h0m25 0h0m83.3-.3h0m5.4 .2h0m15.9 .6h0m.3 .1h0m7 0h0m25.9-.8h0m20.6 .4h0m14.8-.4h0m-179.6 1.6h0m10.1-.7h0m53.7 .5h0m27.3-.3h0m28.4 .5h0m33.5-.6h0m24.7 .4h0m12.6-.2h0m-173.2 1.7h0m3.2-.1h0m42.7-.3h0m22.9-.1h0m37.9-.5h0m54.8 .6h0m-212.3 1.2h0m10.2 .1h0m5.8 0h0m12.5-.4h0m64.8 0h0m10 .1h0m52.4-.6h0m30.5 .4h0m-184.6 1.4h0m43.9-.4h0m42.1 .1h0m19.2 .2h0m3.4 .2h0m12.5-.6h0m43.6-.2h0m2.6 .4h0m-76.3 .7h0m12.5 .5h0m5.6-.3h0m36.4 .1h0m36.6 .1h0m-167.4 .4h0m21.7 .6h0m33.8-.3h0m6.7 0h0m17.2-.2h0m50.3 .1h0m-117.9 .8h0m54.5 .9h0m35.5-.3h0m11.9-.4h0m1.3 .6h0m29.1 0h0m6.4-.5h0m13.1-.2h0m-186.7 1.8h0m27.5-.1h0m4.3-.7h0m3.3 .6h0m28 0h0m.7-.7h0m3.1 .9h0m30.1-.2h0m46.2-.5h0m12.3 .2h0m17.5 .5h0m-160.8 .9h0m74 .1h0m29.6-.9h0m11.9 .3h0m29.7 .4h0m33.5 .2h0m7.9-.5h0m-145.5 .7h0m41.5 .2h0m11.7 0h0m4.7 .3h0m19.8 .4h0m22.7-.5h0m1.5 .1h0m5-.5h0m54.7 .5h0m-160.2 1.3h0m19.6-.7h0m93.6 0h0m6.2 0h0m22.1 .4h0m-187.6 .8h0m2 .4h0m62.5-.3h0m2.1 .1h0m18.8-.2h0m68.6-.2h0m4 0h0m13.9 0h0m-128 1.4h0m2.4-.5h0m5.5 .6h0m59.9 0h0m2.9-.5h0m32.4-.1h0m14.9 .9h0m6.9 0h0m10.3-.5h0m-126.9 .9h0m27.6 .1h0m75.4-.5h0m19.7 .6h0m-170.5 1h0m17.8-.2h0m96.4-.3h0m13 .1h0m9.5 .5h0m11.5 0h0m.7 0h0m1.3 .2h0m1.3-.8h0m.2 .8h0m6.3-.4h0m6.2-.4h0m10.5 .4h0m-160.3 1.4h0m28.2-.3h0m19.2-.4h0m12.7 0h0m2.9 .6h0m45.3-.2h0m27.9 .3h0m1.6-.8h0m-121.9 1.3h0m26.7-.4h0m22.1 .2h0m7.2 .1h0m12.3 .7h0m47-.4h0m5.1 0h0m5.8 0h0m20.2-.3h0m-144.8 1.2h0m19.2-.4h0m9.7 .2h0m.4-.2h0m38 .5h0m24.7 .3h0m20.4-.8h0m2.7 .1h0m2.2 .5h0m.1-.3h0m-118 .8h0m13.8 .3h0m7.7 .4h0m20.1-.8h0m.1 .5h0m.9 .2h0m23.7-.3h0m3.2 0h0m18.4-.5h0m18.6 .1h0m5.7 .4h0m1.4 .2h0m.1 0h0m3.7 0h0m1.5-.7h0m.5 .7h0m11.3-.6h0m-164.2 1.9h0m47.7-1h0m22.4 .8h0m4.4 0h0m32.5-.2h0m24-.3h0m9.9 .7h0m3.6-.5h0m2.4 .3h0m7.6-.1h0m.3-.3h0m.2-.3h0m-122.2 1.2h0m73.2-.3h0m44.3 .5h0m8.3-.1h0m16.9-.1h0m6.6 .2h0m-164.3 1.1h0m133.4 .1h0m1.7-.6h0m.4 0h0m20 0h0m7.1 .7h0m1.1-.4h0m5.1 .5h0m7.6-.4h0m-195.2 1.5h0m42.4-.6h0m111.6 .5h0m2.4 .1h0m5-.4h0m7.5-.4h0m1 0h0m-147 1h0m16.4 .5h0m9.8-.4h0m33.9 .3h0m35.8 .3h0m10.8-.5h0m8.1 0h0m8-.4h0m1.9 .9h0m1.1-.5h0m1.6-.2h0m1.4 .7h0m.5-.2h0m30.5-.4h0m-115.4 .9h0m5.7 .3h0m10.6-.4h0m10.1 .5h0m3.2 0h0m46.3-.4h0m2.9 .3h0m4 .5h0m.6-.1h0m5 0h0m.1 .1h0m.5-.5h0m5.9 .1h0m27.6-.5h0m-35.7 1.3h0m5.4 .5h0m.9-.3h0m.5-.2h0m8.2 .4h0m9.3-.1h0m6.7-.4h0m11.1 .4h0m-93.6 1.3h0m9.6-.7h0m11.4 .1h0m16.2-.4h0m1.8 .9h0m6.7-.9h0m2.9 .6h0m1-.4h0m.4 .3h0m.3-.2h0m13.7 .6h0m3.6-.3h0m3.2 .2h0m-134.2 1h0m0 .1h0m4.5 0h0m17.6-.9h0m7.8 .7h0m39.9-.4h0m23.7 0h0m15.6 .5h0m1.1-.4h0m2.4 .1h0m2.1 .5h0m.1 0h0m.4-.7h0m.9 .6h0m4.4-.5h0m3.1-.4h0m1.9 .7h0m4.6 0h0m15.6-.4h0m2.3 .7h0m-152.5 .1h0m24.7 .5h0m12.1-.4h0m1.3 .1h0m9.3 0h0m3.2 .2h0m23.4-.1h0m3 .1h0m0 .4h0m5.3-.3h0m2 .2h0m7.6-.7h0m5.3 .4h0m3.2 .3h0m5.8-.5h0m5.2 .6h0m3.8-.3h0m3.7-.2h0m1.4 .3h0m.2-.6h0m3.7 .5h0m9.2-.3h0m5.2 0h0m3.1 .3h0m4.1-.1h0m3.6 .4h0m15.4-.3h0m-160.8 .9h0m45-.3h0m55.4 .4h0m6.1 .2h0m2.5-.3h0m1.5 .1h0m.5-.1h0m1 .1h0m.7-.5h0m1.2 .6h0m0-.7h0m1.3 .5h0m8.4 .3h0m8.8 .1h0m1.3-.3h0m2.2-.5h0m3.4 .6h0m-149.2 .6h0m10.8 .1h0m42.3 .1h0m4.3-.4h0m9.6 .4h0m10.2-.2h0m.1-.1h0m13.8 .7h0m7.1-.4h0m12.8 0h0m10.6-.2h0m0 .1h0m1 .4h0m.9-.2h0m6-.3h0m15.6 0h0m.7-.2h0m9.2 .2h0m-176.6 1.3h0m28.2-.1h0m48.5 .3h0m21.1-.7h0m5.2 .7h0m.8 0h0m27.8-.5h0m.3 .7h0m10.3-.4h0m.4 .2h0m1.5-.5h0m1.2 .2h0m1.7 .2h0m1.2 0h0m.1 .1h0m.2 .2h0m1.7-.3h0m4.4-.6h0m3.7 0h0m20.3 .6h0m5.1-.4h0m28 .6h0m-153.1 .3h0m42.5 .5h0m13.7-.4h0m24.9 .6h0m6.2-.6h0m1.3 .5h0m.5-.2h0m.5 .2h0m1.9-.4h0m1.1-.4h0m8.6 .2h0m.3 .6h0m0-.7h0m24 .6h0m-161.9 .8h0m14.6-.1h0m63.3-.2h0m.2 0h0m1.3 .2h0m3.8 .6h0m3.8-.5h0m14.4 .3h0m9.4 0h0m2 0h0m.4-.3h0m1.8 0h0m1.6 0h0m2.2 .4h0m.4-.6h0m3.2 .6h0m.2-.7h0m1.2 .4h0m1.4 .2h0m.3-.3h0m8.4-.3h0m3.4 0h0m9.5 .4h0m11.2-.1h0m.8 .2h0m19.8-.2h0m-160.2 .9h0m29-.4h0m27.3 .4h0m1.2 .5h0m2.3 0h0m6.2-.6h0m32.1 .7h0m1.3-.7h0m.1 .2h0m2.3-.2h0m.9-.3h0m0 .9h0m.2 .1h0m1.4-.4h0m.1-.6h0m.3 .9h0m2.8-.8h0m2.1 .4h0m6.4 .5h0m2.6-.4h0m6.2-.3h0m.1 .2h0m6.3 .1h0m11.5-.5h0m-142.1 1.3h0m17.1-.1h0m12.8 .1h0m19.5 .1h0m4.9 .3h0m.6-.1h0m2.4-.4h0m5.6 .5h0m30.6-.4h0m4.7 .3h0m0-.2h0m1.9 .5h0m.5-.9h0m2.7 .8h0m.4-.2h0m.5-.6h0m2.2 .7h0m.7-.3h0m.6 .3h0m.4-.6h0m1.5-.1h0m5.7 .5h0m3.8-.2h0m12.5 .6h0m1.1-.8h0m1.5 0h0m.3 .4h0m1.3-.1h0m1.1-.5h0m.3 .9h0m5.6-.1h0m-155.9 1h0m14.3-.7h0m16.6 .4h0m9.4 .5h0m29.5-.7h0m3.8 .6h0m.1-.4h0m1.6 .3h0m23.4-.2h0m5.6 .1h0m.2-.4h0m2.2 .1h0m1.3 .2h0m.6-.4h0m3.9 .1h0m2.6 .2h0m1.1-.3h0m.3-.1h0m1 .7h0m0-.5h0m1 .4h0m3.1-.3h0m5.3-.2h0m16.7 .7h0m1.9-.7h0m1.9 .2h0m7.1 .5h0m-131.7 .7h0m31.9 .2h0m4.5-.2h0m1.4 .1h0m1.1-.2h0m8.5 .3h0m.9-.3h0m.4 0h0m.1-.3h0m1.7 .4h0m.6 .1h0m.5-.1h0m1.3 .2h0m5.9-.2h0m1.4-.6h0m13.1 .2h0m2.5 .7h0m.1-.8h0m5.2 .4h0m2.8 .1h0m1.6 .1h0m.7-.3h0m2.1-.3h0m2.1 0h0m1-.1h0m2.9 .5h0m.4-.1h0m.5-.2h0m1 .6h0m.5-.8h0m.2 .2h0m.8 0h0m7.2 .1h0m5.2 .6h0m6.9-.3h0m8.3-.3h0m1.2 .2h0m4.6-.2h0m3.3 .1h0m-174.6 1.4h0m6.3 .1h0m25.6-.7h0m9 .7h0m2.4-.1h0m42.7 .1h0m6.5-.2h0m.7 .3h0m1.4-.5h0m1.2-.3h0m4.2 .8h0m2-.3h0m4.9-.5h0m11.6 .3h0m1.8-.1h0m1.4 .2h0m1.8 .3h0m2.1-.2h0m2.3-.2h0m1 .1h0m1.1-.5h0m1.2 .1h0m1.9 .3h0m1.3 .3h0m.1 .1h0m.1-.4h0m.6-.3h0m8.9-.2h0m12.5 .9h0m9.6-.8h0m8.3 .4h0m-129.8 1.3h0m2.3-.1h0m23.9-.4h0m13 .4h0m.4-.3h0m.2-.4h0m4.8 .7h0m2.5-.3h0m1.7 .3h0m3.5 .3h0m1.9-.6h0m.7 .5h0m21.2-.8h0m10 .4h0m2.7 .1h0m.1 .2h0m.2-.3h0m.9-.4h0m.3 .8h0m.2-.3h0m2.3-.2h0m5.4 .4h0m.5-.4h0m.5-.1h0m5.1 .5h0m11.8-.6h0m.6-.1h0m4.4 .3h0m4.1 .5h0m.8-.7h0m4.4 .3h0m-171.7 .5h0m10.7 .8h0m23.6-.1h0m7.5-.3h0m10.2 .6h0m16.8-.5h0m.6 .5h0m3.2-.8h0m1.5 .4h0m4.3-.5h0m1.9 .4h0m1.4-.4h0m1 .8h0m4.9 0h0m4.3-.8h0m1.9 .3h0m6.8 .1h0m.7 0h0m19.1-.1h0m4.6 0h0m1.7 .4h0m.8-.5h0m.7-.2h0m1 .3h0m.1 .6h0m2.1-.5h0m.2-.2h0m.1 .6h0m.3-.8h0m.9 .1h0m1 .6h0m1.6-.7h0m.2 0h0m1.2 .8h0m3.5-.1h0m10.1 .1h0m7-.2h0m1.1 .3h0m3.5-.9h0m.4 .9h0m7.3-.7h0m8.5 .1h0m.3 .2h0m-176.5 .9h0m34.4-.2h0m17.9-.2h0m5.9 .8h0m13-.6h0m.9-.2h0m1.1 .6h0m1.5 .3h0m.9-.4h0m11.2-.4h0m.2 .1h0m1.6-.2h0m2.5 .5h0m.5 0h0m6.3 0h0m2.8 .3h0m.7-.8h0m1.5 .4h0m1.6-.4h0m11.4 .3h0m2.5 .2h0m1.6-.3h0m2.5 .5h0m.4-.5h0m.1 .4h0m.6 .1h0m1.4-.3h0m.1-.4h0m.2 .9h0m1.1-.7h0m.2 .3h0m1.2 .2h0m1.7 0h0m0-.6h0m2 .7h0m.9-.3h0m1.3-.1h0m1.4-.1h0m1.1 0h0m9.5 .3h0m9.7 0h0m3.8-.2h0m1.6 .1h0m3.1 .1h0m6.7 .2h0m2.7 0h0m13.3-.5h0m-125.2 1h0m12.3 0h0m.8 .4h0m.3 .1h0m3.1 0h0m.5-.6h0m3.2 .3h0m.5-.2h0m3.9 .1h0m1.9 .1h0m2.4-.4h0m3.4-.1h0m4.1 0h0m24 .7h0m1.6-.7h0m3 .1h0m.6 0h0m.6 .1h0m.6 .7h0m1.9-.6h0m2.3 .5h0m2.1-.9h0m7.2 .6h0m2.4 0h0m2.5-.1h0m2.4 .4h0m3.8-.5h0m3.4 0h0m1-.3h0m3.9 .7h0m4.5-.4h0m27.2-.2h0m-154.2 1.5h0m.9-.5h0m4.3 .5h0m20.7-.4h0m.7 .4h0m2 .1h0m2.3-.4h0m.8 .4h0m4.2-.7h0m0 .4h0m0 .3h0m.7-.5h0m.9 .2h0m2 .5h0m.2-.8h0m1 0h0m3.2 .4h0m1.2 .1h0m.1 .3h0m.2-.9h0m.6 .8h0m1.1-.8h0m4 .3h0m.3 .2h0m1.6-.3h0m12.9 .5h0m2-.7h0m.2 .5h0m11.2-.3h0m2.9 0h0m.6 .4h0m.1-.5h0m.7 .7h0m3.7-.2h0m1-.4h0m.6 .2h0m2.7 0h0m.2 .4h0m1.9-.1h0m1.3 .1h0m1.4-.8h0m14.8 .6h0m3.1 .1h0m.7-.5h0m5.6-.3h0m.5 .3h0m.6 .7h0m1.8-.4h0m2.7-.6h0m1.5 .2h0m3.6-.2h0m6.6 .9h0m-182.1 .7h0m17.2-.1h0m9.4-.5h0m40.1 .4h0m2.6 .6h0m.7-.5h0m2.1 .4h0m.3-.5h0m6 0h0m.2-.3h0m4 .7h0m.7-.1h0m1.9-.2h0m.8 .4h0m.3-.4h0m0-.2h0m.3 .6h0m.7 0h0m1.1-.5h0m.2-.3h0m.8 .6h0m.2-.6h0m.6 .3h0m.9-.3h0m5.4 .6h0m3.1 .2h0m26.3-.5h0m.2-.3h0m.1 .8h0m2.1-.6h0m.1 0h0m1.1-.2h0m.2 .8h0m1.6 .1h0m1.8-.6h0m.5-.3h0m.6 .8h0m1.9 0h0m.6-.9h0m.2 .6h0m1.2 .1h0m1.8-.6h0m.6 .4h0m.7-.4h0m2.6 .4h0m9.7 .3h0m3-.2h0m3.2 .2h0m7.1 .2h0m3.9-.6h0m1.2 .5h0m1.4-.6h0m3 .7h0m-201.9 .3h0m54.5 .1h0m7 .1h0m31.6 .2h0m2.4-.1h0m.5 0h0m.9-.2h0m1.9-.2h0m.7 .7h0m1.3-.5h0m1.8-.2h0m3.7 .7h0m.9-.9h0m2.6 .9h0m1.6 0h0m1.1-.7h0m.1-.1h0m.3 0h0m.4 .3h0m.7 .4h0m.3-.2h0m1-.4h0m.6 .5h0m0-.4h0m1 .5h0m.3 .1h0m1.3-.1h0m0-.7h0m.3 .3h0m1.3 .4h0m1.7-.7h0m2.2 .2h0m2.5 0h0m2.3-.2h0m1.4 .8h0m11.3-.8h0m.6 .1h0m.7 .1h0m4.8-.3h0m1.4 .5h0m1.9 .2h0m1.9-.4h0m1.3 .2h0m2.3 .4h0m1.9-.6h0m.9 .6h0m.4-.4h0m.8-.1h0m0-.1h0m.5 .5h0m.4-.7h0m.4 .7h0m3.3-.3h0m1.2 .2h0m1.8-.5h0m2.5 .3h0m1.6 .5h0m11.7-.3h0m3.3-.5h0m4.2 .4h0m1.6 .3h0m2.1-.6h0m7.2 0h0m-193.4 1.7h0m38.3-.2h0m30.9-.1h0m5 .3h0m8.2-.4h0m8 0h0m2.5 .2h0m0-.2h0m.6 .2h0m.1 .1h0m.1-.7h0m2.8 .6h0m.1-.1h0m1.2 .1h0m.8-.1h0m.3-.6h0m2.8 .6h0m1.4 0h0m.4-.4h0m.3 .6h0m.8-.5h0m.9-.3h0m2.2 .3h0m.7 .1h0m2.2-.3h0m.4 .3h0m.5 0h0m.2 .4h0m.7-.4h0m.5 .2h0m2.2-.5h0m2.6-.1h0m2.6 .4h0m.2 .2h0m.7-.4h0m14.5-.1h0m.5 .7h0m1.5-.4h0m.3 .4h0m8.8-.5h0m1.6 .2h0m.6-.4h0m.4 .1h0m1.5-.3h0m.5 .7h0m1.2-.6h0m2.3 .2h0m9.5 .5h0m3-.4h0m1 0h0m.2-.1h0m2.1 0h0m2.5 .1h0m.2 .5h0m1.1-.6h0m2.1 .2h0m.2 0h0m2.7 .5h0m2.3-.9h0m.4 .7h0m.2 .1h0m2.6-.2h0m.4 .2h0m.8-.4h0m.1-.3h0m3.7 0h0m-141.8 1.5h0m6.7 .2h0m2.2-.5h0m29.7 .2h0m1.8-.2h0m2.6 .5h0m2.5-.3h0m0 .3h0m.7-.4h0m.9 .2h0m.7-.6h0m1.3 .5h0m.9-.3h0m.1 .2h0m1.6 .4h0m1.2-.4h0m2.3 .3h0m4.3-.5h0m1.1-.1h0m.4 .8h0m.7-.2h0m.6 0h0m2.2-.3h0m2.9 .4h0m22.6-.8h0m.9 .5h0m1.8 .3h0m1.1 .1h0m.9-.1h0m4.4-.5h0m2.2-.2h0m.7 .2h0m.3 .6h0m.5-.7h0m0 .6h0m.7-.9h0m.1 .3h0m1.9 .4h0m.1 0h0m.3-.6h0m.4 .7h0m2.4-.7h0m.8 .4h0m15.5 .4h0m5.2-.5h0m.1 .6h0m1.8-.1h0m.8-.6h0m.8 0h0m2.5 .6h0m.9-.1h0m1.9-.7h0m3.1 0h0m.1 .8h0m3.4-.3h0m.6-.4h0m-127.7 1.5h0m3.9 .2h0m3.5-.4h0m9 0h0m3.7 0h0m1.8 .5h0m.1-.3h0m2.3-.5h0m.5 .5h0m1.3-.3h0m.2 .5h0m.5-.3h0m.2 .2h0m.3-.3h0m.1-.3h0m3.3 .2h0m1 .1h0m.7-.2h0m.2 .6h0m.3-.3h0m.7-.4h0m.9 .7h0m.2-.1h0m.3-.5h0m2.4 .1h0m.6 .5h0m.7-.7h0m.2-.1h0m.2 .4h0m.5 0h0m.9 .1h0m5.2 .2h0m.1 0h0m1.9 .1h0m4.2 0h0m1.4-.1h0m16.2-.8h0m6 .3h0m2.9 .6h0m1.2-.2h0m.1 .3h0m.4-.2h0m1.6 0h0m2.1 0h0m1.2-.4h0m.4-.2h0m.8 0h0m.2 .5h0m3.3-.5h0m.8 0h0m.4-.1h0m.5 .2h0m.7 .4h0m1.3-.2h0m.5 .1h0m.8 .3h0m.3-.8h0m.3 0h0m.9 .7h0m.3-.7h0m.7 .2h0m1.3 .4h0m1.8-.3h0m.8 .5h0m1-.1h0m1.7 .1h0m.7-.2h0m2.1-.4h0m3 .6h0m2.3-.5h0m2.7 0h0m4.1 0h0m3.6 .4h0m.9 0h0m.6-.2h0m11.2 .3h0m-115.8 .5h0m5.3 0h0m1.2-.3h0m.4 .7h0m.1-.5h0m1.6 .5h0m0 .1h0m.1 .1h0m1.5-.2h0m.2-.8h0m.3 0h0m1.1 .8h0m.3-.1h0m.9-.5h0m.6 .3h0m.3-.4h0m.7 .6h0m2.8 0h0m.1-.2h0m.6 0h0m1.5 .3h0m.4 .1h0m.1-.4h0m2.4-.5h0m.3 .6h0m2.7-.5h0m3.4-.1h0m2.1 .6h0m.1-.1h0m1.5 .4h0m2.9-.8h0m14.2 .1h0m3.9 .2h0m1 .6h0m1.9-.8h0m.3-.1h0m1.3 .5h0m.5 0h0m1.3 .3h0m.6-.1h0m1.6-.7h0m1 .3h0m0-.4h0m.9 .6h0m.2 .2h0m.1 .2h0m.3-.8h0m.8 .6h0m.7-.4h0m0-.3h0m.5 .2h0m.3-.2h0m1.1 .7h0m.1 0h0m.2-.1h0m.2-.3h0m.7-.3h0m1.2 .6h0m5.2-.4h0m1-.1h0m3.6 .1h0m.3-.1h0m2.3-.1h0m1.3 .2h0m.9 .2h0m3 .3h0m2-.5h0m5 0h0m3.6 .1h0m1.7 .5h0m1-.2h0m1-.4h0m.5 .2h0m4.7-.3h0m2.6 .3h0m-147.3 .5h0m22.6 .1h0m9 .6h0m5 .2h0m.3-.9h0m.6 .5h0m2.5 .5h0m1.1-.4h0m1.4 .1h0m.3-.1h0m2.7-.3h0m1 .6h0m.9-.4h0m.5 .2h0m.4-.2h0m.1-.3h0m0-.2h0m.8 .6h0m.6-.2h0m3.5 .1h0m.1-.4h0m.3 .3h0m1.2-.3h0m1.6 .3h0m.2-.2h0m.5 0h0m3.9 .7h0m.2-.5h0m.1-.2h0m4.5 0h0m4 .6h0m17.2 0h0m2.4-.7h0m.2 .4h0m.4-.1h0m2.9 .5h0m.1-.2h0m3.3 0h0m2.4-.5h0m1 .5h0m2.2-.5h0m1.2 0h0m0 .5h0m.1 .2h0m1.1-.3h0m.1 0h0m.8 0h0m.5-.2h0m1.4 .5h0m0-.7h0m.9 .5h0m1.1-.6h0m.4 .6h0m.4-.1h0m3.5-.5h0m.1-.1h0m3.1 .4h0m6.2 .1h0m.4-.2h0m.2-.3h0m3.2 .6h0m1 0h0m.3 .2h0m6.6 .1h0m.3-.3h0m3.8 .3h0m10.5 .1h0m-138.3 .1h0m4.4-.1h0m5.2 .1h0m2.9 .2h0m1.7 .2h0m10.6-.3h0m.2 .2h0m1.3-.3h0m1.2 0h0m.1 .7h0m.6-.1h0m.6 0h0m.3 0h0m.4 .3h0m1.1-.6h0m.3-.1h0m1.3 .5h0m.1-.1h0m.2-.2h0m.1-.4h0m.2 .9h0m.6-.2h0m.4-.4h0m.5-.2h0m.4 .2h0m.4 0h0m.2 0h0m.1-.4h0m1.1 .5h0m.4 .4h0m.4-.7h0m.5 .4h0m1.1-.1h0m.3 .3h0m.1 0h0m.9 .1h0m.8 0h0m.7-.8h0m.7 .8h0m0-.6h0m.6 0h0m1.2 .6h0m.4-.4h0m1.2-.3h0m.5 .7h0m0-.6h0m.2 .5h0m1.9-.2h0m.5 0h0m.9-.5h0m.3-.1h0m.1 .6h0m.4-.1h0m0-.4h0m.4 .2h0m1.2-.3h0m5.5 .9h0m1.4 0h0m1.5-.4h0m9.4-.2h0m5.1 .5h0m4.2-.2h0m1 .3h0m.6-.3h0m3.7-.1h0m.5 .4h0m.1-.1h0m1.2-.6h0m.6 .3h0m1.6-.4h0m.8 .6h0m.8 .2h0m1.3-.2h0m.1-.6h0m.1 .8h0m.7-.2h0m.4-.2h0m.5 0h0m1 .4h0m0-.6h0m.6 .3h0m.6 .3h0m.7-.3h0m.5 .1h0m3.6-.1h0m.2-.5h0m1.3 .4h0m4.3 .4h0m1.2-.9h0m2.6 .2h0m1.9 .6h0m.2-.7h0m.2 .3h0m2.3 0h0m.1-.1h0m.8 .4h0m2.4-.2h0m.4-.2h0m1.8 .5h0m2.6-.8h0m5.4 .4h0m2.9-.4h0m.7 .2h0m1 .4h0m-159.6 .8h0m1.7-.3h0m6.8 0h0m4.2 0h0m2.8 .1h0m1.4-.1h0m30.4 .7h0m1.7-.7h0m.4 .5h0m2.3-.1h0m.6-.2h0m2.1 .5h0m.2-.5h0m.7 0h0m.5 .5h0m.3-.5h0m0 .2h0m.6-.5h0m.9 .5h0m.4 0h0m.1 .2h0m.4-.5h0m.1 .7h0m1-.5h0m.1 0h0m1.8 .5h0m.8-.3h0m1.2-.3h0m.3 .6h0m.2 0h0m.7-.7h0m.1 .8h0m.9-.4h0m.4-.2h0m1.1-.2h0m.4-.2h0m.6 .9h0m.1-.1h0m.4-.5h0m.5 .2h0m.1-.3h0m2 .3h0m.8 .3h0m.1-.7h0m.8 .7h0m0-.3h0m.2 .1h0m1.4 .2h0m.3-.4h0m.4 0h0m.2 .5h0m5.5-.5h0m.2 .4h0m9.5-.4h0m5.3 0h0m1.9 .3h0m6-.1h0m.9-.4h0m7 .2h0m1.7 .3h0m1.5-.6h0m.9 .3h0m.3 .4h0m1.6-.2h0m.2-.6h0m3.9 .6h0m.6 .3h0m1.6-.4h0m.1-.2h0m0 .5h0m.9-.3h0m3.4-.5h0m.5 .7h0m5-.2h0m.1 .2h0m0 .3h0m4.1 0h0m1.1-.5h0m4.5-.5h0m1.9 0h0m.8 .2h0m.5 .7h0m2.6-.2h0m1.2 .2h0m0-.7h0m1.7 .3h0m1-.1h0m.9 .6h0m.6-.1h0m2.3-.6h0m3.5-.2h0m3.8 .3h0m-146.7 1.1h0m3.3 .2h0m2.3-.3h0m7.9 0h0m11.8 .1h0m2.1-.2h0m1.5 .3h0m3.1-.5h0m1.9 .5h0m.2-.1h0m2 .4h0m1.7-.2h0m.4 0h0m0-.1h0m.4 .2h0m2.3-.4h0m1.3 .4h0m.6-.4h0m.5 .4h0m.3-.3h0m.5-.2h0m.2 .1h0m.5 .3h0m.2-.6h0m.3 0h0m.3 .1h0m.3 .7h0m.5-.9h0m.7 .1h0m0 .5h0m.1-.6h0m.3 .6h0m.5-.1h0m1.9-.1h0m.4 .4h0m.2-.3h0m.2 .3h0m.7-.7h0m.3 .6h0m.3 .2h0m.6-.8h0m.1 .4h0m.8 .4h0m.7-.6h0m.1 .6h0m.2-.8h0m.3 .5h0m.2 .4h0m.3 0h0m.3-.5h0m.3-.2h0m2.7 0h0m.8 .6h0m.1-.7h0m.5 .5h0m1-.4h0m11.2 .3h0m17.9-.5h0m2.7 .1h0m.5 .3h0m.3 0h0m.4 .3h0m.8 .1h0m1.4-.4h0m.2 0h0m.7 .2h0m.7-.1h0m.8-.3h0m0 .2h0m.8 .1h0m.3 0h0m2.3-.5h0m2.1 .6h0m.2-.4h0m.1-.2h0m1.2 .2h0m.4 .3h0m.4 .3h0m2.7-.1h0m2-.4h0m.6 .1h0m1 .4h0m3.4-.3h0m.8-.5h0m2.1 .8h0m.7 0h0m.1-.7h0m4 .6h0m.1-.4h0m.5 .5h0m3.4-.8h0m1.2 .1h0m0-.2h0m1.9 .1h0m1.1 .2h0m1.2 .3h0m2.3-.2h0m1.1 .6h0m1 0h0m2.1-.8h0m.9-.1h0m1.5 .1h0m3-.1h0m6.5 .1h0m-179.7 1.7h0m8.6-.6h0m10.6-.2h0m0 .8h0m12-.9h0m17.9 1h0m5.2-.4h0m2.6-.3h0m3.1-.3h0m.1 .4h0m1.2-.1h0m.3 .6h0m.1 0h0m.7-.2h0m0 .1h0m.9-.1h0m.2-.5h0m.3 .4h0m.3-.5h0m.5 .3h0m.3 .3h0m1.1-.1h0m0-.1h0m.4-.3h0m1 .4h0m1.4 .3h0m.2-.3h0m.5 0h0m.5-.6h0m1.3 .6h0m0-.2h0m.5 0h0m.4-.2h0m1 .7h0m.2-.5h0m0-.2h0m.8 .7h0m.2-.6h0m.1 0h0m.5 .6h0m.1 0h0m.2-.9h0m.7 .2h0m.8 0h0m.4 .2h0m.9-.1h0m.5 0h0m.4 .5h0m.3-.2h0m1.3-.1h0m1.6-.4h0m2.1 .9h0m1.5-.9h0m.8 0h0m.4 .6h0m.1-.2h0m.7-.2h0m.1 .3h0m.3 .2h0m1.1-.3h0m.2-.1h0m4.5 0h0m.4 .3h0m2.1-.1h0m9.7-.1h0m10.2 .1h0m2.2 0h0m.6 .1h0m.6-.2h0m1.3 .4h0m1.8-.1h0m.5-.3h0m.5 .3h0m1.4-.4h0m2.2-.4h0m1.8 .9h0m1.3-.2h0m1.5-.4h0m1.2 .3h0m.2 0h0m.3-.3h0m2.8 .6h0m.2-.4h0m.2-.5h0m1.7 .7h0m0-.5h0m3.6 .3h0m.9-.5h0m0 .5h0m.1-.1h0m.7-.4h0m2.6 0h0m.2 .9h0m1-.6h0m.3-.1h0m.4 .2h0m5.5-.2h0m.6-.2h0m1.2 .4h0m1-.3h0m1.1 .3h0m.4-.3h0m.1 .6h0m.6-.1h0m.4 .2h0m3.3-.8h0m.6 .6h0m.2-.2h0m.2 .5h0m1.2-.8h0m.3 .3h0m2.5 .3h0m.5-.4h0m-153.4 1.1h0m16 .4h0m20.6 0h0m1.1 .1h0m2.7-.3h0m2.8-.5h0m.9 .8h0m.3 0h0m1.7-.8h0m3.3 .6h0m1.3-.6h0m.5 .1h0m.9-.1h0m1 0h0m.2 .5h0m.5 .1h0m.4-.6h0m.2 0h0m.2 .3h0m.3-.2h0m0 .1h0m.3 .4h0m.9-.5h0m.1 .6h0m.8-.2h0m.1 .2h0m.2-.2h0m.8-.4h0m1 0h0m.2 .4h0m.1 .1h0m.7-.6h0m.1 .6h0m.5-.5h0m.2 .6h0m.3-.2h0m.3 .4h0m1.1 0h0m.2-.5h0m.3-.3h0m0 0h0m0 .2h0m1.1-.1h0m.2-.3h0m.1 .3h0m1.2 .1h0m.4-.3h0m.4 .3h0m1.9-.3h0m.5 .8h0m.6-.7h0m.1-.1h0m1.9 .6h0m4 .1h0m1.3-.3h0m16.3-.2h0m3.2-.3h0m2.1 .7h0m4.2 0h0m1.3-.6h0m5-.1h0m.9 .6h0m1.1-.1h0m.3 .4h0m.4-.3h0m.6 .4h0m.7-1h0m.6 .2h0m.2 .6h0m1.5-.5h0m.4-.3h0m2.3 0h0m1.9 .6h0m5.4 .3h0m4.8-.8h0m.3-.1h0m.4 .7h0m1.7-.1h0m3.4-.5h0m.6-.1h0m.3 .1h0m.2 .8h0m1.5-.3h0m.1 .2h0m.9-.6h0m1.2 0h0m0 .4h0m.4 .4h0m1.5-.5h0m1.8 0h0m1.5-.1h0m1.1 .2h0m.3-.1h0m1.5-.1h0m1.7 .5h0m5.8-.2h0m3.3 .2h0m-131.3 .9h0m11.3-.5h0m2 .3h0m.8 .2h0m4.4-.7h0m1.1 .7h0m.1-.4h0m.8 .2h0m.1 .4h0m.6-.4h0m.2-.1h0m.5 .2h0m.8 .3h0m.6-.5h0m.3 0h0m.2 .3h0m.2-.3h0m.4 0h0m.7 .4h0m.5-.1h0m.2-.6h0m0 .6h0m.2-.3h0m1.1-.2h0m0 .6h0m0-.9h0m1 .3h0m.1 0h0m.5-.1h0m1.1 .2h0m.2-.2h0m.5 .6h0m.1-.2h0m1.2 .4h0m.3-.2h0m.1-.1h0m.5-.4h0m.8-.2h0m.2 0h0m.5 .5h0m.8-.6h0m.1 .8h0m.4-.1h0m.2 .2h0m.5-.2h0m.3-.6h0m.5 0h0m.3 .3h0m.7-.1h0m.1 .6h0m0-.6h0m.8 .5h0m.2-.6h0m1.5 .7h0m1.5-.3h0m.2-.2h0m3.2 .3h0m7.5 .2h0m18.4-.3h0m5.6 .3h0m.1 0h0m3.2-.8h0m3.9 0h0m0 .3h0m.8 .4h0m.4-.1h0m.2-.2h0m.4 .1h0m1.9 .2h0m.2-.4h0m1.4 .4h0m.4 0h0m1.1-.7h0m.5 .6h0m.8 .1h0m4.1 0h0m1.4-.6h0m2-.1h0m0 .4h0m.9 .4h0m8.2-.4h0m2-.5h0m.5 0h0m.2 .9h0m.1-.6h0m1.3 0h0m4.2 .6h0m.2-.8h0m.8 .1h0m.2 .2h0m.8 .2h0m1.5-.4h0m.5 .5h0m0-.5h0m8.1-.2h0m-159.5 1.8h0m14.7-.1h0m22.5 .1h0m.8-.5h0m.8 .2h0m4.9-.4h0m.5-.1h0m1 .5h0m.8 .3h0m.1-.7h0m.2 .2h0m1.4 .1h0m.1 .2h0m.6-.1h0m.7-.4h0m.2 .2h0m1.3 .3h0m.2-.3h0m.4-.1h0m.2-.2h0m.5 .8h0m.2 .1h0m.4-.1h0m1 .1h0m.4-.7h0m.5 .5h0m.2 .3h0m.6-.6h0m.2 .2h0m.9 .3h0m.3-.4h0m.5 .4h0m.6-.5h0m.3-.4h0m.5 .2h0m.2 .1h0m.1-.1h0m.1 0h0m1 .3h0m0 .3h0m.8-.5h0m.5 0h0m.1 .6h0m.2-.7h0m.5-.2h0m.2 .5h0m1-.4h0m.2 .4h0m.4 .4h0m.9 .1h0m.4-.9h0m.3 .4h0m.1 .1h0m.4 0h0m.8 .4h0m.5-.5h0m1.2-.4h0m.5 0h0m1.1 .2h0m.2 .1h0m.8 .4h0m.3-.7h0m1.3 .6h0m.8-.2h0m1.8 .3h0m.1 .1h0m2.2-.5h0m2.6 .2h0m4.4 .4h0m1.6-.1h0m11-.4h0m2.8-.3h0m2.7 .3h0m1.5 .2h0m1.7-.3h0m1.6-.2h0m3.7 .3h0m1.4 0h0m.1-.2h0m.1 .2h0m2.5-.2h0m.5 .3h0m.2-.6h0m1.9 1h0m.3-.3h0m1.3-.3h0m3.5-.2h0m0 .3h0m.6 .2h0m5-.2h0m3.1-.2h0m1.2-.1h0m.6 .3h0m.5-.3h0m0 .1h0m2.6 .6h0m2.8-.8h0m.8 .5h0m2 .2h0m.9-.8h0m3.3 .4h0m1.1 .5h0m5.4-.4h0m.3-.3h0m2 0h0m7-.1h0m-208.9 1.2h0m13.7 .5h0m50.1-.5h0m22.7 .5h0m6-.6h0m.6 .6h0m1.4-.4h0m.6 .1h0m.4-.3h0m.4-.2h0m.3 0h0m.4 .8h0m.6-.4h0m.8 .3h0m1.5 0h0m.1-.4h0m.7 .2h0m.7 .4h0m.4-.7h0m.6 .1h0m.1 .2h0m.3 .4h0m.2-.3h0m.4 .1h0m.8-.6h0m.5 .8h0m.1-.7h0m.3 .7h0m0-.7h0m.9 .1h0m.3 0h0m.2-.3h0m.4 .2h0m.2 0h0m.6 .3h0m.2-.5h0m.3 .4h0m.6 0h0m.6-.1h0m.1-.2h0m.3 .4h0m.6 .1h0m.6 .1h0m.4-.6h0m.6 .5h0m1-.1h0m.9-.4h0m1 .4h0m.3-.1h0m1.6 .3h0m0 .2h0m.6-.4h0m.4 .1h0m.6-.3h0m2.5-.1h0m2.2 .6h0m1.1-.4h0m4.7 .3h0m3.3-.2h0m1.6 .5h0m2.2-.7h0m16.2 .1h0m1.4-.3h0m2 .5h0m1.3-.4h0m2.3 .5h0m.8-.4h0m.8 .6h0m4-.3h0m.3 .4h0m1-.9h0m2.5 0h0m.7 .8h0m.9-.3h0m.9-.4h0m1.1 .6h0m.9-.8h0m.9 .8h0m.1 .1h0m1.4-.3h0m.3-.2h0m1 .3h0m.1-.7h0m3.1 .4h0m3.2 .4h0m1.2-.6h0m2.1 .3h0m0 .5h0m.3 0h0m1.5-.7h0m.1-.3h0m.8 .3h0m4.1 .1h0m.4 .1h0m.2 .5h0m.8-.6h0m.3 0h0m.5-.1h0m.2 0h0m.7 .2h0m6.5 0h0m.1 .4h0m.4-.6h0m-153.7 1.5h0m20.2-.2h0m1.2 0h0m15.4 .2h0m.9-.7h0m.8 .6h0m2.3-.6h0m.3 .1h0m.3 .6h0m2-.4h0m.5 .6h0m.8-1h0m.3 .2h0m.9 .3h0m.8-.2h0m.1 .3h0m0-.4h0m1.2 0h0m.1 .1h0m.5 .1h0m1.2 .2h0m.1 .1h0m.1-.4h0m.8 .5h0m.1-.7h0m.7 .3h0m.1 .5h0m1-.2h0m.3-.3h0m.2 .1h0m.7-.4h0m.8 .9h0m.1-.8h0m0 .5h0m.7-.4h0m.3-.3h0m.3 .5h0m.2-.2h0m.5 .6h0m.3-.6h0m.6 .7h0m.1-.7h0m.4-.2h0m.5 .8h0m.3 0h0m.2-.4h0m.9 .1h0m.2 0h0m1-.1h0m.4 0h0m2.4 .1h0m.2-.2h0m.1-.1h0m.7 .6h0m.8-.2h0m.4-.4h0m.1 .4h0m.9-.1h0m.4 .2h0m3.1 .1h0m2.5-.8h0m8.7 .3h0m12.6 .2h0m5.9-.2h0m0 .2h0m2.3 0h0m2.4-.5h0m2 0h0m.4 0h0m1.4 .3h0m1.8 .1h0m0 .4h0m1.6 0h0m1.6-.8h0m0 .2h0m.9 .1h0m1 .5h0m.2-.5h0m.4 .6h0m2.7-.4h0m.1 .1h0m.6-.3h0m.2-.2h0m5.5 0h0m1.4 .3h0m0 0h0m7.3-.2h0m.5-.1h0m1.9 .7h0m.7-.3h0m1-.3h0m2.7 .3h0m1.2-.2h0m.2-.3h0m.1 .5h0m.4-.4h0m.3-.1h0m2.4 .7h0m.2-.5h0m3.4 .5h0m2.5 .1h0m.9-.9h0m3.5 .5h0m2.9-.1h0m-151.4 1.3h0m4.2-.1h0m12.8 0h0m.5 .1h0m5.4-.4h0m.4 .4h0m3 .1h0m7.3-.8h0m0 .9h0m1.1-.8h0m.5 .2h0m2 .3h0m.3-.1h0m.6-.5h0m.4 .1h0m0 .4h0m.1 .2h0m.3 0h0m.5 .3h0m.7-.7h0m.3 .5h0m1-.2h0m.1-.5h0m.1 .7h0m.4-.7h0m.2 .5h0m.9-.2h0m.5 .4h0m.4-.2h0m.1-.3h0m.6-.3h0m.6 .4h0m.3-.2h0m.1 .2h0m.6 .1h0m.1 .1h0m.6-.5h0m.1 .8h0m.7 0h0m0 0h0m.1-.2h0m1-.4h0m.4 .6h0m1.2-.6h0m0-.1h0m.2 .5h0m.2-.2h0m.1 .1h0m.8-.1h0m.6-.1h0m.2-.3h0m.3-.1h0m.3 .3h0m.3 .6h0m.3 .1h0m.1-.2h0m1.4-.5h0m0 .4h0m1-.7h0m1.4 .4h0m.6 .5h0m.1-.7h0m1 .6h0m1.1-.1h0m.4-.4h0m.9 .3h0m.4 .2h0m.1-.3h0m.9 .2h0m2-.2h0m0-.4h0m14-.1h0m7.8 .6h0m7-.3h0m.8-.1h0m1.8 .3h0m.8-.3h0m.1 .1h0m1.5-.2h0m2.9 .7h0m.9-.4h0m1.2-.1h0m1.8 .7h0m3.2-.8h0m.5 0h0m2.1 .7h0m.9 0h0m.6-.8h0m1.1 0h0m.6 .4h0m2 .2h0m6.4 0h0m3.4-.3h0m1.6 .5h0m.6 0h0m2-.1h0m.3-.2h0m.1 .2h0m2.6-.6h0m1.1 0h0m1.4 .4h0m0-.4h0m1.5 .2h0m1.1 0h0m.1-.4h0m4.2 .1h0m1.7 0h0m1.4 0h0m.5 .7h0m2.1 .1h0m1.8 0h0m2.4-.8h0m-180.9 1.1h0m12.3 .1h0m17.3 .6h0m3.6-.5h0m18.6 .2h0m.2 .3h0m2.3-.8h0m5.3 .1h0m.5 .1h0m.8 .6h0m.6-.8h0m.5 .5h0m.4 .1h0m0-.5h0m2.3 .4h0m.1 .2h0m.6-.8h0m.9 .6h0m.1 .4h0m.5-.5h0m0 0h0m1.2 .3h0m.1-.4h0m.1 .3h0m1 0h0m.1-.1h0m.2 .1h0m.6-.1h0m.1 .2h0m.1 .1h0m.4 0h0m.6-.5h0m.4 .5h0m.1-.3h0m.4-.1h0m.1 .3h0m.8 .1h0m0-.1h0m.8-.1h0m.4-.5h0m0 .7h0m.1-.4h0m.3-.3h0m.5 .6h0m.3-.5h0m.3 .3h0m.4-.1h0m.6-.4h0m.1 0h0m.5 .7h0m.7 0h0m.3-.5h0m.1 0h0m1 .7h0m.2-.3h0m.3-.5h0m.7 0h0m.7 0h0m.9 .5h0m1 .1h0m.5-.2h0m.9-.3h0m.5 .5h0m.3-.4h0m.4 .1h0m.7-.2h0m1 .6h0m.5-.6h0m.4 .2h0m0-.5h0m3.8 .4h0m.6 .1h0m3.5 .3h0m7-.1h0m8.1-.4h0m.9-.1h0m2.9 0h0m2.3 .3h0m1.4 .5h0m2.6-.3h0m1 .3h0m6.2-.9h0m2 .4h0m7.8-.3h0m.4 .2h0m4.6-.1h0m4.2 .3h0m.1-.3h0m2.7-.1h0m5.2 .5h0m.8-.5h0m.5 0h0m.9 .4h0m4.2-.2h0m4.4 .4h0m1.8-.5h0m2.3-.3h0m2.4 .1h0m.4 .2h0m1.4 .3h0m3.9-.2h0m0-.4h0m-186.5 1.8h0m36.5-.4h0m.6-.1h0m10.3 .3h0m10.3 .2h0m1.6-.1h0m1.2-.1h0m6.5 .2h0m.7 .2h0m.5-1h0m.1 .8h0m2.9-.3h0m1.4 0h0m.7 0h0m.8-.1h0m.8 .1h0m.5 0h0m.2 .1h0m.2-.6h0m.7 .5h0m.3 .1h0m0 .3h0m.5-.8h0m1 .2h0m.8 .3h0m.5-.4h0m1 .6h0m.5 .1h0m.7 0h0m0-.5h0m.4-.1h0m.1 .3h0m.8 0h0m.1-.4h0m.7 .5h0m.5-.5h0m1.1 .5h0m.1 .3h0m.7-.3h0m0-.6h0m.5 .1h0m.5 0h0m.4-.1h0m0 .2h0m.5 .1h0m.5 .6h0m.2-.5h0m1.4 .1h0m1.5 .1h0m.1-.3h0m.2-.1h0m.2 .4h0m2.4-.3h0m3.3-.4h0m.8 .7h0m1.9-.1h0m5.5-.1h0m1.7-.1h0m8.1 .5h0m17.2-.8h0m.3 .7h0m1.1-.8h0m.5 .7h0m0 0h0m3.7-.3h0m1 .3h0m1.7-.7h0m.6 .2h0m.1 .3h0m.4 .4h0m3-.2h0m.4-.4h0m.5-.2h0m.1 .8h0m1.2-.4h0m.2 .1h0m2 .1h0m1.4 0h0m3.8-.4h0m1.1-.3h0m1 .7h0m1 .2h0m.6-.3h0m1.2-.4h0m1.3 .3h0m.3-.1h0m0-.2h0m3.6 .6h0m.8 .1h0m.6 0h0m2.1-.6h0m.4 .7h0m1.8-.5h0m.6 .1h0m.9-.4h0m1.6 0h0m4 .2h0m.5 .1h0m1.7-.1h0m1.1 .1h0m8.6 .2h0m3.9-.6h0m-166.5 1.4h0m32 .3h0m1.8-.2h0m1.7-.2h0m3.2 0h0m1.3 .3h0m.3-.2h0m.2 .3h0m.6-.8h0m.5 .7h0m.2-.4h0m1.4-.1h0m.1 .6h0m.4-.5h0m1.9 .6h0m.9 0h0m.1-.5h0m.3 .6h0m.1-.4h0m.2-.3h0m.4 0h0m.9-.2h0m.1 .3h0m.3 .4h0m.2-.3h0m.4-.3h0m.5 .5h0m0-.1h0m.4 .1h0m.3 0h0m.1 .3h0m.7-.8h0m.6 0h0m.1 0h0m.2 0h0m.3 .7h0m.5-.6h0m.3-.1h0m.1 .4h0m.6-.5h0m.2 .5h0m.7 .2h0m.1-.6h0m.2-.1h0m1 .7h0m0-.2h0m0-.6h0m.2 .7h0m.7 0h0m0-.6h0m.4-.1h0m.3 .6h0m.2-.4h0m.6 .2h0m.1 .6h0m.3-.5h0m.8 0h0m.4-.3h0m0 .8h0m.7-.2h0m.5-.4h0m.7 .1h0m.1-.2h0m.8 .5h0m.5-.4h0m.4 .1h0m.5-.3h0m.6 .8h0m.2-.9h0m1.3 0h0m1.3 .9h0m.1-.6h0m2 .1h0m1.4-.3h0m13.6 .1h0m14.9 .2h0m2.1 0h0m2.5-.5h0m5.2 .1h0m1.6 .4h0m.7-.3h0m.6 .7h0m.4-.3h0m.3 .1h0m.8 .3h0m.9-.2h0m0-.4h0m8.5-.4h0m4.4 0h0m.5 .4h0m1.3 0h0m.8 .1h0m.4 .2h0m.6 .1h0m3.9-.5h0m.1-.2h0m2.9 .8h0m.4-.4h0m.6-.4h0m1.2 .1h0m.7 .6h0m3.6-.7h0m2.8 .5h0m.7-.5h0m.1 .1h0m-183.1 1h0m18.1 0h0m16.3 .5h0m10.7-.1h0m14.4-.3h0m5.5 0h0m1.5 .7h0m.5-.9h0m6.3 .5h0m.2-.5h0m1.8 .1h0m.7-.1h0m.5 .1h0m0 .2h0m1.9 .4h0m1.2-.6h0m.3 .4h0m.2-.1h0m.4-.1h0m.1-.1h0m.1-.3h0m.6 .9h0m.1-.6h0m.4 0h0m.4 .5h0m1.4 0h0m.4-.3h0m0-.1h0m.5-.3h0m.3 .7h0m.3-.3h0m.1-.2h0m.9 .6h0m.1-.2h0m0-.2h0m.9-.1h0m.8-.3h0m0 .4h0m.1-.2h0m.2-.3h0m.2 .4h0m.2-.3h0m.5-.1h0m.5 .5h0m.2-.3h0m.5 .5h0m.4-.4h0m.1 0h0m1.8-.3h0m0 .8h0m.4 .1h0m.1-.4h0m.5-.2h0m.1 .7h0m.4-.9h0m.4 .8h0m1.3-.5h0m.3 .1h0m1.3-.4h0m.3 .5h0m.9-.3h0m.3 .6h0m1-.6h0m.4 .1h0m.1 .5h0m.8-.1h0m2-.7h0m.3 .8h0m4.3-.7h0m7.7 .1h0m9.9 .3h0m1.7-.2h0m7.7 .3h0m0-.5h0m6.5-.1h0m.1 .4h0m1.6 .3h0m1-.8h0m1 .6h0m3.2-.1h0m.1-.3h0m.6 .6h0m1.3 0h0m1.6-.5h0m2.2 .7h0m.6-.4h0m8.6-.3h0m.8-.2h0m.5 .2h0m.6 .2h0m3.2 .3h0m1.9 .2h0m.3-.2h0m1.2-.7h0m.3 .8h0m.1 0h0m1.1-.7h0m.4 .8h0m1.2-.7h0m1.8 .7h0m.8-.9h0m.5 .7h0m0-.5h0m.3 .1h0m2 .4h0m.8-.5h0m.7 0h0m1.4 .2h0m6.3-.1h0m8.8-.3h0m.7 .6h0m-150.6 .5h0m10 .7h0m10.1-.5h0m.7-.3h0m.8 .8h0m1.2 0h0m.3-.5h0m1.9 0h0m.4-.1h0m.4 .4h0m.1-.2h0m.5 .3h0m1.2 0h0m.2-.7h0m0 .2h0m.8 .4h0m.3 .2h0m.7-.6h0m.1 .2h0m.5-.2h0m1.1-.2h0m.5 .7h0m.1-.3h0m.7 0h0m.4 0h0m.3-.2h0m.1 .3h0m.8 .1h0m.1 0h0m.5-.6h0m.5 .9h0m.2-.4h0m.2 .2h0m.2-.7h0m.1 .3h0m.2-.1h0m1.1 .3h0m.2 .3h0m.3-.5h0m0-.2h0m.6-.1h0m.1 .2h0m.5 .3h0m.2-.2h0m.3 .1h0m.4-.3h0m.6 .8h0m.1 0h0m.5-.8h0m.2-.1h0m.4 .5h0m.3-.6h0m.6 .4h0m.1-.1h0m.4 .5h0m1.1 .1h0m.1-.3h0m.2 .3h0m.8-.4h0m.4 0h0m0 .5h0m.8-.1h0m.1-.2h0m.1-.6h0m.4 .3h0m1.1 .2h0m.8-.2h0m.8 .1h0m1.7-.2h0m.1-.3h0m1.8 .3h0m.5 0h0m.5 .4h0m1.5-.1h0m15.7 .2h0m15.7 0h0m3.3-.7h0m1.3 .7h0m.3-.2h0m.4-.2h0m.7 .3h0m.4-.4h0m2.2 .2h0m.3-.4h0m.6 .8h0m1.1-.5h0m.1 0h0m.7 .2h0m.6 .2h0m.2-.7h0m2.7 .5h0m0 0h0m.6-.5h0m2.5 .8h0m3.9-.5h0m2 0h0m1.6 .1h0m4.4 .2h0m2.3-.6h0m.6 .7h0m.1-.6h0m3.2-.1h0m3.9 .5h0m0 .4h0m2.7-.6h0m2.9 .4h0m1.1-.3h0m8.6-.4h0m1 .8h0m-161.6 .8h0m21 .3h0m2.4-.3h0m14.7-.5h0m.3 .8h0m1.7-.9h0m.7 .4h0m3.4-.5h0m.1 .6h0m.7 .2h0m.4-.7h0m.4 .4h0m0 .5h0m.9-.7h0m1.6 .5h0m.2-.4h0m0 .3h0m.9-.1h0m0 .2h0m.3 .1h0m.2 0h0m0-.1h0m1.2-.5h0m.3 .1h0m.7 .4h0m.5-.1h0m.3 .1h0m.5-.7h0m.3 .7h0m.2-.7h0m.3 .4h0m.8-.2h0m0 0h0m.6 .7h0m.7-1h0m.3 .4h0m0 0h0m.6 .1h0m.2-.2h0m.2 .1h0m.8-.2h0m.4 .5h0m0 0h0m.4-.6h0m.1 0h0m.4 .6h0m.1 .2h0m1-.1h0m0-.5h0m.3-.2h0m.7 .7h0m.6 0h0m1.7-.2h0m.5 .4h0m1-.4h0m.9-.5h0m.3 .2h0m1.9 .2h0m.6 0h0m3.9-.4h0m3.8 .6h0m18.1-.4h0m9 .6h0m1.2-.8h0m4.5-.1h0m1.8 .3h0m7-.3h0m.3 .4h0m1.4 .4h0m.4 0h0m1.3 .1h0m2.8-.4h0m.5-.1h0m.8-.1h0m1-.1h0m2.2 .6h0m1.1-.8h0m2.2 .1h0m2 .6h0m.1-.6h0m1.4 .4h0m4.7 0h0m.2 .2h0m1.2-.4h0m.3-.2h0m1.1 .6h0m.4-.3h0m.4-.1h0m.4 .1h0m4.1-.1h0m1.8-.2h0m.2 .2h0m3.3 .5h0m.1-.2h0m1.7-.2h0m2.6 .4h0m0 0h0m4-.1h0m-200.5 1h0m28.8-.4h0m4.3 .2h0m15.4 .3h0m28.9-.4h0m2.3 .2h0m0 .3h0m.5 0h0m.9 0h0m.7-.3h0m1.1-.5h0m1.1 .2h0m.2 .2h0m.2-.3h0m.7 0h0m.6 0h0m.7 .1h0m.3-.3h0m.3 .5h0m.1-.2h0m.1 .6h0m.5-.1h0m.3-.4h0m.3 .6h0m.5-.8h0m.9 .4h0m.4 .1h0m.4 0h0m.1-.1h0m.4 0h0m.5-.1h0m.2-.2h0m0 0h0m.5 .7h0m.2-.3h0m.7 0h0m.2 .2h0m.2-.2h0m.3-.4h0m.2 .3h0m0 0h0m.9-.1h0m.5-.2h0m0 .4h0m.4-.2h0m.5-.3h0m.2 .1h0m.6-.1h0m.3 .5h0m.8-.1h0m.6-.4h0m.2 .2h0m.2 .4h0m1.6-.6h0m1.1 .8h0m1.7-.6h0m1.4-.3h0m0 .8h0m.2-.4h0m1.6-.5h0m.6 .5h0m10.6 0h0m21.4-.1h0m.1-.2h0m3.5 .2h0m6.6 .5h0m.3-.4h0m1.4-.3h0m2.8-.2h0m2.2 .3h0m1.1 0h0m1 .3h0m.9-.1h0m4.4 .5h0m4.8-.1h0m3-.1h0m.6-.3h0m.2-.2h0m.6-.1h0m.5 .3h0m5.4-.2h0m.3-.2h0m3.5 .5h0m1.3-.5h0m.1 .7h0m.2-.5h0m3.6 .6h0m.8-.9h0m5.5 .1h0m4.8 .7h0m1.7-.7h0m-150.9 1.5h0m18.7 0h0m.4-.1h0m.8-.5h0m4.3 .7h0m.1-.6h0m.5 .6h0m.2-.7h0m1.4 .7h0m1.5-.4h0m0-.1h0m1.1 .8h0m1.1-.8h0m.1 .5h0m.8 .1h0m.4-.2h0m.2 0h0m.2 0h0m1-.4h0m1.4 .6h0m.2-.1h0m1.2-.3h0m.1-.2h0m.4-.2h0m.1 .7h0m.4-.4h0m1-.1h0m.4 .1h0m0 0h0m.1 .3h0m.3 0h0m.8 0h0m.5-.5h0m0 .6h0m.3-.4h0m.5 .1h0m.4 .4h0m.2-.4h0m0 .1h0m.7 .3h0m.8-.2h0m.4-.3h0m.1 .4h0m.2 .1h0m2-.4h0m.3 .6h0m.5-.2h0m.7-.5h0m.3-.3h0m.3 1h0m.1-.3h0m.6-.6h0m.3 .2h0m.9 .6h0m.5-.5h0m.3 .1h0m0-.1h0m1.2-.1h0m1.8-.2h0m1.2 .4h0m3.1 .3h0m.3-.6h0m1.3 .7h0m.8-.6h0m6.8 .7h0m1.7-.9h0m22.1 .3h0m.8 .3h0m5.2 .3h0m1.5-.3h0m1.1 0h0m5.5-.7h0m0 .6h0m1.8 .1h0m1.9 .1h0m2.1-.6h0m4 .7h0m0-.2h0m1.1 0h0m3.6-.6h0m3.5 .2h0m9.4 .1h0m4 0h0m2 0h0m2.2 .3h0m1.9-.2h0m.3 .5h0m1.1-.8h0m1.5 .1h0m-123.6 .8h0m2.9 .9h0m2.1-.6h0m1.1-.1h0m.2-.3h0m.1 .2h0m.9 .5h0m0 .3h0m.9-.5h0m1-.4h0m1.2 0h0m.9 .1h0m.5 .3h0m.2-.2h0m.4 .7h0m.6-.3h0m.3 .3h0m0-.8h0m.9 .5h0m.2-.4h0m.2-.1h0m.5 .1h0m.5-.2h0m0 .5h0m.7 .1h0m.8-.5h0m.7 .1h0m.6 .5h0m.3 .1h0m.1 0h0m.1 .1h0m.3-.6h0m.5 .4h0m.2-.5h0m.6 .3h0m.2 .1h0m.1 .2h0m.3-.4h0m1-.3h0m.3 .5h0m.1 .2h0m.2-.3h0m.3-.3h0m.6 .5h0m1.4-.7h0m0 .9h0m.4-1h0m.4 .3h0m.5 .5h0m1.3 0h0m.1-.6h0m.9 .4h0m0 .2h0m.9-.3h0m.5-.4h0m.1 .1h0m.2 .2h0m.5 .3h0m.6-.6h0m.1 .3h0m1.1 .4h0m2.1-.8h0m1.8 .7h0m2.3 .3h0m3.8-.7h0m11 .4h0m13.6-.7h0m2 .1h0m3.2 .5h0m5.6-.6h0m.5 .7h0m1.2-.1h0m3-.3h0m.8-.1h0m2.6 .4h0m5.7 .1h0m.7-.3h0m4.8 .1h0m7.7 .1h0m3 0h0m.1-.1h0m6.2-.1h0m.9 .5h0m.3-.1h0m2 .1h0m5-.2h0m.8-.5h0m3.5 .2h0m3.3 .4h0m-134.3 1h0m4.8-.4h0m3.5 .4h0m.8 .1h0m.5-.4h0m1.1 .1h0m1.1 .4h0m.1-.7h0m.5-.2h0m.4 .3h0m0 0h0m.3 .4h0m.2 .1h0m.6-.5h0m0 .5h0m1.4-.1h0m.1-.7h0m.4-.1h0m.8 .3h0m.1 0h0m.4 .4h0m0-.3h0m.7 0h0m.3-.4h0m.5 .5h0m.2-.2h0m.2 .6h0m.1-.6h0m.2-.3h0m.6 .4h0m.9 0h0m.7 .5h0m.2-.1h0m.4 .2h0m.7-.9h0m.3 .8h0m.3-.6h0m0 .2h0m.6 .3h0m0-.4h0m.6 .1h0m1.2-.2h0m.8 .2h0m.1-.1h0m.1-.1h0m.3-.2h0m.2 .1h0m.4 .7h0m.3-.9h0m.3 .2h0m.8-.1h0m.3-.1h0m.5 .9h0m.2-.7h0m.6 .4h0m.5-.2h0m0 .1h0m.5 0h0m.9-.3h0m.2 .8h0m.2-.8h0m1.2-.1h0m.7 .3h0m6.8 .1h0m2.9-.2h0m39.7 0h0m3.4-.2h0m1.4 .7h0m.2-.7h0m.4 .1h0m.9 .3h0m.5-.1h0m.7 0h0m.2-.1h0m.3-.2h0m.4 .4h0m4.8 0h0m.4-.2h0m3.6 .6h0m1.3-.2h0m3.8-.1h0m0 .4h0m1.3-.3h0m.7-.5h0m9.9-.2h0m1.3 .6h0m.2 .1h0m1.3-.4h0m2.1 .1h0m18.9 .3h0m-161 .9h0m24.6 .1h0m2.3-.2h0m.1 .3h0m.2-.4h0m.5 .4h0m.2-.5h0m.6 .1h0m.8 .2h0m.8-.1h0m.8 .3h0m.2-.6h0m.5 .3h0m0 .1h0m0 .1h0m.2 .1h0m.9-.1h0m.5-.6h0m.1 .9h0m.6-.5h0m.1 .1h0m.3 0h0m.6 .1h0m.7-.2h0m.4-.3h0m.2 .7h0m.4-.7h0m.4-.1h0m1.1 .7h0m.4-.3h0m0 .2h0m.8 .3h0m.3-.6h0m.6-.2h0m0-.1h0m.5 .8h0m.6-.6h0m.3 .5h0m.2-.7h0m1 0h0m.5 .1h0m.1 .8h0m.4-.1h0m0-.1h0m.2 .1h0m.7-.6h0m1.1 .2h0m0 .4h0m.6-.7h0m.8 .2h0m0 .3h0m.7-.5h0m.1 .8h0m.8-.3h0m.5-.4h0m.7 .2h0m1.9-.4h0m.8 .5h0m.1-.4h0m.4 .7h0m.9-.4h0m4.2-.3h0m.7 .4h0m.5-.4h0m1.8 .3h0m.3-.2h0m.2 .6h0m12.5 0h0m25.8-.6h0m3.7 .4h0m.6-.1h0m1.7-.4h0m.2 0h0m4.6 .2h0m.6 .3h0m.2-.3h0m1.5 0h0m1.2 .4h0m3.8-.5h0m2.3 .3h0m1.2-.4h0m5.7 .4h0m1-.1h0m6.3 0h0m1.2 .1h0m4.9-.6h0m.5 .9h0m2.3-.8h0m.2 .7h0m6.2-.5h0m10.3 0h0m-170 .9h0m5.5 .4h0m20.3 0h0m4.2-.3h0m1.5 .5h0m2.5-.2h0m.6-.4h0m2.7 .2h0m.4 0h0m.5 .3h0m.7-.6h0m.3-.1h0m1 .7h0m1.5 0h0m.4-.1h0m.8-.4h0m.2-.2h0m.1 .1h0m.2 .6h0m.2-.4h0m.2 .5h0m1-.3h0m0-.2h0m.3 .2h0m.9-.4h0m0 0h0m.1 .1h0m.4 .6h0m.4 0h0m.1-.5h0m.4 .2h0m.1 .2h0m.7 .1h0m.3-.2h0m.3-.1h0m.7-.3h0m.2 .1h0m.3-.2h0m.8 .4h0m.4 .2h0m.1-.4h0m0 .4h0m.6-.4h0m.8 .2h0m.2 0h0m.7 0h0m.3 .3h0m.1 .1h0m1.3-.6h0m1.3 .3h0m.3-.4h0m.2 .4h0m.2-.2h0m.4 .3h0m2.3-.6h0m.1 .4h0m.1 .5h0m.7-.9h0m2 .8h0m.7-.2h0m.1 .1h0m0-.2h0m1.1 0h0m1.8 .2h0m1.4-.4h0m4.5-.2h0m42.6 .1h0m4.1-.1h0m2.8 .4h0m4 0h0m1 .2h0m6.5-.2h0m3-.2h0m.7 .4h0m4.8-.6h0m.1 0h0m.4 .8h0m2.5-.8h0m1 .7h0m2.7 .1h0m2.8-.9h0m.1 .6h0m1.8-.2h0m1.2-.4h0m.6 0h0m2.2 .6h0m4.4 .1h0m-160.4 .7h0m22.5 .5h0m4-.4h0m2.8-.6h0m1.4 1h0m.4-1h0m1.1 .6h0m3.1 .1h0m2 .2h0m.3-.3h0m.7-.1h0m.6 .4h0m.9-.2h0m.8 .2h0m.7-.5h0m.1-.3h0m.3 .6h0m1-.1h0m1.1-.2h0m.7 .4h0m.7 0h0m.2-.5h0m.2 0h0m.4 .3h0m.3-.5h0m.4 .2h0m.5 .5h0m.6-.6h0m.1 .8h0m.2-.9h0m.1 0h0m.4-.1h0m.4 .6h0m.1-.3h0m.7 .3h0m.3-.3h0m.1 .2h0m.1 0h0m.7 .4h0m.3-.5h0m.6-.4h0m.4 .4h0m.2 .4h0m.3-.1h0m.1-.2h0m.9 .2h0m.1 .2h0m.5-.3h0m.1-.1h0m2.2-.3h0m0 .4h0m1.3-.2h0m.9 .6h0m.5-.4h0m2-.1h0m3.4-.3h0m11.4 .6h0m1.2-.6h0m1.5 .5h0m31.5-.1h0m6.2-.3h0m2.1 0h0m.6-.2h0m.3 .1h0m11.8 .7h0m.8-.9h0m1.6 .1h0m2.6-.1h0m5.9 .4h0m6.8 .4h0m3.4 .2h0m1.6-.2h0m.9-.8h0m-148.7 1.9h0m18.1-.1h0m.5-.7h0m.9-.1h0m5.8 .4h0m.2-.1h0m1.1 .1h0m3.8-.2h0m.3-.2h0m.5 1h0m1.4-.3h0m.3 .1h0m.5 0h0m.3 .1h0m1.9-.8h0m2.1 .7h0m1.2-.4h0m.4 0h0m.3 .6h0m.5-.9h0m0 .8h0m.1-.7h0m.7 .8h0m.2-.7h0m.1 0h0m.6 .3h0m0-.4h0m.5 .8h0m.4-.3h0m.8 0h0m.4 .3h0m.3-.5h0m.5 .4h0m.3-.8h0m.5-.1h0m.3 0h0m.5 .6h0m.2-.6h0m1 .4h0m.5-.3h0m.2 0h0m.7 .8h0m0-.8h0m1 .3h0m.1 .5h0m.5-.6h0m.3 .3h0m.3 0h0m0-.4h0m2.6 .7h0m.4-.6h0m1.2-.2h0m1.4 .4h0m2.7 .3h0m4 .1h0m1.6-.8h0m24.1 .3h0m13.7 .5h0m7.8-.2h0m6.6 .1h0m1.1-.6h0m8.7 .4h0m.5-.3h0m1.3-.2h0m3.7 .7h0m.6-.6h0m4.8 .3h0m1 0h0m4-.4h0m-145.1 1.4h0m16.2 0h0m5.9-.5h0m.9 .6h0m3.3 .3h0m.4-.3h0m2-.4h0m1.9-.1h0m.8 .3h0m.2 .2h0m.2-.3h0m1.6-.3h0m.3 .1h0m.6 .7h0m.3-.4h0m.1 .5h0m.5-.3h0m.1 .2h0m.4-.5h0m.3-.2h0m2.4 .7h0m.4-.7h0m.2-.1h0m.6 .6h0m.1-.3h0m.9 .2h0m0-.3h0m.6 .8h0m.4-1h0m.8 .7h0m.1-.1h0m0-.3h0m.6-.3h0m0 0h0m.5 .4h0m.3 .2h0m.3-.3h0m.6 .3h0m.1 .2h0m.5-.3h0m.3 .3h0m.6-.4h0m.1 .2h0m.6-.2h0m1 .5h0m1.1 .1h0m.7-.6h0m1.3 .2h0m1-.1h0m1.1 .2h0m.5-.1h0m.2-.5h0m.5-.1h0m2.1 .9h0m2.7-.7h0m4.6 .7h0m40.1 0h0m2.5-.3h0m2.6-.3h0m1.2 .1h0m.5-.3h0m.6 .4h0m7.6 .1h0m8-.2h0m2-.3h0m10.7-.1h0m6 .6h0m.1-.2h0m6.4 0h0m7.1 .5h0m-143.2 1h0m3.9-.4h0m2.4-.3h0m1.6 .5h0m3-.1h0m2.1 .2h0m.7-.6h0m.8 .3h0m.3-.1h0m.9 0h0m.2 .3h0m.3 .1h0m.3-.5h0m.8 .2h0m.1 .2h0m.1-.2h0m.6-.3h0m0 .1h0m.5-.2h0m.3 0h0m.2 .3h0m.5 .3h0m1-.4h0m.5 .4h0m.3 .2h0m.3-.1h0m.3-.2h0m.3-.3h0m0 .2h0m1 .1h0m.7 .3h0m0-.6h0m.3 .4h0m.6-.1h0m.4 .3h0m.1-.3h0m.6 .2h0m.4-.6h0m.3 .4h0m.3-.1h0m.1 .5h0m.7-.4h0m.4-.5h0m0 .1h0m.9 .1h0m.6 .7h0m.2-.4h0m.3 .3h0m.2-.2h0m.8-.4h0m.7 .5h0m.8-.6h0m.3 0h0m0 .3h0m1.8-.4h0m1.2-.1h0m.2 .5h0m.1-.3h0m5 .3h0m2.6-.3h0m3.3-.2h0m11.5 .4h0m25.8 .1h0m17.1 0h0m5.1-.3h0m1.7 .4h0m.2 .2h0m2.5 .2h0m21.4-.4h0m0 .1h0m5.5 0h0m9.2-.7h0m-153.5 1.6h0m1.3-.2h0m5.5 .3h0m.1-.5h0m6.1-.1h0m5.5 .2h0m.3-.3h0m3.2 .9h0m.3-.5h0m.2-.3h0m.6 .2h0m.9-.2h0m.2 .6h0m1.9 .2h0m.4-.2h0m.5-.5h0m1 .8h0m.9-.8h0m.5 .3h0m.1-.1h0m.3 .5h0m.9-.1h0m.1 0h0m.2 0h0m.4 .1h0m.3-.6h0m.1 .4h0m.4-.1h0m.1-.2h0m.2 .4h0m1.5-.6h0m.4 .3h0m.3 .2h0m.2-.4h0m.2 .1h0m.1 .5h0m.4-.7h0m.5 .5h0m.9-.5h0m.4 .6h0m.1-.4h0m.3 .1h0m.7-.1h0m.8 .5h0m.5-.7h0m1.8 .1h0m.1 .4h0m.4-.6h0m1-.1h0m.4 .9h0m2.7-.8h0m.3 .1h0m2.1 0h0m0 .2h0m4.4 .3h0m25 .1h0m10.2-.6h0m1.1-.2h0m1.6 1h0m7.5-.7h0m1.2 .1h0m2.4 .6h0m1.5 0h0m6.1-.6h0m5-.3h0m4.5 0h0m10.9 .7h0m3.1-.2h0m3.7-.2h0m.4-.1h0m6.9 0h0m-201.7 1.4h0m38.2-.3h0m5.4 .5h0m20.3-.1h0m.6 .2h0m.7-1h0m4.6 .9h0m1.4-.3h0m4.7 0h0m.8 .1h0m.1-.1h0m5.1 .2h0m0 .1h0m0-.1h0m.9-.3h0m0 .5h0m1.2-.6h0m0 .3h0m.2-.1h0m1.2-.3h0m0 .1h0m.3 0h0m.8 0h0m.1 0h0m.1-.4h0m.5 .4h0m.9-.2h0m.4-.1h0m.6 .3h0m1-.2h0m.5 .2h0m0 .2h0m1-.3h0m0 .5h0m.4-.2h0m1.2 .2h0m.6-.4h0m.1 .1h0m.7-.5h0m.6 .8h0m.3-.6h0m0 .4h0m1.4 .1h0m.1-.5h0m.7 .2h0m.2-.1h0m.8 .6h0m1.1-.3h0m2.8 0h0m.4-.1h0m1.8 .5h0m.3-.5h0m0 .1h0m1.4-.2h0m5.7-.1h0m27.7 .6h0m15-.8h0m.1 .2h0m3.8-.1h0m1.1 .5h0m8.1-.5h0m-104 1.7h0m3.7-.7h0m.8 .6h0m3 0h0m1-.3h0m.4 0h0m1.5 .1h0m1.3-.5h0m1.3 .2h0m1.2-.2h0m.1 .8h0m.3-.8h0m.5 .6h0m.5-.3h0m1.2 0h0m.6 0h0m.2-.1h0m.5 .4h0m0-.1h0m.3-.2h0m.5 0h0m1.2 .4h0m.5-.2h0m1.5-.5h0m.4 .4h0m.7 .1h0m.1-.2h0m.5 0h0m0 .2h0m1.2 .2h0m.5-.3h0m.4-.5h0m.1 .6h0m1.6-.5h0m1.6 .4h0m.4-.3h0m.7 .1h0m1.4 .1h0m.6-.1h0m1.2 .3h0m2.9 .3h0m.5-.1h0m.6-.4h0m3.5 .3h0m2.6 .2h0m5.7-.7h0m45.8 .5h0m13 .2h0m11.8 .1h0m2.4-.7h0m9.3-.2h0m-141.9 1.2h0m7-.2h0m11.7 .2h0m.2 .7h0m2.3-.8h0m.3 .1h0m1.2 .2h0m0 .3h0m1.1-.6h0m2.6 .1h0m3.4 .5h0m.2-.2h0m1.3 .3h0m.6-.6h0m1.6 .5h0m.1-.4h0m.2 0h0m.4 .5h0m.5-.2h0m1-.7h0m.8 .9h0m.8-.4h0m.2-.5h0m1.8 .7h0m1.2-.5h0m.3 .6h0m1-.1h0m.1 0h0m.4-.6h0m.1-.1h0m.9 .8h0m.2-.1h0m.9-.5h0m.2 .1h0m48.9 0h0m4.4 .2h0m20 .1h0m13.5-.5h0m6 .4h0m5.5-.2h0m5.2 .5h0m3.8-.3h0m-145.3 1.4h0m5.3-.2h0m8.6-.6h0m.3 .4h0m.4-.1h0m2.4 0h0m.1 .4h0m1.1 0h0m.4-.5h0m.2-.2h0m.1 .1h0m1.6 .7h0m.6-.4h0m.6 .3h0m.2-.8h0m.6 .4h0m1-.3h0m.3 .2h0m.2 .4h0m.8 .1h0m.5-.7h0m.3-.1h0m1.9 .1h0m1.8 .3h0m.8-.3h0m.1 .1h0m.1 .8h0m.5-.5h0m.4-.3h0m.5-.1h0m.2-.1h0m.3 .8h0m2-.2h0m10.5 .4h0m14.1-.6h0m30.3 .5h0m-95.9 1h0m10.7-.5h0m2.2 .1h0m1.5 .4h0m4.7-.3h0m.5-.5h0m1.2 .4h0m.9 .1h0m1.8-.3h0m.8 .3h0m.7 .3h0m.1-.2h0m2.4-.6h0m.4 .6h0m1.4-.7h0m.6 .4h0m.1-.2h0m.4 .3h0m0 .4h0m.3-.2h0m2-.1h0m.1 0h0m.6-.3h0m.2 0h0m1.9-.1h0m.1-.1h0m1.2-.1h0m3.7 0h0m1.4 .2h0m.5 .5h0m3.3-.1h0m8.4 .2h0m13.4-.4h0m19.3 .3h0m12.5-.1h0m.3-.2h0m11 .4h0m22.5-.8h0m2 .9h0m-144.6 .6h0m17.5 0h0m2.4 .3h0m5.9-.5h0m6.2 .4h0m.7 .3h0m.2-.9h0m.6 .6h0m1.9-.2h0m.1-.2h0m0 .1h0m.6 .3h0m1.1-.1h0m.3-.2h0m.6 .1h0m.1 .3h0m.7-.2h0m.1 .3h0m.7-.2h0m1.2-.2h0m.8-.4h0m.3 .8h0m.3 0h0m3.8-.1h0m.7-.1h0m.4 .1h0m.2-.8h0m.7 .7h0m.5 0h0m11.3 0h0m19.1-.6h0m16.1-.1h0m2.2 0h0m10.3 .4h0m2.7 .4h0m3.3 0h0m1-.1h0m5.4-.5h0m13.7 .3h0m-113.7 .5h0m3.8 1h0m6.1-.3h0m1.1-.2h0m1.8 0h0m1-.5h0m.5 .7h0m1.4-.4h0m.1 .4h0m.2-.6h0m1.7 .3h0m1.1 .6h0m1.4-1h0m.4 .7h0m2.7 .3h0m.3-.9h0m1 .7h0m1.1-.4h0m.2 .1h0m.5-.1h0m.3 .5h0m.9-.8h0m.8 .3h0m1 0h0m2 .3h0m4.1-.2h0m2.8 .2h0m54.5-.3h0m1-.4h0m2.6 1h0m13.8-.2h0m-113.7 .6h0m2.2 .4h0m6.9 0h0m.4-.1h0m1.1-.3h0m.4 .5h0m2.2-.1h0m1.4-.1h0m.5 .2h0m1.8 .1h0m1.5-.1h0m0 0h0m.8-.4h0m1-.2h0m.4 .6h0m.3-.4h0m.7 .1h0m2.1-.1h0m1 .4h0m.7 .1h0m.6-.4h0m1-.2h0m1.9 0h0m1.1 .1h0m3-.3h0m60.7 .6h0m20 0h0m10.4-.1h0m2.6-.6h0m-122.4 1.5h0m.7-.2h0m4-.3h0m1.8 .2h0m1.3 .1h0m1.8 .5h0m1 .1h0m.9-.4h0m.3-.3h0m.6 .6h0m3.9-.8h0m.9 .9h0m0-.9h0m.4 .1h0m1.1 .3h0m.1 .4h0m.3-.3h0m.4-.3h0m.9-.1h0m2.3 .5h0m.3-.2h0m.2-.3h0m.7 .6h0m2.5-.5h0m2.9-.1h0m50.3 .1h0m20.8 0h0m14.5 .1h0m12-.1h0m-119.2 .7h0m.3 .4h0m5.3 0h0m.1-.3h0m0 .4h0m1.4-.5h0m.4 .2h0m2.5 .6h0m.7-.3h0m.7-.5h0m0 .5h0m1.6-.5h0m2.8 .3h0m3.5 .2h0m4.5-.3h0m56.7 .5h0m17-.3h0m7.9 .4h0m1.3-.3h0m-145.8 1h0m33.8 .4h0m9-.2h0m1.3-.4h0m.2-.3h0m.4 .5h0m1.3 .5h0m2.5-.6h0m.9-.2h0m1.1-.1h0m1.1 .6h0m.9 0h0m4.9 .2h0m4.5-.7h0m60.9-.1h0m0 .1h0m42.2 .1h0m-126.6 1.6h0m3.3-.3h0m.4-.3h0m1.7-.3h0m1 .5h0m0-.3h0m.5 .7h0m2-.5h0m5-.2h0m12.4 .6h0m.6-.5h0m1.5 .1h0m6.6-.1h0m53.4-.3h0m12.3 .7h0m33.8-.5h0m-142.3 1.5h0m12-.4h0m1.9 .5h0m1.3 .1h0m7.2-.8h0m.8 .4h0m2.1-.4h0m.4 0h0m60 .7h0m14-.5h0m-97.8 1.3h0m7.3-.1h0m.7-.2h0m2.2 .1h0m2.6-.1h0m6-.3h0m57.1 .4h0m35.2 0h0m-123 1.4h0m3.3-.6h0m14-.1h0m1.4 .5h0m.5-.4h0m.5 .8h0m6.6-.6h0m.6-.1h0m13.2 .5h0m33 .1h0m-70.2 .5h0m16.6 .6h0m1.6-.1h0m.9-.1h0m2.4-.7h0m2.6 .8h0m9.4-.1h0m-21.4 .8h0m8.9-.3h0m.9-.3h0m9.2 .3h0m.4 .7h0m6.3-.7h0m10.6 .3h0m111.2 .3h0m-151 .6h0m6.4 .3h0m4 .2h0m1.4-.5h0m.9-.5h0m.3 .1h0m83.9 .2h0m2.4 0h0m-111.3 1.3h0m5.3-.3h0m8.8-.1h0m13.5-.2h0m1.5 1h0m7.6-.1h0m8.1 0h0m56.6 .1h0m-76.7 .8h0m118-.7h0m-123.4 1.6h0m.7-.2h0m24.6 0h0m-29.1 2.2h0m16.6-.6h0m50.3 .3h0m58.6-.3h0m-133 1.5h0m4.2 0h0m130.8 .1h0m-176.4 3.2h0m74.4 1.1h0m93.8-.9h0m28.8 4.3h0m-140.7 .7h0m6.9 .4h0m-30.4 .7h0m-32.6 1.6h0m74.7 0h0m77.7 14.1h0m-13.6 2h0" stroke="#ff5f55" stroke-width="1.3" stroke-linecap="round" fill="none"/>
<rect x="694.4" y="373.4" width="279.6" height="258.9" fill="none" stroke="#000" stroke-width="1.35"/>
<line x1="818.8" y1="373.4" x2="818.8" y2="632.3" stroke="#000" stroke-width="1.5" stroke-linecap="butt"/>
<line x1="694.4" y1="526.5" x2="974" y2="526.5" stroke="#000" stroke-width="1.5" stroke-linecap="butt"/>
<path d="M694.4 629.1v6.4M713.39 630.5v3.4M724.51 630.5v3.4M732.39 630.5v3.4M738.51 630.5v3.4M743.5 630.5v3.4M747.73 630.5v3.4M751.38 630.5v3.4M754.61 630.5v3.4M757.5 629.1v6.4M776.49 630.5v3.4M787.61 630.5v3.4M795.49 630.5v3.4M801.61 630.5v3.4M806.6 630.5v3.4M810.83 630.5v3.4M814.48 630.5v3.4M817.71 630.5v3.4M820.6 629.1v6.4M839.59 630.5v3.4M850.71 630.5v3.4M858.59 630.5v3.4M864.71 630.5v3.4M869.7 630.5v3.4M873.93 630.5v3.4M877.58 630.5v3.4M880.81 630.5v3.4M883.7 629.1v6.4M902.69 630.5v3.4M913.81 630.5v3.4M921.69 630.5v3.4M927.81 630.5v3.4M932.8 630.5v3.4M937.03 630.5v3.4M940.68 630.5v3.4M943.91 630.5v3.4M946.8 629.1v6.4M965.79 630.5v3.4M692.6 628.2h3.4M692.6 623.57h3.4M692.6 619.65h3.4M692.6 616.26h3.4M692.6 613.27h3.4M691.2 610.6h6.4M692.6 593h3.4M692.6 582.71h3.4M692.6 575.41h3.4M692.6 569.75h3.4M692.6 565.12h3.4M692.6 561.2h3.4M692.6 557.81h3.4M692.6 554.82h3.4M691.2 552.15h6.4M692.6 534.55h3.4M692.6 524.26h3.4M692.6 516.96h3.4M692.6 511.3h3.4M692.6 506.67h3.4M692.6 502.75h3.4M692.6 499.36h3.4M692.6 496.37h3.4M691.2 493.7h6.4M692.6 476.1h3.4M692.6 465.81h3.4M692.6 458.51h3.4M692.6 452.85h3.4M692.6 448.22h3.4M692.6 444.3h3.4M692.6 440.91h3.4M692.6 437.92h3.4M691.2 435.25h6.4M692.6 417.65h3.4M692.6 407.36h3.4M692.6 400.06h3.4M692.6 394.4h3.4M692.6 389.77h3.4M692.6 385.85h3.4M692.6 382.46h3.4M692.6 379.47h3.4M691.2 376.8h6.4" stroke="#000" stroke-width="1.1" fill="none"/>
<text class="sa" x="697.1" y="657.5" font-size="12" text-anchor="end" fill="#111">10<tspan font-size="11.8" dy="-6.5">1</tspan></text>
<text class="sa" x="760.2" y="657.5" font-size="12" text-anchor="end" fill="#111">10<tspan font-size="11.8" dy="-6.5">2</tspan></text>
<text class="sa" x="823.3" y="657.5" font-size="12" text-anchor="end" fill="#111">10<tspan font-size="11.8" dy="-6.5">3</tspan></text>
<text class="sa" x="886.4" y="657.5" font-size="12" text-anchor="end" fill="#111">10<tspan font-size="11.8" dy="-6.5">4</tspan></text>
<text class="sa" x="949.5" y="657.5" font-size="12" text-anchor="end" fill="#111">10<tspan font-size="11.8" dy="-6.5">5</tspan></text>
<text class="sa" x="680" y="616.4" font-size="12" text-anchor="end" fill="#111">10<tspan font-size="11.8" dy="-6.5">2</tspan></text>
<text class="sa" x="680" y="557.95" font-size="12" text-anchor="end" fill="#111">10<tspan font-size="11.8" dy="-6.5">3</tspan></text>
<text class="sa" x="680" y="499.5" font-size="12" text-anchor="end" fill="#111">10<tspan font-size="11.8" dy="-6.5">4</tspan></text>
<text class="sa" x="680" y="441.05" font-size="12" text-anchor="end" fill="#111">10<tspan font-size="11.8" dy="-6.5">5</tspan></text>
<text class="sa" x="680" y="382.6" font-size="12" text-anchor="end" fill="#111">10<tspan font-size="11.8" dy="-6.5">6</tspan></text>
<text class="sa" x="697.6" y="384.1" font-size="11.5" text-anchor="start" fill="#1a1a1a">Q1-1</text>
<text class="sa" x="697.6" y="397.6" font-size="11.5" text-anchor="start" fill="#1a1a1a">10.07%</text>
<text class="sa" x="697.6" y="615" font-size="11.5" text-anchor="start" fill="#1a1a1a">Q1-3</text>
<text class="sa" x="697.6" y="628.4" font-size="11.5" text-anchor="start" fill="#1a1a1a">49.88%</text>
<text class="sa" x="936.8" y="384.1" font-size="11.5" text-anchor="start" fill="#1a1a1a">Q1-2</text>
<text class="sa" x="936.8" y="397.6" font-size="11.5" text-anchor="start" fill="#1a1a1a">4.32%</text>
<text class="sa" x="930.4" y="615" font-size="11.5" text-anchor="start" fill="#1a1a1a">Q1-4</text>
<text class="sa" x="930.4" y="628.4" font-size="11.5" text-anchor="start" fill="#1a1a1a">35.73%</text>
</g>
<line x1="94.1" y1="16.3" x2="94.1" y2="697.7" stroke="#000" stroke-width="3.2" stroke-linecap="butt"/>
<line x1="92.9" y1="696.2" x2="904.8" y2="696.2" stroke="#000" stroke-width="3.2" stroke-linecap="butt"/>
<text class="se" x="35.5" y="41.3" font-size="36.5" text-anchor="start" fill="#000">PI</text>
<text class="se" x="860.5" y="740.1" font-size="36" text-anchor="start" fill="#000">FITC</text>
<text class="se" x="536.5" y="770.1" font-size="36" text-anchor="start" fill="#000">A</text>
<text class="se" x="145" y="344.5" font-size="25.9" text-anchor="start" fill="#000">control</text>
<text class="se" x="480.8" y="344.5" font-size="25.9" text-anchor="start" fill="#000">0.01 mg L<tspan font-size="14.5" dy="-7.4">-1</tspan></text>
<text class="se" x="814.3" y="344.5" font-size="25.9" text-anchor="start" fill="#000">1 mg L<tspan font-size="14.5" dy="-7.4">-1</tspan></text>
<text class="se" x="369.3" y="690.8" font-size="25.9" text-anchor="start" fill="#000">2 mg L<tspan font-size="14.5" dy="-7.4">-1</tspan></text>
<text class="se" x="699.3" y="689.4" font-size="25.9" text-anchor="start" fill="#000">4 mg L<tspan font-size="14.5" dy="-7.4">-1</tspan></text>
<line x1="120" y1="739" x2="120" y2="1384" stroke="#000" stroke-width="3.2" stroke-linecap="butt"/>
<line x1="108" y1="1382.4" x2="917.8" y2="1382.4" stroke="#000" stroke-width="3.2" stroke-linecap="butt"/>
<line x1="108" y1="1382.4" x2="120" y2="1382.4" stroke="#000" stroke-width="3.2" stroke-linecap="butt"/>
<text class="se" x="98.8" y="1390.4" font-size="27.2" text-anchor="end" fill="#000">0</text>
<line x1="114" y1="1336.55" x2="120" y2="1336.55" stroke="#000" stroke-width="3.2" stroke-linecap="butt"/>
<line x1="108" y1="1290.69" x2="120" y2="1290.69" stroke="#000" stroke-width="3.2" stroke-linecap="butt"/>
<text class="se" x="98.8" y="1298.69" font-size="27.2" text-anchor="end" fill="#000">10</text>
<line x1="114" y1="1244.84" x2="120" y2="1244.84" stroke="#000" stroke-width="3.2" stroke-linecap="butt"/>
<line x1="108" y1="1198.98" x2="120" y2="1198.98" stroke="#000" stroke-width="3.2" stroke-linecap="butt"/>
<text class="se" x="98.8" y="1206.98" font-size="27.2" text-anchor="end" fill="#000">20</text>
<line x1="114" y1="1153.12" x2="120" y2="1153.12" stroke="#000" stroke-width="3.2" stroke-linecap="butt"/>
<line x1="108" y1="1107.27" x2="120" y2="1107.27" stroke="#000" stroke-width="3.2" stroke-linecap="butt"/>
<text class="se" x="98.8" y="1115.27" font-size="27.2" text-anchor="end" fill="#000">30</text>
<line x1="114" y1="1061.42" x2="120" y2="1061.42" stroke="#000" stroke-width="3.2" stroke-linecap="butt"/>
<line x1="108" y1="1015.56" x2="120" y2="1015.56" stroke="#000" stroke-width="3.2" stroke-linecap="butt"/>
<text class="se" x="98.8" y="1023.56" font-size="27.2" text-anchor="end" fill="#000">40</text>
<line x1="114" y1="969.71" x2="120" y2="969.71" stroke="#000" stroke-width="3.2" stroke-linecap="butt"/>
<line x1="108" y1="923.85" x2="120" y2="923.85" stroke="#000" stroke-width="3.2" stroke-linecap="butt"/>
<text class="se" x="98.8" y="931.85" font-size="27.2" text-anchor="end" fill="#000">50</text>
<line x1="114" y1="878" x2="120" y2="878" stroke="#000" stroke-width="3.2" stroke-linecap="butt"/>
<line x1="108" y1="832.14" x2="120" y2="832.14" stroke="#000" stroke-width="3.2" stroke-linecap="butt"/>
<text class="se" x="98.8" y="840.14" font-size="27.2" text-anchor="end" fill="#000">60</text>
<line x1="114" y1="786.29" x2="120" y2="786.29" stroke="#000" stroke-width="3.2" stroke-linecap="butt"/>
<line x1="108" y1="740.43" x2="120" y2="740.43" stroke="#000" stroke-width="3.2" stroke-linecap="butt"/>
<text class="se" x="98.8" y="748.43" font-size="27.2" text-anchor="end" fill="#000">70</text>
<rect x="213.5" y="1296.8" width="79.6" height="85.6" fill="#fff" stroke="#000" stroke-width="3.3" stroke-linejoin="round"/>
<line x1="253.2" y1="1253.9" x2="253.2" y2="1339.8" stroke="#000" stroke-width="2.7" stroke-linecap="butt"/>
<line x1="247.2" y1="1253.9" x2="259.2" y2="1253.9" stroke="#000" stroke-width="2.7" stroke-linecap="round"/>
<line x1="247.2" y1="1339.8" x2="259.2" y2="1339.8" stroke="#000" stroke-width="2.7" stroke-linecap="round"/>
<line x1="252.9" y1="1382.4" x2="252.9" y2="1394.9" stroke="#000" stroke-width="3.2" stroke-linecap="butt"/>
<line x1="319.3" y1="1382.4" x2="319.3" y2="1389.4" stroke="#000" stroke-width="3.2" stroke-linecap="butt"/>
<text class="se" x="255.5" y="1249.9" font-size="26.5" text-anchor="middle" fill="#000">d</text>
<text class="se" x="252.9" y="1423.4" font-size="27.2" text-anchor="middle" fill="#000">0</text>
<rect x="346.3" y="1208.4" width="79.6" height="174" fill="#fff" stroke="#000" stroke-width="3.3" stroke-linejoin="round"/>
<line x1="386" y1="1198.5" x2="386" y2="1220.7" stroke="#000" stroke-width="2.7" stroke-linecap="butt"/>
<line x1="380" y1="1198.5" x2="392" y2="1198.5" stroke="#000" stroke-width="2.7" stroke-linecap="round"/>
<line x1="380" y1="1220.7" x2="392" y2="1220.7" stroke="#000" stroke-width="2.7" stroke-linecap="round"/>
<line x1="385.7" y1="1382.4" x2="385.7" y2="1394.9" stroke="#000" stroke-width="3.2" stroke-linecap="butt"/>
<line x1="452.1" y1="1382.4" x2="452.1" y2="1389.4" stroke="#000" stroke-width="3.2" stroke-linecap="butt"/>
<text class="se" x="386.5" y="1190" font-size="26.5" text-anchor="middle" fill="#000">c</text>
<text class="se" x="385.7" y="1423.4" font-size="27.2" text-anchor="middle" fill="#000">0.01</text>
<rect x="479.2" y="1199.5" width="79.6" height="182.9" fill="#fff" stroke="#000" stroke-width="3.3" stroke-linejoin="round"/>
<line x1="518.9" y1="1179.5" x2="518.9" y2="1220" stroke="#000" stroke-width="2.7" stroke-linecap="butt"/>
<line x1="512.9" y1="1179.5" x2="524.9" y2="1179.5" stroke="#000" stroke-width="2.7" stroke-linecap="round"/>
<line x1="512.9" y1="1220" x2="524.9" y2="1220" stroke="#000" stroke-width="2.7" stroke-linecap="round"/>
<line x1="518.6" y1="1382.4" x2="518.6" y2="1394.9" stroke="#000" stroke-width="3.2" stroke-linecap="butt"/>
<line x1="585" y1="1382.4" x2="585" y2="1389.4" stroke="#000" stroke-width="3.2" stroke-linecap="butt"/>
<text class="se" x="518.5" y="1170.4" font-size="26.5" text-anchor="middle" fill="#000">c</text>
<text class="se" x="518.6" y="1423.4" font-size="27.2" text-anchor="middle" fill="#000">1</text>
<rect x="611.9" y="1095.3" width="79.6" height="287.1" fill="#fff" stroke="#000" stroke-width="3.3" stroke-linejoin="round"/>
<line x1="651.6" y1="1060.3" x2="651.6" y2="1131.2" stroke="#000" stroke-width="2.7" stroke-linecap="butt"/>
<line x1="645.6" y1="1060.3" x2="657.6" y2="1060.3" stroke="#000" stroke-width="2.7" stroke-linecap="round"/>
<line x1="645.6" y1="1131.2" x2="657.6" y2="1131.2" stroke="#000" stroke-width="2.7" stroke-linecap="round"/>
<line x1="651.3" y1="1382.4" x2="651.3" y2="1394.9" stroke="#000" stroke-width="3.2" stroke-linecap="butt"/>
<line x1="717.7" y1="1382.4" x2="717.7" y2="1389.4" stroke="#000" stroke-width="3.2" stroke-linecap="butt"/>
<text class="se" x="650.5" y="1049.3" font-size="26.5" text-anchor="middle" fill="#000">b</text>
<text class="se" x="651.3" y="1423.4" font-size="27.2" text-anchor="middle" fill="#000">2</text>
<rect x="744.7" y="910.6" width="79.6" height="471.8" fill="#fff" stroke="#000" stroke-width="3.3" stroke-linejoin="round"/>
<line x1="784.4" y1="822.8" x2="784.4" y2="997" stroke="#000" stroke-width="2.7" stroke-linecap="butt"/>
<line x1="778.4" y1="822.8" x2="790.4" y2="822.8" stroke="#000" stroke-width="2.7" stroke-linecap="round"/>
<line x1="778.4" y1="997" x2="790.4" y2="997" stroke="#000" stroke-width="2.7" stroke-linecap="round"/>
<line x1="784.1" y1="1382.4" x2="784.1" y2="1394.9" stroke="#000" stroke-width="3.2" stroke-linecap="butt"/>
<text class="se" x="784" y="811" font-size="26.5" text-anchor="middle" fill="#000">a</text>
<text class="se" x="784.1" y="1423.4" font-size="27.2" text-anchor="middle" fill="#000">4</text>
<line x1="108" y1="1382.4" x2="917.8" y2="1382.4" stroke="#000" stroke-width="3.2" stroke-linecap="butt"/>
<text class="se" x="410.6" y="1473.9" font-size="33.3" text-anchor="start" fill="#000">AgNPs (mg L<tspan font-size="23" dy="-13.1">-1</tspan><tspan dy="13.1" font-size="33.3">)</tspan></text>
<text class="se" font-size="33" text-anchor="middle" transform="translate(32.8 1048.3) rotate(-90)">Apoptotic rate(%)</text>
<text class="se" x="551.5" y="1544.8" font-size="36" text-anchor="start" fill="#000">B</text>
<line x1="125.6" y1="1619.7" x2="125.6" y2="2340.1" stroke="#000" stroke-width="3.2" stroke-linecap="butt"/>
<line x1="112.5" y1="2338.5" x2="125.6" y2="2338.5" stroke="#000" stroke-width="3.2" stroke-linecap="butt"/>
<text class="se" x="102" y="2346.4" font-size="29.6" text-anchor="end" fill="#000">0</text>
<line x1="119.2" y1="2287.27" x2="125.6" y2="2287.27" stroke="#000" stroke-width="3.2" stroke-linecap="butt"/>
<line x1="112.5" y1="2236.04" x2="125.6" y2="2236.04" stroke="#000" stroke-width="3.2" stroke-linecap="butt"/>
<text class="se" x="102" y="2243.94" font-size="29.6" text-anchor="end" fill="#000">2</text>
<line x1="119.2" y1="2184.81" x2="125.6" y2="2184.81" stroke="#000" stroke-width="3.2" stroke-linecap="butt"/>
<line x1="112.5" y1="2133.58" x2="125.6" y2="2133.58" stroke="#000" stroke-width="3.2" stroke-linecap="butt"/>
<text class="se" x="102" y="2141.48" font-size="29.6" text-anchor="end" fill="#000">4</text>
<line x1="119.2" y1="2082.35" x2="125.6" y2="2082.35" stroke="#000" stroke-width="3.2" stroke-linecap="butt"/>
<line x1="112.5" y1="2031.12" x2="125.6" y2="2031.12" stroke="#000" stroke-width="3.2" stroke-linecap="butt"/>
<text class="se" x="102" y="2039.02" font-size="29.6" text-anchor="end" fill="#000">6</text>
<line x1="119.2" y1="1979.89" x2="125.6" y2="1979.89" stroke="#000" stroke-width="3.2" stroke-linecap="butt"/>
<line x1="112.5" y1="1928.66" x2="125.6" y2="1928.66" stroke="#000" stroke-width="3.2" stroke-linecap="butt"/>
<text class="se" x="102" y="1936.56" font-size="29.6" text-anchor="end" fill="#000">8</text>
<line x1="119.2" y1="1877.43" x2="125.6" y2="1877.43" stroke="#000" stroke-width="3.2" stroke-linecap="butt"/>
<line x1="112.5" y1="1826.2" x2="125.6" y2="1826.2" stroke="#000" stroke-width="3.2" stroke-linecap="butt"/>
<text class="se" x="102" y="1834.1" font-size="29.6" text-anchor="end" fill="#000">10</text>
<line x1="119.2" y1="1774.97" x2="125.6" y2="1774.97" stroke="#000" stroke-width="3.2" stroke-linecap="butt"/>
<line x1="112.5" y1="1723.74" x2="125.6" y2="1723.74" stroke="#000" stroke-width="3.2" stroke-linecap="butt"/>
<text class="se" x="102" y="1731.64" font-size="29.6" text-anchor="end" fill="#000">12</text>
<line x1="119.2" y1="1672.51" x2="125.6" y2="1672.51" stroke="#000" stroke-width="3.2" stroke-linecap="butt"/>
<line x1="112.5" y1="1621.28" x2="125.6" y2="1621.28" stroke="#000" stroke-width="3.2" stroke-linecap="butt"/>
<text class="se" x="102" y="1629.18" font-size="29.6" text-anchor="end" fill="#000">14</text>
<rect x="143.8" y="2248.6" width="28.4" height="89.9" fill="#fff"/>
<rect x="143.8" y="2248.6" width="28.4" height="89.9" fill="none" stroke="#000" stroke-width="3.4" stroke-linejoin="round"/>
<rect x="172.2" y="2072" width="28.4" height="266.5" fill="#fff"/>
<pattern id="q1" patternUnits="userSpaceOnUse" x="173.3" y="2073.1" width="19.9" height="19.9"><path d="M-19.9 19.9L19.9 -19.9M0 19.9L19.9 0M0 39.8L39.8 0" stroke="#000" stroke-width="3.0" fill="none"/></pattern>
<rect x="172.2" y="2072" width="28.4" height="266.5" fill="url(#q1)"/>
<rect x="172.2" y="2072" width="28.4" height="266.5" fill="none" stroke="#000" stroke-width="3.4" stroke-linejoin="round"/>
<rect x="200.6" y="2007.6" width="28.8" height="330.9" fill="#fff"/>
<pattern id="q2" patternUnits="userSpaceOnUse" x="200.6" y="2009.6" width="19.9" height="19.9"><path d="M-19.9 -19.9L19.9 19.9M0 -19.9L39.8 19.9M-19.9 0L19.9 39.8" stroke="#000" stroke-width="3.0" fill="none"/></pattern>
<rect x="200.6" y="2007.6" width="28.8" height="330.9" fill="url(#q2)"/>
<rect x="200.6" y="2007.6" width="28.8" height="330.9" fill="none" stroke="#000" stroke-width="3.4" stroke-linejoin="round"/>
<rect x="229.4" y="2079.3" width="28.2" height="259.2" fill="#fff"/>
<pattern id="q3" patternUnits="userSpaceOnUse" x="230.5" y="2080.4" width="19.9" height="19.9"><path d="M-19.9 19.9L19.9 -19.9M0 19.9L19.9 0M0 39.8L39.8 0" stroke="#000" stroke-width="3.0" fill="none"/></pattern>
<rect x="229.4" y="2079.3" width="28.2" height="259.2" fill="url(#q3)"/>
<pattern id="q4" patternUnits="userSpaceOnUse" x="229.4" y="2081.3" width="19.9" height="19.9"><path d="M-19.9 -19.9L19.9 19.9M0 -19.9L39.8 19.9M-19.9 0L19.9 39.8" stroke="#000" stroke-width="3.0" fill="none"/></pattern>
<rect x="229.4" y="2079.3" width="28.2" height="259.2" fill="url(#q4)"/>
<rect x="229.4" y="2079.3" width="28.2" height="259.2" fill="none" stroke="#000" stroke-width="3.4" stroke-linejoin="round"/>
<rect x="257.6" y="2227.3" width="28.4" height="111.2" fill="#fff"/>
<pattern id="q5" patternUnits="userSpaceOnUse" x="257.6" y="2228.9" width="20" height="14.07"><path d="M-1 0H21M-1 14.07H21" stroke="#000" stroke-width="3.0" fill="none"/></pattern>
<rect x="257.6" y="2227.3" width="28.4" height="111.2" fill="url(#q5)"/>
<rect x="257.6" y="2227.3" width="28.4" height="111.2" fill="none" stroke="#000" stroke-width="3.4" stroke-linejoin="round"/>
<rect x="321.8" y="2250.5" width="28.6" height="88" fill="#fff"/>
<rect x="321.8" y="2250.5" width="28.6" height="88" fill="none" stroke="#000" stroke-width="3.4" stroke-linejoin="round"/>
<rect x="350.4" y="2091" width="28.4" height="247.5" fill="#fff"/>
<pattern id="q6" patternUnits="userSpaceOnUse" x="351.5" y="2092.1" width="19.9" height="19.9"><path d="M-19.9 19.9L19.9 -19.9M0 19.9L19.9 0M0 39.8L39.8 0" stroke="#000" stroke-width="3.0" fill="none"/></pattern>
<rect x="350.4" y="2091" width="28.4" height="247.5" fill="url(#q6)"/>
<rect x="350.4" y="2091" width="28.4" height="247.5" fill="none" stroke="#000" stroke-width="3.4" stroke-linejoin="round"/>
<rect x="378.8" y="1989" width="28.8" height="349.5" fill="#fff"/>
<pattern id="q7" patternUnits="userSpaceOnUse" x="378.8" y="1991" width="19.9" height="19.9"><path d="M-19.9 -19.9L19.9 19.9M0 -19.9L39.8 19.9M-19.9 0L19.9 39.8" stroke="#000" stroke-width="3.0" fill="none"/></pattern>
<rect x="378.8" y="1989" width="28.8" height="349.5" fill="url(#q7)"/>
<rect x="378.8" y="1989" width="28.8" height="349.5" fill="none" stroke="#000" stroke-width="3.4" stroke-linejoin="round"/>
<rect x="407.6" y="2093.1" width="28.2" height="245.4" fill="#fff"/>
<pattern id="q8" patternUnits="userSpaceOnUse" x="408.7" y="2094.2" width="19.9" height="19.9"><path d="M-19.9 19.9L19.9 -19.9M0 19.9L19.9 0M0 39.8L39.8 0" stroke="#000" stroke-width="3.0" fill="none"/></pattern>
<rect x="407.6" y="2093.1" width="28.2" height="245.4" fill="url(#q8)"/>
<pattern id="q9" patternUnits="userSpaceOnUse" x="407.6" y="2095.1" width="19.9" height="19.9"><path d="M-19.9 -19.9L19.9 19.9M0 -19.9L39.8 19.9M-19.9 0L19.9 39.8" stroke="#000" stroke-width="3.0" fill="none"/></pattern>
<rect x="407.6" y="2093.1" width="28.2" height="245.4" fill="url(#q9)"/>
<rect x="407.6" y="2093.1" width="28.2" height="245.4" fill="none" stroke="#000" stroke-width="3.4" stroke-linejoin="round"/>
<rect x="435.8" y="2235.5" width="28.5" height="103" fill="#fff"/>
<pattern id="q10" patternUnits="userSpaceOnUse" x="435.8" y="2237.1" width="20" height="14.07"><path d="M-1 0H21M-1 14.07H21" stroke="#000" stroke-width="3.0" fill="none"/></pattern>
<rect x="435.8" y="2235.5" width="28.5" height="103" fill="url(#q10)"/>
<rect x="435.8" y="2235.5" width="28.5" height="103" fill="none" stroke="#000" stroke-width="3.4" stroke-linejoin="round"/>
<rect x="677.1" y="2212.2" width="29.1" height="126.3" fill="#fff"/>
<rect x="677.1" y="2212.2" width="29.1" height="126.3" fill="none" stroke="#000" stroke-width="3.4" stroke-linejoin="round"/>
<rect x="706.2" y="2098.3" width="29.2" height="240.2" fill="#fff"/>
<pattern id="q11" patternUnits="userSpaceOnUse" x="707.3" y="2099.4" width="19.9" height="19.9"><path d="M-19.9 19.9L19.9 -19.9M0 19.9L19.9 0M0 39.8L39.8 0" stroke="#000" stroke-width="3.0" fill="none"/></pattern>
<rect x="706.2" y="2098.3" width="29.2" height="240.2" fill="url(#q11)"/>
<rect x="706.2" y="2098.3" width="29.2" height="240.2" fill="none" stroke="#000" stroke-width="3.4" stroke-linejoin="round"/>
<rect x="735.4" y="1857.6" width="28.9" height="480.9" fill="#fff"/>
<pattern id="q12" patternUnits="userSpaceOnUse" x="735.4" y="1859.6" width="19.9" height="19.9"><path d="M-19.9 -19.9L19.9 19.9M0 -19.9L39.8 19.9M-19.9 0L19.9 39.8" stroke="#000" stroke-width="3.0" fill="none"/></pattern>
<rect x="735.4" y="1857.6" width="28.9" height="480.9" fill="url(#q12)"/>
<rect x="735.4" y="1857.6" width="28.9" height="480.9" fill="none" stroke="#000" stroke-width="3.4" stroke-linejoin="round"/>
<rect x="764.3" y="1993.8" width="28" height="344.7" fill="#fff"/>
<pattern id="q13" patternUnits="userSpaceOnUse" x="765.4" y="1994.9" width="19.9" height="19.9"><path d="M-19.9 19.9L19.9 -19.9M0 19.9L19.9 0M0 39.8L39.8 0" stroke="#000" stroke-width="3.0" fill="none"/></pattern>
<rect x="764.3" y="1993.8" width="28" height="344.7" fill="url(#q13)"/>
<pattern id="q14" patternUnits="userSpaceOnUse" x="764.3" y="1995.8" width="19.9" height="19.9"><path d="M-19.9 -19.9L19.9 19.9M0 -19.9L39.8 19.9M-19.9 0L19.9 39.8" stroke="#000" stroke-width="3.0" fill="none"/></pattern>
<rect x="764.3" y="1993.8" width="28" height="344.7" fill="url(#q14)"/>
<rect x="764.3" y="1993.8" width="28" height="344.7" fill="none" stroke="#000" stroke-width="3.4" stroke-linejoin="round"/>
<rect x="792.3" y="2208.2" width="28.6" height="130.3" fill="#fff"/>
<pattern id="q15" patternUnits="userSpaceOnUse" x="792.3" y="2209.8" width="20" height="14.07"><path d="M-1 0H21M-1 14.07H21" stroke="#000" stroke-width="3.0" fill="none"/></pattern>
<rect x="792.3" y="2208.2" width="28.6" height="130.3" fill="url(#q15)"/>
<rect x="792.3" y="2208.2" width="28.6" height="130.3" fill="none" stroke="#000" stroke-width="3.4" stroke-linejoin="round"/>
<rect x="854.7" y="2208.2" width="29.2" height="130.3" fill="#fff"/>
<rect x="854.7" y="2208.2" width="29.2" height="130.3" fill="none" stroke="#000" stroke-width="3.4" stroke-linejoin="round"/>
<rect x="883.9" y="2099" width="29.1" height="239.5" fill="#fff"/>
<pattern id="q16" patternUnits="userSpaceOnUse" x="885" y="2100.1" width="19.9" height="19.9"><path d="M-19.9 19.9L19.9 -19.9M0 19.9L19.9 0M0 39.8L39.8 0" stroke="#000" stroke-width="3.0" fill="none"/></pattern>
<rect x="883.9" y="2099" width="29.1" height="239.5" fill="url(#q16)"/>
<rect x="883.9" y="2099" width="29.1" height="239.5" fill="none" stroke="#000" stroke-width="3.4" stroke-linejoin="round"/>
<rect x="913" y="1854.7" width="28.7" height="483.8" fill="#fff"/>
<pattern id="q17" patternUnits="userSpaceOnUse" x="913" y="1856.7" width="19.9" height="19.9"><path d="M-19.9 -19.9L19.9 19.9M0 -19.9L39.8 19.9M-19.9 0L19.9 39.8" stroke="#000" stroke-width="3.0" fill="none"/></pattern>
<rect x="913" y="1854.7" width="28.7" height="483.8" fill="url(#q17)"/>
<rect x="913" y="1854.7" width="28.7" height="483.8" fill="none" stroke="#000" stroke-width="3.4" stroke-linejoin="round"/>
<rect x="941.7" y="2224.6" width="28.4" height="113.9" fill="#fff"/>
<pattern id="q18" patternUnits="userSpaceOnUse" x="942.8" y="2225.7" width="19.9" height="19.9"><path d="M-19.9 19.9L19.9 -19.9M0 19.9L19.9 0M0 39.8L39.8 0" stroke="#000" stroke-width="3.0" fill="none"/></pattern>
<rect x="941.7" y="2224.6" width="28.4" height="113.9" fill="url(#q18)"/>
<pattern id="q19" patternUnits="userSpaceOnUse" x="941.7" y="2226.6" width="19.9" height="19.9"><path d="M-19.9 -19.9L19.9 19.9M0 -19.9L39.8 19.9M-19.9 0L19.9 39.8" stroke="#000" stroke-width="3.0" fill="none"/></pattern>
<rect x="941.7" y="2224.6" width="28.4" height="113.9" fill="url(#q19)"/>
<rect x="941.7" y="2224.6" width="28.4" height="113.9" fill="none" stroke="#000" stroke-width="3.4" stroke-linejoin="round"/>
<rect x="970.1" y="2204.9" width="29.1" height="133.6" fill="#fff"/>
<pattern id="q20" patternUnits="userSpaceOnUse" x="970.1" y="2206.5" width="20" height="14.07"><path d="M-1 0H21M-1 14.07H21" stroke="#000" stroke-width="3.0" fill="none"/></pattern>
<rect x="970.1" y="2204.9" width="29.1" height="133.6" fill="url(#q20)"/>
<rect x="970.1" y="2204.9" width="29.1" height="133.6" fill="none" stroke="#000" stroke-width="3.4" stroke-linejoin="round"/>
<line x1="157.7" y1="2235" x2="157.7" y2="2261" stroke="#000" stroke-width="2.7" stroke-linecap="butt"/>
<line x1="151.2" y1="2235" x2="164.2" y2="2235" stroke="#000" stroke-width="2.7" stroke-linecap="round"/>
<line x1="151.2" y1="2261" x2="164.2" y2="2261" stroke="#000" stroke-width="2.7" stroke-linecap="round"/>
<line x1="186.3" y1="2021" x2="186.3" y2="2123" stroke="#000" stroke-width="2.7" stroke-linecap="butt"/>
<line x1="179.8" y1="2021" x2="192.8" y2="2021" stroke="#000" stroke-width="2.7" stroke-linecap="round"/>
<line x1="179.8" y1="2123" x2="192.8" y2="2123" stroke="#000" stroke-width="2.7" stroke-linecap="round"/>
<line x1="215.4" y1="1933" x2="215.4" y2="2082.2" stroke="#000" stroke-width="2.7" stroke-linecap="butt"/>
<line x1="208.9" y1="1933" x2="221.9" y2="1933" stroke="#000" stroke-width="2.7" stroke-linecap="round"/>
<line x1="208.9" y1="2082.2" x2="221.9" y2="2082.2" stroke="#000" stroke-width="2.7" stroke-linecap="round"/>
<line x1="243.8" y1="2034.9" x2="243.8" y2="2123.7" stroke="#000" stroke-width="2.7" stroke-linecap="butt"/>
<line x1="237.3" y1="2034.9" x2="250.3" y2="2034.9" stroke="#000" stroke-width="2.7" stroke-linecap="round"/>
<line x1="237.3" y1="2123.7" x2="250.3" y2="2123.7" stroke="#000" stroke-width="2.7" stroke-linecap="round"/>
<line x1="272.3" y1="2213.7" x2="272.3" y2="2240.1" stroke="#000" stroke-width="2.7" stroke-linecap="butt"/>
<line x1="265.8" y1="2213.7" x2="278.8" y2="2213.7" stroke="#000" stroke-width="2.7" stroke-linecap="round"/>
<line x1="265.8" y1="2240.1" x2="278.8" y2="2240.1" stroke="#000" stroke-width="2.7" stroke-linecap="round"/>
<text class="se" x="158" y="2230" font-size="27.5" text-anchor="middle" fill="#000">c</text>
<text class="se" x="186" y="2013.8" font-size="27.5" text-anchor="middle" fill="#000">b</text>
<text class="se" x="215" y="1927.2" font-size="27.5" text-anchor="middle" fill="#000">a</text>
<text class="se" x="244.9" y="2027.3" font-size="27.5" text-anchor="middle" fill="#000">b</text>
<text class="se" x="271.5" y="2208.3" font-size="27.5" text-anchor="middle" fill="#000">c</text>
<line x1="336" y1="2237" x2="336" y2="2264.3" stroke="#000" stroke-width="2.7" stroke-linecap="butt"/>
<line x1="329.5" y1="2237" x2="342.5" y2="2237" stroke="#000" stroke-width="2.7" stroke-linecap="round"/>
<line x1="329.5" y1="2264.3" x2="342.5" y2="2264.3" stroke="#000" stroke-width="2.7" stroke-linecap="round"/>
<line x1="364.5" y1="2045" x2="364.5" y2="2137" stroke="#000" stroke-width="2.7" stroke-linecap="butt"/>
<line x1="358" y1="2045" x2="371" y2="2045" stroke="#000" stroke-width="2.7" stroke-linecap="round"/>
<line x1="358" y1="2137" x2="371" y2="2137" stroke="#000" stroke-width="2.7" stroke-linecap="round"/>
<line x1="393.2" y1="1956" x2="393.2" y2="2023" stroke="#000" stroke-width="2.7" stroke-linecap="butt"/>
<line x1="386.7" y1="1956" x2="399.7" y2="1956" stroke="#000" stroke-width="2.7" stroke-linecap="round"/>
<line x1="386.7" y1="2023" x2="399.7" y2="2023" stroke="#000" stroke-width="2.7" stroke-linecap="round"/>
<line x1="421.7" y1="2058" x2="421.7" y2="2128" stroke="#000" stroke-width="2.7" stroke-linecap="butt"/>
<line x1="415.2" y1="2058" x2="428.2" y2="2058" stroke="#000" stroke-width="2.7" stroke-linecap="round"/>
<line x1="415.2" y1="2128" x2="428.2" y2="2128" stroke="#000" stroke-width="2.7" stroke-linecap="round"/>
<line x1="450.1" y1="2222.8" x2="450.1" y2="2248.8" stroke="#000" stroke-width="2.7" stroke-linecap="butt"/>
<line x1="443.6" y1="2222.8" x2="456.6" y2="2222.8" stroke="#000" stroke-width="2.7" stroke-linecap="round"/>
<line x1="443.6" y1="2248.8" x2="456.6" y2="2248.8" stroke="#000" stroke-width="2.7" stroke-linecap="round"/>
<text class="se" x="337" y="2234.6" font-size="27.5" text-anchor="middle" fill="#000">c</text>
<text class="se" x="364" y="2037" font-size="27.5" text-anchor="middle" fill="#000">b</text>
<text class="se" x="393" y="1946.3" font-size="27.5" text-anchor="middle" fill="#000">a</text>
<text class="se" x="423" y="2051" font-size="27.5" text-anchor="middle" fill="#000">b</text>
<text class="se" x="450" y="2219.2" font-size="27.5" text-anchor="middle" fill="#000">c</text>
<line x1="692" y1="2182.7" x2="692" y2="2242.8" stroke="#000" stroke-width="2.7" stroke-linecap="butt"/>
<line x1="685.5" y1="2182.7" x2="698.5" y2="2182.7" stroke="#000" stroke-width="2.7" stroke-linecap="round"/>
<line x1="685.5" y1="2242.8" x2="698.5" y2="2242.8" stroke="#000" stroke-width="2.7" stroke-linecap="round"/>
<line x1="720.8" y1="2047.8" x2="720.8" y2="2148.2" stroke="#000" stroke-width="2.7" stroke-linecap="butt"/>
<line x1="714.3" y1="2047.8" x2="727.3" y2="2047.8" stroke="#000" stroke-width="2.7" stroke-linecap="round"/>
<line x1="714.3" y1="2148.2" x2="727.3" y2="2148.2" stroke="#000" stroke-width="2.7" stroke-linecap="round"/>
<line x1="749.2" y1="1775.3" x2="749.2" y2="1940.2" stroke="#000" stroke-width="2.7" stroke-linecap="butt"/>
<line x1="742.7" y1="1775.3" x2="755.7" y2="1775.3" stroke="#000" stroke-width="2.7" stroke-linecap="round"/>
<line x1="742.7" y1="1940.2" x2="755.7" y2="1940.2" stroke="#000" stroke-width="2.7" stroke-linecap="round"/>
<line x1="777.2" y1="1977.7" x2="777.2" y2="2009.4" stroke="#000" stroke-width="2.7" stroke-linecap="butt"/>
<line x1="770.7" y1="1977.7" x2="783.7" y2="1977.7" stroke="#000" stroke-width="2.7" stroke-linecap="round"/>
<line x1="770.7" y1="2009.4" x2="783.7" y2="2009.4" stroke="#000" stroke-width="2.7" stroke-linecap="round"/>
<line x1="806.3" y1="2183.8" x2="806.3" y2="2231.1" stroke="#000" stroke-width="2.7" stroke-linecap="butt"/>
<line x1="799.8" y1="2183.8" x2="812.8" y2="2183.8" stroke="#000" stroke-width="2.7" stroke-linecap="round"/>
<line x1="799.8" y1="2231.1" x2="812.8" y2="2231.1" stroke="#000" stroke-width="2.7" stroke-linecap="round"/>
<text class="se" x="692.5" y="2178.4" font-size="27.5" text-anchor="middle" fill="#000">d</text>
<text class="se" x="721" y="2039.2" font-size="27.5" text-anchor="middle" fill="#000">c</text>
<text class="se" x="749" y="1766.6" font-size="27.5" text-anchor="middle" fill="#000">a</text>
<text class="se" x="777" y="1970" font-size="27.5" text-anchor="middle" fill="#000">b</text>
<text class="se" x="806.5" y="2178.4" font-size="27.5" text-anchor="middle" fill="#000">d</text>
<line x1="869.3" y1="2183.1" x2="869.3" y2="2231.9" stroke="#000" stroke-width="2.7" stroke-linecap="butt"/>
<line x1="862.8" y1="2183.1" x2="875.8" y2="2183.1" stroke="#000" stroke-width="2.7" stroke-linecap="round"/>
<line x1="862.8" y1="2231.9" x2="875.8" y2="2231.9" stroke="#000" stroke-width="2.7" stroke-linecap="round"/>
<line x1="898.6" y1="2053.9" x2="898.6" y2="2145.6" stroke="#000" stroke-width="2.7" stroke-linecap="butt"/>
<line x1="892.1" y1="2053.9" x2="905.1" y2="2053.9" stroke="#000" stroke-width="2.7" stroke-linecap="round"/>
<line x1="892.1" y1="2145.6" x2="905.1" y2="2145.6" stroke="#000" stroke-width="2.7" stroke-linecap="round"/>
<line x1="927.5" y1="1797.5" x2="927.5" y2="1911.5" stroke="#000" stroke-width="2.7" stroke-linecap="butt"/>
<line x1="921" y1="1797.5" x2="934" y2="1797.5" stroke="#000" stroke-width="2.7" stroke-linecap="round"/>
<line x1="921" y1="1911.5" x2="934" y2="1911.5" stroke="#000" stroke-width="2.7" stroke-linecap="round"/>
<line x1="955.9" y1="2211.8" x2="955.9" y2="2237.7" stroke="#000" stroke-width="2.7" stroke-linecap="butt"/>
<line x1="949.4" y1="2211.8" x2="962.4" y2="2211.8" stroke="#000" stroke-width="2.7" stroke-linecap="round"/>
<line x1="949.4" y1="2237.7" x2="962.4" y2="2237.7" stroke="#000" stroke-width="2.7" stroke-linecap="round"/>
<line x1="984.7" y1="2179.5" x2="984.7" y2="2229.3" stroke="#000" stroke-width="2.7" stroke-linecap="butt"/>
<line x1="978.2" y1="2179.5" x2="991.2" y2="2179.5" stroke="#000" stroke-width="2.7" stroke-linecap="round"/>
<line x1="978.2" y1="2229.3" x2="991.2" y2="2229.3" stroke="#000" stroke-width="2.7" stroke-linecap="round"/>
<text class="se" x="869.5" y="2174" font-size="27.5" text-anchor="middle" fill="#000">c</text>
<text class="se" x="898.5" y="2046" font-size="27.5" text-anchor="middle" fill="#000">b</text>
<text class="se" x="927" y="1788.4" font-size="27.5" text-anchor="middle" fill="#000">a</text>
<text class="se" x="956.5" y="2205.7" font-size="27.5" text-anchor="middle" fill="#000">c</text>
<text class="se" x="984.5" y="2168.5" font-size="27.5" text-anchor="middle" fill="#000">c</text>
<line x1="111.9" y1="2338.5" x2="1016.8" y2="2338.5" stroke="#000" stroke-width="3.2" stroke-linecap="butt"/>
<line x1="214.6" y1="2338.5" x2="214.6" y2="2351.5" stroke="#000" stroke-width="3.2" stroke-linecap="butt"/>
<line x1="392.75" y1="2338.5" x2="392.75" y2="2351.5" stroke="#000" stroke-width="3.2" stroke-linecap="butt"/>
<line x1="570.9" y1="2338.5" x2="570.9" y2="2351.5" stroke="#000" stroke-width="3.2" stroke-linecap="butt"/>
<line x1="749.05" y1="2338.5" x2="749.05" y2="2351.5" stroke="#000" stroke-width="3.2" stroke-linecap="butt"/>
<line x1="927.2" y1="2338.5" x2="927.2" y2="2351.5" stroke="#000" stroke-width="3.2" stroke-linecap="butt"/>
<line x1="125.52" y1="2338.5" x2="125.52" y2="2345.5" stroke="#000" stroke-width="3.2" stroke-linecap="butt"/>
<line x1="303.67" y1="2338.5" x2="303.67" y2="2345.5" stroke="#000" stroke-width="3.2" stroke-linecap="butt"/>
<line x1="481.82" y1="2338.5" x2="481.82" y2="2345.5" stroke="#000" stroke-width="3.2" stroke-linecap="butt"/>
<line x1="659.97" y1="2338.5" x2="659.97" y2="2345.5" stroke="#000" stroke-width="3.2" stroke-linecap="butt"/>
<line x1="838.12" y1="2338.5" x2="838.12" y2="2345.5" stroke="#000" stroke-width="3.2" stroke-linecap="butt"/>
<line x1="1016.27" y1="2338.5" x2="1016.27" y2="2345.5" stroke="#000" stroke-width="3.2" stroke-linecap="butt"/>
<text class="se" x="214" y="2384.7" font-size="29.6" text-anchor="middle" fill="#000">caspase-3</text>
<text class="se" x="392.8" y="2384.7" font-size="29.6" text-anchor="middle" fill="#000">caspase-9</text>
<text class="se" x="748.8" y="2384.7" font-size="29.6" text-anchor="middle" fill="#000">caspase-3</text>
<text class="se" x="926.8" y="2384.7" font-size="29.6" text-anchor="middle" fill="#000">caspase-9</text>
<text class="se" x="298.7" y="2416.5" font-size="29.2" text-anchor="middle" fill="#000">72</text>
<text class="se" x="835" y="2416.5" font-size="29.2" text-anchor="middle" fill="#000">96</text>
<text class="se" x="509" y="2447" font-size="37.3" text-anchor="start" fill="#000">Time (h)</text>
<text class="se" x="551" y="2491" font-size="37.3" text-anchor="start" fill="#000">C</text>
<text class="se" font-size="30.5" text-anchor="middle" transform="translate(58.7 1966.3) rotate(-90)">RFSUPL/RFUCK</text>
<rect x="857.2" y="1553.2" width="201.6" height="191.4" fill="#fff" stroke="#000" stroke-width="1.9"/>
<rect x="861.7" y="1561" width="59.7" height="29.7" fill="#fff"/>
<rect x="861.7" y="1561" width="59.7" height="29.7" fill="none" stroke="#000" stroke-width="3.3" stroke-linejoin="round"/>
<text class="se" x="929.5" y="1583.7" font-size="26.6" text-anchor="start" fill="#000">0 mg L<tspan font-size="18" dy="-10.5">-1</tspan></text>
<rect x="861.7" y="1598.55" width="59.7" height="29.7" fill="#fff"/>
<pattern id="q21" patternUnits="userSpaceOnUse" x="862.8" y="1599.65" width="19.9" height="19.9"><path d="M-19.9 19.9L19.9 -19.9M0 19.9L19.9 0M0 39.8L39.8 0" stroke="#000" stroke-width="3.0" fill="none"/></pattern>
<rect x="861.7" y="1598.55" width="59.7" height="29.7" fill="url(#q21)"/>
<rect x="861.7" y="1598.55" width="59.7" height="29.7" fill="none" stroke="#000" stroke-width="3.3" stroke-linejoin="round"/>
<text class="se" x="929.5" y="1621.28" font-size="26.6" text-anchor="start" fill="#000">0.01 mg L<tspan font-size="18" dy="-10.5">-1</tspan></text>
<rect x="861.7" y="1636.1" width="59.7" height="29.7" fill="#fff"/>
<pattern id="q22" patternUnits="userSpaceOnUse" x="861.7" y="1638.1" width="19.9" height="19.9"><path d="M-19.9 -19.9L19.9 19.9M0 -19.9L39.8 19.9M-19.9 0L19.9 39.8" stroke="#000" stroke-width="3.0" fill="none"/></pattern>
<rect x="861.7" y="1636.1" width="59.7" height="29.7" fill="url(#q22)"/>
<rect x="861.7" y="1636.1" width="59.7" height="29.7" fill="none" stroke="#000" stroke-width="3.3" stroke-linejoin="round"/>
<text class="se" x="929.5" y="1658.86" font-size="26.6" text-anchor="start" fill="#000">1 mg L<tspan font-size="18" dy="-10.5">-1</tspan></text>
<rect x="861.7" y="1673.65" width="59.7" height="29.7" fill="#fff"/>
<pattern id="q23" patternUnits="userSpaceOnUse" x="862.8" y="1674.75" width="19.9" height="19.9"><path d="M-19.9 19.9L19.9 -19.9M0 19.9L19.9 0M0 39.8L39.8 0" stroke="#000" stroke-width="3.0" fill="none"/></pattern>
<rect x="861.7" y="1673.65" width="59.7" height="29.7" fill="url(#q23)"/>
<pattern id="q24" patternUnits="userSpaceOnUse" x="861.7" y="1675.65" width="19.9" height="19.9"><path d="M-19.9 -19.9L19.9 19.9M0 -19.9L39.8 19.9M-19.9 0L19.9 39.8" stroke="#000" stroke-width="3.0" fill="none"/></pattern>
<rect x="861.7" y="1673.65" width="59.7" height="29.7" fill="url(#q24)"/>
<rect x="861.7" y="1673.65" width="59.7" height="29.7" fill="none" stroke="#000" stroke-width="3.3" stroke-linejoin="round"/>
<text class="se" x="929.5" y="1696.44" font-size="26.6" text-anchor="start" fill="#000">2 mg L<tspan font-size="18" dy="-10.5">-1</tspan></text>
<rect x="861.7" y="1711.2" width="59.7" height="29.7" fill="#fff"/>
<pattern id="q25" patternUnits="userSpaceOnUse" x="861.7" y="1712.8" width="20" height="14.07"><path d="M-1 0H21M-1 14.07H21" stroke="#000" stroke-width="3.0" fill="none"/></pattern>
<rect x="861.7" y="1711.2" width="59.7" height="29.7" fill="url(#q25)"/>
<rect x="861.7" y="1711.2" width="59.7" height="29.7" fill="none" stroke="#000" stroke-width="3.3" stroke-linejoin="round"/>
<text class="se" x="929.5" y="1734.02" font-size="26.6" text-anchor="start" fill="#000">4 mg L<tspan font-size="18" dy="-10.5">-1</tspan></text>
</svg>
</body></html>
